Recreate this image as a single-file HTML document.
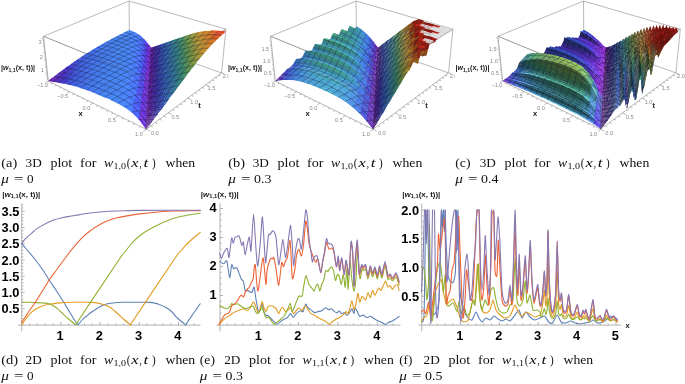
<!DOCTYPE html><html><head><meta charset="utf-8"><style>
html,body{margin:0;padding:0;background:#fff;}
body{width:685px;height:384px;overflow:hidden;position:relative;}
svg{position:absolute;left:0;top:0;will-change:transform}
.m{stroke:#141430;stroke-opacity:.62;stroke-width:.55;fill:none}
.bx{stroke:#9a9a9a;stroke-width:.7;fill:none}
.bf{stroke:#555;stroke-width:.6;fill:none;stroke-opacity:.45}
.tk{font:5.6px "Liberation Sans",sans-serif;fill:#888}
.al{font:bold 7.5px "Liberation Sans",sans-serif;fill:#222}
.zl{font:bold 7.2px "Liberation Sans",sans-serif;fill:#1a1a1a}
.cap{font-family:"Liberation Serif",serif;fill:#111}
.ax{stroke:#a0a0a0;stroke-width:.8;fill:none}
.tl{font:bold 12.8px "Liberation Sans",sans-serif;fill:#000}
.cv{fill:none;stroke-width:1.1;stroke-linejoin:round;stroke-linecap:round}
</style></head><body>
<svg width="685" height="384" viewBox="0 0 685 384">
<defs><clipPath id="ca"><rect x="0" y="0" width="228.5" height="145"/></clipPath>
<clipPath id="cb"><rect x="227" y="0" width="228" height="145"/></clipPath>
<clipPath id="cc"><rect x="454" y="0" width="231" height="145"/></clipPath></defs>
<g clip-path="url(#ca)"><path d="M48.3 81.1L129.4 40.0M129.4 40.0L221.5 72.9M129.4 40.0L129.1 1.0M43.6 36.3L129.1 1.0M129.1 1.0L225.9 29.2M43.6 36.3L146.8 78.6M146.8 78.6L225.9 29.2M146.2 129.3L146.8 78.6" class="bx"/>
<g transform="scale(0.333333)"><path d="M378 95l5 2 10-5-4-2z" fill="#4685f4"/>
<path d="M383 96l5 3 9-5-5-3z" fill="#4785f5"/>
<path d="M387 98l5 3 9-6-5-2z" fill="#4786f7"/>
<path d="M392 100l5 3 8-6-5-2z" fill="#4885fa"/>
<path d="M369 99l6 2 10-5-5-2z" fill="#4684f2"/>
<path d="M396 102l5 3 8-6-5-3z" fill="#4885fc"/>
<path d="M374 101l6 2 9-5-5-3z" fill="#4685f3"/>
<path d="M401 104l5 3 7-6-5-3z" fill="#4984ff"/>
<path d="M379 103l6 2 9-6-5-2z" fill="#4685f4"/>
<path d="M405 106l6 3 6-5-5-3z" fill="#4a82ff"/>
<path d="M361 104l5 2 10-6-5-2z" fill="#4583f0"/>
<path d="M384 104l6 3 8-6-5-2z" fill="#4786f6"/>
<path d="M410 109l5 3 6-5-5-4z" fill="#4a7fff"/>
<path d="M414 111l6 5 5-6-5-4z" fill="#4b7aff"/>
<path d="M366 105l6 3 9-6-5-2z" fill="#4584f1"/>
<path d="M389 106l6 3 8-6-6-2z" fill="#4786f9"/>
<path d="M419 115l5 4 5-5-5-5z" fill="#4b73ff"/>
<path d="M394 108l6 4 7-6-5-3z" fill="#4885fc"/>
<path d="M371 107l6 3 9-6-5-3z" fill="#4685f2"/>
<path d="M423 118l6 5 4-5-5-5z" fill="#4b69ff"/>
<path d="M352 108l6 3 10-6-6-3z" fill="#4582ef"/>
<path d="M428 122l6 6 3-6-5-5z" fill="#4f5af9"/>
<path d="M399 111l6 3 7-6-6-3z" fill="#4984ff"/>
<path d="M433 127l6 6 2-6-5-6z" fill="#5446ef"/>
<path d="M377 109l6 3 8-6-5-3z" fill="#4685f4"/>
<path d="M437 132l6 7 2-7-5-6z" fill="#603ce6"/>
<path d="M442 138l6 7 2-8-6-6z" fill="#6e32de"/>
<path d="M357 110l7 3 9-6-6-3z" fill="#4583f0"/>
<path d="M404 113l6 4 6-6-5-4z" fill="#4a82ff"/>
<path d="M447 144l5 8 2-9-6-7z" fill="#882dd8"/>
<path d="M382 111l7 3 7-6-6-3z" fill="#4785f6"/>
<path d="M409 116l7 4 5-6-6-4z" fill="#4a7eff"/>
<path d="M363 112l7 3 9-6-6-3z" fill="#4584f1"/>
<path d="M342 113l7 3 10-6-6-3z" fill="#4481ee"/>
<path d="M388 113l6 4 7-7-6-3z" fill="#4786f9"/>
<path d="M415 119l6 5 4-6-5-5z" fill="#4b78ff"/>
<path d="M420 123l6 5 4-6-6-5z" fill="#4b6fff"/>
<path d="M369 114l7 3 8-6-6-3z" fill="#4685f2"/>
<path d="M393 116l7 3 6-6-6-4z" fill="#4885fc"/>
<path d="M451 151l18-5 1-9-18 6z" fill="#4c2091"/>
<path d="M349 115l7 3 9-6-6-3z" fill="#4582ef"/>
<path d="M425 127l6 6 4-6-6-6z" fill="#4c62fd"/>
<path d="M430 132l6 7 3-7-6-6z" fill="#524ef3"/>
<path d="M399 118l7 4 5-6-6-4z" fill="#4984ff"/>
<path d="M375 116l7 3 8-6-7-3z" fill="#4685f4"/>
<path d="M435 138l7 7 2-7-6-7z" fill="#5d3fe9"/>
<path d="M333 118l8 3 10-6-7-3z" fill="#447fee"/>
<path d="M355 117l7 3 9-6-6-3z" fill="#4583f0"/>
<path d="M440 144l7 8 2-8-6-7z" fill="#6c34df"/>
<path d="M405 121l6 4 6-6-7-4z" fill="#4a81ff"/>
<path d="M446 151l6 8 1-9-6-7z" fill="#862dd9"/>
<path d="M381 118l7 4 7-7-6-3z" fill="#4785f6"/>
<path d="M410 124l7 5 5-6-7-5z" fill="#4b7cff"/>
<path d="M362 119l7 3 8-6-7-3z" fill="#4584f1"/>
<path d="M340 120l8 3 9-6-7-3z" fill="#4481ee"/>
<path d="M387 121l7 3 7-6-7-4z" fill="#4885f9"/>
<path d="M416 128l7 6 4-7-6-5z" fill="#4b74ff"/>
<path d="M324 123l8 3 10-6-8-3z" fill="#447ded"/>
<path d="M368 121l8 4 7-7-7-3z" fill="#4685f2"/>
<path d="M422 133l7 6 3-7-6-6z" fill="#4b69ff"/>
<path d="M451 159l17-5 1-9-18 5z" fill="#4d2091"/>
<path d="M347 122l8 3 9-6-8-3z" fill="#4582ef"/>
<path d="M393 124l8 3 6-6-7-4z" fill="#4885fd"/>
<path d="M467 146l18-5 1-9-18 6z" fill="#34349d"/>
<path d="M427 138l7 7 3-7-6-7z" fill="#5055f6"/>
<path d="M433 144l7 8 2-8-6-7z" fill="#5941eb"/>
<path d="M375 124l7 3 7-7-7-3z" fill="#4685f4"/>
<path d="M400 126l7 5 5-7-7-4z" fill="#4983ff"/>
<path d="M331 125l8 3 10-6-8-3z" fill="#447fee"/>
<path d="M439 151l7 8 2-8-7-8z" fill="#6a35e1"/>
<path d="M354 124l8 4 8-7-7-3z" fill="#4583f0"/>
<path d="M444 158l8 9 1-9-7-8z" fill="#852dd9"/>
<path d="M406 130l7 5 5-7-7-5z" fill="#4a80ff"/>
<path d="M381 126l8 4 6-7-7-3z" fill="#4786f7"/>
<path d="M314 128l9 3 10-6-8-3z" fill="#447bec"/>
<path d="M338 128l9 3 9-7-8-3z" fill="#4481ee"/>
<path d="M361 127l8 3 8-7-8-3z" fill="#4584f1"/>
<path d="M412 134l8 5 4-6-7-6z" fill="#4b79ff"/>
<path d="M388 129l8 4 6-7-8-4z" fill="#4885fa"/>
<path d="M418 138l8 7 3-7-7-6z" fill="#4b6eff"/>
<path d="M322 131l9 3 9-7-8-3z" fill="#447ded"/>
<path d="M450 167l17-5 1-9-17 5z" fill="#4e1f91"/>
<path d="M368 129l8 4 7-7-7-3z" fill="#4685f3"/>
<path d="M346 130l8 3 9-7-8-3z" fill="#4582ef"/>
<path d="M466 154l18-5 1-9-18 5z" fill="#35329c"/>
<path d="M425 144l7 7 3-7-7-7z" fill="#4e5cfa"/>
<path d="M395 132l7 4 6-7-8-4z" fill="#4984fe"/>
<path d="M305 134l9 3 10-7-9-3z" fill="#4379ec"/>
<path d="M431 150l8 8 2-7-7-8z" fill="#5644ed"/>
<path d="M483 141l19-6 1-9-18 6z" fill="#2f53a6"/>
<path d="M437 157l8 10 2-9-8-8z" fill="#6737e2"/>
<path d="M375 132l8 4 7-7-8-4z" fill="#4685f5"/>
<path d="M330 133l9 3 9-7-8-3z" fill="#447fee"/>
<path d="M401 135l8 5 5-7-7-4z" fill="#4a82ff"/>
<path d="M353 132l9 4 8-7-8-3z" fill="#4583f0"/>
<path d="M443 166l8 9 1-9-7-9z" fill="#832ed9"/>
<path d="M313 136l9 3 10-6-9-4z" fill="#447bec"/>
<path d="M408 139l8 6 4-7-7-5z" fill="#4b7cff"/>
<path d="M382 135l9 4 6-7-8-4z" fill="#4786f8"/>
<path d="M338 135l9 4 8-7-8-3z" fill="#4581ee"/>
<path d="M361 135l9 4 7-7-8-4z" fill="#4584f1"/>
<path d="M295 139l9 4 11-7-9-3z" fill="#4376eb"/>
<path d="M415 144l8 7 4-7-8-7z" fill="#4b72ff"/>
<path d="M450 175l16-5 1-9-17 5z" fill="#4f1f91"/>
<path d="M389 138l9 4 5-7-8-4z" fill="#4885fc"/>
<path d="M465 162l17-5 1-9-17 5z" fill="#362f9b"/>
<path d="M321 139l10 3 9-7-9-3z" fill="#447eed"/>
<path d="M422 150l8 7 3-7-8-7z" fill="#4c63fd"/>
<path d="M369 138l9 4 6-8-8-3z" fill="#4685f3"/>
<path d="M482 149l18-5 1-10-18 6z" fill="#2f50a6"/>
<path d="M346 138l9 4 8-7-9-4z" fill="#4582ef"/>
<path d="M429 156l8 9 2-7-7-9z" fill="#5448f0"/>
<path d="M304 142l9 3 10-7-9-3z" fill="#4379ec"/>
<path d="M397 141l8 5 5-7-8-5z" fill="#4983ff"/>
<path d="M435 164l9 10 2-8-8-10z" fill="#6539e3"/>
<path d="M500 135l19-6 2-9-19 6z" fill="#30699a"/>
<path d="M285 145l10 4 11-8-10-3z" fill="#4372ea"/>
<path d="M442 173l9 11 1-10-8-9z" fill="#822eda"/>
<path d="M330 141l9 4 9-7-9-4z" fill="#4480ee"/>
<path d="M376 141l9 4 6-8-8-3z" fill="#4785f6"/>
<path d="M354 141l9 4 8-8-9-3z" fill="#4583f0"/>
<path d="M404 145l9 6 4-7-8-6z" fill="#4a7fff"/>
<path d="M312 144l10 4 10-7-10-4z" fill="#447ced"/>
<path d="M411 150l9 7 4-7-8-7z" fill="#4b76ff"/>
<path d="M384 144l9 4 6-7-9-4z" fill="#4885fa"/>
<path d="M338 144l10 4 8-8-9-3z" fill="#4581ef"/>
<path d="M294 148l11 3 9-7-9-3z" fill="#4376eb"/>
<path d="M362 144l10 4 6-8-9-3z" fill="#4684f2"/>
<path d="M464 171l16-5 2-10-17 5z" fill="#372d9a"/>
<path d="M450 183l15-4 1-10-16 5z" fill="#501f91"/>
<path d="M275 151l11 4 10-8-10-3z" fill="#426ee7"/>
<path d="M419 156l9 8 3-8-9-7z" fill="#4b68ff"/>
<path d="M480 158l17-6 2-9-17 5z" fill="#2f4da5"/>
<path d="M392 148l9 4 5-7-9-5z" fill="#4984fe"/>
<path d="M321 147l11 4 8-7-9-4z" fill="#447eed"/>
<path d="M426 163l9 9 3-8-9-9z" fill="#524ef3"/>
<path d="M498 144l18-6 2-10-18 7z" fill="#30669c"/>
<path d="M347 147l10 4 7-8-9-3z" fill="#4583f0"/>
<path d="M370 147l10 4 6-7-9-4z" fill="#4685f4"/>
<path d="M434 171l9 11 1-9-8-10z" fill="#633ae5"/>
<path d="M303 150l11 4 9-7-10-4z" fill="#437aec"/>
<path d="M441 180l9 12 1-9-8-11z" fill="#802eda"/>
<path d="M400 152l9 5 4-7-8-6z" fill="#4a81ff"/>
<path d="M517 130l19-7 3-10-20 7z" fill="#337c84"/>
<path d="M285 154l10 3 11-7-11-4z" fill="#4374ea"/>
<path d="M330 150l11 4 8-8-10-3z" fill="#4480ee"/>
<path d="M265 158l11 3 11-8-11-3z" fill="#426ae4"/>
<path d="M379 150l10 5 5-8-9-4z" fill="#4786f8"/>
<path d="M356 150l10 4 6-8-9-3z" fill="#4584f1"/>
<path d="M408 156l9 7 4-7-9-7z" fill="#4b7aff"/>
<path d="M313 153l11 4 8-7-10-4z" fill="#447ced"/>
<path d="M463 179l16-4 1-10-16 5z" fill="#382b99"/>
<path d="M479 166l16-5 2-10-17 6z" fill="#2f4ba5"/>
<path d="M449 192l15-4 1-10-16 4z" fill="#511f90"/>
<path d="M416 162l9 9 3-8-8-8z" fill="#4b6cff"/>
<path d="M387 154l10 5 5-8-9-5z" fill="#4885fc"/>
<path d="M294 156l12 4 9-7-11-4z" fill="#4377ec"/>
<path d="M340 153l10 4 8-7-10-4z" fill="#4582ef"/>
<path d="M496 153l17-6 3-10-19 6z" fill="#2f639f"/>
<path d="M364 153l11 4 6-7-10-4z" fill="#4685f3"/>
<path d="M275 160l11 4 10-8-10-4z" fill="#4270e8"/>
<path d="M424 169l9 10 3-8-9-9z" fill="#5153f5"/>
<path d="M254 164l12 3 11-7-11-4z" fill="#4165e1"/>
<path d="M514 139l19-7 3-10-19 7z" fill="#327989"/>
<path d="M322 156l11 4 9-7-11-4z" fill="#447fee"/>
<path d="M432 178l10 12 1-9-9-11z" fill="#613ce6"/>
<path d="M396 158l10 6 4-8-9-6z" fill="#4a83ff"/>
<path d="M440 188l10 13 1-10-9-11z" fill="#7f2eda"/>
<path d="M349 156l11 4 6-7-10-4z" fill="#4583f0"/>
<path d="M373 157l11 4 5-8-10-4z" fill="#4785f6"/>
<path d="M304 159l12 4 9-7-11-4z" fill="#447bec"/>
<path d="M534 124l20-7 4-10-21 7z" fill="#438a65"/>
<path d="M404 163l10 7 4-8-10-7z" fill="#4b7dff"/>
<path d="M285 163l12 4 9-8-11-4z" fill="#4375eb"/>
<path d="M265 167l12 3 10-8-11-3z" fill="#426ce6"/>
<path d="M332 159l11 5 8-8-11-4z" fill="#4581ee"/>
<path d="M477 175l16-4 2-11-17 5z" fill="#2f48a4"/>
<path d="M244 171l12 3 11-8-12-3z" fill="#4160de"/>
<path d="M462 188l15-4 2-10-16 4z" fill="#3a2a99"/>
<path d="M382 160l11 6 5-8-10-5z" fill="#4885fa"/>
<path d="M493 162l17-5 3-11-18 6z" fill="#2f5fa1"/>
<path d="M358 160l11 4 6-8-10-4z" fill="#4684f2"/>
<path d="M449 200l14-3 1-10-15 4z" fill="#521f90"/>
<path d="M413 169l10 8 3-7-9-9z" fill="#4b70ff"/>
<path d="M314 163l12 4 8-8-11-4z" fill="#447ded"/>
<path d="M511 148l18-6 4-11-19 7z" fill="#31768f"/>
<path d="M422 176l10 11 2-8-9-10z" fill="#4f58f8"/>
<path d="M296 166l12 4 9-8-12-4z" fill="#4379ec"/>
<path d="M391 165l11 6 4-8-10-6z" fill="#4984ff"/>
<path d="M342 163l11 4 7-8-10-4z" fill="#4583ef"/>
<path d="M430 185l10 13 2-9-9-12z" fill="#5e3de8"/>
<path d="M368 163l11 5 5-8-10-5z" fill="#4685f4"/>
<path d="M276 169l12 4 10-8-12-3z" fill="#4272e9"/>
<path d="M531 133l19-6 4-11-20 7z" fill="#39886d"/>
<path d="M233 178l13 3 11-8-12-3z" fill="#405ada"/>
<path d="M255 173l13 4 10-8-12-4z" fill="#4168e3"/>
<path d="M439 196l10 14 1-10-9-12z" fill="#7d2fda"/>
<path d="M325 166l11 4 8-8-11-4z" fill="#4480ee"/>
<path d="M400 170l11 7 4-8-10-7z" fill="#4a7fff"/>
<path d="M475 184l16-4 2-11-16 5z" fill="#3045a3"/>
<path d="M352 166l11 5 7-8-11-5z" fill="#4584f1"/>
<path d="M491 171l16-5 3-10-17 5z" fill="#2f5ca3"/>
<path d="M377 167l11 5 5-8-10-5z" fill="#4785f8"/>
<path d="M552 117l20-6 5-10-21 6z" fill="#6d9344"/>
<path d="M461 197l14-4 2-10-15 4z" fill="#3c2998"/>
<path d="M306 169l12 4 9-7-12-5z" fill="#447ced"/>
<path d="M410 176l11 9 3-8-11-9z" fill="#4b73ff"/>
<path d="M509 157l17-6 3-10-18 6z" fill="#307292"/>
<path d="M448 209l14-3 1-11-15 4z" fill="#531f90"/>
<path d="M287 172l12 5 9-8-12-4z" fill="#4376eb"/>
<path d="M223 185l13 3 11-8-13-3z" fill="#4152d6"/>
<path d="M266 176l13 4 10-8-12-4z" fill="#426ee7"/>
<path d="M335 169l12 5 7-8-11-4z" fill="#4582ef"/>
<path d="M245 180l13 4 10-8-12-4z" fill="#4163e0"/>
<path d="M527 142l19-6 4-10-19 6z" fill="#388474"/>
<path d="M419 183l11 11 2-8-10-10z" fill="#4e5dfa"/>
<path d="M387 172l11 6 5-8-11-6z" fill="#4984fe"/>
<path d="M362 170l12 5 5-8-11-5z" fill="#4685f3"/>
<path d="M317 173l12 4 8-8-12-4z" fill="#447fed"/>
<path d="M429 193l10 13 2-9-10-12z" fill="#5c3fe9"/>
<path d="M548 127l20-6 4-11-20 7z" fill="#61904c"/>
<path d="M438 204l11 15 1-10-10-13z" fill="#7c2fdb"/>
<path d="M298 176l13 4 8-8-12-4z" fill="#447aec"/>
<path d="M397 177l11 7 4-8-11-7z" fill="#4a81ff"/>
<path d="M346 173l12 5 6-8-11-5z" fill="#4583f0"/>
<path d="M212 193l14 3 11-9-13-3z" fill="#4349d0"/>
<path d="M489 180l16-4 2-11-16 5z" fill="#2f59a4"/>
<path d="M474 193l14-4 3-10-16 4z" fill="#3042a2"/>
<path d="M372 174l12 6 5-9-11-5z" fill="#4785f7"/>
<path d="M278 179l13 4 9-8-12-4z" fill="#4374eb"/>
<path d="M235 187l13 4 11-8-13-4z" fill="#405ddd"/>
<path d="M506 166l16-5 4-11-18 6z" fill="#306e95"/>
<path d="M257 183l13 4 10-8-13-4z" fill="#426ae5"/>
<path d="M460 206l14-3 1-11-14 4z" fill="#3d2897"/>
<path d="M328 176l12 5 8-8-12-5z" fill="#4581ee"/>
<path d="M407 183l11 9 3-8-11-9z" fill="#4b76ff"/>
<path d="M570 112l21-6 5-10-21 5z" fill="#9c9339"/>
<path d="M524 152l18-6 4-11-19 6z" fill="#36807b"/>
<path d="M448 218l12-3 1-10-13 3z" fill="#541f90"/>
<path d="M356 177l12 5 6-8-11-5z" fill="#4685f2"/>
<path d="M382 179l12 6 5-8-11-6z" fill="#4885fc"/>
<path d="M309 179l13 5 8-8-12-5z" fill="#447ded"/>
<path d="M417 191l11 11 3-9-11-10z" fill="#4c62fd"/>
<path d="M201 201l14 3 11-10-13-2z" fill="#453fca"/>
<path d="M544 137l19-6 4-11-19 6z" fill="#558e55"/>
<path d="M289 183l14 4 8-8-12-4z" fill="#4378ec"/>
<path d="M224 195l14 3 11-8-13-4z" fill="#4058d9"/>
<path d="M269 186l13 4 10-8-13-4z" fill="#4271e9"/>
<path d="M427 201l11 13 2-9-11-13z" fill="#5a40ea"/>
<path d="M339 180l13 5 6-8-12-5z" fill="#4583f0"/>
<path d="M247 190l14 4 10-8-13-4z" fill="#4166e2"/>
<path d="M487 190l14-5 3-10-15 4z" fill="#2f55a6"/>
<path d="M393 184l12 7 4-8-12-7z" fill="#4a82ff"/>
<path d="M437 213l11 15 1-10-10-14z" fill="#7a2fdb"/>
<path d="M503 176l16-5 3-11-16 5z" fill="#306a99"/>
<path d="M367 181l12 6 6-9-12-5z" fill="#4785f5"/>
<path d="M472 203l14-4 2-11-14 4z" fill="#313ea1"/>
<path d="M566 121l20-5 5-10-21 5z" fill="#8d923c"/>
<path d="M321 183l13 5 7-8-12-5z" fill="#4480ee"/>
<path d="M520 161l17-5 5-11-18 6z" fill="#347d82"/>
<path d="M459 215l13-3 1-11-13 4z" fill="#3f2796"/>
<path d="M190 209l14 3 12-10-14-3z" fill="#4937c5"/>
<path d="M403 190l12 9 4-8-12-9z" fill="#4b79ff"/>
<path d="M301 186l14 5 8-8-13-5z" fill="#447ced"/>
<path d="M350 184l13 6 6-9-12-5z" fill="#4584f1"/>
<path d="M540 146l18-5 5-11-19 6z" fill="#4a8b5f"/>
<path d="M447 228l12-3 1-11-13 3z" fill="#551e90"/>
<path d="M214 203l14 3 11-9-14-3z" fill="#4150d4"/>
<path d="M589 107l21-4 6-10-22 3z" fill="#c49031"/>
<path d="M378 186l12 6 5-8-12-6z" fill="#4885fa"/>
<path d="M281 190l14 4 8-8-13-5z" fill="#4376eb"/>
<path d="M237 198l14 3 10-8-13-4z" fill="#4162df"/>
<path d="M259 193l15 5 9-9-14-4z" fill="#426ee7"/>
<path d="M414 198l12 12 3-9-12-11z" fill="#4b66ff"/>
<path d="M332 187l14 6 6-9-12-5z" fill="#4582ef"/>
<path d="M561 131l19-5 6-11-20 5z" fill="#7e9240"/>
<path d="M500 186l15-5 4-11-16 5z" fill="#30669c"/>
<path d="M484 199l14-3 3-12-15 4z" fill="#2f52a6"/>
<path d="M179 217l15 3 11-10-14-2z" fill="#4f33c0"/>
<path d="M425 209l12 14 2-9-12-14z" fill="#5842ec"/>
<path d="M362 189l13 5 5-8-12-6z" fill="#4685f4"/>
<path d="M389 191l13 8 3-9-12-7z" fill="#4983ff"/>
<path d="M517 171l16-4 4-12-17 5z" fill="#327989"/>
<path d="M313 190l14 5 7-8-13-5z" fill="#447fee"/>
<path d="M470 212l13-3 3-11-14 3z" fill="#323a9f"/>
<path d="M436 221l12 17 1-11-12-15z" fill="#792fdb"/>
<path d="M203 211l15 3 11-9-14-4z" fill="#4347cf"/>
<path d="M584 116l20-4 6-10-21 4z" fill="#bb9433"/>
<path d="M293 193l14 5 8-8-13-5z" fill="#447aec"/>
<path d="M536 157l17-6 5-11-18 5z" fill="#3e8968"/>
<path d="M458 225l12-3 2-11-13 3z" fill="#412696"/>
<path d="M227 205l15 4 10-9-14-4z" fill="#405ddc"/>
<path d="M272 197l15 5 8-9-13-5z" fill="#4374eb"/>
<path d="M344 192l14 5 6-9-13-5z" fill="#4584f1"/>
<path d="M250 201l15 4 9-9-14-4z" fill="#426ae4"/>
<path d="M400 198l13 9 3-8-12-10z" fill="#4b7bff"/>
<path d="M373 194l13 6 5-9-13-6z" fill="#4785f9"/>
<path d="M167 226l16 2 11-9-15-3z" fill="#552ebc"/>
<path d="M556 141l19-5 5-11-19 5z" fill="#6f9243"/>
<path d="M447 237l11-2 1-12-12 3z" fill="#561e90"/>
<path d="M608 103l22-2 7-9-23 1z" fill="#d07f2a"/>
<path d="M326 195l14 5 6-9-13-5z" fill="#4581ef"/>
<path d="M411 206l13 12 3-9-12-11z" fill="#4b69ff"/>
<path d="M497 196l14-4 4-12-15 4z" fill="#2f62a0"/>
<path d="M192 219l16 3 11-9-15-3z" fill="#463eca"/>
<path d="M513 182l16-5 4-12-16 5z" fill="#31758f"/>
<path d="M482 209l13-3 3-12-14 4z" fill="#2f4ea5"/>
<path d="M306 198l14 5 8-9-14-5z" fill="#447eed"/>
<path d="M578 126l20-4 6-11-20 4z" fill="#a99337"/>
<path d="M356 196l14 6 5-9-13-5z" fill="#4685f3"/>
<path d="M531 167l17-5 5-12-17 5z" fill="#388571"/>
<path d="M468 222l13-3 2-11-13 3z" fill="#34369e"/>
<path d="M385 199l13 8 4-9-13-8z" fill="#4984ff"/>
<path d="M217 213l15 4 10-9-14-4z" fill="#4057d9"/>
<path d="M285 201l15 5 8-9-14-5z" fill="#4379ec"/>
<path d="M423 217l13 15 1-10-12-14z" fill="#5643ed"/>
<path d="M240 208l16 5 9-9-14-5z" fill="#4166e2"/>
<path d="M263 204l15 5 9-9-14-4z" fill="#4271e9"/>
<path d="M156 235l15 2 12-10-15-2z" fill="#5c29b7"/>
<path d="M434 230l13 17 1-10-12-16z" fill="#782fdb"/>
<path d="M551 152l18-5 5-12-18 5z" fill="#61904c"/>
<path d="M338 199l14 6 6-9-13-5z" fill="#4583f0"/>
<path d="M456 235l12-3 2-11-12 3z" fill="#422595"/>
<path d="M602 112l21-2 7-10-22 2z" fill="#cb852d"/>
<path d="M397 206l13 9 3-9-12-9z" fill="#4b7dff"/>
<path d="M181 228l16 3 11-10-15-3z" fill="#4937c5"/>
<path d="M368 201l14 7 5-9-13-6z" fill="#4785f7"/>
<path d="M319 202l14 6 7-9-14-5z" fill="#4480ee"/>
<path d="M573 136l18-4 7-11-20 4z" fill="#98933a"/>
<path d="M509 192l15-4 5-12-16 4z" fill="#307093"/>
<path d="M494 206l13-4 4-12-14 4z" fill="#2f5ea3"/>
<path d="M446 247l11-2 1-12-12 3z" fill="#571e90"/>
<path d="M628 101l22-1 7-8-22-1z" fill="#dd6126"/>
<path d="M206 221l16 4 11-9-16-4z" fill="#4150d4"/>
<path d="M298 205l15 6 8-9-14-5z" fill="#447ced"/>
<path d="M144 243l16 3 12-10-16-3z" fill="#6826b4"/>
<path d="M527 177l16-4 5-12-17 5z" fill="#368179"/>
<path d="M479 219l13-3 3-12-13 4z" fill="#2f4aa4"/>
<path d="M277 208l15 6 8-9-14-5z" fill="#4377eb"/>
<path d="M409 214l13 13 3-10-13-12z" fill="#4b6cff"/>
<path d="M231 216l15 5 10-9-15-5z" fill="#4162df"/>
<path d="M351 204l14 6 5-9-13-6z" fill="#4685f2"/>
<path d="M254 212l16 5 9-9-15-5z" fill="#426ee7"/>
<path d="M596 122l20-3 7-10-21 2z" fill="#c68d2f"/>
<path d="M546 162l17-4 6-12-18 4z" fill="#548d57"/>
<path d="M467 232l11-2 3-12-13 3z" fill="#35329c"/>
<path d="M381 207l14 8 4-9-14-8z" fill="#4984fe"/>
<path d="M170 236l17 3 11-10-16-3z" fill="#4f33c0"/>
<path d="M421 225l13 16 2-10-13-15z" fill="#5545ee"/>
<path d="M332 207l15 6 6-9-14-6z" fill="#4583ef"/>
<path d="M567 147l18-5 6-11-18 4z" fill="#87923e"/>
<path d="M621 109l21 0 8-9-22 0z" fill="#d77128"/>
<path d="M455 245l11-2 2-12-12 2z" fill="#442494"/>
<path d="M433 239l14 18 1-10-13-17z" fill="#7630dc"/>
<path d="M312 210l15 6 7-9-15-6z" fill="#447fee"/>
<path d="M196 230l16 4 11-10-16-4z" fill="#4348cf"/>
<path d="M363 209l15 7 5-9-14-7z" fill="#4785f6"/>
<path d="M506 202l14-3 4-12-15 4z" fill="#306b97"/>
<path d="M393 214l14 10 4-10-14-9z" fill="#4a7fff"/>
<path d="M490 216l13-3 4-12-13 3z" fill="#2f59a4"/>
<path d="M523 188l14-4 6-12-16 4z" fill="#347d82"/>
<path d="M290 213l16 6 8-9-15-6z" fill="#447bec"/>
<path d="M221 224l16 5 10-10-16-4z" fill="#405ddd"/>
<path d="M590 132l19-3 7-11-20 3z" fill="#c19432"/>
<path d="M648 100l22 2 8-8-23-2z" fill="#e74a23"/>
<path d="M268 216l16 6 9-9-16-6z" fill="#4375eb"/>
<path d="M245 220l16 5 9-9-15-5z" fill="#426be5"/>
<path d="M541 173l16-4 6-13-17 5z" fill="#468b62"/>
<path d="M477 230l12-3 3-12-13 3z" fill="#3046a3"/>
<path d="M445 257l10-2 2-12-11 3z" fill="#581e90"/>
<path d="M159 245l17 3 11-10-16-3z" fill="#552ebc"/>
<path d="M345 212l15 6 6-9-15-6z" fill="#4684f1"/>
<path d="M406 223l14 12 3-9-14-12z" fill="#4b6eff"/>
<path d="M561 158l17-5 7-12-18 5z" fill="#769241"/>
<path d="M614 119l20-2 8-9-21 0z" fill="#d27d2a"/>
<path d="M465 243l11-3 2-12-11 3z" fill="#362d9a"/>
<path d="M376 215l15 8 4-9-14-8z" fill="#4885fc"/>
<path d="M325 215l16 6 6-9-15-6z" fill="#4582ef"/>
<path d="M185 239l17 3 11-10-17-3z" fill="#453fca"/>
<path d="M419 234l14 16 2-10-14-15z" fill="#5448f0"/>
<path d="M583 142l18-3 8-11-19 3z" fill="#ae9436"/>
<path d="M304 218l16 6 7-9-15-6z" fill="#447eed"/>
<path d="M640 108l21 1 9-8-22-2z" fill="#e35124"/>
<path d="M502 213l13-3 5-13-14 4z" fill="#30669b"/>
<path d="M518 199l14-4 5-12-14 4z" fill="#32788a"/>
<path d="M211 233l16 4 11-9-17-5z" fill="#4059da"/>
<path d="M454 255l10-2 2-12-11 2z" fill="#462394"/>
<path d="M487 227l12-3 4-12-12 3z" fill="#2f55a6"/>
<path d="M536 184l15-4 6-13-16 5z" fill="#39886d"/>
<path d="M283 221l16 6 8-9-16-6z" fill="#437aec"/>
<path d="M358 218l16 7 5-10-15-7z" fill="#4685f5"/>
<path d="M236 228l16 5 10-9-16-5z" fill="#4167e3"/>
<path d="M432 249l14 19 1-11-13-18z" fill="#7530dc"/>
<path d="M260 224l16 6 9-10-16-5z" fill="#4372ea"/>
<path d="M390 222l15 10 3-9-14-10z" fill="#4a80ff"/>
<path d="M607 129l19-3 8-10-20 2z" fill="#cc842c"/>
<path d="M555 169l17-5 6-12-17 4z" fill="#669148"/>
<path d="M474 240l11-2 4-13-12 3z" fill="#3042a2"/>
<path d="M339 220l16 7 6-10-15-6z" fill="#4584f1"/>
<path d="M174 248l18 3 11-10-17-4z" fill="#4838c5"/>
<path d="M445 268l9-2 1-12-10 2z" fill="#591e8f"/>
<path d="M577 153l17-3 7-12-18 3z" fill="#9b9339"/>
<path d="M632 117l21 0 9-9-22-1z" fill="#dd6026"/>
<path d="M463 253l10-2 3-12-11 2z" fill="#392b99"/>
<path d="M403 231l15 13 3-9-15-13z" fill="#4b71ff"/>
<path d="M319 223l16 7 6-10-15-6z" fill="#4581ef"/>
<path d="M372 224l16 8 4-10-15-8z" fill="#4885fb"/>
<path d="M201 241l17 5 10-10-17-4z" fill="#4152d6"/>
<path d="M513 210l14-3 5-13-14 3z" fill="#307391"/>
<path d="M498 224l12-3 5-13-13 4z" fill="#2f62a0"/>
<path d="M530 195l15-4 6-12-15 4z" fill="#378376"/>
<path d="M297 226l17 6 7-9-16-6z" fill="#447ded"/>
<path d="M600 139l18-3 8-11-19 2z" fill="#c68c2f"/>
<path d="M226 236l17 5 10-9-17-5z" fill="#4164e0"/>
<path d="M274 229l17 6 8-9-16-6z" fill="#4378ec"/>
<path d="M549 180l16-4 7-13-17 4z" fill="#568e55"/>
<path d="M484 238l11-3 4-12-12 2z" fill="#2f50a6"/>
<path d="M251 232l17 6 9-9-17-6z" fill="#4270e8"/>
<path d="M417 243l15 17 2-10-15-17z" fill="#534cf2"/>
<path d="M453 266l9-2 2-12-10 2z" fill="#472293"/>
<path d="M353 226l16 7 5-9-15-7z" fill="#4685f4"/>
<path d="M570 164l16-3 8-13-17 4z" fill="#88923d"/>
<path d="M624 126l20 0 9-10-20 0z" fill="#d77228"/>
<path d="M472 251l10-2 3-13-11 3z" fill="#313ca0"/>
<path d="M430 258l15 20 1-11-14-19z" fill="#7330dc"/>
<path d="M386 231l16 10 3-10-15-9z" fill="#4a81ff"/>
<path d="M333 229l17 7 5-10-15-7z" fill="#4583f0"/>
<path d="M190 250l18 5 10-10-17-5z" fill="#434bd1"/>
<path d="M592 149l18-2 8-12-18 3z" fill="#c19532"/>
<path d="M509 221l12-3 6-13-14 3z" fill="#306e95"/>
<path d="M525 206l13-3 7-13-14 4z" fill="#347e80"/>
<path d="M312 231l17 7 6-10-16-6z" fill="#4480ee"/>
<path d="M444 278l9-1 1-13-9 2z" fill="#5a1e8f"/>
<path d="M461 264l9-2 3-13-10 3z" fill="#3c2998"/>
<path d="M494 235l11-2 5-13-12 2z" fill="#2f5da3"/>
<path d="M543 191l15-3 7-13-16 3z" fill="#478b61"/>
<path d="M216 245l18 5 10-10-17-5z" fill="#4160de"/>
<path d="M368 233l16 8 4-10-15-8z" fill="#4885fa"/>
<path d="M290 234l17 7 7-10-16-6z" fill="#447ced"/>
<path d="M400 240l16 13 3-10-15-13z" fill="#4b73ff"/>
<path d="M242 241l17 6 9-10-17-6z" fill="#426de6"/>
<path d="M266 237l18 7 8-10-17-6z" fill="#4376eb"/>
<path d="M616 136l19-1 9-10-19 0z" fill="#d17e2a"/>
<path d="M563 176l16-4 8-13-17 4z" fill="#759242"/>
<path d="M481 249l10-2 4-13-11 2z" fill="#2f4ba5"/>
<path d="M348 235l17 7 5-10-16-7z" fill="#4685f3"/>
<path d="M585 161l17-3 8-13-18 3z" fill="#ab9336"/>
<path d="M452 277l8-2 2-13-9 2z" fill="#492192"/>
<path d="M414 252l16 18 2-11-15-17z" fill="#524ff3"/>
<path d="M469 262l9-2 4-13-10 2z" fill="#33379e"/>
<path d="M520 218l12-3 7-13-14 3z" fill="#327989"/>
<path d="M504 233l11-3 6-13-12 3z" fill="#30689a"/>
<path d="M537 203l14-3 7-14-15 4z" fill="#39886d"/>
<path d="M382 240l17 10 3-10-15-10z" fill="#4a82ff"/>
<path d="M327 237l17 7 6-9-16-7z" fill="#4583f0"/>
<path d="M429 268l16 21 1-11-15-20z" fill="#7230dd"/>
<path d="M608 146l18-1 9-11-18 1z" fill="#ca862d"/>
<path d="M556 188l15-4 8-13-16 3z" fill="#63914a"/>
<path d="M206 254l19 5 10-10-18-5z" fill="#405bdb"/>
<path d="M490 247l10-3 5-13-11 3z" fill="#2f57a5"/>
<path d="M305 240l18 7 6-10-16-7z" fill="#4480ee"/>
<path d="M233 249l18 6 9-10-18-5z" fill="#426ae4"/>
<path d="M459 275l8-1 3-13-9 1z" fill="#3e2897"/>
<path d="M282 243l18 7 7-10-17-7z" fill="#447bec"/>
<path d="M258 246l18 6 8-10-17-6z" fill="#4374eb"/>
<path d="M577 172l16-3 9-13-17 3z" fill="#96933a"/>
<path d="M444 289l7-1 2-13-9 2z" fill="#5b1e8f"/>
<path d="M363 241l17 9 4-10-16-8z" fill="#4785f8"/>
<path d="M477 260l10-2 4-13-10 2z" fill="#3046a3"/>
<path d="M397 249l17 14 2-10-15-14z" fill="#4b75ff"/>
<path d="M600 157l17-2 9-12-17 2z" fill="#c58f30"/>
<path d="M514 230l12-3 6-14-12 3z" fill="#307391"/>
<path d="M531 215l12-3 8-14-14 3z" fill="#368278"/>
<path d="M343 244l17 7 5-10-16-7z" fill="#4685f2"/>
<path d="M549 199l14-3 8-13-15 3z" fill="#528d58"/>
<path d="M499 244l10-2 7-14-12 3z" fill="#2f629f"/>
<path d="M466 273l9-1 4-13-10 1z" fill="#35319c"/>
<path d="M450 288l8-1 2-14-8 2z" fill="#4a2091"/>
<path d="M412 262l17 18 2-11-16-17z" fill="#5152f5"/>
<path d="M569 184l15-3 9-13-16 3z" fill="#81923f"/>
<path d="M321 246l18 8 6-11-17-7z" fill="#4582ef"/>
<path d="M485 258l10-2 5-13-10 2z" fill="#2f52a6"/>
<path d="M378 249l18 11 3-11-16-10z" fill="#4983ff"/>
<path d="M223 258l19 6 9-10-18-6z" fill="#4167e2"/>
<path d="M298 249l18 7 7-10-17-7z" fill="#447fee"/>
<path d="M427 278l17 23 1-12-16-21z" fill="#7131dd"/>
<path d="M274 251l19 8 7-11-17-6z" fill="#437aec"/>
<path d="M249 255l19 6 8-10-18-6z" fill="#4372ea"/>
<path d="M592 169l16-3 9-12-17 2z" fill="#b89434"/>
<path d="M457 286l7-1 3-13-8 1z" fill="#412695"/>
<path d="M474 272l8-2 5-13-10 1z" fill="#3041a2"/>
<path d="M524 227l12-3 8-14-13 3z" fill="#347c83"/>
<path d="M508 242l11-2 7-14-12 2z" fill="#306c97"/>
<path d="M542 212l13-3 8-14-13 3z" fill="#418a66"/>
<path d="M358 251l18 8 5-10-17-8z" fill="#4785f7"/>
<path d="M443 300l7-1 1-13-7 1z" fill="#5c1d8f"/>
<path d="M562 196l14-3 9-14-15 3z" fill="#6c9244"/>
<path d="M494 256l10-2 6-14-11 3z" fill="#2f5ca3"/>
<path d="M394 259l17 14 3-11-16-14z" fill="#4b77ff"/>
<path d="M337 253l18 8 6-11-18-7z" fill="#4684f2"/>
<path d="M463 285l8-1 4-14-9 2z" fill="#382c99"/>
<path d="M583 180l15-2 10-13-16 2z" fill="#a09338"/>
<path d="M481 270l9-2 5-13-9 1z" fill="#2f4ca5"/>
<path d="M449 299l7-1 2-13-8 1z" fill="#4d2091"/>
<path d="M315 255l18 8 6-10-17-8z" fill="#4582ef"/>
<path d="M518 239l11-2 7-14-11 2z" fill="#31768e"/>
<path d="M535 224l12-3 8-14-13 3z" fill="#388473"/>
<path d="M410 271l17 19 2-11-16-18z" fill="#5054f6"/>
<path d="M291 258l19 7 7-10-18-7z" fill="#447eed"/>
<path d="M240 264l20 6 8-10-18-7z" fill="#4270e8"/>
<path d="M266 260l19 8 8-11-18-7z" fill="#4378ec"/>
<path d="M375 259l18 10 3-10-17-11z" fill="#4984ff"/>
<path d="M554 208l13-2 9-14-14 2z" fill="#598e52"/>
<path d="M502 254l10-2 7-14-10 2z" fill="#30669c"/>
<path d="M470 284l8-2 5-14-9 2z" fill="#32399f"/>
<path d="M574 193l14-3 10-14-15 3z" fill="#89923d"/>
<path d="M455 298l6-1 4-14-8 2z" fill="#442494"/>
<path d="M426 289l17 23 2-12-17-22z" fill="#7031dd"/>
<path d="M489 268l9-1 6-15-10 2z" fill="#2f56a5"/>
<path d="M354 260l18 9 5-10-18-9z" fill="#4785f6"/>
<path d="M443 312l5-1 2-14-7 2z" fill="#5d1d8f"/>
<path d="M527 237l11-3 9-14-12 2z" fill="#357e7f"/>
<path d="M477 282l8-1 5-14-8 1z" fill="#3045a3"/>
<path d="M391 268l18 15 3-11-17-14z" fill="#4b79ff"/>
<path d="M511 252l10-2 8-15-11 3z" fill="#306f94"/>
<path d="M545 221l12-2 10-15-13 3z" fill="#468b62"/>
<path d="M460 297l7-1 4-14-7 1z" fill="#3c2998"/>
<path d="M332 262l18 9 6-11-18-8z" fill="#4584f1"/>
<path d="M565 205l13-2 11-14-14 2z" fill="#729242"/>
<path d="M497 266l8-1 8-15-10 2z" fill="#2f5fa2"/>
<path d="M308 265l19 8 7-11-19-8z" fill="#4581ef"/>
<path d="M447 311l6-1 3-14-7 1z" fill="#501f91"/>
<path d="M284 267l19 8 7-11-18-7z" fill="#447ded"/>
<path d="M258 270l20 7 8-10-19-8z" fill="#4377eb"/>
<path d="M466 296l7-1 5-15-8 2z" fill="#35329c"/>
<path d="M484 281l7-2 7-14-9 1z" fill="#2f4fa6"/>
<path d="M408 281l18 20 2-11-18-19z" fill="#4f57f8"/>
<path d="M370 268l19 11 4-11-18-10z" fill="#4984fe"/>
<path d="M520 250l10-2 9-15-11 2z" fill="#31788b"/>
<path d="M537 234l11-2 10-15-12 2z" fill="#388670"/>
<path d="M452 310l6-1 4-14-7 1z" fill="#472293"/>
<path d="M556 218l12-2 11-15-13 3z" fill="#5d8f4f"/>
<path d="M504 264l9-1 9-15-10 2z" fill="#30679b"/>
<path d="M424 300l19 24 1-12-18-24z" fill="#6f32de"/>
<path d="M349 270l19 9 5-11-19-9z" fill="#4785f5"/>
<path d="M472 294l7-1 6-14-8 1z" fill="#313ea1"/>
<path d="M491 279l7-1 8-15-9 2z" fill="#2f58a5"/>
<path d="M458 309l5-1 5-14-7 1z" fill="#3f2796"/>
<path d="M326 272l19 9 6-11-19-9z" fill="#4584f1"/>
<path d="M442 324l5-1 1-14-5 1z" fill="#5e1d8f"/>
<path d="M388 278l19 15 3-11-19-14z" fill="#4b7aff"/>
<path d="M529 247l10-2 10-15-11 2z" fill="#357f7e"/>
<path d="M302 274l20 8 6-10-19-8z" fill="#4481ee"/>
<path d="M512 263l9-2 9-15-9 2z" fill="#307094"/>
<path d="M547 231l11-2 11-15-12 3z" fill="#488b60"/>
<path d="M276 276l20 9 8-11-20-8z" fill="#447ced"/>
<path d="M478 293l7-1 7-15-8 2z" fill="#2f48a4"/>
<path d="M463 308l5-1 6-14-7 1z" fill="#382b99"/>
<path d="M446 323l5-1 3-14-6 1z" fill="#531f90"/>
<path d="M498 277l7-1 9-15-9 2z" fill="#2f60a1"/>
<path d="M366 278l20 12 4-11-19-12z" fill="#4884fd"/>
<path d="M405 292l19 20 2-11-18-20z" fill="#4f5af9"/>
<path d="M450 322l5 0 4-15-6 1z" fill="#492192"/>
<path d="M484 292l7-1 8-15-8 1z" fill="#2f50a6"/>
<path d="M468 307l6-1 6-14-7 1z" fill="#34359d"/>
<path d="M520 261l9-2 11-16-10 2z" fill="#31788b"/>
<path d="M538 245l10-2 11-15-11 2z" fill="#388670"/>
<path d="M344 280l20 10 4-12-19-9z" fill="#4685f5"/>
<path d="M505 276l7-2 10-15-9 2z" fill="#30679b"/>
<path d="M423 311l19 25 1-12-18-25z" fill="#6f32de"/>
<path d="M455 322l4-1 5-15-6 1z" fill="#432495"/>
<path d="M320 282l20 9 6-11-20-9z" fill="#4583f0"/>
<path d="M473 306l6-1 7-15-7 1z" fill="#3040a2"/>
<path d="M491 291l6-2 9-15-8 2z" fill="#2f58a5"/>
<path d="M295 284l20 9 7-11-20-9z" fill="#4480ee"/>
<path d="M441 336l4 0 2-15-5 1z" fill="#5f1d8f"/>
<path d="M384 289l20 15 3-12-19-14z" fill="#4b7cff"/>
<path d="M459 321l5-1 5-15-6 1z" fill="#3d2897"/>
<path d="M529 258l8-1 12-16-10 2z" fill="#357e7f"/>
<path d="M512 274l8-1 10-16-9 2z" fill="#306f94"/>
<path d="M478 305l6-1 8-15-7 1z" fill="#2f48a4"/>
<path d="M445 336l4-1 2-15-5 1z" fill="#561e90"/>
<path d="M497 289l7-1 9-15-8 1z" fill="#2f5fa2"/>
<path d="M463 320l5-1 6-15-6 1z" fill="#372c9a"/>
<path d="M362 289l21 11 3-11-19-12z" fill="#4885fc"/>
<path d="M448 335l4-1 4-14-5 0z" fill="#4d2091"/>
<path d="M403 302l20 22 2-12-19-21z" fill="#4e5dfa"/>
<path d="M483 304l6-1 9-15-7 1z" fill="#2f4fa6"/>
<path d="M519 272l8-1 11-16-9 2z" fill="#31768e"/>
<path d="M467 319l5-1 8-15-6 1z" fill="#34359d"/>
<path d="M339 290l20 10 5-11-20-10z" fill="#4685f4"/>
<path d="M503 288l7-1 11-16-8 1z" fill="#30669c"/>
<path d="M451 334l4 0 5-15-5 1z" fill="#472293"/>
<path d="M314 292l21 9 6-11-21-9z" fill="#4583f0"/>
<path d="M421 322l20 27 1-13-19-26z" fill="#6e33df"/>
<path d="M489 303l6-1 10-16-7 1z" fill="#2f56a5"/>
<path d="M472 318l5 0 8-16-6 1z" fill="#313ea1"/>
<path d="M455 334l4-1 5-15-5 1z" fill="#422595"/>
<path d="M509 286l7-1 12-16-8 2z" fill="#306c97"/>
<path d="M441 349l3-1 1-14-4 0z" fill="#601d8e"/>
<path d="M381 299l21 16 3-12-20-15z" fill="#4a7dff"/>
<path d="M458 333l4 0 7-16-5 1z" fill="#3d2897"/>
<path d="M476 317l5 0 9-16-6 1z" fill="#3045a3"/>
<path d="M494 302l6-1 11-16-7 1z" fill="#2f5ca3"/>
<path d="M443 348l3 0 3-15-4 1z" fill="#591e8f"/>
<path d="M462 332l4 0 7-15-5 0z" fill="#382b99"/>
<path d="M358 299l21 12 4-12-20-11z" fill="#4885fb"/>
<path d="M446 348l3 0 3-16-4 1z" fill="#521f90"/>
<path d="M481 316l5 0 10-16-6 1z" fill="#2f4ca5"/>
<path d="M500 300l5-1 12-16-7 2z" fill="#2f629f"/>
<path d="M400 314l21 21 2-12-20-21z" fill="#4d5ffc"/>
<path d="M448 347l3 0 5-15-4 0z" fill="#4b2091"/>
<path d="M465 332l4-1 9-15-5 0z" fill="#35329c"/>
<path d="M333 301l22 10 5-12-21-10z" fill="#4685f3"/>
<path d="M485 316l5-1 11-16-6 1z" fill="#2f52a6"/>
<path d="M451 347l3 0 5-16-4 1z" fill="#472293"/>
<path d="M469 331l4 0 9-16-5 1z" fill="#32399f"/>
<path d="M420 334l21 28 1-14-20-26z" fill="#6d33df"/>
<path d="M453 347l3-1 7-15-4 0z" fill="#432495"/>
<path d="M490 315l5-1 12-16-6 1z" fill="#2f57a5"/>
<path d="M472 330l4 0 11-16-5 1z" fill="#3041a2"/>
<path d="M377 310l22 16 3-12-21-15z" fill="#4a7eff"/>
<path d="M440 362l2-1 2-15-3 1z" fill="#611d8e"/>
<path d="M456 346l3 0 8-16-4 1z" fill="#3f2796"/>
<path d="M442 361l2 0 2-15-3 0z" fill="#5c1d8f"/>
<path d="M476 330l4-1 11-16-5 1z" fill="#3046a3"/>
<path d="M459 346l3-1 8-16-4 1z" fill="#3c2998"/>
<path d="M443 361l2 0 4-15-3 0z" fill="#571e90"/>
<path d="M353 310l22 13 4-13-21-12z" fill="#4885fa"/>
<path d="M461 345l3 0 10-16-4 0z" fill="#382c99"/>
<path d="M445 361l2 0 5-16-3 0z" fill="#521f90"/>
<path d="M480 329l4 0 12-17-5 1z" fill="#2f4ba5"/>
<path d="M447 361l2-1 5-15-3 0z" fill="#4d2091"/>
<path d="M397 325l22 22 2-12-20-22z" fill="#4c62fd"/>
<path d="M464 345l3-1 10-16-4 1z" fill="#35319c"/>
<path d="M448 360l2 0 7-16-3 1z" fill="#492192"/>
<path d="M467 344l3 0 11-16-4 0z" fill="#33379e"/>
<path d="M450 360l2 0 8-16-3 0z" fill="#472293"/>
<path d="M418 346l22 29 1-14-21-28z" fill="#6d34df"/>
<path d="M452 360l2 0 9-17-3 1z" fill="#442494"/>
<path d="M469 344l3-1 13-16-4 0z" fill="#313ca0"/>
<path d="M374 322l22 16 3-13-21-15z" fill="#4a7fff"/>
<path d="M454 359l2 0 9-16-3 0z" fill="#412695"/>
<path d="M439 375l1 0 2-16-2 1z" fill="#621d8e"/>
<path d="M440 375l1 0 3-16-2 0z" fill="#5f1d8f"/>
<path d="M456 359l1 0 11-16-3 0z" fill="#3e2897"/>
<path d="M441 375l1 0 4-16-2 0z" fill="#5c1d8f"/>
<path d="M457 359l2 0 12-17-3 0z" fill="#3c2998"/>
<path d="M442 375l1 0 5-16-2 0z" fill="#591e8f"/>
<path d="M443 375l1-1 5-16-2 1z" fill="#561e90"/>
<path d="M459 359l2-1 13-16-3 0z" fill="#392b99"/>
<path d="M443 374l1 0 7-16-2 0z" fill="#531f90"/>
<path d="M444 374l1 0 8-16-2 0z" fill="#501f91"/>
<path d="M395 337l23 23 2-13-22-23z" fill="#4c64fe"/>
<path d="M445 374l1 0 9-16-2 0z" fill="#4d2091"/>
<path d="M446 374l1 0 10-17-2 1z" fill="#4a2091"/>
<path d="M447 374l1 0 11-17-2 0z" fill="#492192"/>
<path d="M448 374l1 0 11-17-2 0z" fill="#472293"/>
<path d="M449 373l1 0 12-16-2 0z" fill="#462394"/>
<path d="M416 358l23 31 1-14-22-29z" fill="#6c34e0"/>
<path d="M438 389l0 0 2-16-1 0z" fill="#631c8e"/>
<path d="M438 389l0 0 3-16-1 0z" fill="#621d8e"/>
<path d="M438 389l0 0 4-16-1 0z" fill="#611d8e"/>
<path d="M438 389l0 0 5-16-1 0z" fill="#601d8e"/>
<path d="M438 389l0 0 6-17-1 1z" fill="#5f1d8f"/>
<path d="M438 389l0 0 7-17-1 0z" fill="#5e1d8f"/>
<path d="M438 389l0 0 8-17-1 0z" fill="#5d1d8f"/>
<path d="M438 389l0 0 9-17-1 0z" fill="#5c1d8f"/>
<path d="M438 389l0 0 10-17-1 0z" fill="#5b1e8f"/>
<path d="M438 389l0 0 11-17-1 0z" fill="#5a1e8f"/>
<path d="M438 389l0 0 12-17-1 0z" fill="#591e8f"/>
<path d="M438 389l0 0 13-17-1 0z" fill="#581e90"/></g>
<path class="m" d="M53.3 81.7l1.6-1.2 1.6-1.2 1.5-1.2 1.6-1.2 1.5-1.1 1.6-1.2 1.5-1.1 1.6-1.1 1.5-1.1 1.5-1.1 1.5-1.1 1.5-1 1.5-1.1 1.5-1 1.4-1 1.5-1 1.5-1 1.4-1 1.5-.9 1.4-1 1.4-.9 1.5-.9 1.4-.9 1.4-.9 1.4-.8 1.4-.9 1.4-.8 1.3-.9 1.4-.8 1.4-.8 1.3-.8 1.4-.8 1.3-.8 1.3-.7 1.3-.8 1.4-.7 1.3-.7 1.3-.8 1.3-.7 1.3-.7 1.2-.7 1.3-.7 1.3-.7 1.2-.6 1.3-.7 1.2-.7 1.3-.6 1.2-.6 1.2-.7 1.2-.6 1.3-.6 1.2-.6 1.2-.6 1.2-.5 1.1-.6 1.2-.5 1.2-.5 1.1-.5 1.2-.4 .6-.3M58.4 82.4l1.6-1.2 1.6-1.1 1.6-1.2 1.6-1.2 1.5-1.1 1.6-1.1 1.5-1.1 1.6-1.1 1.5-1.1 1.5-1 1.5-1.1 1.5-1 1.5-1 1.5-1 1.5-1 1.5-.9 1.4-1 1.5-.9 1.4-1 1.5-.9 1.4-.9 1.4-.8 1.4-.9 1.4-.9 1.4-.8 1.4-.8 1.4-.9 1.4-.8 1.4-.8 1.3-.8 1.4-.7 1.3-.8 1.4-.8 1.3-.7 1.3-.7 1.3-.8 1.3-.7 1.3-.7 1.3-.7 1.3-.7 1.3-.7 1.3-.7 1.2-.6 1.3-.7 1.2-.6 1.3-.7 1.2-.6 1.2-.6 1.3-.6 1.2-.6 1.2-.5 1.2-.5 1.2-.6 1.2-.4 1.1-.5 1.2-.4 1.2-.4 1.1-.3 1.2-.2 .6-.2M63.7 83.4l1.6-1.2 1.6-1.2 1.6-1.1 1.6-1.1 1.5-1.1 1.6-1.1 1.6-1.1 1.5-1 1.5-1.1 1.6-1 1.5-1 1.5-1 1.5-1 1.5-.9 1.5-1 1.4-.9 1.5-.9 1.5-.9 1.4-.9 1.4-.9 1.5-.9 1.4-.9 1.4-.8 1.4-.8 1.4-.9 1.4-.8 1.4-.8 1.4-.8 1.3-.8 1.4-.7 1.3-.8 1.4-.8 1.3-.7 1.4-.7 1.3-.8 1.3-.7 1.3-.7 1.3-.7 1.3-.7 1.3-.6 1.2-.7 1.3-.7 1.3-.6 1.2-.6 1.3-.6 1.2-.6 1.2-.6 1.3-.5 1.2-.5 1.2-.5 1.2-.4 1.2-.4 1.2-.3 1.1-.3 1.2-.2 1.2-.2 1.1-.1 1.2 0 1.1 .1 .6 .1M69.2 84.6l1.6-1.2 1.6-1.1 1.6-1.1 1.5-1.1 1.6-1.1 1.6-1 1.5-1.1 1.6-1 1.5-1 1.5-1 1.6-1 1.5-.9 1.5-1 1.5-.9 1.5-.9 1.4-1 1.5-.9 1.5-.8 1.4-.9 1.4-.9 1.5-.8 1.4-.9 1.4-.8 1.4-.8 1.4-.8 1.4-.8 1.4-.8 1.4-.8 1.3-.8 1.4-.7 1.3-.8 1.4-.7 1.3-.8 1.3-.7 1.3-.7 1.4-.7 1.3-.7 1.3-.6 1.2-.7 1.3-.6 1.3-.6 1.2-.6 1.3-.6 1.3-.5 1.2-.5 1.2-.5 1.2-.4 1.3-.4 1.2-.3 1.2-.2 1.2-.2 1.2-.1 1.1 0 1.2 .1 1.2 .1 1.1 .3 1.1 .3 1.2 .3 1.1 .4 .5 .2M74.7 86l1.7-1.1 1.6-1.1 1.6-1 1.5-1.1 1.6-1 1.6-1.1 1.6-1 1.5-1 1.5-1 1.6-.9 1.5-1 1.5-.9 1.5-1 1.5-.9 1.5-.9 1.5-.9 1.4-.9 1.5-.8 1.4-.9 1.5-.8 1.4-.9 1.4-.8 1.4-.8 1.4-.8 1.4-.8 1.4-.8 1.4-.8 1.4-.8 1.3-.7 1.4-.8 1.3-.7 1.4-.7 1.3-.7 1.3-.7 1.3-.7 1.3-.6 1.3-.6 1.3-.6 1.3-.6 1.3-.5 1.2-.5 1.3-.5 1.2-.4 1.3-.3 1.2-.2 1.2-.2 1.3-.2 1.2 0 1.2 .1 1.1 .1 1.2 .2 1.2 .3 1.1 .4 1.2 .4 1.1 .4 1.2-.9 1.1-1.4 1.2-1.3 1.1-1.4 .6-.7M80.5 87.8l1.6-1.1 1.6-1 1.6-1.1 1.6-1 1.6-1 1.6-1 1.5-1 1.6-1 1.5-1 1.5-.9 1.6-1 1.5-.9 1.5-.9 1.5-.9 1.4-.9 1.5-.9 1.5-.9 1.4-.8 1.5-.9 1.4-.8 1.4-.9 1.5-.8 1.4-.8 1.4-.8 1.4-.8 1.3-.7 1.4-.8 1.4-.7 1.3-.8 1.4-.7 1.3-.6 1.4-.7 1.3-.6 1.3-.6 1.3-.6 1.3-.5 1.3-.5 1.3-.4 1.3-.3 1.2-.3 1.3-.2 1.2-.2 1.3 0 1.2 0 1.2 .1 1.2 .2 1.2 .3 1.2 .4 1.2 .3 1.1 .5 1.2-1 1.2-1.4 1.2-1.4 1.1-1.4 1.2-1.5 1.2-1.4 1.1-1.4 1.2-1.3 1.1-1.4 .6-.7M86.4 89.8l1.6-1 1.6-1.1 1.6-1 1.6-1 1.6-1 1.5-1 1.6-1 1.6-1 1.5-.9 1.5-1 1.5-.9 1.6-.9 1.5-.9 1.4-.9 1.5-.9 1.5-.9 1.5-.8 1.4-.9 1.5-.8 1.4-.8 1.4-.8 1.4-.8 1.4-.8 1.4-.8 1.4-.7 1.4-.7 1.4-.7 1.3-.7 1.4-.6 1.3-.6 1.4-.6 1.3-.5 1.3-.4 1.3-.4 1.3-.3 1.3-.3 1.3-.1 1.2-.1 1.3 0 1.3 .1 1.2 .2 1.2 .3 1.2 .3 1.2 .4 1.2 .4 1.2-1.1 1.2-1.4 1.3-1.5 1.2-1.4 1.1-1.5 1.2-1.4 1.2-1.5 1.2-1.4 1.2-1.5 1.1-1.4 1.2-1.4 1.2-1.4 1.1-1.5 1.2-1.4 .6-.7M92.4 92.1l1.6-1.1 1.7-1 1.6-1 1.5-1 1.6-1 1.6-1 1.5-.9 1.6-1 1.5-1 1.6-.9 1.5-.9 1.5-.9 1.5-.9 1.5-.9 1.4-.9 1.5-.8 1.5-.8 1.4-.9 1.5-.8 1.4-.8 1.4-.7 1.4-.7 1.4-.7 1.4-.7 1.4-.6 1.4-.6 1.3-.6 1.4-.4 1.3-.5 1.4-.3 1.3-.3 1.3-.2 1.3 0 1.3-.1 1.3 .1 1.2 .2 1.3 .3 1.3 .3 1.2 .3 1.2 .4 1.3-1.1 1.2-1.6 1.2-1.5 1.3-1.5 1.2-1.5 1.2-1.5 1.2-1.5 1.2-1.4 1.2-1.5 1.2-1.5 1.2-1.5 1.2-1.4 1.2-1.5 1.2-1.5 1.1-1.4 1.2-1.5 1.2-1.5 1.1-1.4 1.2-1.5 .6-.7M98.6 94.6l1.6-1.1 1.6-1 1.6-1 1.6-1 1.6-1 1.6-.9 1.5-1 1.6-1 1.5-.9 1.5-.9 1.5-.9 1.5-.9 1.5-.9 1.5-.8 1.5-.8 1.5-.8 1.4-.8 1.4-.8 1.5-.7 1.4-.6 1.4-.7 1.4-.5 1.4-.5 1.4-.5 1.4-.4 1.3-.3 1.4-.2 1.3-.1 1.4 0 1.3 0 1.3 .2 1.3 .2 1.3 .3 1.2 .3 1.3 .4 1.3-1.2 1.2-1.6 1.3-1.6 1.3-1.5 1.2-1.6 1.3-1.5 1.2-1.5 1.2-1.6 1.3-1.5 1.2-1.5 1.2-1.6 1.2-1.5 1.3-1.5 1.2-1.5 1.2-1.5 1.2-1.5 1.2-1.5 1.2-1.5 1.1-1.5 1.2-1.5 1.2-1.5 1.2-1.5 1.1-1.4 1.2-1.5 .6-.7M105 97.3l1.6-1.1 1.6-1 1.6-1 1.6-1 1.5-.9 1.6-1 1.5-.9 1.6-.9 1.5-.9 1.5-.9 1.5-.9 1.5-.8 1.5-.8 1.5-.7 1.5-.8 1.4-.6 1.5-.6 1.4-.6 1.4-.5 1.4-.4 1.5-.3 1.3-.3 1.4-.1 1.4-.1 1.3 .1 1.4 .1 1.3 .2 1.3 .3 1.3 .3 1.3 .3 1.3-1.3 1.3-1.6 1.3-1.6 1.3-1.6 1.3-1.6 1.3-1.6 1.3-1.6 1.3-1.6 1.2-1.6 1.3-1.6 1.2-1.6 1.3-1.5 1.2-1.6 1.3-1.6 1.2-1.5 1.2-1.6 1.3-1.5 1.2-1.6 1.2-1.5 1.2-1.6 1.2-1.5 1.2-1.5 1.2-1.5 1.2-1.6 1.2-1.5 1.1-1.4 1.2-1.5 1.2-1.5 1.1-1.5 .6-.7M111.5 100.2l1.6-1 1.6-1 1.6-1 1.5-1 1.6-.9 1.6-.9 1.5-.9 1.6-.8 1.5-.8 1.5-.8 1.5-.7 1.5-.6 1.5-.6 1.4-.6 1.5-.4 1.4-.4 1.5-.3 1.4-.1 1.4-.1 1.4 0 1.4 .1 1.3 .2 1.4 .2 1.3 .3 1.4 .3 1.3-1.4 1.4-1.7 1.3-1.7 1.3-1.6 1.3-1.7 1.4-1.7 1.3-1.6 1.3-1.7 1.3-1.6 1.3-1.6 1.3-1.7 1.2-1.6 1.3-1.6 1.3-1.6 1.3-1.6 1.2-1.7 1.3-1.6 1.2-1.6 1.3-1.6 1.2-1.5 1.2-1.6 1.3-1.6 1.2-1.6 1.2-1.5 1.2-1.6 1.2-1.5 1.2-1.6 1.2-1.5 1.2-1.5 1.2-1.5 1.2-1.5 1.1-1.4 1.2-1.5 1.2-1.4 .5-.7M118.1 103.4l1.6-1 1.6-.9 1.6-.9 1.6-.8 1.5-.9 1.6-.7 1.5-.7 1.6-.7 1.5-.5 1.5-.5 1.5-.4 1.4-.4 1.5-.2 1.5-.1 1.4 0 1.4 .1 1.4 .1 1.4 .2 1.4 .3 1.4 .3 1.4-1.6 1.3-1.7 1.4-1.7 1.4-1.8 1.3-1.7 1.4-1.7 1.3-1.7 1.4-1.7 1.3-1.7 1.3-1.7 1.4-1.7 1.3-1.7 1.3-1.7 1.3-1.7 1.3-1.6 1.3-1.7 1.3-1.7 1.3-1.6 1.2-1.7 1.3-1.6 1.3-1.7 1.2-1.6 1.3-1.6 1.2-1.6 1.3-1.6 1.2-1.6 1.2-1.6 1.3-1.6 1.2-1.5 1.2-1.6 1.2-1.5 1.2-1.5 1.2-1.5 1.2-1.5 1.2-1.4 1.1-1.4 1.2-1.4 1.2-1.4 1.1-1.4 .6-.6M124.9 107.2l1.6-.8 1.6-.7 1.6-.7 1.6-.7 1.5-.5 1.6-.4 1.5-.4 1.5-.3 1.5-.1 1.5-.1 1.4 .1 1.5 .1 1.4 .2 1.5 .2 1.4 .3 1.4-1.7 1.4-1.8 1.4-1.8 1.4-1.8 1.4-1.8 1.4-1.8 1.4-1.8 1.4-1.7 1.4-1.8 1.3-1.8 1.4-1.7 1.3-1.8 1.4-1.7 1.3-1.8 1.4-1.7 1.3-1.7 1.3-1.7 1.3-1.8 1.3-1.7 1.3-1.7 1.3-1.7 1.3-1.7 1.3-1.6 1.3-1.7 1.3-1.7 1.2-1.6 1.3-1.7 1.3-1.6 1.2-1.6 1.2-1.6 1.3-1.6 1.2-1.5 1.2-1.6 1.3-1.5 1.2-1.5 1.2-1.5 1.2-1.4 1.2-1.4 1.1-1.4 1.2-1.4 1.2-1.4 1.2-1.3 1.1-1.2 1.2-1.3 .5-.6M131.9 112.3l1.6-.5 1.6-.4 1.5-.3 1.6-.2 1.5-.1 1.5 0 1.5 .1 1.5 .2 1.5 .2 1.4 .2 1.5-1.8 1.5-1.9 1.4-1.9 1.5-1.8 1.4-1.9 1.4-1.8 1.5-1.9 1.4-1.8 1.4-1.9 1.4-1.8 1.4-1.8 1.4-1.8 1.4-1.9 1.4-1.8 1.3-1.8 1.4-1.8 1.3-1.7 1.4-1.8 1.3-1.8 1.4-1.8 1.3-1.7 1.3-1.8 1.4-1.7 1.3-1.8 1.3-1.7 1.3-1.7 1.3-1.7 1.3-1.7 1.3-1.6 1.2-1.7 1.3-1.6 1.3-1.7 1.2-1.5 1.3-1.6 1.2-1.6 1.2-1.5 1.3-1.5 1.2-1.5 1.2-1.4 1.2-1.4 1.2-1.4 1.2-1.4 1.2-1.3 1.2-1.3 1.1-1.3 1.2-1.2 1.1-1.2 1.2-1.2 1.1-1.1 .6-.5M139 119.6l1.6 0 1.5 0 1.6 .2 1.5 .1 1.5 .2 1.5-1.9 1.5-2 1.5-1.9 1.5-2 1.5-1.9 1.4-2 1.5-1.9 1.5-1.9 1.4-1.9 1.5-1.9 1.4-1.9 1.4-1.9 1.5-1.9 1.4-1.8 1.4-1.9 1.4-1.9 1.4-1.8 1.4-1.9 1.4-1.8 1.4-1.9 1.3-1.8 1.4-1.8 1.3-1.8 1.4-1.8 1.3-1.8 1.4-1.8 1.3-1.8 1.3-1.7 1.3-1.7 1.4-1.8 1.3-1.7 1.3-1.6 1.2-1.7 1.3-1.6 1.3-1.6 1.3-1.6 1.2-1.6 1.3-1.5 1.2-1.5 1.3-1.5 1.2-1.4 1.2-1.4 1.2-1.4 1.2-1.3 1.2-1.4 1.2-1.2 1.2-1.3 1.1-1.2 1.2-1.2 1.1-1.1 1.2-1.1 1.1-1.1 1.1-1 1.2-1 .5-.5M54.1 76.6l1.4 .2 1.3 .2 1.4 .1 1.3 .2 1.4 .2 1.4 .2 1.4 .3 1.4 .2 1.4 .3 1.5 .2 1.4 .4 1.5 .3 1.4 .3 1.5 .4 1.5 .4 1.5 .4 1.5 .4 1.5 .4 1.5 .5 1.6 .5 1.5 .5 1.6 .5 1.5 .5 1.6 .6 1.6 .6 1.6 .5 1.6 .6 1.6 .7 1.7 .6 1.6 .6 1.7 .7 1.6 .7 1.7 .7 1.7 .7 1.7 .7 1.7 .7 1.7 .8 1.7 .7 1.8 .8 1.7 .8 1.8 .9 1.7 .9 1.8 .9 1.8 1 1.8 1 1.8 1.1 1.9 1.2 1.8 1.3 1.8 1.5 1.9 1.6 1.9 1.8 1.8 1.9 1.9 2.2 1.9 2.3 1.9 2.5 1.9 2.6 1.9 2 1.9-.3 2-.3 1-.2M59.8 72.3l1.4 .2 1.3 .2 1.4 .2 1.4 .2 1.4 .2 1.4 .2 1.4 .3 1.4 .3 1.4 .3 1.5 .3 1.4 .3 1.5 .4 1.4 .3 1.5 .4 1.5 .4 1.5 .5 1.5 .4 1.5 .5 1.6 .5 1.5 .5 1.5 .5 1.6 .6 1.6 .5 1.5 .6 1.6 .6 1.6 .6 1.6 .6 1.7 .6 1.6 .6 1.6 .7 1.7 .7 1.6 .6 1.7 .7 1.7 .8 1.7 .7 1.7 .7 1.7 .8 1.7 .8 1.8 .9 1.7 .8 1.8 1 1.7 .9 1.8 1.1 1.8 1.1 1.8 1.3 1.8 1.3 1.8 1.6 1.8 1.6 1.8 1.9 1.9 2.1 1.8 2.2 1.9 2.4 1.8 2.5 1.9 2.6 1.9-.3 1.9-.3 1.9-.3 2-.3 1.9-.4 1-.1M65.5 68.2l1.3 .2 1.4 .2 1.3 .2 1.4 .2 1.4 .3 1.4 .2 1.4 .3 1.5 .3 1.4 .4 1.4 .3 1.5 .4 1.4 .4 1.5 .4 1.5 .4 1.5 .4 1.5 .5 1.5 .5 1.5 .5 1.6 .5 1.5 .5 1.5 .5 1.6 .6 1.6 .6 1.5 .5 1.6 .6 1.6 .7 1.6 .6 1.7 .6 1.6 .7 1.6 .6 1.7 .7 1.6 .7 1.7 .7 1.7 .8 1.7 .7 1.7 .8 1.7 .8 1.7 .9 1.7 .9 1.7 1 1.8 1.1 1.7 1.2 1.8 1.3 1.8 1.4 1.8 1.6 1.8 1.8 1.8 2 1.8 2.1 1.8 2.3 1.8 2.4 1.8 2.6 1.8 .3 1.9-.3 1.9-.3 1.9-.4 1.9-.3 1.9-.4 2-.4 2-.3 1-.2M71 64.2l1.3 .2 1.4 .3 1.4 .2 1.4 .3 1.4 .3 1.4 .3 1.4 .3 1.4 .3 1.4 .4 1.5 .4 1.4 .4 1.5 .4 1.5 .4 1.5 .5 1.5 .4 1.5 .5 1.5 .5 1.5 .5 1.5 .5 1.6 .6 1.5 .5 1.6 .6 1.5 .6 1.6 .6 1.6 .6 1.6 .6 1.6 .6 1.6 .7 1.6 .6 1.7 .7 1.6 .7 1.7 .8 1.6 .7 1.7 .8 1.7 .8 1.7 .9 1.7 1 1.7 1 1.7 1.1 1.7 1.2 1.8 1.4 1.7 1.5 1.8 1.7 1.7 1.8 1.8 2.1 1.7 2.2 1.8 2.3 1.8 2.5 1.8 1 1.8-.3 1.9-.4 1.8-.3 1.9-.4 1.9-.4 1.9-.4 1.9-.4 2-.4 1.9-.4 2-.4 1-.2M76.4 60.5l1.3 .2 1.4 .3 1.4 .2 1.4 .3 1.4 .4 1.4 .3 1.4 .4 1.4 .3 1.5 .4 1.4 .4 1.5 .5 1.5 .4 1.4 .4 1.5 .5 1.5 .5 1.5 .5 1.5 .5 1.5 .5 1.6 .6 1.5 .5 1.5 .6 1.6 .6 1.6 .6 1.5 .6 1.6 .6 1.6 .6 1.6 .7 1.6 .6 1.6 .7 1.7 .7 1.6 .8 1.7 .8 1.6 .8 1.7 .9 1.7 1 1.6 1 1.7 1.2 1.7 1.3 1.7 1.4 1.8 1.6 1.7 1.8 1.7 1.9 1.7 2.1 1.8 2.3 1.7 2.4 1.7 1.7 1.8-.4 1.8-.4 1.9-.3 1.8-.4 1.8-.4 1.9-.4 1.9-.4 1.9-.4 1.9-.4 1.9-.5 2-.4 2-.5 1.9-.4 1-.3M81.7 56.9l1.3 .3 1.4 .3 1.4 .3 1.4 .3 1.4 .4 1.4 .3 1.4 .4 1.5 .4 1.4 .4 1.5 .5 1.4 .4 1.5 .5 1.5 .4 1.4 .5 1.5 .5 1.5 .5 1.5 .6 1.6 .5 1.5 .5 1.5 .6 1.6 .6 1.5 .6 1.6 .6 1.5 .6 1.6 .6 1.6 .7 1.6 .7 1.6 .7 1.6 .7 1.7 .8 1.6 .9 1.6 .9 1.7 1 1.6 1.1 1.7 1.2 1.7 1.4 1.7 1.5 1.6 1.7 1.7 1.8 1.7 2.1 1.7 2.1 1.7 2.3 1.7 2.4 1.8-.4 1.7-.4 1.8-.4 1.8-.4 1.8-.4 1.8-.4 1.9-.4 1.8-.4 1.9-.5 1.9-.4 1.9-.5 1.9-.5 2-.4 1.9-.5 2-.5 2-.5 1-.3M86.9 53.5l1.3 .3 1.4 .4 1.4 .3 1.4 .4 1.4 .4 1.4 .3 1.5 .5 1.4 .4 1.4 .4 1.5 .5 1.4 .4 1.5 .5 1.5 .5 1.4 .5 1.5 .5 1.5 .5 1.5 .6 1.6 .5 1.5 .6 1.5 .5 1.6 .6 1.5 .6 1.6 .7 1.5 .6 1.6 .7 1.6 .7 1.6 .8 1.6 .8 1.6 .9 1.6 .9 1.6 1 1.7 1.2 1.6 1.3 1.7 1.4 1.6 1.6 1.7 1.8 1.6 1.9 1.7 2.1 1.6 2.3 1.7 2.3 1.7 .2 1.7-.4 1.8-.4 1.7-.4 1.8-.4 1.8-.4 1.8-.5 1.8-.4 1.8-.5 1.9-.4 1.8-.5 1.9-.5 1.9-.5 1.9-.5 1.9-.5 2-.5 2-.5 1.9-.5 2-.5 1-.3M92 50.4l1.3 .3 1.4 .4 1.4 .3 1.4 .4 1.4 .4 1.4 .4 1.5 .5 1.4 .4 1.4 .4 1.5 .5 1.4 .5 1.5 .5 1.5 .5 1.4 .5 1.5 .5 1.5 .5 1.5 .6 1.5 .6 1.6 .5 1.5 .6 1.5 .7 1.6 .6 1.5 .7 1.6 .7 1.6 .8 1.5 .8 1.6 .9 1.6 1 1.6 1.1 1.6 1.2 1.6 1.4 1.7 1.5 1.6 1.7 1.6 1.8 1.6 2 1.7 2.2 1.6 2.2 1.7 .9 1.7-.4 1.7-.4 1.7-.4 1.7-.5 1.7-.4 1.8-.4 1.8-.5 1.8-.4 1.8-.5 1.8-.5 1.8-.5 1.9-.5 1.8-.5 1.9-.5 1.9-.5 1.9-.5 2-.6 1.9-.5 2-.5 2-.5 2-.6 1-.2M97 47.4l1.3 .3 1.4 .4 1.4 .4 1.4 .4 1.4 .4 1.4 .5 1.5 .4 1.4 .4 1.4 .5 1.5 .5 1.4 .5 1.5 .5 1.5 .5 1.4 .5 1.5 .6 1.5 .5 1.5 .6 1.5 .6 1.5 .6 1.6 .6 1.5 .7 1.5 .8 1.6 .7 1.5 .9 1.6 .9 1.6 1.1 1.5 1.1 1.6 1.3 1.6 1.4 1.6 1.7 1.6 1.7 1.6 2 1.6 2 1.6 2.2 1.6 1.5 1.7-.4 1.6-.4 1.7-.4 1.7-.5 1.7-.4 1.7-.5 1.8-.4 1.7-.5 1.8-.5 1.8-.5 1.8-.5 1.8-.5 1.8-.5 1.8-.5 1.9-.5 1.9-.6 1.9-.5 1.9-.5 1.9-.6 1.9-.5 2-.5 1.9-.6 2-.5 2-.4 1-.3M101.9 44.5l1.3 .4 1.4 .4 1.4 .4 1.4 .4 1.4 .5 1.4 .4 1.5 .5 1.4 .4 1.4 .5 1.5 .5 1.4 .5 1.5 .5 1.4 .6 1.5 .5 1.5 .6 1.5 .6 1.5 .6 1.5 .6 1.5 .7 1.5 .8 1.5 .8 1.6 .9 1.5 .9 1.6 1.1 1.5 1.3 1.6 1.3 1.5 1.6 1.6 1.7 1.6 1.8 1.5 2 1.6 2.1 1.6 2.1 1.6-.4 1.6-.4 1.7-.5 1.6-.4 1.7-.5 1.7-.4 1.7-.5 1.7-.5 1.7-.4 1.8-.5 1.7-.5 1.8-.6 1.8-.5 1.8-.5 1.8-.5 1.8-.6 1.9-.5 1.8-.6 1.9-.5 1.9-.6 1.9-.5 1.9-.5 2-.6 1.9-.5 2-.4 2-.5 2-.4 1-.2M106.7 41.8l1.3 .4 1.4 .4 1.4 .5 1.4 .4 1.4 .4 1.4 .5 1.4 .5 1.5 .4 1.4 .5 1.4 .6 1.5 .5 1.4 .5 1.5 .6 1.5 .6 1.5 .6 1.4 .7 1.5 .7 1.5 .7 1.5 .9 1.5 .9 1.6 1 1.5 1.2 1.5 1.3 1.5 1.4 1.6 1.7 1.5 1.8 1.6 1.9 1.5 2 1.6 2.1 1.5 .2 1.6-.4 1.7-.5 1.6-.4 1.6-.5 1.7-.5 1.6-.4 1.7-.5 1.7-.5 1.7-.5 1.7-.5 1.8-.6 1.7-.5 1.8-.5 1.7-.6 1.8-.5 1.8-.6 1.8-.5 1.9-.6 1.8-.5 1.9-.6 1.9-.5 1.9-.6 1.9-.5 1.9-.5 1.9-.4 2-.5 1.9-.4 2-.3 2-.4 1-.1M111.4 39.2l1.4 .5 1.3 .4 1.4 .4 1.4 .5 1.4 .4 1.4 .5 1.4 .5 1.5 .5 1.4 .5 1.4 .6 1.5 .5 1.4 .6 1.5 .6 1.4 .7 1.5 .7 1.5 .8 1.5 .9 1.5 1 1.5 1.1 1.5 1.2 1.5 1.4 1.5 1.6 1.5 1.7 1.5 1.8 1.5 2 1.5 2.1 1.6 .7 1.5-.4 1.6-.5 1.6-.4 1.6-.5 1.6-.5 1.7-.4 1.6-.5 1.7-.5 1.6-.5 1.7-.6 1.7-.5 1.7-.5 1.8-.6 1.7-.5 1.7-.6 1.8-.5 1.8-.6 1.8-.5 1.8-.6 1.8-.6 1.8-.5 1.9-.6 1.9-.5 1.8-.5 1.9-.5 1.9-.4 1.9-.5 2-.3 1.9-.4 2-.3 1.9-.3 2-.2 1-.1M116 36.8l1.4 .4 1.3 .5 1.4 .4 1.4 .5 1.4 .5 1.4 .5 1.4 .5 1.4 .5 1.5 .6 1.4 .6 1.4 .6 1.5 .7 1.4 .8 1.5 .8 1.5 .9 1.4 1.1 1.5 1.2 1.5 1.3 1.5 1.4 1.5 1.7 1.4 1.8 1.5 1.9 1.5 2 1.5 1.3 1.6-.4 1.5-.5 1.6-.4 1.6-.5 1.5-.5 1.6-.5 1.6-.5 1.7-.5 1.6-.5 1.7-.5 1.6-.5 1.7-.6 1.7-.5 1.7-.6 1.7-.5 1.7-.6 1.8-.6 1.7-.5 1.8-.6 1.8-.6 1.8-.5 1.8-.6 1.8-.5 1.8-.5 1.9-.5 1.8-.5 1.9-.4 1.9-.5 1.9-.3 1.9-.4 1.9-.3 1.9-.2 2-.2 1.9-.2 2-.1 1 0M120.5 34.5l1.4 .4 1.4 .5 1.3 .4 1.4 .5 1.4 .5 1.4 .6 1.4 .6 1.4 .6 1.5 .6 1.4 .8 1.4 .7 1.5 .9 1.4 1 1.5 1.1 1.4 1.3 1.5 1.4 1.4 1.5 1.5 1.8 1.4 1.8 1.5 2 1.5 1.9 1.5-.5 1.5-.4 1.5-.5 1.6-.5 1.5-.5 1.6-.4 1.6-.5 1.6-.6 1.6-.5 1.6-.5 1.6-.5 1.7-.6 1.6-.5 1.7-.6 1.7-.5 1.7-.6 1.7-.6 1.7-.6 1.7-.5 1.7-.6 1.8-.6 1.8-.5 1.8-.6 1.8-.5 1.8-.5 1.8-.5 1.8-.5 1.9-.4 1.8-.4 1.9-.3 1.9-.4 1.8-.2 1.9-.3 1.9-.1 2-.2 1.9-.1 1.9 0 2 0 .9 0M125 32.2l1.3 .5 1.4 .5 1.4 .5 1.3 .6 1.4 .6 1.4 .6 1.4 .7 1.4 .7 1.5 .9 1.4 .9 1.4 1.1 1.4 1.1 1.5 1.4 1.4 1.5 1.4 1.6 1.5 1.8 1.4 1.9 1.4 1.9 1.5 .1 1.5-.4 1.5-.5 1.5-.5 1.6-.5 1.5-.5 1.5-.5 1.6-.5 1.6-.5 1.6-.5 1.6-.6 1.6-.5 1.6-.6 1.6-.5 1.7-.6 1.6-.6 1.7-.6 1.7-.5 1.7-.6 1.7-.6 1.7-.6 1.7-.5 1.8-.6 1.7-.5 1.8-.5 1.8-.5 1.8-.5 1.8-.5 1.8-.4 1.8-.3 1.8-.4 1.9-.3 1.8-.2 1.9-.2 1.9-.2 1.9-.1 1.9-.1 1.9 0 1.9 .1 1.9 .1 1.9 .1 1 .1"/>
<path d="M48.3 81.1L146.2 129.3M146.2 129.3L221.5 72.9M48.3 81.1L43.6 36.3M221.5 72.9L225.9 29.2" class="bx"/><path d="M48.3 81.1L45.4 82.5M52.4 83.1L50.7 84.0M56.7 85.2L55.0 86.1M60.9 87.3L59.2 88.2M65.3 89.4L63.6 90.4M69.7 91.6L66.8 93.2M74.2 93.8L72.5 94.8M78.8 96.1L77.1 97.1M83.5 98.4L81.8 99.4M88.2 100.7L86.5 101.7M93.0 103.1L90.1 104.8M97.9 105.5L96.2 106.5M102.9 107.9L101.2 109.0M108.0 110.4L106.3 111.5M113.1 113.0L111.5 114.1M118.4 115.6L115.5 117.5M123.7 118.2L122.1 119.3M129.2 120.9L127.6 122.1M134.8 123.6L133.1 124.8M140.4 126.4L138.8 127.6M146.2 129.3L143.4 131.4M146.2 129.3L149.7 131.0M150.8 125.8L152.8 126.8M155.2 122.5L157.3 123.5M159.6 119.2L161.6 120.2M163.9 116.0L165.9 116.9M168.1 112.9L171.5 114.4M172.2 109.8L174.2 110.7M176.2 106.8L178.2 107.7M180.1 103.9L182.1 104.7M184.0 101.0L185.9 101.8M187.7 98.2L191.1 99.6M191.4 95.4L193.4 96.2M195.0 92.7L197.0 93.5M198.6 90.1L200.5 90.8M202.0 87.5L204.0 88.2M205.5 84.9L208.7 86.2M208.8 82.4L210.7 83.2M212.1 80.0L214.0 80.7M215.3 77.6L217.2 78.3M218.4 75.2L220.3 75.9M221.5 72.9L224.7 74.1M48.2 79.7L46.9 79.1M48.0 78.4L46.8 77.8M47.9 77.1L46.6 76.5M47.7 75.7L46.5 75.1M47.6 74.4L45.5 73.4M47.5 73.0L46.2 72.4M47.3 71.7L46.1 71.1M47.2 70.3L45.9 69.7M47.0 68.9L45.8 68.4M46.9 67.6L44.8 66.6M46.7 66.2L45.5 65.6M46.6 64.8L45.3 64.2M46.5 63.4L45.2 62.9M46.3 62.1L45.1 61.5M46.2 60.7L44.1 59.7M46.0 59.3L44.8 58.7M45.9 57.9L44.6 57.3M45.7 56.5L44.5 55.9M45.6 55.1L44.3 54.5M45.4 53.6L43.3 52.7M45.3 52.2L44.0 51.7M45.1 50.8L43.9 50.2M45.0 49.4L43.7 48.8M44.8 47.9L43.6 47.4M44.7 46.5L42.6 45.6M44.5 45.1L43.3 44.5M44.4 43.6L43.1 43.1M44.2 42.2L42.9 41.6M44.1 40.7L42.8 40.2M43.9 39.2L41.8 38.4M43.8 37.8L42.5 37.3" class="bx" stroke-width=".5"/><path d="M43.6 36.3L146.8 78.6M146.8 78.6L225.9 29.2M146.2 129.3L146.8 78.6" class="bf"/>
<text x="1.0" y="70.3" class="zl" textLength="34" lengthAdjust="spacingAndGlyphs">|<tspan font-style="italic">w</tspan><tspan font-size="5.2" dy="1.6">1,1</tspan><tspan dy="-1.6">(x, t))|</tspan></text>
<text x="37.0" y="87.3" class="tk">−1.0</text>
<text x="57.2" y="98.2" class="tk">−0.5</text>
<text x="82.6" y="109.9" class="tk">0.0</text>
<text x="108.0" y="121.8" class="tk">0.5</text>
<text x="135.0" y="135.8" class="tk">1.0</text>
<text x="150.9" y="134.8" class="tk">0.0</text>
<text x="171.4" y="118.6" class="tk">0.5</text>
<text x="190.3" y="103.9" class="tk">1.0</text>
<text x="207.5" y="90.2" class="tk">1.5</text>
<text x="222.7" y="78.1" class="tk">2.0</text>
<text x="44.0" y="71.8" class="tk" text-anchor="end">1</text>
<text x="42.8" y="59.2" class="tk" text-anchor="end">2</text>
<text x="41.6" y="44.0" class="tk" text-anchor="end">3</text>
<text x="78.5" y="115.5" class="al">x</text>
<text x="198.2" y="107.8" class="al">t</text></g>
<g clip-path="url(#cb)"><path d="M275.3 81.1L356.4 40.0M356.4 40.0L448.5 72.9M356.4 40.0L356.1 1.0M270.6 36.3L356.1 1.0M356.1 1.0L452.9 29.2M270.6 36.3L373.8 78.6M373.8 78.6L452.9 29.2M373.2 129.3L373.8 78.6" class="bx"/>
<g transform="scale(0.333333)"><path d="M1065 86l4 3 4-8-4-2z" fill="#3b8db2"/>
<path d="M1068 88l5 3 4-8-5-2z" fill="#3c8cb6"/>
<path d="M1061 88l5 3 4-3-5-3z" fill="#47a2dc"/>
<path d="M1072 90l5 3 3-7-4-3z" fill="#3d8cbb"/>
<path d="M1065 90l5 3 4-3-5-3z" fill="#47a0de"/>
<path d="M1058 88l5 4 4-2-5-3z" fill="#46a0d9"/>
<path d="M1076 92l5 3 3-7-5-3z" fill="#3e8cc1"/>
<path d="M1069 92l5 3 4-3-5-3z" fill="#479de0"/>
<path d="M1062 90l5 4 4-2-5-3z" fill="#469eda"/>
<path d="M1079 95l5 3 3-7-4-3z" fill="#3f8bc7"/>
<path d="M1073 94l5 3 3-3-5-3z" fill="#469ae3"/>
<path d="M1083 97l5 3 3-6-5-4z" fill="#3f89ce"/>
<path d="M1066 92l5 4 4-2-5-3z" fill="#469bdc"/>
<path d="M1077 96l5 4 3-3-5-4z" fill="#4696e5"/>
<path d="M1087 100l5 3 3-6-5-4z" fill="#4087d6"/>
<path d="M1070 95l6 3 3-2-5-3z" fill="#4598dd"/>
<path d="M1081 98l5 4 3-2-5-4z" fill="#4592e7"/>
<path d="M1091 103l5 3 2-6-4-4z" fill="#4184de"/>
<path d="M1074 97l6 4 3-2-6-4z" fill="#4594df"/>
<path d="M1085 101l5 4 3-3-5-4z" fill="#458cea"/>
<path d="M1094 106l5 4 3-6-5-5z" fill="#4280e4"/>
<path d="M1098 109l5 4 3-6-5-4z" fill="#427ae8"/>
<path d="M1088 104l6 4 2-2-5-5z" fill="#4486eb"/>
<path d="M1078 99l6 4 3-1-6-4z" fill="#4490e1"/>
<path d="M1067 92l7 3 2 3-6-3z" fill="#3b88b8"/>
<path d="M1102 112l5 5 2-6-5-4z" fill="#4372ea"/>
<path d="M1092 107l6 4 2-2-5-5z" fill="#437feb"/>
<path d="M1082 102l6 4 3-2-6-4z" fill="#438be3"/>
<path d="M1106 116l5 5 2-6-5-5z" fill="#4367e7"/>
<path d="M1072 95l6 3 2 2-6-3z" fill="#3b85ba"/>
<path d="M1096 110l6 5 2-3-5-4z" fill="#4376ea"/>
<path d="M1109 120l6 5 1-5-5-6z" fill="#425ce2"/>
<path d="M1086 105l6 4 2-1-5-5z" fill="#4385e5"/>
<path d="M1048 78l6 3 4 1-7-3z" fill="#48ac91"/>
<path d="M1113 123l6 6 1-5-5-5z" fill="#474ad9"/>
<path d="M1100 114l6 5 2-3-5-5z" fill="#426de6"/>
<path d="M1076 97l6 4 2 2-6-4z" fill="#3b82bd"/>
<path d="M1117 128l5 5 2-4-5-6z" fill="#4d3ace"/>
<path d="M1091 108l5 5 2-2-5-5z" fill="#427ee5"/>
<path d="M1104 117l6 6 2-3-6-5z" fill="#4162e0"/>
<path d="M1121 132l5 6 1-4-5-6z" fill="#5732c5"/>
<path d="M1080 100l6 4 2 2-6-4z" fill="#3b7ec0"/>
<path d="M1045 87l5 2 4-9-5-3z" fill="#3d9182"/>
<path d="M1052 80l7 4 3 1-6-4z" fill="#48aa93"/>
<path d="M1042 95l5 2 4-9-6-3z" fill="#378594"/>
<path d="M1125 136l5 6 1-3-5-7z" fill="#6129bc"/>
<path d="M1108 121l6 6 1-3-5-5z" fill="#4155da"/>
<path d="M1095 111l5 5 2-2-5-4z" fill="#4176e5"/>
<path d="M1129 141l5 6 1-3-5-7z" fill="#7325b5"/>
<path d="M1112 125l6 6 1-3-5-5z" fill="#4545d0"/>
<path d="M1084 103l6 5 2 1-5-4z" fill="#3a79c3"/>
<path d="M1038 97l6 3 4-4-6-3z" fill="#46a6d1"/>
<path d="M1099 115l5 5 2-2-5-5z" fill="#416ce2"/>
<path d="M1057 82l6 4 3 1-6-3z" fill="#47a896"/>
<path d="M1049 89l6 2 4-9-6-2z" fill="#3d9286"/>
<path d="M1116 130l6 6 1-3-5-6z" fill="#4c37c8"/>
<path d="M1046 97l6 2 4-9-6-3z" fill="#378698"/>
<path d="M1103 119l6 5 1-2-5-5z" fill="#4062dd"/>
<path d="M1089 106l6 5 1 1-5-4z" fill="#3a74c6"/>
<path d="M1120 134l6 6 1-3-5-6z" fill="#5630c1"/>
<path d="M1035 98l6 3 4-2-6-3z" fill="#46a6d4"/>
<path d="M1043 99l6 3 4-4-6-3z" fill="#46a5d2"/>
<path d="M1107 123l6 5 1-2-5-5z" fill="#3f57d7"/>
<path d="M1062 85l6 4 3 1-6-4z" fill="#45a59a"/>
<path d="M1124 139l6 6 1-3-6-6z" fill="#6129ba"/>
<path d="M1054 91l6 3 3-9-5-3z" fill="#3d938a"/>
<path d="M1093 110l6 5 2 1-6-5z" fill="#3a6ec8"/>
<path d="M1051 99l6 2 4-9-6-3z" fill="#38869c"/>
<path d="M1128 144l6 6 0-4-5-6z" fill="#7426b6"/>
<path d="M1111 127l6 6 1-2-5-6z" fill="#4446ce"/>
<path d="M1097 114l6 5 2 1-6-5z" fill="#3966c9"/>
<path d="M1066 88l6 4 3 1-6-4z" fill="#44a29e"/>
<path d="M1115 132l6 6 1-3-5-6z" fill="#4a38c6"/>
<path d="M1048 101l6 3 4-4-6-3zM1040 100l6 3 4-2-6-3z" fill="#46a5d5"/>
<path d="M1059 93l6 3 3-8-6-4z" fill="#3e9490"/>
<path d="M1031 97l7 3 4 1-7-3z" fill="#3f98b9"/>
<path d="M1102 118l5 6 2 0-6-6z" fill="#395ec7"/>
<path d="M1120 136l5 7 1-3-5-6z" fill="#5430c0"/>
<path d="M1056 101l6 3 3-9-6-3z" fill="#3887a1"/>
<path d="M1133 147l15-12 0-3-15 12z" fill="#381c77"/>
<path d="M1071 90l6 5 3 1-7-5z" fill="#429fa3"/>
<path d="M1124 141l5 7 1-4-5-6z" fill="#5f29ba"/>
<path d="M1106 122l6 7 1-1-6-6z" fill="#3954c5"/>
<path d="M1064 96l5 3 4-9-6-3z" fill="#3e9497"/>
<path d="M1053 103l6 4 4-4-6-4z" fill="#46a3d7"/>
<path d="M1128 146l6 7 0-4-5-6z" fill="#7426b6"/>
<path d="M1045 102l7 4 3-3-7-3z" fill="#46a4d7"/>
<path d="M1110 127l6 7 1-1-5-6z" fill="#3c47c1"/>
<path d="M1061 103l6 4 3-9-6-4z" fill="#3888a6"/>
<path d="M1036 99l8 3 3 1-7-3z" fill="#3f97ba"/>
<path d="M1075 94l7 4 2 1-6-4z" fill="#409ba9"/>
<path d="M1115 132l5 7 1-2-5-6z" fill="#4237bb"/>
<path d="M1068 99l6 3 3-8-6-4z" fill="#3e959f"/>
<path d="M1058 106l7 3 3-3-7-4z" fill="#47a2da"/>
<path d="M1119 137l6 7 1-2-6-6z" fill="#4e2fb8"/>
<path d="M1080 97l6 5 2 1-6-5z" fill="#3e96b0"/>
<path d="M1050 105l7 3 3-2-7-4z" fill="#46a2d8"/>
<path d="M1133 149l15-11 0-3-15 11z" fill="#381c77"/>
<path d="M1066 106l6 3 3-8-6-4z" fill="#3988ac"/>
<path d="M1123 143l6 7 1-3-6-6z" fill="#5b28b4"/>
<path d="M1042 101l7 3 3 1-7-3z" fill="#3f96bb"/>
<path d="M1073 102l6 3 3-8-6-4z" fill="#3e96a9"/>
<path d="M1085 101l6 6 2 0-6-5z" fill="#3c8fb5"/>
<path d="M1128 148l5 7 1-3-6-6z" fill="#7125b3"/>
<path d="M1063 108l7 4 3-4-7-3z" fill="#479fdd"/>
<path d="M1071 109l6 4 3-9-6-4z" fill="#3a87b3"/>
<path d="M1109 125l6 8 1 1-6-7z" fill="#3750be"/>
<path d="M1055 107l7 4 3-2-6-4z" fill="#46a0da"/>
<path d="M1078 105l6 4 3-8-6-4z" fill="#3e96b5"/>
<path d="M1089 105l7 6 1 0-6-5z" fill="#3b87b9"/>
<path d="M1114 131l6 8 1 0-6-7z" fill="#3b40b8"/>
<path d="M1047 103l7 4 3 1-7-4z" fill="#3f94bc"/>
<path d="M1132 152l16-11 0-3-16 11z" fill="#381c77"/>
<path d="M1094 110l6 6 2 0-6-6z" fill="#3a7ebe"/>
<path d="M1076 112l6 4 3-8-7-5z" fill="#3c87bb"/>
<path d="M1118 137l6 8 1-1-6-7z" fill="#4430b0"/>
<path d="M1068 111l7 4 3-3-7-5z" fill="#469ce1"/>
<path d="M1083 108l6 5 2-8-6-4z" fill="#3f94bf"/>
<path d="M1061 110l6 4 3-3-6-4z" fill="#469ddc"/>
<path d="M1123 144l6 8 0-2-5-8z" fill="#5228ab"/>
<path d="M1099 115l6 7 1-1-5-6z" fill="#3974c3"/>
<path d="M1127 150l6 8 1-3-6-7z" fill="#6a24ac"/>
<path d="M1087 112l7 5 2-7-6-5z" fill="#4091ca"/>
<path d="M1053 106l7 4 3 0-8-3z" fill="#3e92bd"/>
<path d="M1081 115l6 5 2-8-6-5z" fill="#3d85c4"/>
<path d="M1104 120l6 8 1-1-6-7z" fill="#3968c5"/>
<path d="M1073 114l7 5 3-4-7-4z" fill="#4698e5"/>
<path d="M1021 95l7 3 4-8-7-3z" fill="#429c80"/>
<path d="M1108 126l6 8 1-1-5-8z" fill="#385bc4"/>
<path d="M1066 113l7 4 2-2-6-5z" fill="#4699de"/>
<path d="M1092 116l6 6 3-7-6-6z" fill="#418bd5"/>
<path d="M1017 105l7 2 4-11-7-2z" fill="#358084"/>
<path d="M1086 119l6 5 2-8-6-5z" fill="#3e83cf"/>
<path d="M1132 155l15-11 0-3-15 11z" fill="#381c77"/>
<path d="M1113 132l6 8 1-1-6-8z" fill="#394bbe"/>
<path d="M1014 108l7 3 4-5-7-3z" fill="#43a1c4"/>
<path d="M1078 118l7 4 3-3-7-5z" fill="#4692e8"/>
<path d="M1058 109l7 4 3 0-7-4z" fill="#3e90bf"/>
<path d="M1147 136l15-12 1-3-16 12z" fill="#273d86"/>
<path d="M1097 121l6 6 2-6-6-7z" fill="#4184e0"/>
<path d="M1118 139l6 8 0-2-5-8z" fill="#4035b5"/>
<path d="M1122 145l6 9 1-3-6-8z" fill="#502aae"/>
<path d="M1091 123l6 5 2-7-6-6z" fill="#4080db"/>
<path d="M1071 116l7 4 3-2-7-5z" fill="#4595e1"/>
<path d="M1102 126l6 6 2-5-6-7z" fill="#4178e5"/>
<path d="M1127 152l6 9 1-3-6-8z" fill="#6724aa"/>
<path d="M1026 97l8 3 3-8-7-3z" fill="#429d82"/>
<path d="M1084 121l6 5 3-3-7-5z" fill="#458bec"/>
<path d="M1010 110l8 3 4-3-8-3z" fill="#46a7d2"/>
<path d="M1023 107l7 2 4-10-7-3z" fill="#358085"/>
<path d="M1107 131l6 7 2-5-6-7z" fill="#4168e2"/>
<path d="M1063 111l8 5 2 0-7-4z" fill="#3e8cc1"/>
<path d="M1096 127l6 6 2-7-6-6z" fill="#4179e3"/>
<path d="M1020 110l8 3 3-5-7-3z" fill="#43a1c5"/>
<path d="M1076 119l7 5 3-2-7-5z" fill="#448fe3"/>
<path d="M1112 137l6 7 1-4-6-8z" fill="#4155d8"/>
<path d="M1132 158l15-11 0-3-15 11z" fill="#391c76"/>
<path d="M1089 125l7 6 2-4-7-5z" fill="#4482ed"/>
<path d="M1146 139l16-11 0-4-16 12z" fill="#273d86"/>
<path d="M1101 132l6 6 2-6-6-7z" fill="#4270e7"/>
<path d="M1117 143l6 8 1-4-6-9z" fill="#473ac8"/>
<path d="M1032 100l7 3 4-9-7-3z" fill="#439e84"/>
<path d="M1122 149l6 8 1-3-6-9z" fill="#562dbb"/>
<path d="M1007 109l8 4 4-1-8-3z" fill="#43a0c5"/>
<path d="M1069 115l7 4 2 1-7-5z" fill="#3e88c4"/>
<path d="M1029 109l8 3 3-11-7-3z" fill="#368187"/>
<path d="M1106 137l6 6 2-6-6-6z" fill="#4262e4"/>
<path d="M1082 123l7 5 2-2-7-6z" fill="#4388e6"/>
<path d="M1017 112l8 3 3-3-8-3z" fill="#46a7d3"/>
<path d="M1127 156l6 8 0-3-6-9z" fill="#6a25af"/>
<path d="M1094 129l7 6 2-3-7-6z" fill="#4377ec"/>
<path d="M1026 113l8 3 3-5-7-4z" fill="#43a2c6"/>
<path d="M1111 142l6 7 2-5-7-8z" fill="#464eda"/>
<path d="M1099 134l7 6 2-3-7-6z" fill="#426ae6"/>
<path d="M1075 118l7 5 2 0-7-4z" fill="#3d84c7"/>
<path d="M1087 127l7 5 2-2-7-6z" fill="#427fe6"/>
<path d="M1116 147l6 8 2-5-7-7z" fill="#4e39cd"/>
<path d="M1132 161l15-11 0-3-15 11z" fill="#391c76"/>
<path d="M1038 102l7 3 4-8-7-3z" fill="#439f87"/>
<path d="M1146 142l15-11 1-4-16 12z" fill="#273c85"/>
<path d="M1035 111l8 3 3-10-7-3z" fill="#368289"/>
<path d="M1013 112l8 3 4-1-8-3z" fill="#43a0c5"/>
<path d="M1121 153l7 8 0-4-6-8z" fill="#5b2dc0"/>
<path d="M1105 139l6 7 2-4-7-6z" fill="#415bde"/>
<path d="M1023 114l8 4 3-3-8-3z" fill="#46a7d3"/>
<path d="M1093 131l7 6 1-2-6-6z" fill="#4175e6"/>
<path d="M1080 122l7 5 2 1-7-6z" fill="#3c7eca"/>
<path d="M1126 159l7 8 0-3-6-8z" fill="#7026b5"/>
<path d="M1032 115l8 3 3-5-7-3z" fill="#44a2c8"/>
<path d="M1110 144l7 8 1-4-7-7z" fill="#4646d2"/>
<path d="M1044 105l7 3 4-8-8-3z" fill="#43a08c"/>
<path d="M1098 136l7 6 2-2-7-7z" fill="#4168e0"/>
<path d="M1115 150l7 8 1-4-7-7z" fill="#4f36c7"/>
<path d="M1041 114l8 3 3-10-7-4z" fill="#36828d"/>
<path d="M1086 126l7 6 2 0-7-6z" fill="#3c77ce"/>
<path d="M1132 164l14-11 0-3-14 11z" fill="#391b76"/>
<path d="M1146 145l15-11 0-3-15 11z" fill="#273b85"/>
<path d="M1020 114l8 3 3 0-8-3z" fill="#43a0c5"/>
<path d="M1029 117l8 3 4-2-8-4z" fill="#47a6d4"/>
<path d="M1121 156l6 8 1-4-6-7z" fill="#5c2cbe"/>
<path d="M1104 141l6 7 2-3-7-7z" fill="#405ad9"/>
<path d="M1038 118l8 3 3-5-7-4z" fill="#44a2cb"/>
<path d="M1161 126l16-12 1-4-17 12z" fill="#27597c"/>
<path d="M1091 131l7 6 2 0-7-6z" fill="#3c6ed0"/>
<path d="M1050 108l7 3 3-8-7-3z" fill="#43a192"/>
<path d="M1126 162l7 8 0-3-6-8z" fill="#7126b7"/>
<path d="M1109 146l7 8 1-3-7-7z" fill="#4446cf"/>
<path d="M1048 117l7 3 3-10-7-4z" fill="#368392"/>
<path d="M1097 136l7 7 1-1-7-7z" fill="#3b64d0"/>
<path d="M1115 152l6 8 1-3-6-7z" fill="#4d35c5"/>
<path d="M1026 116l9 4 3 0-9-4z" fill="#429fc5"/>
<path d="M1036 119l8 4 3-3-8-3z" fill="#47a6d6"/>
<path d="M1145 148l15-11 1-3-16 11z" fill="#273a85"/>
<path d="M1132 167l14-10 0-4-14 11z" fill="#391b76"/>
<path d="M1045 120l8 4 3-5-8-4z" fill="#44a1ce"/>
<path d="M1056 111l7 4 3-8-7-4z" fill="#44a19a"/>
<path d="M1120 159l7 8 1-4-7-7z" fill="#5b2cbc"/>
<path d="M1103 141l7 8 1-1-7-7z" fill="#3b58cc"/>
<path d="M1160 129l16-12 1-4-16 12z" fill="#27587c"/>
<path d="M996 106l8 3 4-7-8-3z" fill="#48ab8a"/>
<path d="M1054 120l7 3 3-10-7-4z" fill="#378498"/>
<path d="M992 116l9 3 3-12-8-3z" fill="#347d7d"/>
<path d="M1126 165l6 8 1-3-7-8z" fill="#7126b7"/>
<path d="M1108 147l7 8 1-1-7-8z" fill="#3f47c5"/>
<path d="M989 121l9 3 3-7-8-3z" fill="#3e96b6"/>
<path d="M1042 122l8 4 3-3-8-4z" fill="#47a4d7"/>
<path d="M1062 114l7 5 3-8-7-5z" fill="#44a2a3"/>
<path d="M1033 119l8 4 3-1-8-3z" fill="#429ec6"/>
<path d="M1051 123l8 4 3-5-8-4z" fill="#45a0d2"/>
<path d="M1145 151l15-11 0-3-15 11z" fill="#273a85"/>
<path d="M1114 154l7 8 1-2-7-8z" fill="#4735bd"/>
<path d="M1131 170l15-10 0-4-15 11z" fill="#3a1b76"/>
<path d="M1060 123l7 4 3-10-7-4z" fill="#3785a0"/>
<path d="M985 123l9 3 4-3-9-3z" fill="#46a4d2"/>
<path d="M1160 132l16-12 0-3-16 12z" fill="#27577d"/>
<path d="M1120 161l7 8 0-3-7-8z" fill="#572bb8"/>
<path d="M1003 108l8 3 4-7-8-3z" fill="#49ad8a"/>
<path d="M1068 118l8 5 2-8-7-5z" fill="#43a2af"/>
<path d="M1000 118l8 3 3-12-8-2z" fill="#357e7c"/>
<path d="M1049 125l8 4 3-2-9-5z" fill="#46a2da"/>
<path d="M1057 127l8 4 3-5-8-4z" fill="#459ed7"/>
<path d="M1082 120l8 7 1 1-7-6z" fill="#3a89b1"/>
<path d="M1125 168l7 8 1-3-7-8z" fill="#6f26b4"/>
<path d="M1039 122l9 4 3-1-9-4z" fill="#429cc7"/>
<path d="M996 123l9 3 4-6-9-3z" fill="#3e98b6"/>
<path d="M1066 127l8 4 2-10-7-4z" fill="#3885a8"/>
<path d="M981 123l10 3 4-1-10-3z" fill="#44a2ce"/>
<path d="M1107 146l8 9 0 0-7-8z" fill="#384ebe"/>
<path d="M1145 155l14-11 1-4-15 11z" fill="#273984"/>
<path d="M1074 122l8 5 2-6-7-6z" fill="#43a2bd"/>
<path d="M1088 125l8 8 1 1-7-7z" fill="#3a80b7"/>
<path d="M1131 173l14-10 0-4-14 11z" fill="#3a1b76"/>
<path d="M1159 135l16-11 1-4-16 12z" fill="#27567e"/>
<path d="M1113 153l7 10 1-1-7-8z" fill="#3f37b5"/>
<path d="M993 125l9 3 3-3-9-3z" fill="#46a5d2"/>
<path d="M1064 130l8 5 2-5-7-5z" fill="#469bdc"/>
<path d="M1055 128l8 5 3-3-8-4z" fill="#469fdc"/>
<path d="M1010 110l8 3 4-6-9-3z" fill="#4aae8a"/>
<path d="M1072 130l8 5 2-9-7-5z" fill="#3a84b2"/>
<path d="M1119 161l7 10 1-2-7-9z" fill="#4d2bad"/>
<path d="M1046 125l9 4 2 0-8-5z" fill="#429ac9"/>
<path d="M1094 132l8 8 1 1-7-8z" fill="#3975be"/>
<path d="M1007 121l8 3 3-12-8-3z" fill="#357e7c"/>
<path d="M1080 127l8 6 2-7-7-6z" fill="#439eca"/>
<path d="M1175 115l17-13 1-3-17 12z" fill="#2e6d5d"/>
<path d="M1125 169l7 10 1-3-7-9z" fill="#6824ad"/>
<path d="M1003 126l9 3 4-7-9-3z" fill="#3f99b6"/>
<path d="M1100 138l8 10 1-1-7-8z" fill="#3868c3"/>
<path d="M989 126l9 3 4-1-9-4z" fill="#45a3cd"/>
<path d="M1144 158l15-11 0-3-15 10z" fill="#273884"/>
<path d="M1070 134l8 5 3-5-8-5z" fill="#4697e2"/>
<path d="M1086 132l8 7 2-7-7-7z" fill="#4396d5"/>
<path d="M1079 135l7 5 3-9-8-5z" fill="#3c83be"/>
<path d="M1159 138l15-11 1-4-16 12z" fill="#27557f"/>
<path d="M1062 132l8 5 2-3-8-5z" fill="#469adf"/>
<path d="M1106 146l8 10 1-1-7-9z" fill="#3757c0"/>
<path d="M1131 176l14-10 0-3-14 10z" fill="#3a1b76"/>
<path d="M1053 128l8 5 3-1-9-4z" fill="#4297cb"/>
<path d="M1000 127l9 4 4-3-9-4z" fill="#46a7d2"/>
<path d="M1017 113l8 3 4-6-9-4z" fill="#4aaf8c"/>
<path d="M1113 154l7 10 1-1-8-10z" fill="#3b41b7"/>
<path d="M1093 137l7 8 2-6-7-8z" fill="#438be0"/>
<path d="M1175 118l16-12 1-4-17 13z" fill="#2d6c5f"/>
<path d="M1014 123l8 3 4-11-9-3z" fill="#357f7d"/>
<path d="M1085 140l8 6 2-9-8-6z" fill="#3d81cd"/>
<path d="M1119 163l7 10 0-2-7-10z" fill="#492dae"/>
<path d="M1077 138l8 6 2-5-8-6z" fill="#4591e8"/>
<path d="M1011 128l9 4 3-7-9-3z" fill="#3f9ab7"/>
<path d="M1125 172l7 10 0-3-7-10z" fill="#6324aa"/>
<path d="M1068 136l9 5 2-2-8-6z" fill="#4594e2"/>
<path d="M1099 144l8 8 1-5-7-9z" fill="#427be5"/>
<path d="M1144 161l14-11 1-3-15 10z" fill="#273784"/>
<path d="M1158 142l16-12 0-3-15 11z" fill="#27547f"/>
<path d="M997 128l9 4 4-2-10-3z" fill="#45a4cc"/>
<path d="M1060 132l8 5 2-1-8-5z" fill="#4193cd"/>
<path d="M1091 145l8 7 2-8-8-7z" fill="#3f7bdb"/>
<path d="M1105 151l8 9 1-5-7-9z" fill="#4066df"/>
<path d="M1131 179l14-10 0-3-14 10z" fill="#3a1b76"/>
<path d="M1024 116l8 3 4-6-9-4z" fill="#4ab08e"/>
<path d="M1083 143l8 6 2-4-8-7z" fill="#4588ed"/>
<path d="M1007 130l10 4 3-3-9-4z" fill="#46a7d2"/>
<path d="M1174 121l16-12 1-3-16 12z" fill="#2d6b61"/>
<path d="M1112 158l7 10 1-4-7-10z" fill="#424bd0"/>
<path d="M1021 126l9 3 3-11-9-4z" fill="#35807f"/>
<path d="M1075 140l8 6 2-3-8-6z" fill="#448de5"/>
<path d="M1098 151l8 7 1-7-7-8z" fill="#4171e5"/>
<path d="M1118 167l7 10 1-4-7-11z" fill="#4f31bd"/>
<path d="M1018 131l9 4 3-7-8-4z" fill="#409ab9"/>
<path d="M1066 136l9 6 2-1-8-6z" fill="#418dd0"/>
<path d="M1090 148l8 7 2-4-8-7z" fill="#447cee"/>
<path d="M1124 175l8 11 0-4-7-11z" fill="#6625af"/>
<path d="M1104 157l8 8 1-6-7-9z" fill="#4260e2"/>
<path d="M1144 164l14-10 0-4-14 11z" fill="#273784"/>
<path d="M1158 145l15-11 0-4-15 11z" fill="#275380"/>
<path d="M970 118l10 3 3-5-9-2z" fill="#4eb89b"/>
<path d="M1004 131l10 4 3-2-9-4z" fill="#45a4cc"/>
<path d="M1082 145l8 6 2-2-8-7z" fill="#4383e7"/>
<path d="M1031 118l9 4 3-6-9-4z" fill="#4bb192"/>
<path d="M967 129l9 2 4-11-10-3z" fill="#347c7d"/>
<path d="M1131 182l13-9 0-4-13 10z" fill="#3b1b76"/>
<path d="M1173 125l16-12 1-4-16 12z" fill="#2c6a63"/>
<path d="M1111 164l8 9 1-5-8-10z" fill="#4746d5"/>
<path d="M963 135l10 3 4-8-10-3z" fill="#3989aa"/>
<path d="M1097 154l8 8 1-4-8-8z" fill="#436ce9"/>
<path d="M1015 133l10 4 3-3-10-4z" fill="#46a7d3"/>
<path d="M1028 129l9 3 3-11-8-4z" fill="#368081"/>
<path d="M1073 140l9 7 2-1-9-7z" fill="#4086d3"/>
<path d="M1117 171l8 10 1-5-8-10z" fill="#5632c5"/>
<path d="M1089 150l8 7 1-2-8-8z" fill="#4277e7"/>
<path d="M1026 134l9 4 3-7-9-4z" fill="#409bbc"/>
<path d="M959 137l10 3 4-3-10-3z" fill="#449dd3"/>
<path d="M1103 160l8 9 2-4-8-9z" fill="#425adf"/>
<path d="M1124 179l8 10 0-4-7-10z" fill="#6c26b6"/>
<path d="M1157 148l15-11 1-3-15 11z" fill="#275281"/>
<path d="M1190 104l18-13 0-4-17 13z" fill="#597535"/>
<path d="M1143 167l14-10 1-3-15 10z" fill="#273684"/>
<path d="M1038 122l9 4 3-7-9-4z" fill="#4bb297"/>
<path d="M1012 134l10 4 3-2-10-4z" fill="#45a4cc"/>
<path d="M1080 145l9 7 1-1-8-7z" fill="#3f7ed7"/>
<path d="M1173 128l16-11 0-4-16 12z" fill="#2c6965"/>
<path d="M978 120l10 3 3-4-9-3z" fill="#4fbb98"/>
<path d="M1110 167l8 9 1-4-8-9z" fill="#483ecf"/>
<path d="M1095 156l9 8 1-3-8-8z" fill="#4168e1"/>
<path d="M1130 185l14-9 0-4-14 10z" fill="#3b1a75"/>
<path d="M1023 136l9 4 3-3-9-4z" fill="#47a7d4"/>
<path d="M1036 132l9 4 2-12-8-4z" fill="#368185"/>
<path d="M955 139l11 3 4-3-11-3z" fill="#449cd3"/>
<path d="M975 131l9 3 4-12-10-3z" fill="#357e7a"/>
<path d="M971 137l10 3 4-8-10-3z" fill="#3a8ca9"/>
<path d="M1117 175l8 9 0-4-7-9z" fill="#5730c2"/>
<path d="M1033 137l9 4 3-6-9-4z" fill="#419bbf"/>
<path d="M1102 162l9 9 1-3-8-8z" fill="#4056d8"/>
<path d="M1190 107l16-12 1-4-17 12z" fill="#567537"/>
<path d="M1087 151l9 7 1-1-8-7z" fill="#3e73d8"/>
<path d="M1157 152l14-11 1-4-15 11z" fill="#275182"/>
<path d="M1143 171l14-10 0-4-14 10z" fill="#273583"/>
<path d="M1045 125l9 5 3-6-9-5z" fill="#4bb39e"/>
<path d="M1123 182l8 10 1-4-8-9z" fill="#6e27b8"/>
<path d="M968 139l10 4 4-4-11-3z" fill="#45a1d2"/>
<path d="M1172 132l16-12 0-4-16 12z" fill="#2b6867"/>
<path d="M1109 170l8 9 1-3-8-9z" fill="#473cca"/>
<path d="M1020 137l10 4 3-2-10-4z" fill="#45a4cd"/>
<path d="M1043 135l9 5 3-12-9-4z" fill="#36828b"/>
<path d="M1094 157l9 8 1-1-8-8z" fill="#3d66d6"/>
<path d="M1130 189l13-10 1-3-14 9z" fill="#3b1a75"/>
<path d="M1031 139l9 4 3-3-10-4z" fill="#47a6d6"/>
<path d="M986 123l10 3 3-5-9-3z" fill="#50bd97"/>
<path d="M1189 111l16-13 1-4-17 13z" fill="#527539"/>
<path d="M1116 177l8 10 1-3-8-10z" fill="#562fbf"/>
<path d="M1041 141l9 4 3-6-9-5z" fill="#419bc3"/>
<path d="M983 133l10 3 3-12-9-2z" fill="#357f79"/>
<path d="M964 141l11 3 3-2-10-3z" fill="#45a0d2"/>
<path d="M1053 129l9 5 2-6-8-5z" fill="#4bb3a7"/>
<path d="M1156 155l15-11 0-3-15 10z" fill="#275083"/>
<path d="M980 140l10 3 3-8-10-3z" fill="#3a8da8"/>
<path d="M1101 164l9 9 1-2-8-9z" fill="#3d56d0"/>
<path d="M1142 174l14-10 1-4-14 10z" fill="#273483"/>
<path d="M1171 135l16-11 0-4-15 11z" fill="#2b6769"/>
<path d="M1123 185l8 10 1-3-8-10z" fill="#6e27b7"/>
<path d="M1051 139l9 5 2-11-9-5z" fill="#368392"/>
<path d="M1028 140l10 4 2-1-9-5z" fill="#45a3ce"/>
<path d="M976 142l11 4 3-4-10-3z" fill="#45a3d2"/>
<path d="M1108 171l9 10 1-2-9-10z" fill="#433dc5"/>
<path d="M1038 142l10 5 3-3-10-4z" fill="#47a4d8"/>
<path d="M1130 192l13-9 0-4-13 9z" fill="#3b1a75"/>
<path d="M1188 114l16-12 1-4-17 12z" fill="#4f743c"/>
<path d="M994 125l10 4 4-5-10-3z" fill="#52bf96"/>
<path d="M1060 133l9 6 3-6-9-6z" fill="#4ab2b3"/>
<path d="M1048 144l10 5 2-6-9-5z" fill="#429ac9"/>
<path d="M1115 179l9 11 1-3-9-10z" fill="#532fbc"/>
<path d="M1156 158l14-10 1-4-15 11z" fill="#274f83"/>
<path d="M991 136l10 3 3-12-9-3z" fill="#357f78"/>
<path d="M1170 139l16-12 1-3-16 11z" fill="#2a666b"/>
<path d="M1142 177l14-9 0-4-14 10z" fill="#273382"/>
<path d="M973 144l10 3 4-2-11-4z" fill="#45a2d1"/>
<path d="M1058 143l9 6 3-11-9-6z" fill="#37859d"/>
<path d="M988 143l10 3 4-8-10-3z" fill="#3b8fa7"/>
<path d="M1100 162l9 10 1 1-9-9z" fill="#3857c1"/>
<path d="M1123 188l8 10 1-3-9-10z" fill="#6d26b6"/>
<path d="M1206 92l17-9 2-8-18 13z" fill="#8b6e26"/>
<path d="M1036 143l10 5 2-1-9-5z" fill="#44a1cf"/>
<path d="M1068 138l9 7 2-6-9-7z" fill="#49afc1"/>
<path d="M1187 118l16-12 1-4-16 12z" fill="#4b733f"/>
<path d="M1046 146l10 5 2-3-9-5z" fill="#47a1db"/>
<path d="M1130 195l13-9 0-4-13 9z" fill="#3c1a75"/>
<path d="M943 134l11 2 4-3-11-2z" fill="#4bb4a9"/>
<path d="M1056 148l10 6 2-6-9-6z" fill="#4399d0"/>
<path d="M1108 171l8 11 1-1-8-10z" fill="#3c41ba"/>
<path d="M985 145l10 4 4-4-11-4z" fill="#46a5d1"/>
<path d="M1155 162l14-10 1-4-15 10z" fill="#274e84"/>
<path d="M1003 128l10 4 3-5-10-4z" fill="#54c097"/>
<path d="M1170 142l15-11 1-4-16 11z" fill="#2a656d"/>
<path d="M940 143l10 3 4-12-10-1z" fill="#337c84"/>
<path d="M1066 148l9 6 2-10-9-7z" fill="#3885a8"/>
<path d="M1205 96l17-6 1-8-17 10z" fill="#8b782c"/>
<path d="M1115 180l9 12 0-3-8-10z" fill="#4a2eaf"/>
<path d="M936 151l11 2 4-9-11-2z" fill="#357ca3"/>
<path d="M1142 180l13-9 0-4-13 10z" fill="#283282"/>
<path d="M1075 144l9 7 2-5-9-8z" fill="#46a9cf"/>
<path d="M1092 153l9 10 1 1-9-9z" fill="#3871be"/>
<path d="M1000 139l10 3 3-12-10-3z" fill="#368078"/>
<path d="M1186 121l16-11 1-4-16 12z" fill="#487342"/>
<path d="M1122 190l9 12 0-4-8-10z" fill="#6625ae"/>
<path d="M997 146l10 3 3-8-10-4z" fill="#3b90a7"/>
<path d="M1054 150l10 6 2-3-9-6z" fill="#469dde"/>
<path d="M932 154l11 2 4-4-11-2z" fill="#4291d3"/>
<path d="M1044 147l10 6 2-2-10-5z" fill="#449ed1"/>
<path d="M982 146l10 4 4-2-11-4z" fill="#45a4d0"/>
<path d="M1064 153l10 6 2-6-10-6z" fill="#4496d8"/>
<path d="M1099 161l9 11 1 0-8-10z" fill="#3761c3"/>
<path d="M1130 198l12-8 0-4-12 9z" fill="#3c1a75"/>
<path d="M1074 153l9 7 2-10-9-7z" fill="#3a84b6"/>
<path d="M1083 150l9 9 2-5-9-9z" fill="#459cd8"/>
<path d="M1204 99l17-9 1-1-17 6z" fill="#938432"/>
<path d="M1154 165l15-10 0-4-14 10z" fill="#274d85"/>
<path d="M1169 146l15-11 1-4-15 11z" fill="#29646f"/>
<path d="M994 148l10 4 4-4-11-4z" fill="#46a7d1"/>
<path d="M1107 171l9 12 0-1-8-11z" fill="#374dbc"/>
<path d="M928 156l12 3 4-3-12-3z" fill="#4390d8"/>
<path d="M1011 131l10 4 3-4-10-4z" fill="#54c298"/>
<path d="M952 135l11 3 4-3-11-2z" fill="#4eb9a4"/>
<path d="M1141 184l14-9 0-4-13 9z" fill="#283182"/>
<path d="M1185 125l16-12 1-4-16 12z" fill="#447245"/>
<path d="M1114 181l9 13 1-3-9-11z" fill="#4330af"/>
<path d="M1090 157l10 10 1-5-9-10z" fill="#438be0"/>
<path d="M1072 158l9 7 2-6-9-7z" fill="#4491e2"/>
<path d="M1062 155l10 6 2-3-10-6z" fill="#4697e1"/>
<path d="M1052 151l10 6 2-1-10-6z" fill="#4499d4"/>
<path d="M1008 142l10 4 3-12-9-4z" fill="#368179"/>
<path d="M1081 159l10 8 2-9-10-8z" fill="#3d81c7"/>
<path d="M949 145l11 3 3-11-10-3z" fill="#357e7f"/>
<path d="M1122 192l9 13 0-3-8-12z" fill="#6024aa"/>
<path d="M945 153l12 3 3-9-11-3z" fill="#3680a0"/>
<path d="M1006 149l10 4 3-8-10-4z" fill="#3c91a8"/>
<path d="M1098 166l9 10 2-4-9-11z" fill="#4075e1"/>
<path d="M991 149l10 4 4-2-11-4z" fill="#46a6d0"/>
<path d="M1203 103l16-12 2-1-18 9z" fill="#887a2e"/>
<path d="M1130 202l12-9 0-4-12 9z" fill="#3c1a75"/>
<path d="M1168 149l15-10 1-4-15 10z" fill="#296371"/>
<path d="M1154 169l14-10 0-4-14 10z" fill="#274c85"/>
<path d="M924 155l12 2 4 1-12-2z" fill="#3c85c0"/>
<path d="M942 156l11 3 4-4-11-3z" fill="#4397d2"/>
<path d="M1089 166l9 8 2-8-9-9z" fill="#3f7bda"/>
<path d="M1080 164l9 7 2-5-9-8z" fill="#4488eb"/>
<path d="M1184 129l16-12 1-4-16 12z" fill="#417249"/>
<path d="M1106 175l9 12 1-5-9-12z" fill="#3e59d4"/>
<path d="M1070 160l10 7 2-3-10-7z" fill="#458fe5"/>
<path d="M1141 187l13-9 0-4-13 10z" fill="#282f81"/>
<path d="M1019 134l11 5 3-5-10-4z" fill="#52c39b"/>
<path d="M1003 151l10 4 3-3-10-4z" fill="#46a7d2"/>
<path d="M1060 156l10 7 2-2-10-7z" fill="#4393d7"/>
<path d="M1114 185l9 12 0-4-8-12z" fill="#4735bf"/>
<path d="M1222 83l17-5 2-15-18 13z" fill="#8a4c1a"/>
<path d="M1097 173l9 10 2-7-9-11z" fill="#416ee4"/>
<path d="M1017 145l10 5 3-12-10-5z" fill="#36827b"/>
<path d="M961 137l12 3 3-2-11-3z" fill="#50bd9f"/>
<path d="M938 158l12 3 3-3-11-3z" fill="#4497d6"/>
<path d="M1121 196l9 12 1-3-9-13z" fill="#6125ae"/>
<path d="M1201 107l17-12 1-4-17 12z" fill="#7d722c"/>
<path d="M1168 153l14-11 1-4-15 11z" fill="#286273"/>
<path d="M1220 90l17 3 2-16-18 5z" fill="#906422"/>
<path d="M1088 170l10 9 1-5-9-9z" fill="#447bee"/>
<path d="M1153 172l14-9 1-4-14 9z" fill="#274b85"/>
<path d="M1014 152l11 5 3-9-11-4z" fill="#3c92ab"/>
<path d="M1129 205l13-9 0-3-13 8z" fill="#3d1a75"/>
<path d="M1183 132l16-11 1-4-16 11z" fill="#3e714c"/>
<path d="M1079 166l9 8 2-3-10-8z" fill="#4383e8"/>
<path d="M958 147l11 4 4-12-11-3z" fill="#36807b"/>
<path d="M1105 181l9 11 1-6-9-11z" fill="#4256dd"/>
<path d="M1000 153l11 4 3-2-11-5z" fill="#46a6d0"/>
<path d="M955 155l11 4 4-10-11-3z" fill="#36839e"/>
<path d="M1069 161l10 8 1-2-9-7z" fill="#428bdb"/>
<path d="M1141 191l12-9 1-4-13 9z" fill="#292e81"/>
<path d="M1028 138l10 5 3-4-10-5z" fill="#52c39f"/>
<path d="M1096 177l10 10 1-5-9-10z" fill="#4368e8"/>
<path d="M1113 190l9 12 1-5-9-12z" fill="#5036c9"/>
<path d="M1012 155l10 4 3-3-10-5z" fill="#47a8d3"/>
<path d="M1200 111l17-12 1-4-17 12z" fill="#77712c"/>
<path d="M951 158l12 4 4-4-12-4z" fill="#449cd1"/>
<path d="M1167 156l14-10 1-4-15 11z" fill="#286175"/>
<path d="M1087 172l10 9 1-3-10-9z" fill="#4275e7"/>
<path d="M1121 200l9 12 1-4-9-13z" fill="#6827b6"/>
<path d="M1026 149l10 5 3-12-10-5z" fill="#37837e"/>
<path d="M1153 176l13-10 1-4-14 10z" fill="#274a86"/>
<path d="M1182 136l16-11 0-4-15 11z" fill="#3a714f"/>
<path d="M1104 185l10 11 1-5-10-10z" fill="#454dd9"/>
<path d="M1129 208l12-8 0-4-12 8z" fill="#3d1a75"/>
<path d="M915 153l13 0 4 0-12-1z" fill="#429fb5"/>
<path d="M1077 167l10 8 2-2-10-8z" fill="#4181de"/>
<path d="M1023 156l11 5 3-9-11-4z" fill="#3d93ae"/>
<path d="M971 139l11 4 4-2-12-4z" fill="#51c09c"/>
<path d="M948 160l12 4 3-3-11-4z" fill="#449cd4"/>
<path d="M1140 194l13-9 0-4-13 9z" fill="#292d80"/>
<path d="M1009 156l11 5 3-2-11-5z" fill="#46a6d1"/>
<path d="M1199 115l16-12 2-4-17 12z" fill="#72712e"/>
<path d="M1095 180l10 10 1-4-10-9z" fill="#4062de"/>
<path d="M1112 194l10 11 1-4-10-11z" fill="#5334c7"/>
<path d="M1037 142l10 6 3-5-11-5z" fill="#52c2a5"/>
<path d="M968 150l11 4 3-12-11-3z" fill="#368279"/>
<path d="M912 162l12 1 4-10-12-1z" fill="#337996"/>
<path d="M1166 160l14-10 1-4-14 10z" fill="#286076"/>
<path d="M908 170l12 1 4-10-12-1z" fill="#326da2"/>
<path d="M965 158l11 4 4-10-12-3z" fill="#37859b"/>
<path d="M1021 158l11 5 2-3-10-5z" fill="#47a7d5"/>
<path d="M1181 140l15-11 1-4-15 11z" fill="#377052"/>
<path d="M1152 179l13-9 1-4-13 9z" fill="#274986"/>
<path d="M1085 174l11 9 1-2-10-9z" fill="#4073de"/>
<path d="M1121 204l9 11 1-4-10-11z" fill="#6b27b8"/>
<path d="M1035 153l10 5 2-12-10-5z" fill="#378483"/>
<path d="M904 173l13 2 4-5-13-1z" fill="#3e7dd3"/>
<path d="M1103 188l10 11 1-4-9-10z" fill="#4448d1"/>
<path d="M961 161l12 4 4-4-12-4z" fill="#45a0d0"/>
<path d="M1129 212l12-8 0-4-12 8z" fill="#3e1975"/>
<path d="M1235 93l17 5 3-26-17 5z" fill="#8e561d"/>
<path d="M1198 118l16-11 1-4-16 11z" fill="#6e722f"/>
<path d="M1032 160l11 5 3-8-11-5z" fill="#3d93b3"/>
<path d="M1140 198l12-9 1-4-13 9z" fill="#292c80"/>
<path d="M1046 147l10 6 2-4-10-7z" fill="#51c0ad"/>
<path d="M1112 197l9 11 1-3-9-11z" fill="#5232c2"/>
<path d="M1094 182l10 10 1-3-10-9z" fill="#3e61d8"/>
<path d="M980 142l12 4 3-2-11-4z" fill="#52c29a"/>
<path d="M900 176l13 2 4-4-13-1z" fill="#3f7ddb"/>
<path d="M1165 164l14-10 1-4-14 10z" fill="#285e77"/>
<path d="M1238 78l17-4 3-17-19 7z" fill="#892013"/>
<path d="M1018 160l11 5 3-2-11-5z" fill="#46a5d2"/>
<path d="M1180 144l15-11 1-4-15 11z" fill="#337055"/>
<path d="M1152 183l13-9 0-4-13 9z" fill="#274786"/>
<path d="M958 163l12 4 3-3-12-4z" fill="#45a0d3"/>
<path d="M926 153l12 2 4-1-12-2z" fill="#45a5aa"/>
<path d="M1030 162l11 6 2-4-10-5z" fill="#47a6d7"/>
<path d="M1216 96l18-13 1-2-17 11z" fill="#955d1f"/>
<path d="M978 153l11 4 3-12-11-4z" fill="#378377"/>
<path d="M1120 207l10 12 0-4-9-12z" fill="#6c27b8"/>
<path d="M1044 158l10 5 2-11-10-6z" fill="#37858b"/>
<path d="M1197 122l16-10 1-5-16 11z" fill="#6a7431"/>
<path d="M1103 190l10 11 0-3-9-10z" fill="#4149cd"/>
<path d="M975 161l11 4 3-9-11-4z" fill="#37869a"/>
<path d="M1129 215l11-8 1-4-12 8z" fill="#3e1975"/>
<path d="M896 178l13 0 4-1-13-1z" fill="#3e7bd7"/>
<path d="M1041 164l11 6 3-8-11-6z" fill="#3e94ba"/>
<path d="M922 162l12 2 4-10-12-2z" fill="#347f8d"/>
<path d="M1139 201l13-8 0-4-12 8z" fill="#2a2b7f"/>
<path d="M1054 152l11 7 2-4-10-8z" fill="#4fbcb8"/>
<path d="M1165 167l13-9 1-4-14 9z" fill="#285d78"/>
<path d="M919 171l12 2 4-10-12-2z" fill="#32739d"/>
<path d="M1179 147l15-10 1-4-15 10z" fill="#306f58"/>
<path d="M971 164l12 4 4-4-12-4z" fill="#45a3d0"/>
<path d="M1111 200l10 11 1-3-10-11z" fill="#5032c0"/>
<path d="M1093 180l10 11 1 1-10-10z" fill="#385fc5"/>
<path d="M1215 100l17-12 1-5-17 13z" fill="#8f5c1f"/>
<path d="M1151 187l13-9 0-4-13 9z" fill="#274687"/>
<path d="M1196 126l15-10 2-4-16 10z" fill="#667633"/>
<path d="M915 175l13 2 3-5-12-2z" fill="#3f88d0"/>
<path d="M1028 164l11 5 2-2-11-5z" fill="#46a4d3"/>
<path d="M990 145l12 5 3-2-12-5z" fill="#54c399"/>
<path d="M1053 163l10 6 2-11-10-7z" fill="#388696"/>
<path d="M1039 167l11 6 3-4-11-6z" fill="#47a3da"/>
<path d="M1120 210l10 12 0-4-10-11z" fill="#6a27b7"/>
<path d="M1129 218l11-7 0-4-11 8z" fill="#3e1975"/>
<path d="M1102 190l10 12 1-1-10-11z" fill="#394bbf"/>
<path d="M1063 158l11 8 2-4-11-8z" fill="#4bb5c4"/>
<path d="M968 166l12 4 4-2-12-5z" fill="#45a3d2"/>
<path d="M987 156l12 4 3-11-11-4z" fill="#388476"/>
<path d="M1178 151l15-10 1-4-15 10z" fill="#2f6e5a"/>
<path d="M1164 171l13-9 1-4-14 9z" fill="#285c79"/>
<path d="M1139 205l12-9 0-4-12 9z" fill="#2a2a7f"/>
<path d="M1051 169l11 6 2-7-11-7z" fill="#3f93c2"/>
<path d="M911 177l13 3 4-4-13-2z" fill="#4188da"/>
<path d="M1214 104l16-12 2-5-17 13z" fill="#8f6020"/>
<path d="M985 165l11 4 3-10-11-4z" fill="#388799"/>
<path d="M936 154l13 3 3 0-12-3z" fill="#47aaa0"/>
<path d="M1195 130l15-11 1-4-15 11z" fill="#617534"/>
<path d="M1251 98l17-2 4-32-18 8z" fill="#8b3817"/>
<path d="M1151 190l12-8 1-5-13 9z" fill="#274587"/>
<path d="M1111 201l10 13 0-3-10-11z" fill="#4630b2"/>
<path d="M1062 168l10 7 2-10-10-8z" fill="#3888a6"/>
<path d="M1037 168l11 6 3-2-12-6z" fill="#46a1d5"/>
<path d="M981 168l13 4 3-4-12-4z" fill="#45a5d0"/>
<path d="M887 178l14-1 4-1-13 0z" fill="#3d82c7"/>
<path d="M1072 165l11 9 2-4-11-10z" fill="#46a9d0"/>
<path d="M933 164l12 2 4-10-13-3z" fill="#368386"/>
<path d="M1049 172l11 6 2-3-11-7z" fill="#479fde"/>
<path d="M1212 109l17-9 1-8-16 12z" fill="#8d6522"/>
<path d="M907 178l13 2 4-1-13-2z" fill="#3f85d2"/>
<path d="M1254 74l18-9 2-2-18-6z" fill="#911812"/>
<path d="M1119 212l10 14 1-4-10-12z" fill="#6426b0"/>
<path d="M1000 149l12 5 3-3-12-4z" fill="#55c398"/>
<path d="M1177 155l15-10 1-4-15 10z" fill="#2e6d5d"/>
<path d="M929 173l13 3 3-11-12-3z" fill="#337898"/>
<path d="M1163 175l13-9 1-4-13 9z" fill="#275a7a"/>
<path d="M1128 222l12-8 0-4-12 8z" fill="#3f1975"/>
<path d="M1060 174l11 8 2-8-11-7z" fill="#4191cd"/>
<path d="M1139 208l11-8 1-4-12 8z" fill="#2b297e"/>
<path d="M1193 134l16-11 1-4-16 11z" fill="#5c7434"/>
<path d="M884 185l13 0 3-9-12 1z" fill="#346bae"/>
<path d="M926 176l13 3 3-4-12-4z" fill="#4190ce"/>
<path d="M1101 189l10 14 1-1-10-12z" fill="#3754bf"/>
<path d="M997 160l12 4 3-12-12-4z" fill="#388577"/>
<path d="M1211 113l16-3 1-11-16 9z" fill="#947327"/>
<path d="M1150 194l12-9 1-4-13 9z" fill="#274487"/>
<path d="M1071 174l11 9 2-10-11-9z" fill="#3b86b6"/>
<path d="M1082 173l10 10 2-4-11-10z" fill="#4396d6"/>
<path d="M978 170l13 4 3-2-12-5z" fill="#46a5d1"/>
<path d="M880 192l13 0 4-9-13 1z" fill="#335fb2"/>
<path d="M995 168l11 5 3-10-11-4z" fill="#388899"/>
<path d="M1110 201l10 15 1-2-10-14z" fill="#3f33b2"/>
<path d="M1232 85l17-13 2-1-18 11z" fill="#952815"/>
<path d="M1176 159l14-10 1-4-14 10z" fill="#2d6c5f"/>
<path d="M1047 173l11 7 2-2-11-7z" fill="#459cd8"/>
<path d="M876 197l13 0 4-6-13 0z" fill="#3b62ce"/>
<path d="M1058 177l11 7 2-3-11-7z" fill="#4698e2"/>
<path d="M1162 179l13-9 1-5-13 10z" fill="#27597b"/>
<path d="M922 179l13 3 4-3-13-3z" fill="#4392d7"/>
<path d="M1192 138l15-10 1-5-15 11z" fill="#577536"/>
<path d="M947 156l12 3 4 0-13-3z" fill="#49ad99"/>
<path d="M1069 181l11 8 2-7-11-9z" fill="#428dda"/>
<path d="M1119 214l10 15 1-4-10-13z" fill="#5d25aa"/>
<path d="M1091 182l10 12 2-4-11-12z" fill="#407fdb"/>
<path d="M1209 116l16-5 2-2-16 3z" fill="#a88b32"/>
<path d="M992 171l12 5 3-4-12-5z" fill="#46a7d0"/>
<path d="M1128 225l11-7 0-4-11 7z" fill="#3f1975"/>
<path d="M1138 212l12-8 0-4-12 8z" fill="#2b287e"/>
<path d="M1010 153l12 5 2-2-11-5z" fill="#54c39a"/>
<path d="M1080 182l11 9 2-8-11-11z" fill="#3e83cb"/>
<path d="M1149 198l13-9 0-4-12 8z" fill="#274388"/>
<path d="M872 200l13 0 4-4-13 0z" fill="#3d5fd2"/>
<path d="M1100 192l11 14 0-4-10-13z" fill="#3d62d4"/>
<path d="M943 166l13 3 3-11-12-3z" fill="#388680"/>
<path d="M1230 89l18-13 1-4-17 12z" fill="#8c2614"/>
<path d="M1176 163l13-10 1-4-14 10z" fill="#2d6b62"/>
<path d="M940 175l13 4 3-11-12-3z" fill="#337c95"/>
<path d="M1007 164l12 5 3-12-12-5z" fill="#388678"/>
<path d="M918 179l13 3 4 0-13-3z" fill="#408ccc"/>
<path d="M1191 142l15-10 1-5-15 11z" fill="#537539"/>
<path d="M1161 183l13-9 1-5-13 9z" fill="#27587c"/>
<path d="M1068 183l11 9 2-4-11-8z" fill="#458ee7"/>
<path d="M1079 188l11 9 2-6-11-10z" fill="#4384e8"/>
<path d="M1089 190l11 11 2-8-11-12z" fill="#4078df"/>
<path d="M1056 179l12 7 2-2-12-7z" fill="#4495dc"/>
<path d="M898 177l14 0 4 0-13-1z" fill="#3e90be"/>
<path d="M1109 204l11 15 0-4-10-14z" fill="#423bc0"/>
<path d="M1267 96l18-7 3-20-17-5z" fill="#861911"/>
<path d="M989 173l12 5 3-2-12-5z" fill="#46a6d1"/>
<path d="M1005 172l12 5 3-9-12-5z" fill="#39899b"/>
<path d="M867 203l14 0 4-4-13 1z" fill="#3d5bd1"/>
<path d="M937 179l13 4 3-5-13-4z" fill="#4297cd"/>
<path d="M1208 120l16-10 1 1-16 5z" fill="#9c802e"/>
<path d="M1270 65l19 5 2-2-19-6z" fill="#d9d9d9"/>
<path d="M1119 217l10 16 0-4-10-15z" fill="#5d26ad"/>
<path d="M1138 215l11-7 1-4-12 7z" fill="#2b277d"/>
<path d="M1128 229l11-7 0-4-11 7z" fill="#401974"/>
<path d="M1229 93l17-12 1-5-17 13z" fill="#8c2c15"/>
<path d="M1149 201l12-8 0-4-12 8z" fill="#274287"/>
<path d="M1099 200l11 12 1-6-11-14z" fill="#4163e1"/>
<path d="M895 184l13 1 4-9-13 0z" fill="#3578a6"/>
<path d="M1020 157l12 6 2-2-11-6z" fill="#52c29d"/>
<path d="M1175 167l13-9 1-5-14 10z" fill="#2c6965"/>
<path d="M1002 175l13 6 2-5-12-5z" fill="#46a7d1"/>
<path d="M1190 146l14-10 2-4-15 10z" fill="#4f743c"/>
<path d="M957 159l13 3 4 1-13-4z" fill="#4aaf93"/>
<path d="M1088 196l12 10 1-5-11-12z" fill="#4375ed"/>
<path d="M863 206l14-1 4-3-14 1z" fill="#3c59cf"/>
<path d="M891 192l14 1 3-9-13-1z" fill="#336aac"/>
<path d="M933 181l13 4 4-3-13-4z" fill="#4499d5"/>
<path d="M1227 101l16-7 2-13-17 12z" fill="#893a17"/>
<path d="M1078 190l11 10 1-3-11-10z" fill="#4380e9"/>
<path d="M1161 186l12-8 1-5-13 9z" fill="#27567e"/>
<path d="M1225 110l16 3 2-20-16 7z" fill="#8f5d1f"/>
<path d="M1108 211l11 13 1-5-10-15z" fill="#493bcd"/>
<path d="M1066 185l12 9 1-3-11-8z" fill="#438be0"/>
<path d="M1207 125l15-11 2-4-16 10z" fill="#8a7229"/>
<path d="M887 196l14 1 4-5-14-1z" fill="#3c73d1"/>
<path d="M1018 168l11 6 3-12-12-6z" fill="#39877c"/>
<path d="M954 169l13 4 3-11-12-4z" fill="#39887c"/>
<path d="M1137 219l12-7 0-5-11 8z" fill="#2c257d"/>
<path d="M1098 205l11 12 1-5-11-13z" fill="#425ce2"/>
<path d="M1118 222l11 14 0-4-10-15z" fill="#6327b6"/>
<path d="M1223 111l16 0 2 1-16-3z" fill="#c99231"/>
<path d="M859 210l14-2 4-4-14 2z" fill="#3b55ca"/>
<path d="M1128 233l10-7 1-5-11 7z" fill="#401974"/>
<path d="M1015 177l12 5 3-10-12-5z" fill="#398b9e"/>
<path d="M951 178l13 4 3-11-12-4z" fill="#347e91"/>
<path d="M1148 205l12-8 0-4-12 8z" fill="#274187"/>
<path d="M999 178l13 5 3-3-13-5z" fill="#46a7d2"/>
<path d="M1174 171l13-9 1-5-14 10z" fill="#2b6867"/>
<path d="M1247 72l18 2 2-3-18 1z" fill="#c02018"/>
<path d="M1189 150l14-10 1-4-14 10z" fill="#4b7340"/>
<path d="M1087 199l12 10 1-3-11-11z" fill="#426de5"/>
<path d="M929 182l14 3 4 0-14-4z" fill="#4092c6"/>
<path d="M883 200l14 1 4-4-14-1z" fill="#3e73da"/>
<path d="M1160 190l12-8 1-5-13 9z" fill="#27557f"/>
<path d="M1030 162l12 6 2-2-11-6z" fill="#51c0a1"/>
<path d="M948 182l13 4 4-5-13-4z" fill="#439ccc"/>
<path d="M1205 129l16-11 1-5-15 11z" fill="#827029"/>
<path d="M1076 193l12 9 1-2-11-10z" fill="#417ee3"/>
<path d="M1108 215l11 13 1-4-11-14z" fill="#4e38cc"/>
<path d="M855 214l14-1 4-6-14 2z" fill="#394bbf"/>
<path d="M1013 180l12 5 3-4-12-5z" fill="#46a7d3"/>
<path d="M910 177l13 1 4 0-13-2z" fill="#409ab5"/>
<path d="M1287 69l18 6 3-2-19-6z" fill="#d9d9d9"/>
<path d="M968 162l13 4 3 0-12-4z" fill="#4ab08f"/>
<path d="M1188 155l14-10 1-5-14 10z" fill="#467344"/>
<path d="M1097 208l12 12 1-4-12-11z" fill="#4154d8"/>
<path d="M1246 77l17-1 2-3-18-1z" fill="#bd2018"/>
<path d="M1137 223l11-7 0-5-11 8z" fill="#2c247c"/>
<path d="M1172 175l14-9 1-5-14 10z" fill="#2b676a"/>
<path d="M879 203l14 0 4-3-14-1z" fill="#3e70db"/>
<path d="M851 219l14-1 4-6-14 2z" fill="#3d40bc"/>
<path d="M1118 227l11 13 0-4-11-14z" fill="#6828b9"/>
<path d="M1028 173l12 6 2-12-11-6z" fill="#398981"/>
<path d="M1148 209l11-8 1-4-12 8z" fill="#273f86"/>
<path d="M1284 89l19-7 2-8-18-5z" fill="#891711"/>
<path d="M1128 236l10-7 0-4-10 7z" fill="#411974"/>
<path d="M944 184l14 5 3-3-13-5z" fill="#459ed4"/>
<path d="M1204 133l15-11 2-4-16 10z" fill="#7c702b"/>
<path d="M906 185l14 1 3-8-13-2z" fill="#3682a0"/>
<path d="M1086 201l12 11 1-3-11-11z" fill="#406ce0"/>
<path d="M1159 194l12-8 1-4-12 8z" fill="#275380"/>
<path d="M1026 181l12 6 2-9-12-6z" fill="#3a8ca4"/>
<path d="M903 193l13 2 4-10-13-1z" fill="#3472a4"/>
<path d="M1010 182l13 6 3-3-13-6z" fill="#46a6d3"/>
<path d="M846 223l15-1 4-5-14 1z" fill="#4238bc"/>
<path d="M965 172l13 4 3-11-12-4z" fill="#3a8a7a"/>
<path d="M1107 218l11 14 1-4-11-13z" fill="#4e36c6"/>
<path d="M1040 167l12 8 3-3-12-7z" fill="#4fbba8"/>
<path d="M963 182l12 4 4-11-13-4z" fill="#35808e"/>
<path d="M1239 113l15 4 4-30-16 6z" fill="#8d4c1a"/>
<path d="M1244 82l17-4 2-3-17 2z" fill="#b01e16"/>
<path d="M875 205l14-1 4-1-14-1z" fill="#3e6fd8"/>
<path d="M1075 191l12 10 1 1-12-10z" fill="#3974c3"/>
<path d="M1186 159l14-10 1-5-14 10z" fill="#427248"/>
<path d="M1171 179l13-9 1-4-13 9z" fill="#2a656c"/>
<path d="M899 197l14 2 4-5-14-2z" fill="#3e81d0"/>
<path d="M1203 137l14-10 2-5-15 11z" fill="#77712c"/>
<path d="M1023 185l13 6 2-4-12-7z" fill="#47a6d6"/>
<path d="M1137 227l10-7 1-5-11 7z" fill="#2d237c"/>
<path d="M1147 213l11-8 1-4-12 7z" fill="#273e86"/>
<path d="M1096 211l12 12 1-3-12-12z" fill="#3f54d5"/>
<path d="M941 184l14 4 3 0-13-4z" fill="#4095c2"/>
<path d="M842 227l15-2 4-4-15 1z" fill="#4733b9"/>
<path d="M1263 73l17 5 2-2-17-5z" fill="#d9d9d9"/>
<path d="M1117 230l11 14 1-4-11-14z" fill="#6927b9"/>
<path d="M959 185l14 5 3-5-13-4z" fill="#44a0cb"/>
<path d="M1242 95l17-7 2-11-17 4z" fill="#861811"/>
<path d="M1127 240l11-7 0-4-11 7z" fill="#411974"/>
<path d="M1038 178l12 7 3-12-12-6z" fill="#3a8a8a"/>
<path d="M1158 198l12-8 1-4-12 8z" fill="#275281"/>
<path d="M871 208l14-1 4-3-14 0z" fill="#3d6dd6"/>
<path d="M1221 115l15-12 2-1-16 9z" fill="#9a5d1f"/>
<path d="M979 165l14 5 3 0-13-4z" fill="#4bb08c"/>
<path d="M895 200l14 2 4-3-14-3z" fill="#4082db"/>
<path d="M1085 200l12 12 1 0-12-11z" fill="#3966c7"/>
<path d="M1185 163l14-9 1-5-14 9z" fill="#3e724b"/>
<path d="M921 178l14 2 4 1-14-3z" fill="#429fa8"/>
<path d="M838 231l14-2 5-4-15 2z" fill="#4b30b6"/>
<path d="M1036 187l13 6 2-9-12-7z" fill="#3a8dac"/>
<path d="M1303 74l19 6 3-2-19-6z" fill="#d9d9d9"/>
<path d="M1106 221l12 14 1-4-12-13z" fill="#4c35c4"/>
<path d="M1051 173l12 9 2-2-12-9z" fill="#4bb4b1"/>
<path d="M1201 142l15-9 1-6-15 10z" fill="#72742f"/>
<path d="M1170 183l13-9 1-4-13 9z" fill="#2a646f"/>
<path d="M956 188l14 5 3-3-13-5z" fill="#45a2d3"/>
<path d="M1021 187l13 6 2-3-12-6z" fill="#46a5d5"/>
<path d="M1261 75l17 6 2-3-17-5z" fill="#d9d9d9"/>
<path d="M1146 217l11-8 1-4-11 7z" fill="#273d86"/>
<path d="M867 213l14-1 4-5-14 0z" fill="#3a63cb"/>
<path d="M1136 230l11-6 0-5-11 7z" fill="#2d237c"/>
<path d="M1280 76l18 5 3-2-19-5z" fill="#cc221a"/>
<path d="M977 176l13 5 3-12-13-4z" fill="#3b8c78"/>
<path d="M834 235l14-2 4-4-14 2z" fill="#502cb3"/>
<path d="M1157 202l12-8 1-4-12 8z" fill="#275182"/>
<path d="M891 203l15 2 3-3-14-2z" fill="#4080dc"/>
<path d="M1117 233l11 14 1-4-12-13z" fill="#6827b8"/>
<path d="M1096 211l11 13 1-1-11-13z" fill="#3952c2"/>
<path d="M918 186l14 3 3-9-13-3z" fill="#398997"/>
<path d="M1219 119l16-11 1-5-16 11z" fill="#8f581d"/>
<path d="M1034 190l13 7 2-5-12-6z" fill="#47a4da"/>
<path d="M1127 243l10-6 0-4-10 6z" fill="#411974"/>
<path d="M1301 82l19 0 2-3-19-5z" fill="#be2018"/>
<path d="M974 186l13 4 3-11-13-4z" fill="#36818d"/>
<path d="M1184 167l13-9 1-5-13 9z" fill="#3a714f"/>
<path d="M1049 184l12 8 2-11-12-8z" fill="#3a8c97"/>
<path d="M1200 146l14-9 2-5-15 9z" fill="#6f7732"/>
<path d="M915 195l14 3 3-10-14-3z" fill="#34799f"/>
<path d="M863 217l14 0 4-6-14 1z" fill="#3a5cc9"/>
<path d="M1169 187l13-8 1-5-13 9z" fill="#296371"/>
<path d="M1061 181l13 10 1-3-12-10z" fill="#46aabd"/>
<path d="M829 239l15-2 4-4-14 2z" fill="#5529b0"/>
<path d="M971 189l13 6 4-5-14-5z" fill="#44a3cb"/>
<path d="M1259 78l17 5 2-3-17-5z" fill="#d9d9d9"/>
<path d="M953 188l14 5 3-1-14-4z" fill="#4098bf"/>
<path d="M1047 192l13 8 2-9-13-8z" fill="#3c8cb6"/>
<path d="M1106 223l12 14 0-2-11-14z" fill="#4333b6"/>
<path d="M911 199l14 3 4-5-14-3z" fill="#408bcd"/>
<path d="M1278 78l18 5 2-2-18-6z" fill="#d9d9d9"/>
<path d="M1254 117l15-2 4-31-16 3z" fill="#8a2d15"/>
<path d="M1217 124l16-11 1-5-15 11z" fill="#8f5c1f"/>
<path d="M1146 221l11-8 0-4-11 7z" fill="#273b85"/>
<path d="M991 169l13 6 3 0-13-5z" fill="#4bb08b"/>
<path d="M887 204l15 2 4-2-15-2z" fill="#3f7ed6"/>
<path d="M1299 78l18 6 3-3-19 0z" fill="#ba1f18"/>
<path d="M1136 234l10-6 1-5-11 7z" fill="#2e237b"/>
<path d="M859 221l14 0 4-5-14 1z" fill="#3c58cd"/>
<path d="M1157 206l11-7 1-5-12 8z" fill="#274f83"/>
<path d="M1183 171l13-9 1-4-13 9z" fill="#367053"/>
<path d="M1032 192l13 7 2-3-12-7z" fill="#46a2d8"/>
<path d="M825 244l15-3 4-4-15 2z" fill="#5b26ae"/>
<path d="M1198 150l14-9 2-4-14 9z" fill="#697633"/>
<path d="M1116 236l12 15 0-4-11-14z" fill="#6226b2"/>
<path d="M1127 247l10-6 0-5-10 7z" fill="#421974"/>
<path d="M1257 89l17-4 2-3-17-5z" fill="#aa1d15"/>
<path d="M1060 191l12 9 2-10-12-10z" fill="#3a8dab"/>
<path d="M1168 191l13-8 1-5-13 9z" fill="#286274"/>
<path d="M933 180l15 3 3 1-14-4z" fill="#44a29e"/>
<path d="M1045 196l13 7 2-4-13-8z" fill="#479fdf"/>
<path d="M968 192l14 5 3-3-14-5z" fill="#46a5d2"/>
<path d="M907 202l15 3 4-4-15-3z" fill="#428dd8"/>
<path d="M1320 79l19 6 3-2-19-6z" fill="#d9d9d9"/>
<path d="M1072 189l12 12 2-3-12-11z" fill="#4199c7"/>
<path d="M1216 129l15-9 1-7-15 10z" fill="#8d6221"/>
<path d="M1095 209l12 15 0 0-11-13z" fill="#375ac0"/>
<path d="M855 225l14 0 4-5-14 1z" fill="#3c53cc"/>
<path d="M988 180l13 5 3-11-13-5z" fill="#3c8d78"/>
<path d="M1276 80l18 5 2-2-18-5z" fill="#d9d9d9"/>
<path d="M883 207l15 1 4-3-15-1z" fill="#3f81d6"/>
<path d="M986 190l13 5 3-11-13-5z" fill="#36828d"/>
<path d="M1296 80l18 6 3-2-18-6z" fill="#d9d9d9"/>
<path d="M1058 199l13 9 2-9-13-9z" fill="#3e8bc4"/>
<path d="M1145 225l11-7 0-5-11 7z" fill="#273a85"/>
<path d="M1181 176l13-9 1-5-13 9z" fill="#317056"/>
<path d="M1197 155l14-10 1-5-14 10z" fill="#627433"/>
<path d="M1156 210l11-7 1-5-12 8z" fill="#274e84"/>
<path d="M1135 238l11-6 0-5-10 7z" fill="#2f227b"/>
<path d="M1105 222l12 17 1-2-12-15z" fill="#3d3ab5"/>
<path d="M1214 134l14-3 2-11-15 8z" fill="#916e25"/>
<path d="M930 188l14 4 4-9-14-4z" fill="#3b8d90"/>
<path d="M850 229l15-1 4-4-14 1z" fill="#3d4dc8"/>
<path d="M1318 81l18 6 3-2-19-6z" fill="#d9d9d9"/>
<path d="M1083 199l12 14 1-3-12-13z" fill="#3e83cd"/>
<path d="M904 204l14 3 4-3-15-3z" fill="#428cd8"/>
<path d="M1167 195l12-7 1-5-12 8z" fill="#286076"/>
<path d="M983 194l13 5 3-5-13-5z" fill="#45a5cc"/>
<path d="M1070 199l13 10 2-9-13-11z" fill="#3d8bbf"/>
<path d="M879 212l15 1 4-6-15-1z" fill="#3b76cc"/>
<path d="M927 197l14 4 3-10-13-4z" fill="#347e9b"/>
<path d="M1127 251l9-6 0-5-9 7z" fill="#421974"/>
<path d="M1002 174l14 6 2 0-13-6z" fill="#4aaf8c"/>
<path d="M1043 198l14 8 1-3-12-8z" fill="#469cdb"/>
<path d="M965 192l14 5 3 0-14-5z" fill="#4099bd"/>
<path d="M1274 82l17 5 3-2-18-5z" fill="#d9d9d9"/>
<path d="M1116 237l12 18 0-4-12-16z" fill="#5a25aa"/>
<path d="M1056 202l13 9 2-4-13-9z" fill="#4697e5"/>
<path d="M1294 83l18 5 3-2-19-6z" fill="#d9d9d9"/>
<path d="M1212 138l15-4 1-4-14 3z" fill="#a78931"/>
<path d="M1195 159l14-9 1-5-13 9z" fill="#5c7434"/>
<path d="M1180 180l13-9 1-5-13 9z" fill="#2f6f5a"/>
<path d="M846 233l15-1 4-4-15 1z" fill="#3f45c4"/>
<path d="M923 201l15 5 4-6-15-4z" fill="#4193cb"/>
<path d="M1094 211l12 16 1-3-12-15z" fill="#3b68d0"/>
<path d="M1144 228l11-6 0-5-10 7z" fill="#273984"/>
<path d="M875 217l15 1 4-6-15-1z" fill="#3b6fce"/>
<path d="M1069 207l13 10 1-8-12-11z" fill="#4087d6"/>
<path d="M1155 214l11-7 1-5-12 8z" fill="#274c85"/>
<path d="M1315 83l19 6 3-2-19-6z" fill="#d9d9d9"/>
<path d="M1233 109l16-11 2-5-16 11z" fill="#8c2714"/>
<path d="M1135 242l10-6 0-5-10 6z" fill="#2f227b"/>
<path d="M1268 115l17-6 4-21-16-5z" fill="#861711"/>
<path d="M980 196l14 6 3-3-14-6z" fill="#46a6d2"/>
<path d="M900 205l15 3 3-1-14-3z" fill="#4089cf"/>
<path d="M1081 208l13 13 1-8-12-14z" fill="#4082d8"/>
<path d="M1000 185l13 5 3-11-14-6z" fill="#3c8f7a"/>
<path d="M1166 200l12-8 1-5-12 8z" fill="#285e77"/>
<path d="M1272 84l17 5 2-2-17-5z" fill="#d9d9d9"/>
<path d="M945 183l15 4 3 1-14-5z" fill="#45a497"/>
<path d="M1105 225l12 17 0-3-12-17z" fill="#3e43bf"/>
<path d="M997 195l14 5 2-11-13-6z" fill="#37838e"/>
<path d="M842 237l15-1 4-4-15 1z" fill="#413ec0"/>
<path d="M1292 85l17 5 3-2-18-6zM1337 84l20 6 3-2-20-6z" fill="#d9d9d9"/>
<path d="M871 221l15 1 4-5-15-1z" fill="#3d6ed7"/>
<path d="M920 204l15 4 3-3-14-4z" fill="#4396d6"/>
<path d="M1127 255l9-6 0-5-10 6z" fill="#431974"/>
<path d="M1194 163l13-9 2-5-14 10z" fill="#577536"/>
<path d="M1211 142l14-9 2 1-15 3z" fill="#9f832f"/>
<path d="M1179 184l12-8 1-5-12 8z" fill="#2e6d5d"/>
<path d="M1055 205l13 9 2-3-13-9z" fill="#4594e0"/>
<path d="M1115 241l13 18 0-4-12-18z" fill="#5826ad"/>
<path d="M1231 114l16-11 2-5-16 11z" fill="#8d2d16"/>
<path d="M1068 210l13 10 1-4-13-10z" fill="#458aeb"/>
<path d="M1312 85l19 6 3-2-19-6z" fill="#d9d9d9"/>
<path d="M1092 219l13 14 1-6-12-16z" fill="#416ee5"/>
<path d="M1080 215l13 12 1-7-12-12z" fill="#427ce6"/>
<path d="M1154 219l11-7 1-5-11 7z" fill="#274b85"/>
<path d="M1014 179l13 7 3 0-14-7z" fill="#49ae8e"/>
<path d="M1144 233l10-7 1-5-11 7z" fill="#273884"/>
<path d="M995 199l14 6 2-5-13-6z" fill="#45a6cd"/>
<path d="M896 208l15 2 4-3-15-2z" fill="#418fd2"/>
<path d="M942 191l15 5 3-10-14-4z" fill="#3d918b"/>
<path d="M838 241l15-1 4-5-15 2z" fill="#4337bc"/>
<path d="M1165 204l12-8 1-5-12 8z" fill="#285d78"/>
<path d="M977 196l14 6 3 0-14-6z" fill="#409abb"/>
<path d="M867 224l16 1 4-4-16-1z" fill="#3e6bd9"/>
<path d="M1135 246l9-6 1-5-10 6z" fill="#30217a"/>
<path d="M1334 86l20 6 3-2-20-6z" fill="#d9d9d9"/>
<path d="M1229 121l15-7 2-11-15 10z" fill="#863816"/>
<path d="M1289 87l18 5 2-2-17-6z" fill="#d9d9d9"/>
<path d="M1227 131l14 1 3-19-15 7z" fill="#8e5a1e"/>
<path d="M939 201l15 4 3-10-14-5z" fill="#358197"/>
<path d="M1192 168l14-9 1-5-13 9z" fill="#52743a"/>
<path d="M1104 232l12 16 1-6-12-17z" fill="#4546d2"/>
<path d="M916 207l15 4 4-3-15-4z" fill="#4395d5"/>
<path d="M1209 146l14-9 2-4-15 8z" fill="#8c742a"/>
<path d="M1178 189l12-9 1-5-12 9z" fill="#2d6c60"/>
<path d="M1310 87l18 6 3-3-18-5z" fill="#d9d9d9"/>
<path d="M1092 226l12 13 1-6-12-14z" fill="#4366e7"/>
<path d="M1249 94l16-1 2-2-16 4z" fill="#b01e16"/>
<path d="M1225 134l14 2 2-5-14-1z" fill="#c99231"/>
<path d="M1126 259l9-6 1-5-10 6z" fill="#431974"/>
<path d="M1011 190l14 6 2-11-13-7z" fill="#3d907e"/>
<path d="M892 213l15 2 4-6-15-2z" fill="#3e85c8"/>
<path d="M1079 219l13 12 1-4-12-12z" fill="#4378ea"/>
<path d="M936 205l15 5 3-6-14-4z" fill="#429aca"/>
<path d="M1115 246l12 17 1-5-12-17z" fill="#5f28b6"/>
<path d="M992 201l14 6 3-3-14-6z" fill="#46a7d3"/>
<path d="M1066 213l14 10 1-3-13-10z" fill="#4387e5"/>
<path d="M863 228l16 1 4-4-16-1z" fill="#3d66d6"/>
<path d="M1153 223l11-7 1-5-11 7z" fill="#274986"/>
<path d="M1053 204l14 9 1 1-13-9z" fill="#3b83bb"/>
<path d="M1332 88l19 6 3-2-19-6z" fill="#d9d9d9"/>
<path d="M1143 237l10-7 1-5-11 7z" fill="#273684"/>
<path d="M1164 208l11-7 1-5-11 7z" fill="#285b7a"/>
<path d="M1009 200l14 6 2-11-13-7z" fill="#378592"/>
<path d="M1287 89l17 5 3-2-18-6z" fill="#d9d9d9"/>
<path d="M1191 172l13-8 1-5-13 9z" fill="#4d743e"/>
<path d="M958 186l14 5 4 1-15-5z" fill="#45a592"/>
<path d="M1134 250l10-6 0-5-10 6z" fill="#31217a"/>
<path d="M1207 151l14-10 2-5-14 10z" fill="#817029"/>
<path d="M1307 89l18 6 3-3-18-5z" fill="#d9d9d9"/>
<path d="M912 207l16 4 3-1-15-4z" fill="#4091c8"/>
<path d="M1103 238l13 14 0-5-12-15z" fill="#4a3ed2"/>
<path d="M888 218l16 2 3-6-15-2z" fill="#3d7ecd"/>
<path d="M1176 193l12-8 1-5-12 8z" fill="#2c6a63"/>
<path d="M1284 109l17-7 3-9-17-5z" fill="#891711"/>
<path d="M1025 185l14 7 2 0-13-7z" fill="#48ab92"/>
<path d="M859 232l16 0 4-4-16 0z" fill="#3d62d4"/>
<path d="M1247 99l16-4 2-2-16 0z" fill="#b41e17"/>
<path d="M933 208l15 5 3-4-15-5z" fill="#449dd4"/>
<path d="M1007 204l14 6 2-5-13-6z" fill="#46a6cf"/>
<path d="M1091 229l13 14 1-4-13-14z" fill="#415edf"/>
<path d="M1329 90l19 6 3-2-19-6z" fill="#d9d9d9"/>
<path d="M1126 262l9-5 0-5-9 6z" fill="#441974"/>
<path d="M1152 227l11-7 0-5-10 7z" fill="#274886"/>
<path d="M1078 222l13 12 1-4-13-11z" fill="#4176e5"/>
<path d="M989 201l15 6 2 0-14-6z" fill="#409abb"/>
<path d="M1114 251l13 15 1-4-13-16z" fill="#6528ba"/>
<path d="M1163 213l11-8 1-5-11 8z" fill="#27597b"/>
<path d="M955 195l14 5 4-9-15-5z" fill="#3e9488"/>
<path d="M1189 177l13-8 2-6-13 9z" fill="#487342"/>
<path d="M885 221l15 3 4-5-16-2z" fill="#3f7fd9"/>
<path d="M1142 241l10-6 1-5-10 6z" fill="#273583"/>
<path d="M1206 155l13-9 2-5-14 9z" fill="#7b702b"/>
<path d="M1065 212l13 11 2 0-14-11z" fill="#3a7ac2"/>
<path d="M1305 91l17 6 3-3-18-5z" fill="#d9d9d9"/>
<path d="M1023 195l14 7 2-11-13-7z" fill="#3d9285"/>
<path d="M855 236l16 0 4-4-16-1z" fill="#3d5ed1"/>
<path d="M1175 197l12-7 1-5-12 7z" fill="#2c6866"/>
<path d="M952 205l15 5 3-11-15-5z" fill="#368394"/>
<path d="M909 209l15 4 4-2-15-4z" fill="#439ace"/>
<path d="M1245 104l16-7 2-2-16 3z" fill="#a61c15"/>
<path d="M1134 254l9-6 0-5-9 6z" fill="#32207a"/>
<path d="M1237 135l15 4 2-5-15-3z" fill="#ce8f30"/>
<path d="M1102 241l13 15 1-4-13-15z" fill="#4a39ca"/>
<path d="M1326 92l19 6 3-3-19-5z" fill="#d9d9d9"/>
<path d="M929 210l15 5 4-3-15-5z" fill="#449cd2"/>
<path d="M1004 207l15 6 2-3-14-7z" fill="#46a6d4"/>
<path d="M1240 132l14 3 3-29-14 7z" fill="#8d4419"/>
<path d="M1021 205l14 7 3-11-14-7z" fill="#378698"/>
<path d="M1263 93l16 5 3-3-17-5z" fill="#d9d9d9"/>
<path d="M881 225l15 2 4-4-15-2z" fill="#3f7ddb"/>
<path d="M949 209l15 5 3-5-15-5z" fill="#439ec9"/>
<path d="M1090 232l13 14 1-3-13-14z" fill="#405dda"/>
<path d="M1188 182l12-9 2-5-13 9z" fill="#437247"/>
<path d="M1037 191l14 9 2 0-13-9z" fill="#46a699"/>
<path d="M1204 160l13-9 2-5-14 9z" fill="#74712d"/>
<path d="M1242 114l16-7 2-10-15 6z" fill="#841811"/>
<path d="M1151 231l11-6 0-5-10 6z" fill="#274687"/>
<path d="M1162 217l11-7 1-5-11 7z" fill="#27577d"/>
<path d="M1302 93l18 6 2-3-17-5z" fill="#d9d9d9"/>
<path d="M851 240l16 0 4-5-16 0z" fill="#3c59cf"/>
<path d="M1126 266l9-5 0-5-9 6z" fill="#441974"/>
<path d="M971 191l14 5 3 1-14-6z" fill="#46a58f"/>
<path d="M1221 138l15-10 2-1-15 7z" fill="#9d6422"/>
<path d="M1142 245l9-6 1-5-10 6z" fill="#273383"/>
<path d="M905 215l16 3 3-6-15-3z" fill="#3f90c5"/>
<path d="M1114 255l13 15 0-4-12-15z" fill="#6628b9"/>
<path d="M1174 202l11-8 1-5-11 8z" fill="#2b6769"/>
<path d="M1077 222l13 12 1 0-13-13z" fill="#3a6cc8"/>
<path d="M1019 210l14 7 3-5-14-8z" fill="#46a5d3"/>
<path d="M1323 94l18 6 4-3-19-5z" fill="#d9d9d9"/>
<path d="M877 228l16 2 3-4-15-2z" fill="#3f7adb"/>
<path d="M926 210l15 5 4-1-16-4z" fill="#4096c3"/>
<path d="M1133 258l9-6 1-5-10 6z" fill="#322079"/>
<path d="M1261 95l16 5 2-2-16-5z" fill="#d9d9d9"/>
<path d="M1202 165l13-8 2-6-13 9z" fill="#6f732f"/>
<path d="M1299 102l18-1 3-3-18-5z" fill="#b91f17"/>
<path d="M1102 245l13 15 1-4-14-15z" fill="#4839c7"/>
<path d="M946 212l15 5 3-3-15-6z" fill="#45a1d3"/>
<path d="M1186 186l12-8 2-5-12 8z" fill="#3e724b"/>
<path d="M1002 206l15 7 2 0-15-7z" fill="#3f99bb"/>
<path d="M1035 202l14 8 2-11-13-8z" fill="#3e9390"/>
<path d="M902 220l15 3 4-6-16-3z" fill="#3f8ac9"/>
<path d="M1161 221l10-6 1-6-10 7z" fill="#27567e"/>
<path d="M1151 235l9-6 1-5-10 7z" fill="#274587"/>
<path d="M968 200l14 5 3-10-14-5z" fill="#3f9686"/>
<path d="M1219 142l14-9 2-5-14 9z" fill="#8f5d1f"/>
<path d="M1320 96l18 6 4-3-19-5z" fill="#d9d9d9"/>
<path d="M1172 206l11-7 2-5-12 7z" fill="#2a656c"/>
<path d="M1089 233l13 15 1-2-13-14z" fill="#3958c6"/>
<path d="M1034 212l14 8 2-11-14-8z" fill="#3887a2"/>
<path d="M1050 199l13 10 2 0-14-10z" fill="#429fa4"/>
<path d="M1141 249l9-6 1-5-10 6z" fill="#283182"/>
<path d="M1017 212l14 8 3-4-15-7z" fill="#46a5d6"/>
<path d="M1250 139l14 2 3-8-15 0z" fill="#bb7b29"/>
<path d="M1126 270l8-5 0-5-8 6z" fill="#441874"/>
<path d="M965 209l15 6 3-11-15-5z" fill="#378592"/>
<path d="M873 232l16 2 4-4-16-2z" fill="#3f77da"/>
<path d="M1113 258l14 16 0-4-13-16z" fill="#6528b9"/>
<path d="M1200 170l13-9 2-5-13 8z" fill="#6a7532"/>
<path d="M1297 97l17 6 3-3-18 2z" fill="#b41e17"/>
<path d="M1277 97l16 5 3-2-16-5zM1259 98l15 4 3-2-16-5z" fill="#d9d9d9"/>
<path d="M898 223l16 4 3-4-15-4z" fill="#418cd6"/>
<path d="M1185 191l12-8 1-5-12 8z" fill="#397150"/>
<path d="M922 212l16 5 3-2-15-5z" fill="#44a2ca"/>
<path d="M943 214l15 5 3-2-15-6z" fill="#45a0d0"/>
<path d="M1217 147l14-9 2-6-14 10z" fill="#8f6221"/>
<path d="M1253 135l14 0 4-32-14 3z" fill="#8a2b15"/>
<path d="M1133 262l9-5 0-5-9 5z" fill="#331f79"/>
<path d="M962 214l15 6 3-6-15-6z" fill="#44a2c9"/>
<path d="M1032 216l14 8 2-5-14-8z" fill="#46a2d9"/>
<path d="M1318 98l17 5 3-2-17-5z" fill="#d9d9d9"/>
<path d="M1160 226l10-7 1-5-10 7z" fill="#27547f"/>
<path d="M1101 246l13 17 1-3-13-16z" fill="#4238bc"/>
<path d="M1150 240l9-6 1-5-10 6z" fill="#274387"/>
<path d="M983 195l15 7 3 0-15-6z" fill="#46a58d"/>
<path d="M1171 211l11-7 1-5-11 7z" fill="#29646f"/>
<path d="M869 236l16 1 4-4-16-2z" fill="#3f74da"/>
<path d="M1048 209l14 10 2-10-14-11z" fill="#3e95a1"/>
<path d="M1256 107l16-3 2-2-15-5z" fill="#b01e16"/>
<path d="M1198 174l13-8 2-5-13 8z" fill="#637533"/>
<path d="M1140 253l10-5 0-5-9 5z" fill="#282f81"/>
<path d="M894 227l16 3 4-4-16-3z" fill="#428ad9"/>
<path d="M1275 100l16 5 2-3-16-5z" fill="#d9d9d9"/>
<path d="M1062 208l14 12 1-1-14-12z" fill="#3d94b2"/>
<path d="M1183 195l12-7 1-5-11 7z" fill="#347054"/>
<path d="M1215 152l14-8 2-6-14 9z" fill="#8e6823"/>
<path d="M1294 100l17 5 3-3-17-5z" fill="#d9d9d9"/>
<path d="M1015 212l14 8 3-1-15-7z" fill="#3f97bc"/>
<path d="M919 217l15 5 4-6-16-4z" fill="#4199c3"/>
<path d="M1125 274l9-5 0-5-9 5z" fill="#451874"/>
<path d="M1046 219l14 9 2-10-14-10z" fill="#3a87af"/>
<path d="M1113 261l13 17 1-4-13-16z" fill="#6127b4"/>
<path d="M1315 100l17 5 3-2-17-5z" fill="#d9d9d9"/>
<path d="M959 217l16 6 3-4-16-6z" fill="#46a4d2"/>
<path d="M939 214l16 6 3-1-15-5z" fill="#4099bf"/>
<path d="M1159 230l10-6 1-5-11 6z" fill="#275281"/>
<path d="M865 239l16 2 4-4-16-2z" fill="#3e70da"/>
<path d="M981 205l15 6 2-10-14-6z" fill="#409887"/>
<path d="M1030 219l14 8 2-4-14-8z" fill="#46a1da"/>
<path d="M1132 266l9-5 0-5-9 5z" fill="#341f79"/>
<path d="M1170 215l10-6 2-6-11 7z" fill="#296273"/>
<path d="M1149 244l9-6 1-5-10 6z" fill="#274287"/>
<path d="M1213 158l13-5 3-9-14 8z" fill="#8f7127"/>
<path d="M1197 179l12-8 2-5-13 8z" fill="#5c7434"/>
<path d="M891 230l16 3 3-4-16-3z" fill="#4188da"/>
<path d="M915 223l16 4 4-6-16-4z" fill="#4093c7"/>
<path d="M1272 102l16 5 3-3-16-5zM1291 102l17 5 3-3-17-5z" fill="#d9d9d9"/>
<path d="M1182 200l11-7 2-6-12 8z" fill="#2f6f58"/>
<path d="M978 214l15 7 3-11-15-6z" fill="#388692"/>
<path d="M1044 223l15 9 2-5-15-9z" fill="#479de0"/>
<path d="M1060 218l14 11 2-9-14-12z" fill="#3e95ba"/>
<path d="M1100 246l14 18 0-2-13-16z" fill="#3c3fb7"/>
<path d="M1074 219l14 15 1-2-13-14z" fill="#3b82bc"/>
<path d="M1140 257l9-5 0-5-9 5z" fill="#292e80"/>
<path d="M1263 141l15-4 3-9-16 6z" fill="#9a571d"/>
<path d="M1312 102l17 5 3-2-17-5z" fill="#d9d9d9"/>
<path d="M1232 134l14-10 2-5-14 10z" fill="#903217"/>
<path d="M1211 162l13-4 2-6-13 5z" fill="#96802f"/>
<path d="M1125 278l8-4 0-5-8 4z" fill="#451874"/>
<path d="M956 219l16 6 3-3-16-6z" fill="#45a3cf"/>
<path d="M1158 235l9-6 1-6-10 6z" fill="#275082"/>
<path d="M1195 184l12-8 2-5-13 8z" fill="#567536"/>
<path d="M996 201l16 7 2 0-15-7z" fill="#45a48e"/>
<path d="M1168 220l11-6 1-6-11 7z" fill="#286175"/>
<path d="M976 219l15 6 3-5-15-7z" fill="#44a4ca"/>
<path d="M1266 135l15-6 4-21-15-5z" fill="#861711"/>
<path d="M936 216l16 5 3-2-16-5z" fill="#45a7c7"/>
<path d="M912 226l16 5 3-4-15-5z" fill="#4396d4"/>
<path d="M1113 263l13 19 1-4-14-17z" fill="#5825ab"/>
<path d="M1059 227l14 11 2-10-14-11z" fill="#3d86c1"/>
<path d="M887 233l16 4 4-4-16-4z" fill="#4186da"/>
<path d="M1148 248l9-5 1-5-10 5z" fill="#274087"/>
<path d="M1132 270l8-5 1-5-9 5z" fill="#351e78"/>
<path d="M1270 104l15 5 3-3-16-5zM1289 104l16 5 3-2-16-6z" fill="#d9d9d9"/>
<path d="M1180 205l11-7 2-6-12 8z" fill="#2e6e5c"/>
<path d="M1028 219l15 8 2 0-15-9z" fill="#3f93bf"/>
<path d="M1087 232l14 18 1-3-14-16z" fill="#396bc5"/>
<path d="M1309 104l17 5 3-2-17-5z" fill="#d9d9d9"/>
<path d="M1229 139l14-10 3-5-15 10z" fill="#8f3c18"/>
<path d="M1043 226l14 9 2-3-14-10z" fill="#469ade"/>
<path d="M1073 228l14 14 2-9-14-14z" fill="#418dd2"/>
<path d="M1209 167l13-7 2-2-13 4z" fill="#918130"/>
<path d="M1139 262l9-5 0-6-9 6z" fill="#2a2c80"/>
<path d="M1193 189l12-8 2-5-12 7z" fill="#50743b"/>
<path d="M933 221l16 6 3-6-16-5z" fill="#42a0c2"/>
<path d="M973 222l15 6 3-3-15-7z" fill="#46a6d2"/>
<path d="M1167 225l10-7 1-5-10 6z" fill="#285e77"/>
<path d="M994 210l15 7 3-10-15-7z" fill="#419989"/>
<path d="M908 229l17 5 3-4-16-4z" fill="#4395d6"/>
<path d="M1057 231l15 11 2-5-15-11z" fill="#4693e8"/>
<path d="M1156 239l10-6 1-5-10 6z" fill="#274e84"/>
<path d="M1099 248l14 19 1-3-14-18z" fill="#3949be"/>
<path d="M883 237l16 3 4-4-16-3z" fill="#4084db"/>
<path d="M953 219l16 6 3-1-16-6z" fill="#409bbc"/>
<path d="M1286 106l16 5 3-2-16-5z" fill="#d9d9d9"/>
<path d="M1227 145l14-7 2-9-14 9z" fill="#8b4a1a"/>
<path d="M1125 282l8-4 0-5-8 4z" fill="#461874"/>
<path d="M1179 210l10-7 2-6-11 7z" fill="#2d6c60"/>
<path d="M1306 106l17 5 3-2-17-5z" fill="#d9d9d9"/>
<path d="M1147 253l9-6 1-5-10 6z" fill="#273e86"/>
<path d="M1072 237l14 12 2-8-15-14z" fill="#3f80d9"/>
<path d="M992 220l15 7 3-11-16-7z" fill="#388894"/>
<path d="M1131 274l8-4 1-6-8 5z" fill="#351e78"/>
<path d="M1225 154l12-2 3-15-13 7z" fill="#8c5c1f"/>
<path d="M1112 266l14 21 0-5-13-19z" fill="#5627ac"/>
<path d="M1086 240l14 16 1-7-14-17z" fill="#4279e5"/>
<path d="M1207 172l13-8 2-4-13 7z" fill="#7f752d"/>
<path d="M1191 194l12-8 2-5-12 7z" fill="#4a7340"/>
<path d="M929 227l17 5 3-6-16-5z" fill="#4199c5"/>
<path d="M1138 266l9-5 0-5-8 5z" fill="#2a2a7f"/>
<path d="M1222 159l13 0 3-8-14 1z" fill="#b2842d"/>
<path d="M1010 207l15 8 2 0-15-8z" fill="#44a290"/>
<path d="M879 240l17 3 4-4-17-3z" fill="#4082db"/>
<path d="M905 233l16 4 4-3-17-5z" fill="#4393d7"/>
<path d="M1166 229l10-6 1-5-10 6z" fill="#285c79"/>
<path d="M1041 226l15 10 2-1-15-9z" fill="#3e8dc3"/>
<path d="M1283 108l16 5 3-2-16-5z" fill="#d9d9d9"/>
<path d="M1155 244l10-6 1-5-10 5z" fill="#274d85"/>
<path d="M970 224l16 7 3-3-16-7z" fill="#45a5ce"/>
<path d="M989 225l16 7 2-6-15-7z" fill="#45a5cb"/>
<path d="M1177 214l11-6 1-6-11 7z" fill="#2c6a63"/>
<path d="M1303 108l16 5 4-2-17-5z" fill="#d9d9d9"/>
<path d="M1056 234l15 11 1-3-14-11z" fill="#448fe3"/>
<path d="M1276 137l16-6 3-9-16 6z" fill="#902e16"/>
<path d="M1279 129l16-6 4-11-15-5z" fill="#881711"/>
<path d="M1099 255l14 18 1-6-14-19z" fill="#4251d6"/>
<path d="M950 221l16 6 3-2-16-6z" fill="#46aac3"/>
<path d="M1070 241l15 13 1-5-14-13z" fill="#4482ed"/>
<path d="M1205 177l12-8 2-6-12 9z" fill="#75712d"/>
<path d="M1146 257l9-5 1-5-9 5z" fill="#273c86"/>
<path d="M1125 286l7-4 0-5-7 4z" fill="#461874"/>
<path d="M1085 248l14 15 1-7-14-16z" fill="#426fe7"/>
<path d="M1189 199l12-8 2-5-12 7z" fill="#447245"/>
<path d="M926 230l16 6 4-4-16-6z" fill="#449dd2"/>
<path d="M1244 125l15-10 2-2-15 7z" fill="#931913"/>
<path d="M1131 279l8-5 0-5-8 4z" fill="#361d78"/>
<path d="M1112 271l14 20 0-5-14-20z" fill="#5b29b6"/>
<path d="M901 236l17 5 3-4-16-5z" fill="#4392d7"/>
<path d="M1007 216l16 8 2-10-15-8z" fill="#419b8e"/>
<path d="M1164 234l10-6 1-5-10 6z" fill="#275a7a"/>
<path d="M1300 110l16 5 3-2-16-5z" fill="#d9d9d9"/>
<path d="M1175 219l11-6 1-6-10 7z" fill="#2b6867"/>
<path d="M1138 270l8-4 0-6-8 5z" fill="#2b287e"/>
<path d="M987 228l16 7 2-4-16-7z" fill="#46a7d3"/>
<path d="M1154 248l9-5 1-6-9 6z" fill="#274b85"/>
<path d="M1203 182l12-8 2-5-12 8z" fill="#6d722f"/>
<path d="M947 226l16 6 3-6-16-6z" fill="#44a4bf"/>
<path d="M967 224l16 7 3-1-16-6z" fill="#409cba"/>
<path d="M1098 262l14 16 1-5-14-19z" fill="#4748d7"/>
<path d="M1242 130l14-9 3-6-15 10z" fill="#881a12"/>
<path d="M1188 204l11-7 1-6-11 7z" fill="#3f724b"/>
<path d="M1005 226l16 8 2-11-15-8z" fill="#398998"/>
<path d="M1084 252l14 15 1-4-14-15z" fill="#4268e5"/>
<path d="M923 233l16 6 4-4-17-5z" fill="#449cd4"/>
<path d="M1145 262l9-5 0-6-8 6z" fill="#273a85"/>
<path d="M1054 235l15 11 2-1-15-11z" fill="#3d83c9"/>
<path d="M1069 244l15 13 1-4-14-13z" fill="#427ee6"/>
<path d="M1233 159l13 4 3-11-13-1z" fill="#aa7728"/>
<path d="M1023 214l16 9 2 0-16-9z" fill="#43a096"/>
<path d="M1236 152l13 1 4-23-14 7z" fill="#8d481a"/>
<path d="M1260 113l14 4 3-2-15 2z" fill="#b31e17"/>
<path d="M1125 291l7-4 0-6-8 4z" fill="#471873"/>
<path d="M1297 112l16 6 3-3-16-5z" fill="#d9d9d9"/>
<path d="M897 239l17 5 4-4-17-5z" fill="#4390d8"/>
<path d="M1239 138l14-7 3-11-15 10z" fill="#822313"/>
<path d="M1163 239l9-6 2-6-10 6z" fill="#27587c"/>
<path d="M1131 283l7-4 0-6-7 5z" fill="#371d77"/>
<path d="M1174 224l10-6 1-6-10 7z" fill="#2b666b"/>
<path d="M1201 187l12-7 2-6-12 8z" fill="#667331"/>
<path d="M1218 165l13-9 2-1-13 5z" fill="#9e7327"/>
<path d="M1111 277l15 18 0-5-14-19z" fill="#6129bb"/>
<path d="M1003 231l16 8 2-6-15-8z" fill="#45a5cf"/>
<path d="M944 231l16 7 3-6-16-7z" fill="#429ec4"/>
<path d="M1153 253l9-5 1-6-9 5z" fill="#274986"/>
<path d="M1186 209l10-7 2-6-11 7z" fill="#397150"/>
<path d="M1137 275l8-5 1-5-9 4z" fill="#2b267d"/>
<path d="M984 230l16 7 3-3-16-7z" fill="#45a5ce"/>
<path d="M1293 123l17-4 3-2-16-5z" fill="#ad1d16"/>
<path d="M1097 266l15 17 1-5-15-17z" fill="#4740cf"/>
<path d="M919 237l17 5 4-3-17-6z" fill="#449bd5"/>
<path d="M964 226l16 7 3-2-16-7z" fill="#47abc0"/>
<path d="M1144 266l8-4 1-6-8 5z" fill="#273984"/>
<path d="M894 243l17 4 4-4-17-4z" fill="#428fd8"/>
<path d="M1199 192l11-7 2-6-11 8z" fill="#5f7433"/>
<path d="M1083 256l15 15 1-4-15-15z" fill="#4065df"/>
<path d="M1021 223l16 9 2-10-15-9z" fill="#429d97"/>
<path d="M1257 115l14 5 3-3-14-4z" fill="#ce231a"/>
<path d="M1216 170l12-8 2-6-12 8z" fill="#906b24"/>
<path d="M1172 229l10-6 1-6-10 6z" fill="#2a646e"/>
<path d="M1290 132l16-6 3-8-16 4z" fill="#931913"/>
<path d="M1161 244l10-6 1-6-10 6z" fill="#27567e"/>
<path d="M1068 245l15 14 1-2-15-13z" fill="#3c76d0"/>
<path d="M941 235l16 6 3-4-16-6z" fill="#45a2d1"/>
<path d="M1184 214l10-7 2-6-11 7z" fill="#337055"/>
<path d="M1124 295l7-4 0-5-7 4z" fill="#471873"/>
<path d="M1001 234l16 8 2-4-16-8z" fill="#47a6d5"/>
<path d="M1130 287l7-4 1-5-8 4z" fill="#371d77"/>
<path d="M1152 258l8-5 1-6-8 5z" fill="#274786"/>
<path d="M1244 162l13 5 4-15-13-1z" fill="#966522"/>
<path d="M1019 233l16 8 2-10-15-9z" fill="#398ba0"/>
<path d="M1110 281l15 18 1-4-15-18z" fill="#6328ba"/>
<path d="M1136 279l8-4 1-6-8 5z" fill="#2c247c"/>
<path d="M1037 221l16 11 1 0-15-10z" fill="#419b9f"/>
<path d="M916 240l17 6 3-4-17-6z" fill="#449ad5"/>
<path d="M981 230l17 7 2 0-16-8z" fill="#409cb9"/>
<path d="M1272 117l15 5 3-3-15-5z" fill="#d9d9d9"/>
<path d="M1197 198l11-7 2-6-11 7z" fill="#587535"/>
<path d="M1213 175l12-8 3-6-13 9z" fill="#8c6e26"/>
<path d="M961 232l17 6 3-6-17-6z" fill="#45a7be"/>
<path d="M1254 121l14 1 3-3-14-4z" fill="#c42119"/>
<path d="M1143 271l8-5 1-5-8 4z" fill="#273784"/>
<path d="M1170 234l10-6 2-6-10 6z" fill="#296372"/>
<path d="M1096 269l15 18 1-5-15-16z" fill="#463fcb"/>
<path d="M1160 248l9-5 1-6-9 6z" fill="#275480"/>
<path d="M1248 153l12 1 5-31-13 7z" fill="#8b2e15"/>
<path d="M1182 219l10-7 2-5-10 6z" fill="#2f6f5a"/>
<path d="M937 238l17 7 4-4-17-6z" fill="#45a1d3"/>
<path d="M1017 238l16 8 2-5-15-9z" fill="#46a4d3"/>
<path d="M1082 257l15 16 1-2-15-16z" fill="#3c61d0"/>
<path d="M1151 262l8-4 1-6-9 5z" fill="#274587"/>
<path d="M1211 181l12-8 2-6-12 8z" fill="#846f29"/>
<path d="M1251 132l14-8 3-3-14-1z" fill="#9d1a14"/>
<path d="M998 236l17 8 2-3-16-8z" fill="#45a4cf"/>
<path d="M1195 203l11-7 2-6-11 7z" fill="#52743a"/>
<path d="M1124 299l7-4 0-5-7 4z" fill="#471873"/>
<path d="M1130 292l7-4 0-6-7 4z" fill="#381c77"/>
<path d="M1269 119l15 5 3-3-15-4z" fill="#d9d9d9"/>
<path d="M958 237l17 7 3-6-17-7z" fill="#43a2c4"/>
<path d="M912 243l18 6 3-4-17-6z" fill="#4499d5"/>
<path d="M1035 231l16 10 2-9-16-11z" fill="#429fa6"/>
<path d="M1136 284l7-4 1-6-8 4z" fill="#2d237c"/>
<path d="M1110 285l15 18 1-4-15-18z" fill="#6328b9"/>
<path d="M1169 239l9-6 2-6-10 6z" fill="#286175"/>
<path d="M1180 224l10-6 2-6-10 6z" fill="#2e6d5e"/>
<path d="M979 232l16 7 3-2-17-7z" fill="#47acc0"/>
<path d="M1159 253l8-5 2-6-9 6z" fill="#275181"/>
<path d="M1142 276l8-5 1-6-8 5z" fill="#273583"/>
<path d="M1209 186l11-6 2-7-11 7z" fill="#7d722c"/>
<path d="M1051 231l16 13 1-1-15-12z" fill="#3d93ad"/>
<path d="M1255 166l13 3 4-18-13 1z" fill="#905c1f"/>
<path d="M934 241l17 7 4-4-17-6z" fill="#45a1d3"/>
<path d="M1193 208l10-7 2-6-11 7z" fill="#4b733f"/>
<path d="M1015 241l16 9 3-4-17-9z" fill="#47a4d8"/>
<path d="M1033 241l16 9 2-10-15-10z" fill="#3a8cad"/>
<path d="M1095 272l16 18 0-4-15-17z" fill="#423fc3"/>
<path d="M1285 121l14 5 4-3-15-5z" fill="#d9d9d9"/>
<path d="M1226 163l13-8 3-6-13 8z" fill="#91551c"/>
<path d="M1149 267l8-4 2-6-9 4z" fill="#274388"/>
<path d="M1266 121l14 5 4-3-15-4z" fill="#d9d9d9"/>
<path d="M955 241l17 7 3-5-16-7z" fill="#46a5d1"/>
<path d="M909 247l17 5 4-4-17-5z" fill="#4498d6"/>
<path d="M1167 244l9-5 2-6-10 5z" fill="#285e77"/>
<path d="M1178 229l10-6 2-6-10 6z" fill="#2d6b62"/>
<path d="M1129 296l7-4 0-5-7 3z" fill="#391c76"/>
<path d="M996 236l17 8 2 0-17-8z" fill="#409bba"/>
<path d="M1206 191l11-5 3-7-12 6z" fill="#787730"/>
<path d="M1124 303l6-3 0-6-6 4z" fill="#481873"/>
<path d="M1135 288l7-4 1-5-8 4z" fill="#2e227b"/>
<path d="M1157 258l8-5 2-6-9 5z" fill="#274f83"/>
<path d="M976 238l17 7 2-6-16-8z" fill="#46a9bf"/>
<path d="M1259 154l13-2 5-25-13-4z" fill="#871c12"/>
<path d="M1190 213l11-6 2-6-11 6z" fill="#457345"/>
<path d="M1224 168l12-8 3-6-13 8z" fill="#8f5a1e"/>
<path d="M1032 245l16 10 2-5-16-10z" fill="#46a0db"/>
<path d="M1141 280l8-4 1-6-8 5z" fill="#273282"/>
<path d="M1109 288l16 20 0-5-15-18z" fill="#5f28b6"/>
<path d="M1282 123l14 5 4-3-15-4z" fill="#d9d9d9"/>
<path d="M931 245l17 6 4-4-18-6z" fill="#45a0d3"/>
<path d="M1049 240l16 12 2-9-16-12z" fill="#419fbe"/>
<path d="M1263 124l14 4 4-2-15-5z" fill="#ce231a"/>
<path d="M1065 242l16 16 1-1-15-15z" fill="#3b84b9"/>
<path d="M1148 272l8-4 1-6-8 4z" fill="#274187"/>
<path d="M1013 243l17 9 2-3-17-9z" fill="#45a2d2"/>
<path d="M952 244l18 7 3-4-17-7z" fill="#46a5d2"/>
<path d="M1204 197l11-7 2-5-11 6z" fill="#6f7732"/>
<path d="M1176 234l10-5 2-7-10 6z" fill="#2c6866"/>
<path d="M1165 249l9-5 2-6-9 5z" fill="#285b79"/>
<path d="M1221 174l12-7 3-7-13 8z" fill="#8e6020"/>
<path d="M1095 272l15 20 1-2-15-18z" fill="#3b44ba"/>
<path d="M1188 219l10-6 2-7-10 7z" fill="#3e724b"/>
<path d="M973 243l17 8 3-7-17-7z" fill="#43a4c6"/>
<path d="M1156 263l8-4 1-6-8 4z" fill="#274d85"/>
<path d="M1048 249l16 12 2-10-16-12z" fill="#3d8bbd"/>
<path d="M1129 300l6-3 0-6-6 4z" fill="#3a1b76"/>
<path d="M1278 125l15 5 3-3-14-4z" fill="#d9d9d9"/>
<path d="M1134 293l7-4 1-6-7 4z" fill="#2f227b"/>
<path d="M1124 308l6-4 0-5-7 3z" fill="#481873"/>
<path d="M993 238l17 9 3-3-17-8z" fill="#47abc1"/>
<path d="M1267 169l13-3 5-21-14 5z" fill="#8c4a1a"/>
<path d="M1030 249l16 10 2-4-16-10z" fill="#469edc"/>
<path d="M928 248l17 7 4-4-18-7z" fill="#459fd3"/>
<path d="M1140 285l7-4 1-6-7 4z" fill="#283081"/>
<path d="M1218 181l12-4 3-11-12 7z" fill="#8f6a24"/>
<path d="M1201 202l11-6 3-6-12 6z" fill="#657432"/>
<path d="M1174 239l9-5 2-6-9 5z" fill="#2b666a"/>
<path d="M1147 277l7-4 2-6-8 4z" fill="#273e86"/>
<path d="M1079 257l16 18 1-2-15-18z" fill="#396dc4"/>
<path d="M1109 290l16 22 0-5-15-19z" fill="#5827ad"/>
<path d="M1164 254l8-5 2-6-9 5z" fill="#27597b"/>
<path d="M949 247l18 7 3-3-17-8z" fill="#46a4d2"/>
<path d="M1186 224l10-6 2-6-10 6z" fill="#387151"/>
<path d="M1064 251l16 15 1-8-16-16z" fill="#4396d4"/>
<path d="M1216 186l11-2 3-8-12 4z" fill="#9a7e2d"/>
<path d="M1046 254l17 12 1-6-16-11z" fill="#4698e4"/>
<path d="M1237 156l13-9 3-5-13 8z" fill="#902d16"/>
<path d="M971 247l17 8 3-5-17-8z" fill="#46a7d1"/>
<path d="M1011 244l17 9 2-1-17-9z" fill="#3f98bc"/>
<path d="M1275 128l14 4 4-2-14-5z" fill="#d9d9d9"/>
<path d="M1271 152l14-5 4-16-13-4z" fill="#871711"/>
<path d="M1154 268l8-4 1-6-8 4z" fill="#274b85"/>
<path d="M1199 208l10-7 3-6-11 7z" fill="#5d7434"/>
<path d="M991 244l17 8 2-6-16-8z" fill="#46aac2"/>
<path d="M924 251l18 7 3-4-17-6z" fill="#459fd4"/>
<path d="M1134 297l6-3 1-6-7 4z" fill="#31217a"/>
<path d="M1128 305l6-3 1-6-7 3z" fill="#3a1b76"/>
<path d="M1172 245l9-5 2-7-9 5z" fill="#2a646f"/>
<path d="M1139 290l7-4 1-6-7 4z" fill="#292d80"/>
<path d="M1094 274l16 21 0-3-15-20z" fill="#384dbf"/>
<path d="M1184 229l9-5 3-7-10 6z" fill="#317056"/>
<path d="M1123 312l6-3 0-6-6 3z" fill="#491873"/>
<path d="M1028 251l17 10 1-3-16-10z" fill="#459cd5"/>
<path d="M1062 260l17 14 1-9-16-15z" fill="#4086d4"/>
<path d="M1234 161l13-8 3-6-13 8z" fill="#8f3317"/>
<path d="M1162 259l8-4 2-7-9 5z" fill="#27567d"/>
<path d="M1213 191l11-5 3-3-12 2z" fill="#998531"/>
<path d="M1146 282l7-4 1-6-7 4z" fill="#273c85"/>
<path d="M946 250l18 8 3-4-17-7z" fill="#46a4d2"/>
<path d="M1197 213l10-6 2-6-10 6z" fill="#557537"/>
<path d="M1078 264l16 18 2-7-16-19z" fill="#4280e6"/>
<path d="M968 250l17 8 3-4-17-8z" fill="#46a6d2"/>
<path d="M1153 273l7-4 2-6-8 4z" fill="#274886"/>
<path d="M1108 293l16 23 1-4-16-22z" fill="#5528ae"/>
<path d="M1045 258l16 11 2-4-17-11z" fill="#4595e2"/>
<path d="M1231 168l12-7 3-8-12 8z" fill="#8d4419"/>
<path d="M988 250l18 8 2-6-17-9z" fill="#44a5c8"/>
<path d="M1170 250l9-5 2-6-9 5z" fill="#286273"/>
<path d="M1182 235l9-6 2-6-9 5z" fill="#2e6e5c"/>
<path d="M1008 246l18 9 2-3-17-9z" fill="#46a9c5"/>
<path d="M1228 177l11-2 4-15-12 7z" fill="#8b571d"/>
<path d="M1210 196l11-6 3-5-11 5z" fill="#84772d"/>
<path d="M1160 264l8-4 2-6-8 4z" fill="#27547f"/>
<path d="M1061 265l17 14 1-6-16-14z" fill="#458aed"/>
<path d="M1133 302l6-3 1-6-7 3z" fill="#32207a"/>
<path d="M1138 294l7-3 1-6-7 3z" fill="#2a2b7f"/>
<path d="M1194 219l10-6 2-7-10 6z" fill="#4e743d"/>
<path d="M1225 184l11 1 4-11-12 2z" fill="#a27728"/>
<path d="M1128 309l6-3 0-6-6 4z" fill="#3b1a75"/>
<path d="M1145 287l6-4 2-6-8 3z" fill="#273a85"/>
<path d="M1093 280l16 21 1-6-16-22z" fill="#4058d9"/>
<path d="M1077 272l17 17 1-8-16-17z" fill="#4276e8"/>
<path d="M943 254l18 7 3-4-17-7z" fill="#46a4d2"/>
<path d="M1123 316l6-2 0-6-6 3z" fill="#491873"/>
<path d="M1026 252l17 10 2-1-17-10z" fill="#3f93bf"/>
<path d="M1151 278l8-4 1-6-8 4z" fill="#274687"/>
<path d="M1179 240l9-5 3-7-10 6z" fill="#2d6b60"/>
<path d="M965 254l18 7 3-3-18-8z" fill="#46a6d2"/>
<path d="M1168 255l9-4 2-7-9 5z" fill="#286076"/>
<path d="M1208 202l10-6 3-7-11 7z" fill="#76722d"/>
<path d="M986 254l18 8 2-4-17-9z" fill="#47a8d3"/>
<path d="M1192 224l9-5 3-7-10 6z" fill="#467344"/>
<path d="M1248 148l13-9 3-3-13 7z" fill="#921912"/>
<path d="M1222 186l11-4 3 2-11-1z" fill="#b78b2f"/>
<path d="M1043 260l17 12 2-3-17-12z" fill="#4392da"/>
<path d="M1108 299l16 22 0-5-15-23z" fill="#5a2ab7"/>
<path d="M1159 270l7-4 2-7-8 4z" fill="#275181"/>
<path d="M1006 251l18 10 2-7-17-9z" fill="#46aac8"/>
<path d="M1137 299l7-3 1-6-7 3z" fill="#2b287e"/>
<path d="M1132 307l6-3 1-6-7 3z" fill="#331f79"/>
<path d="M1060 268l17 14 1-4-17-14z" fill="#4385e7"/>
<path d="M1143 291l7-3 1-6-7 3z" fill="#273784"/>
<path d="M1205 208l10-6 3-7-11 6z" fill="#6d722f"/>
<path d="M1092 287l17 19 0-6-16-20z" fill="#4550db"/>
<path d="M1076 277l17 17 1-5-17-17z" fill="#4370ea"/>
<path d="M1177 246l9-5 2-7-9 5z" fill="#2c6965"/>
<path d="M1127 314l6-3 0-6-6 3z" fill="#3c1a75"/>
<path d="M940 257l18 8 4-4-18-8z" fill="#46a3d2"/>
<path d="M1245 154l13-8 3-7-13 9z" fill="#881a12"/>
<path d="M1166 261l8-5 2-6-8 4z" fill="#285d78"/>
<path d="M1150 283l7-3 1-7-7 4z" fill="#274487"/>
<path d="M1189 230l9-5 3-7-10 5z" fill="#3f724a"/>
<path d="M1234 185l11 3 4-15-11 1z" fill="#946622"/>
<path d="M1123 321l5-3 0-6-5 3z" fill="#4a1873"/>
<path d="M962 257l18 8 3-4-18-8z" fill="#46a6d2"/>
<path d="M984 257l17 9 3-4-18-9z" fill="#46a7d3"/>
<path d="M1238 175l11 0 5-21-12 6z" fill="#8c4219"/>
<path d="M1157 275l7-4 2-7-8 4z" fill="#274f83"/>
<path d="M1219 190l11-6 3-2-11 4z" fill="#a27929"/>
<path d="M1024 254l17 10 2-2-17-11z" fill="#44a5ca"/>
<path d="M1242 162l12-7 3-10-12 8z" fill="#862413"/>
<path d="M1004 257l18 9 2-6-18-9z" fill="#45a5cc"/>
<path d="M1202 214l10-6 3-7-10 6z" fill="#647332"/>
<path d="M1175 251l8-4 3-7-9 5z" fill="#2b676a"/>
<path d="M1107 305l17 20 0-4-16-22z" fill="#5f2abc"/>
<path d="M1187 236l9-5 2-7-9 5z" fill="#387151"/>
<path d="M1136 304l6-3 1-6-6 3z" fill="#2c257d"/>
<path d="M1041 261l17 12 2-1-17-12z" fill="#3e8bc5"/>
<path d="M1142 296l6-3 2-6-7 3z" fill="#273583"/>
<path d="M1164 266l8-4 2-7-8 4z" fill="#275a7b"/>
<path d="M1131 312l6-3 1-7-6 3z" fill="#341f78"/>
<path d="M1148 288l7-3 1-7-6 4z" fill="#274187"/>
<path d="M1091 292l17 19 1-5-17-19z" fill="#4648d4"/>
<path d="M1058 271l17 14 2-3-17-14z" fill="#4183e1"/>
<path d="M1199 219l10-5 3-7-10 6z" fill="#5c7434"/>
<path d="M1075 281l17 17 1-5-17-16z" fill="#416ce3"/>
<path d="M1216 196l11-6 3-7-11 7z" fill="#906f26"/>
<path d="M1127 319l5-3 0-6-5 3z" fill="#3d1a75"/>
<path d="M1259 140l13 3 4-3-13-4z" fill="#cc221a"/>
<path d="M1155 280l7-3 2-7-7 4z" fill="#274c85"/>
<path d="M959 260l19 8 2-4-18-8z" fill="#46a6d2"/>
<path d="M1002 261l18 10 2-5-18-9z" fill="#47a6d6"/>
<path d="M1173 257l8-5 2-7-8 5z" fill="#2a646f"/>
<path d="M981 261l18 8 3-4-18-8z" fill="#46a7d3"/>
<path d="M1184 241l9-4 2-7-9 5z" fill="#317057"/>
<path d="M1123 325l5-2 0-6-5 2z" fill="#4a1873"/>
<path d="M1022 260l17 10 2-6-17-11z" fill="#46a9d1"/>
<path d="M1244 187l10 5 5-20-11 1z" fill="#915f20"/>
<path d="M1162 271l8-3 2-7-8 4z" fill="#27577d"/>
<path d="M1213 202l11-6 3-7-11 7z" fill="#856f28"/>
<path d="M1197 225l9-5 3-7-10 5z" fill="#537538"/>
<path d="M1141 302l6-3 1-7-6 3z" fill="#283282"/>
<path d="M1135 309l6-3 1-6-6 3z" fill="#2d237c"/>
<path d="M1107 309l17 21 0-5-17-20z" fill="#6029bb"/>
<path d="M1256 147l12-2 4-3-13-3z" fill="#bc2018"/>
<path d="M1147 294l6-3 2-7-7 3z" fill="#273e86"/>
<path d="M1131 316l5-2 1-7-6 3z" fill="#361e78"/>
<path d="M1153 285l7-3 2-7-7 4z" fill="#274986"/>
<path d="M1182 247l8-4 2-8-8 5z" fill="#2e6d5d"/>
<path d="M1039 263l18 13 2-3-18-12z" fill="#439acf"/>
<path d="M1170 262l8-4 2-7-8 4z" fill="#286273"/>
<path d="M1248 175l11-1 5-26-11 6z" fill="#8a2b15"/>
<path d="M1091 296l17 19 0-4-16-19z" fill="#4446cf"/>
<path d="M1210 208l10-6 4-7-11 7z" fill="#7c702b"/>
<path d="M1126 323l5-2 1-6-6 2z" fill="#3e1975"/>
<path d="M957 264l18 8 3-4-18-8z" fill="#46a6d2"/>
<path d="M1194 231l9-5 3-7-10 5z" fill="#4b733f"/>
<path d="M1074 284l17 17 1-4-17-16z" fill="#406bdf"/>
<path d="M1057 272l17 15 2-2-18-14z" fill="#3d7dcd"/>
<path d="M1020 265l18 11 2-6-18-11z" fill="#46a3d4"/>
<path d="M1252 155l13-7 3-4-12 2z" fill="#991a13"/>
<path d="M1160 277l7-4 3-7-8 4z" fill="#27547f"/>
<path d="M1000 265l18 9 2-4-18-9z" fill="#47a5d6"/>
<path d="M978 264l19 9 2-4-18-9z" fill="#46a7d3"/>
<path d="M1122 330l5-2 0-6-5 2z" fill="#4a1873"/>
<path d="M1207 214l10-5 3-7-10 5z" fill="#73722e"/>
<path d="M1140 307l5-3 2-7-6 3z" fill="#292e81"/>
<path d="M1179 253l8-4 3-8-9 5z" fill="#2d6b62"/>
<path d="M1145 299l6-3 2-7-6 3z" fill="#273b85"/>
<path d="M1134 314l6-2 1-7-6 3z" fill="#2e227b"/>
<path d="M1168 268l7-4 3-7-8 4z" fill="#285f77"/>
<path d="M1191 237l9-5 3-7-9 5z" fill="#437247"/>
<path d="M1225 191l11-7 4-6-12 6z" fill="#925e1f"/>
<path d="M1152 291l6-3 2-7-7 3z" fill="#274687"/>
<path d="M1130 321l5-2 1-7-6 3z" fill="#371d77"/>
<path d="M1106 314l17 21 1-5-17-21z" fill="#6029ba"/>
<path d="M1158 282l7-3 2-7-7 3z" fill="#275182"/>
<path d="M1038 269l18 13 1-6-17-13z" fill="#47a2db"/>
<path d="M1204 220l10-5 3-7-10 5z" fill="#6a7431"/>
<path d="M1018 270l18 10 2-4-18-11z" fill="#47a3db"/>
<path d="M1126 328l4-2 1-7-5 3z" fill="#401974"/>
<path d="M1090 300l17 19 1-4-17-19z" fill="#4346cc"/>
<path d="M1176 259l8-4 3-8-8 5z" fill="#2b6867"/>
<path d="M1222 197l11-6 3-8-11 7z" fill="#8f6321"/>
<path d="M976 268l18 8 3-4-18-8z" fill="#46a7d3"/>
<path d="M1188 243l9-5 3-7-9 5z" fill="#3b714e"/>
<path d="M997 268l19 10 2-4-18-10z" fill="#47a6d5"/>
<path d="M1166 274l7-4 2-7-7 4z" fill="#285b79"/>
<path d="M1073 286l17 18 1-3-17-17z" fill="#3c69d2"/>
<path d="M1055 275l18 15 1-3-17-15z" fill="#418ad6"/>
<path d="M1144 304l5-2 2-7-6 2z" fill="#273884"/>
<path d="M1138 312l5-3 2-7-6 3z" fill="#2a2b7f"/>
<path d="M1150 296l6-3 2-7-7 3z" fill="#274487"/>
<path d="M1201 226l9-5 3-7-9 5z" fill="#607434"/>
<path d="M1122 335l4-2 1-7-5 2z" fill="#4b1873"/>
<path d="M1133 319l5-2 1-7-5 2z" fill="#30217a"/>
<path d="M1219 203l10-6 3-7-10 6z" fill="#8f6b24"/>
<path d="M1156 288l7-3 2-7-7 3z" fill="#274e84"/>
<path d="M1174 264l7-3 3-8-8 4z" fill="#2a656d"/>
<path d="M1185 249l8-4 3-8-8 5z" fill="#337055"/>
<path d="M1129 326l5-2 1-7-5 3z" fill="#381c77"/>
<path d="M1036 275l18 12 2-6-18-12z" fill="#469dde"/>
<path d="M1164 279l6-3 3-7-7 3z" fill="#27587c"/>
<path d="M1106 318l17 21 0-5-17-20z" fill="#5f29b9"/>
<path d="M1215 209l10-4 4-9-11 6z" fill="#897028"/>
<path d="M1198 233l9-5 3-8-9 5z" fill="#567536"/>
<path d="M1016 273l18 11 2-4-18-11z" fill="#46a1da"/>
<path d="M1125 333l4-2 1-7-4 2z" fill="#411974"/>
<path d="M973 271l19 9 3-4-19-9z" fill="#46a7d3"/>
<path d="M1142 309l5-2 2-7-5 3z" fill="#273583"/>
<path d="M995 272l19 10 2-5-19-9z" fill="#47a6d5"/>
<path d="M1148 302l5-3 3-7-6 3z" fill="#274087"/>
<path d="M1137 317l5-2 1-7-5 2z" fill="#2b287e"/>
<path d="M1089 302l17 21 1-4-17-20z" fill="#3f47c6"/>
<path d="M1183 255l7-4 3-8-8 5z" fill="#2e6e5b"/>
<path d="M1234 185l11-7 4-6-11 7z" fill="#94431a"/>
<path d="M1171 270l7-3 3-8-7 4z" fill="#296372"/>
<path d="M1154 293l6-2 3-8-7 3z" fill="#274b85"/>
<path d="M1054 280l18 15 1-5-17-16z" fill="#4694e6"/>
<path d="M1212 216l9-4 4-8-10 4z" fill="#85782e"/>
<path d="M1132 324l5-2 1-7-5 2z" fill="#32207a"/>
<path d="M1195 239l8-5 4-7-9 4z" fill="#4d743e"/>
<path d="M1072 289l17 18 1-4-17-18z" fill="#3e72da"/>
<path d="M1161 285l6-3 3-7-7 3z" fill="#27557f"/>
<path d="M1122 339l4-1 0-7-4 2z" fill="#4b1773"/>
<path d="M1034 279l19 13 1-5-18-13z" fill="#469be1"/>
<path d="M1231 191l10-6 4-8-11 7z" fill="#8f4f1b"/>
<path d="M1128 331l4-2 1-7-4 2z" fill="#391b76"/>
<path d="M1209 222l9-5 3-6-9 3z" fill="#7b7a31"/>
<path d="M1180 261l7-4 3-8-8 4z" fill="#2d6b61"/>
<path d="M1169 276l6-3 3-8-7 4z" fill="#285f76"/>
<path d="M1146 307l5-2 2-8-5 3z" fill="#273d86"/>
<path d="M1192 245l8-4 3-8-8 4z" fill="#447245"/>
<path d="M1141 315l4-2 2-8-5 3z" fill="#283282"/>
<path d="M1014 277l18 11 2-4-18-11z" fill="#46a2d9"/>
<path d="M1152 299l6-2 2-8-6 3z" fill="#274786"/>
<path d="M1105 321l18 23 0-5-17-21z" fill="#5c28b6"/>
<path d="M1227 198l10-6 4-8-10 6z" fill="#8e591e"/>
<path d="M1136 322l4-2 2-7-5 2z" fill="#2c247c"/>
<path d="M993 275l18 10 3-4-19-10z" fill="#47a6d5"/>
<path d="M1125 338l4-2 0-7-4 2z" fill="#421974"/>
<path d="M1159 291l6-3 2-8-6 3z" fill="#275181"/>
<path d="M1052 286l19 15 1-6-18-15z" fill="#4690e9"/>
<path d="M1205 228l9-5 4-7-10 5z" fill="#6c7531"/>
<path d="M1223 206l10-3 4-12-10 5z" fill="#8d6321"/>
<path d="M1131 329l4-1 2-8-5 2z" fill="#341f79"/>
<path d="M1177 267l7-4 3-7-7 3z" fill="#2b6867"/>
<path d="M1088 305l18 22 1-4-18-21z" fill="#3e4dcc"/>
<path d="M1189 251l7-4 4-8-8 4z" fill="#3c714d"/>
<path d="M1166 282l6-3 3-8-6 4z" fill="#285c79"/>
<path d="M1070 294l18 18 2-5-18-19z" fill="#437beb"/>
<path d="M1220 212l9-1 4-10-10 3z" fill="#9a792a"/>
<path d="M1122 344l3-2 1-6-4 1z" fill="#4c1773"/>
<path d="M1033 283l18 12 2-4-18-12z" fill="#4699df"/>
<path d="M1144 313l5-2 2-8-5 2z" fill="#273a85"/>
<path d="M1127 336l4-2 1-7-4 2z" fill="#3a1b76"/>
<path d="M1202 234l8-4 4-8-9 5z" fill="#607433"/>
<path d="M1150 305l5-2 3-8-6 2z" fill="#274487"/>
<path d="M1139 320l5-2 2-7-5 2z" fill="#292e80"/>
<path d="M1156 297l6-3 3-8-6 3z" fill="#274e84"/>
<path d="M1174 273l7-3 3-8-7 3z" fill="#2a656d"/>
<path d="M1186 257l7-3 3-8-7 4z" fill="#337055"/>
<path d="M1134 327l4-1 2-8-4 2z" fill="#2e237b"/>
<path d="M1012 280l19 12 2-5-19-11z" fill="#46a2d9"/>
<path d="M1216 217l9-3 4-4-9 1z" fill="#9e8731"/>
<path d="M990 279l19 10 3-4-19-10z" fill="#47a6d5"/>
<path d="M1163 288l6-3 3-8-6 3z" fill="#27587c"/>
<path d="M1198 241l9-4 3-8-8 4z" fill="#567536"/>
<path d="M1105 325l17 24 1-5-18-23z" fill="#5b29b6"/>
<path d="M1124 343l4-2 0-7-3 2z" fill="#441974"/>
<path d="M1051 290l19 15 1-4-18-15z" fill="#458ce8"/>
<path d="M1130 334l4-1 1-7-4 1z" fill="#351e78"/>
<path d="M1182 263l7-3 4-8-7 4z" fill="#2e6e5c"/>
<path d="M1148 311l5-3 2-7-5 2z" fill="#274187"/>
<path d="M1171 279l6-3 4-8-7 3z" fill="#286273"/>
<path d="M1142 318l5-2 2-7-5 2z" fill="#273684"/>
<path d="M1069 300l19 18 1-6-18-18z" fill="#4478ed"/>
<path d="M1087 311l18 21 1-5-18-22z" fill="#4252d7"/>
<path d="M1154 302l5-2 3-8-5 3z" fill="#274b85"/>
<path d="M1212 223l10-4 3-6-9 3z" fill="#86792e"/>
<path d="M1195 247l8-4 3-8-8 4z" fill="#4c743f"/>
<path d="M1137 326l5-2 2-7-5 1z" fill="#2a2a7f"/>
<path d="M1127 341l3-1 1-7-4 1z" fill="#3c1a75"/>
<path d="M1161 294l5-2 3-8-5 2z" fill="#27547f"/>
<path d="M1031 287l19 12 1-4-18-13z" fill="#469adf"/>
<path d="M1121 349l4-2 0-6-3 1z" fill="#4c1773"/>
<path d="M1133 333l4-2 2-7-4 2z" fill="#30217a"/>
<path d="M1179 270l7-3 3-8-7 3z" fill="#2d6a63"/>
<path d="M1168 285l6-2 3-8-6 2z" fill="#285e77"/>
<path d="M1209 230l8-4 4-8-9 4z" fill="#74722e"/>
<path d="M1010 284l19 11 2-4-19-11z" fill="#46a2d9"/>
<path d="M1191 254l8-4 4-8-8 4z" fill="#437247"/>
<path d="M1146 316l4-2 3-7-5 2z" fill="#273d86"/>
<path d="M1152 308l4-2 3-8-5 3z" fill="#274786"/>
<path d="M1129 340l4-2 1-7-4 2z" fill="#371d77"/>
<path d="M1124 347l3-1 1-7-4 2z" fill="#451874"/>
<path d="M1050 294l18 15 2-4-19-15z" fill="#448be6"/>
<path d="M1141 324l4-2 2-7-4 1z" fill="#273282"/>
<path d="M1104 330l18 23 1-5-18-23z" fill="#5d2aba"/>
<path d="M1158 300l5-2 4-8-6 2z" fill="#275082"/>
<path d="M1205 237l8-5 4-8-8 5z" fill="#687331"/>
<path d="M1176 276l6-3 4-8-7 3z" fill="#2b6769"/>
<path d="M1136 331l4-1 2-8-4 2z" fill="#2c257d"/>
<path d="M1188 260l7-3 4-9-7 4z" fill="#397150"/>
<path d="M1068 304l19 18 1-5-19-18z" fill="#4274e9"/>
<path d="M1086 316l19 21 0-5-18-21z" fill="#4450d8"/>
<path d="M1165 291l6-2 3-8-6 2z" fill="#275a7a"/>
<path d="M1126 346l3-1 1-7-3 1z" fill="#3e1975"/>
<path d="M1132 338l3-1 2-8-4 2z" fill="#322079"/>
<path d="M1029 290l19 13 2-4-19-13z" fill="#469adf"/>
<path d="M1201 243l8-4 4-8-8 4z" fill="#5d7434"/>
<path d="M1149 314l5-2 3-8-5 2z" fill="#274388"/>
<path d="M1121 354l3-2 1-6-4 1z" fill="#4d1773"/>
<path d="M1144 322l4-2 3-7-5 1z" fill="#273984"/>
<path d="M1173 282l6-2 3-9-6 3z" fill="#29646f"/>
<path d="M1155 306l5-2 4-8-6 2z" fill="#274d85"/>
<path d="M1185 267l6-4 4-8-7 3z" fill="#306f58"/>
<path d="M1139 330l3-2 3-8-4 2z" fill="#292d80"/>
<path d="M1008 288l19 11 2-4-19-11z" fill="#46a3d8"/>
<path d="M1162 298l5-3 4-8-5 3z" fill="#27567e"/>
<path d="M1128 345l3-1 2-8-4 2z" fill="#391c76"/>
<path d="M1197 250l8-4 4-8-8 4z" fill="#527439"/>
<path d="M1134 337l4-2 2-7-4 1z" fill="#2e237b"/>
<path d="M1123 352l3-1 1-7-3 2z" fill="#461874"/>
<path d="M1048 298l19 15 2-4-19-15z" fill="#448be5"/>
<path d="M1181 273l6-3 4-8-6 3z" fill="#2d6c5f"/>
<path d="M1103 335l19 23 0-5-18-23z" fill="#5f2abc"/>
<path d="M1170 289l5-3 4-8-6 3z" fill="#286076"/>
<path d="M1147 320l4-1 3-8-4 1z" fill="#273f86"/>
<path d="M1153 312l4-2 4-8-5 2z" fill="#274986"/>
<path d="M1194 257l7-4 4-8-7 3z" fill="#487342"/>
<path d="M1067 308l19 18 1-4-19-18z" fill="#4273e7"/>
<path d="M1085 321l19 21 1-5-19-21z" fill="#434cd4"/>
<path d="M1142 328l3-2 3-7-4 1z" fill="#273583"/>
<path d="M1130 344l3-2 2-7-3 1z" fill="#351e78"/>
<path d="M1159 304l5-2 4-8-5 2z" fill="#275281"/>
<path d="M1125 351l3-1 1-7-3 1z" fill="#401974"/>
<path d="M1137 335l3-1 3-8-4 2z" fill="#2b287e"/>
<path d="M1027 294l20 13 1-4-19-13z" fill="#469bde"/>
<path d="M1178 280l5-3 5-9-7 3z" fill="#2c6866"/>
<path d="M1166 295l5-2 4-8-5 2z" fill="#285c79"/>
<path d="M1190 263l6-3 5-8-7 3z" fill="#3e714c"/>
<path d="M1121 358l2-1 1-7-3 2z" fill="#4d1773"/>
<path d="M1133 342l3-1 2-8-3 2z" fill="#30217a"/>
<path d="M1127 350l3-1 1-7-3 1z" fill="#3a1b76"/>
<path d="M1150 318l4-1 4-8-5 1z" fill="#274487"/>
<path d="M1144 326l4-1 3-8-4 1z" fill="#273a85"/>
<path d="M1156 310l5-2 3-8-4 2z" fill="#274e84"/>
<path d="M1174 286l5-2 5-9-6 3z" fill="#2a656d"/>
<path d="M1139 334l4-2 3-7-4 1z" fill="#282f81"/>
<path d="M1123 357l2 0 1-8-3 1z" fill="#471873"/>
<path d="M1186 270l6-3 5-9-7 4z" fill="#337055"/>
<path d="M1046 302l20 16 1-5-19-15z" fill="#448ce5"/>
<path d="M1163 302l5-2 4-9-5 2z" fill="#27577d"/>
<path d="M1103 340l19 23 0-5-18-23z" fill="#5f2abb"/>
<path d="M1129 349l3-1 2-8-3 2z" fill="#371d77"/>
<path d="M1135 341l3-1 3-8-4 1z" fill="#2c247c"/>
<path d="M1066 312l19 19 1-5-19-18z" fill="#4274e6"/>
<path d="M1124 357l3-1 1-8-3 1z" fill="#421974"/>
<path d="M1084 325l19 21 1-4-19-22z" fill="#434cd3"/>
<path d="M1170 293l5-2 5-9-6 2z" fill="#286174"/>
<path d="M1182 277l6-3 5-9-6 3z" fill="#2e6d5d"/>
<path d="M1147 325l4-2 4-8-4 2z" fill="#274087"/>
<path d="M1153 317l4-2 4-8-4 1z" fill="#274986"/>
<path d="M1142 332l3-1 4-8-4 1z" fill="#273684"/>
<path d="M1025 298l20 13 2-4-20-13z" fill="#469bde"/>
<path d="M1160 308l4-2 4-8-4 2z" fill="#275380"/>
<path d="M1131 348l3-1 2-8-3 1z" fill="#331f79"/>
<path d="M1137 340l3-1 3-8-3 1z" fill="#2a2a7f"/>
<path d="M1126 356l2-1 2-8-3 1z" fill="#3c1a75"/>
<path d="M1121 363l2 0 0-7-2 0z" fill="#4e1773"/>
<path d="M1178 284l6-3 5-9-6 3z" fill="#2c6965"/>
<path d="M1167 299l4-2 5-8-5 2z" fill="#285d78"/>
<path d="M1150 323l4-2 4-8-4 2z" fill="#274587"/>
<path d="M1133 347l3-1 2-8-3 1z" fill="#2f227b"/>
<path d="M1145 331l3-1 3-9-3 2z" fill="#273b85"/>
<path d="M1122 363l2-1 1-7-2 0z" fill="#491873"/>
<path d="M1128 355l2-1 2-8-3 1z" fill="#391c76"/>
<path d="M1156 315l4-2 5-9-5 2z" fill="#274e84"/>
<path d="M1045 306l20 16 1-5-19-15z" fill="#448de5"/>
<path d="M1140 338l2-1 4-8-3 1z" fill="#283081"/>
<path d="M1175 290l5-2 4-9-5 3z" fill="#2a656c"/>
<path d="M1163 306l4-2 5-8-4 2z" fill="#27587c"/>
<path d="M1102 345l19 23 1-5-19-23z" fill="#5e2abb"/>
<path d="M1123 362l2-1 2-7-2 1z" fill="#441974"/>
<path d="M1135 346l3-1 3-8-3 1z" fill="#2c247c"/>
<path d="M1129 354l3-1 2-8-3 1z" fill="#361e78"/>
<path d="M1064 316l20 19 1-5-19-18z" fill="#4275e7"/>
<path d="M1083 329l20 22 1-5-19-21z" fill="#424dd3"/>
<path d="M1147 329l3-1 4-8-3 1z" fill="#274087"/>
<path d="M1171 297l4-2 5-9-5 2z" fill="#286274"/>
<path d="M1153 321l4-1 4-9-4 2z" fill="#274986"/>
<path d="M1142 337l3-1 3-8-3 1z" fill="#273684"/>
<path d="M1125 361l2-1 2-7-3 1z" fill="#3f1975"/>
<path d="M1160 313l4-2 4-9-4 2z" fill="#275380"/>
<path d="M1131 353l2-1 3-8-2 1z" fill="#332079"/>
<path d="M1137 345l2-1 4-9-3 1z" fill="#2a2a7f"/>
<path d="M1120 368l2 0 1-7-2 0z" fill="#4e1772"/>
<path d="M1126 360l2-1 2-7-2 1z" fill="#3b1a75"/>
<path d="M1167 304l4-2 5-9-5 2z" fill="#285d78"/>
<path d="M1150 328l3-1 4-9-3 1z" fill="#274487"/>
<path d="M1122 368l1-1 1-7-2 1z" fill="#4a1873"/>
<path d="M1144 336l3-1 4-9-3 1z" fill="#273a85"/>
<path d="M1133 352l2-1 3-8-2 1z" fill="#2f227b"/>
<path d="M1156 320l4-2 4-9-4 2z" fill="#274e84"/>
<path d="M1043 310l20 16 2-5-20-15z" fill="#448ee5"/>
<path d="M1139 343l2-1 4-8-2 1z" fill="#282f81"/>
<path d="M1128 359l2 0 2-8-2 1z" fill="#381c77"/>
<path d="M1123 367l1-1 2-7-2 1z" fill="#461874"/>
<path d="M1163 311l4-2 5-9-4 2z" fill="#27577d"/>
<path d="M1102 349l19 24 1-5-20-23z" fill="#5e2abb"/>
<path d="M1135 351l2-1 3-8-2 1z" fill="#2c247c"/>
<path d="M1063 320l20 19 1-4-19-19z" fill="#4275e7"/>
<path d="M1129 359l2-1 3-8-2 1z" fill="#361e78"/>
<path d="M1146 334l3-1 5-8-3 1z" fill="#273f86"/>
<path d="M1124 366l1 0 2-8-2 1z" fill="#421974"/>
<path d="M1083 334l19 22 1-5-19-22z" fill="#424ed4"/>
<path d="M1152 326l4-1 4-9-3 2z" fill="#274986"/>
<path d="M1141 342l2-1 5-8-3 1z" fill="#273583"/>
<path d="M1159 318l3-2 6-9-4 2z" fill="#275281"/>
<path d="M1125 366l1-1 3-8-2 1z" fill="#3e1975"/>
<path d="M1136 350l2-1 4-8-2 0z" fill="#2b287e"/>
<path d="M1131 358l1-1 4-8-3 1z" fill="#331f79"/>
<path d="M1120 373l1 0 1-7-1 0z" fill="#4e1772"/>
<path d="M1149 333l3-1 4-9-3 1z" fill="#274388"/>
<path d="M1143 341l3-1 4-9-3 2z" fill="#273984"/>
<path d="M1126 365l2 0 2-8-2 0z" fill="#3b1a75"/>
<path d="M1155 325l3-2 5-8-3 1z" fill="#274d85"/>
<path d="M1121 373l1-1 1-7-1 1z" fill="#4b1773"/>
<path d="M1132 357l2-1 3-8-2 1z" fill="#30217a"/>
<path d="M1138 349l2-1 4-9-2 1z" fill="#292d80"/>
<path d="M1127 365l2-1 3-8-2 1z" fill="#391c76"/>
<path d="M1122 372l1 0 2-8-2 1z" fill="#481873"/>
<path d="M1133 356l2-1 4-8-2 1z" fill="#2e237b"/>
<path d="M1145 340l3-1 4-9-2 1z" fill="#273d86"/>
<path d="M1151 332l3-1 5-9-3 1z" fill="#274786"/>
<path d="M1123 372l1 0 2-8-2 0z" fill="#451874"/>
<path d="M1101 354l20 24 0-5-19-24z" fill="#5e2abb"/>
<path d="M1140 348l2-1 4-9-2 1z" fill="#273282"/>
<path d="M1128 364l2-1 3-8-2 1z" fill="#371d77"/>
<path d="M1062 325l20 19 1-5-20-19z" fill="#4276e7"/>
<path d="M1082 338l20 22 0-5-19-22z" fill="#424fd4"/>
<path d="M1124 371l1 0 2-8-2 1z" fill="#421974"/>
<path d="M1135 355l2 0 4-9-2 1z" fill="#2c257d"/>
<path d="M1129 363l2 0 4-9-2 1z" fill="#351e78"/>
<path d="M1147 339l3-1 5-9-3 1z" fill="#274187"/>
<path d="M1124 371l1 0 3-8-1 0z" fill="#3f1975"/>
<path d="M1141 347l3-1 4-9-2 1z" fill="#273684"/>
<path d="M1120 378l1 0 1-7-2 0z" fill="#4f1772"/>
<path d="M1136 355l2-1 5-9-2 1z" fill="#2a2a7f"/>
<path d="M1131 363l1-1 4-8-2 0z" fill="#322079"/>
<path d="M1125 371l1-1 3-8-1 1z" fill="#3c1a75"/>
<path d="M1120 378l1 0 1-8-1 1z" fill="#4d1773"/>
<path d="M1143 346l2-1 6-9-3 1z" fill="#273a85"/>
<path d="M1126 370l1 0 3-9-1 1z" fill="#3a1b76"/>
<path d="M1132 362l1-1 4-8-1 0z" fill="#30217a"/>
<path d="M1121 378l1 0 1-8-1 0z" fill="#4a1873"/>
<path d="M1138 354l1-1 5-9-2 1z" fill="#292e80"/>
<path d="M1122 378l0-1 2-8-1 1z" fill="#481873"/>
<path d="M1127 370l1-1 4-8-2 0z" fill="#391c76"/>
<path d="M1133 361l1 0 5-9-2 1z" fill="#2e237b"/>
<path d="M1122 377l1 0 2-8-1 0z" fill="#461874"/>
<path d="M1100 359l20 24 1-5-20-24z" fill="#5e2abb"/>
<path d="M1139 353l2-1 5-9-2 1z" fill="#283282"/>
<path d="M1128 369l1 0 4-9-2 1z" fill="#371d77"/>
<path d="M1123 377l0 0 3-8-1 0z" fill="#441974"/>
<path d="M1081 342l20 23 1-5-20-22z" fill="#4150d5"/>
<path d="M1134 361l1-1 5-9-1 1z" fill="#2c247c"/>
<path d="M1129 369l1-1 4-8-1 0z" fill="#351e78"/>
<path d="M1123 377l1-1 3-8-1 1z" fill="#421974"/>
<path d="M1124 376l0 0 4-8-1 0z" fill="#401974"/>
<path d="M1135 360l2-1 5-9-2 1z" fill="#2b287e"/>
<path d="M1129 368l1 0 5-9-1 0z" fill="#341f79"/>
<path d="M1124 376l1 0 4-9-1 1z" fill="#3e1975"/>
<path d="M1120 384l0-1 1-7-1 0z" fill="#4f1772"/>
<path d="M1120 383l0 0 2-7-1 0z" fill="#4e1772"/>
<path d="M1130 368l1-1 5-9-1 1z" fill="#32207a"/>
<path d="M1125 376l1-1 4-8-1 0z" fill="#3c1a75"/>
<path d="M1120 383l1 0 1-8-1 1z" fill="#4d1773"/>
<path d="M1120 383l1 0 2-8-1 0z" fill="#4b1773"/>
<path d="M1125 375l1 0 5-9-1 1z" fill="#3a1b76"/>
<path d="M1131 367l1 0 6-9-2 0z" fill="#30217a"/>
<path d="M1121 383l0 0 2-8 0 0z" fill="#4a1873"/>
<path d="M1126 375l1 0 4-9-1 0z" fill="#391b76"/>
<path d="M1121 383l0 0 3-8-1 0z" fill="#491873"/>
<path d="M1121 383l1 0 3-9-1 1z" fill="#471873"/>
<path d="M1127 375l0-1 5-9-1 1z" fill="#381c77"/>
<path d="M1121 382l1 0 3-8 0 0z" fill="#461874"/>
<path d="M1100 364l20 25 1-6-21-24z" fill="#5e2abb"/>
<path d="M1122 382l0 0 4-8-1 0z" fill="#451874"/>
<path d="M1127 374l1 0 5-9-1 0z" fill="#371d77"/>
<path d="M1122 382l0 0 4-9 0 1z" fill="#441974"/>
<path d="M1122 382l1 0 4-9-1 0z" fill="#421974"/>
<path d="M1123 382l0 0 5-9-1 0z" fill="#411974"/>
<path d="M1123 382l0 0 5-10 0 1z" fill="#401974"/>
<path d="M1123 381l0 0 6-9-1 0z" fill="#3e1975"/>
<path d="M1119 389l0 0 1-8 0 1z" fill="#501772"/>
<path d="M1119 389l0 0 2-8-1 0zM1119 389l0 0 2-8 0 0z" fill="#4f1772"/>
<path d="M1119 389l0 0 2-8 0 0zM1119 389l0 0 3-8-1 0z" fill="#4e1772"/>
<path d="M1119 389l0 0 3-8 0 0z" fill="#4e1773"/>
<path d="M1119 389l0 0 3-8 0 0zM1119 389l0 0 4-9-1 1z" fill="#4d1773"/>
<path d="M1119 389l0 0 4-9 0 0zM1119 389l0 0 4-9 0 0z" fill="#4c1773"/>
<path d="M1119 389l0 0 5-9-1 0z" fill="#4b1773"/>
<path d="M1119 389l0 0 5-9 0 0z" fill="#4b1873"/>
<path d="M1119 389l0 0 5-9 0 0zM1119 389l0 0 5-9 0 0z" fill="#4a1873"/></g>
<path class="m" d="M280.2 80.3l1.5-1.5 1.6-1.4 1.5-1.4 1.6-1.4 1.5-1.4 1.5-1.6 1.5-1.8 1.5-1.4 1.6-.7 1.5-.9 1.5-1.2 1.5-1.5 1.4-2.7 1.4-2.6 .7-.3M306.6 58.5l1.5-1.3 1.3-3 1.3-3.1 .7-.3M317.4 51.5l1.3-2.7 1.2-3.4 1.4-.3M327 45.7l1.2-3.3 1.3-2.8 .7 .1M336.2 40.3l1.2-3.5 1.3-1.7M344.5 36.7l1.2-3.1 1.3-2.2M352.5 33.7l1.2-2.5 1.2-2.4 .6 0M360.2 31.6l1.2-1.7M285.2 79.8l1.6-1.4 1.6-1.4 1.5-1.3 1.6-1.3 1.5-1.3 1.6-1.5 1.5-1.9 1.5-1.3 1.6-.5 1.5-.7 1.5-1.1 1.5-1.4 1.4-2.9 1.4-2.7 .7-.2M311.9 59.6l1.4-1.2 1.4-3.2 1.3-3.2 .7-.3M322.6 53l1.4-2.7 1.2-3.5 1.5-.3M332.3 47.4l1.2-3.2 1.3-2.8 .7 .1M341.5 42.3l1.2-3.5 1.3-1.6M349.8 39l1.2-3 1.2-2M357.8 36.6l1.1-2.3 1.2-2 .6 .1M364.8 35.6l1.2-.6 .6-.8M290.4 79.8l1.6-1.3 1.6-1.2 1.6-1.3 1.6-1.2 1.5-1.1 1.6-1.5 1.5-1.9 1.5-1.2 .8-.2M305.3 68.6l1.5-.9 1.6-1.1 1.4-2.1 1.4-3.4 1.4-1.2M318 60.7l1.4-2.1 1.3-3.9 1.5-1.5M328.1 54.8l1.3-2.7 1.3-3.6 1.4-.2M337.7 49.5l1.3-3.3 1.2-2.8 .7 .2M346.9 44.6l1.3-3.4 1.2-1.4M355.2 41.9l1.2-2.8 1.2-1.7 .6 .4M362.5 40.7l1.2-1.1 1.2-2 1.1-.2M369.5 40.4l1.1 0 1.2-.5M295.8 80.5l1.6-1.2 1.6-1.2 1.6-1.1 1.6-1.1 1.6-1.1 1.6-1.5 1.5-1.9 1.5-1.1 1.6-.1 1.6-.5 1.5-1 1.5-1.4 1.4-3.1 1.4-2.8 .8 0M323.6 62.5l1.4-2.1 1.3-3.9 1.4-1.5M333.6 56.9l1.3-2.7 1.3-3.6 1.4-.1M343.2 51.8l1.3-3.2 1.3-2.7 .6 .2M351.8 48.4l1.2-2.5 1.3-2.7 .6-.2M360 46l1.2-1.5 1.2-2.2 1.3 .2M367.3 45.4l1.2-.2 1.1-1 1.2-.6 .6 .3M374.8 46.2l1.1 .2 1.1 .2M301.4 81.7l1.6-1.1 1.7-1.1 1.6-1.1 1.6-1 1.6-1.1 1.5-1.4 1.5-1.9 1.6-1.1 1.6 0 1.5-.4 1.6-.9 1.5-1.3 1.4-3.2 1.4-2.8 .8-.1M329.2 64.6l1.4-2.1 1.4-3.9 1.4-1.5M339.2 59.2l1.4-2.6 1.3-3.5 1.4-.1M348.8 54.5l1.3-3 1.3-2.4 .7 .2M357.4 51.8l1.2-2.1 1.3-2.2 .6-.1M364.3 50.7l1.2-.1 1.2-1 1.3-1.4 1.2 .4M371.5 50.9l1.2 .2 1.2 .1 1.1-.1 1.2 .2 1.1 .6 1.2-1.2 1.1-1.9 1.2-1.8 1.1-1.9 .6-.9M307.2 83.4l1.6-1 1.6-1.1 1.7-1 1.6-1 1.5-1 1.6-1.4 1.5-1.9 1.6-1 .8 0M322.3 74l1.5-.7 1.5-1 1.5-2.2 1.4-3.6 1.5-1.1M334.3 67.5l1.4-1.2 1.4-3.2 1.4-3.3 .7-.2M345 61.9l1.4-2.5 1.3-3.3 1.4 0M353.9 58.5l1.3-1.8 1.3-2.8 1.3-.5M362.4 56.4l1.3-.8 1.2-1.9 1.3-.4M369.3 56.2l1.2 .1 1.2-.1 1.2-.5 1.2 .1 1.2 .8 1.1 .6 1.2-.3 1.2-1.9 1.2-1.9 1.2-1.9M382.4 49.3l1.1-1.9 1.2-1.8 1.2-1.9 1.1-1.9 1.2-1.8M313.1 85.5l1.7-1 1.6-1 1.6-.9 1.6-1 1.6-1 1.5-1.3 1.6-1.9 1.5-1.1 1.6 .2 1.6-.3 1.5-.9 1.5-1.3 1.4-3.2 1.5-2.8 .7 0M340.2 70.2l1.4-1.1 1.4-3.2 1.4-3.1 .7-.1M350.9 65.2l1.3-2.3 1.4-3 1.4 .2M359.1 62.8l1.3-.6 1.3-2.1 1.3-1.4 .7 .3M366.9 61.9l1.2 0 1.3-.4 1.3-.8 1.2 .1 .6 .5M374.3 62.5l1.2 .2 1.2 .2 1.2-1.4 1.3-2 1.2-1.9 1.2-2 1.2-1.9 1.2-2 1.2-1.9 1.2-1.9 1.2-1.9 1.2-1.9 1.2-1.9 1.1-1.9 1.2-1.9 .6-1M319.2 88l1.6-1 1.7-.9 1.6-1 1.6-.9 1.6-1 1.5-1.3 1.6-1.9 1.5-1 1.6 .2 1.5-.3 1.6-.8 1.5-1.3 1.4-3.1 1.5-2.7 .7 .1M346.2 73.4l1.5-1.1 1.4-2.9 1.4-2.8 .7-.1M356.2 69.6l1.4-1.1 1.3-2.5 1.4-1.2 .7 .5M364.3 68.1l1.3-.2 1.4-.7 1.3-1.2 1.2 .2M372.1 68.2l1.2 .2 1.3 .1 1.2 .1 1.2-.3 1.3-2 1.2-2.1 1.3-2 1.2-2 1.3-1.9 1.2-2 1.2-2 1.2-2 1.3-2 1.2-1.9 1.2-2 1.2-1.9 1.2-2 1.2-1.9 1.2-1.9 1.2-1.9 1.2-2 1.2-1.9 1.2-1.9M325.4 90.8l1.7-1 1.6-.9 1.6-.9 1.6-.9 1.6-1 1.5-1.3 1.6-1.8 1.5-.9 .8 0M340.5 82.3l1.5-.6 1.5-.8 1.5-2.1 1.5-3.2 1.4-.8M352.4 77.2l1.4-.9 1.5-2.5 1.4-2.3 .7 .1M361.6 74.8l1.4-.3 1.3-1.3 1.4-1.5 1.3 .5M369 74.2l1.3 .2 1.3 .1 1.3-.1 1.3-.1 1.3 .4 1.2-.3 1.3-2.1 1.3-2.1 1.3-2 1.2-2.1 1.3-2 1.3-2.1 1.2-2 1.3-2 1.2-2.1 1.3-2 1.2-2 1.3-2 1.2-2 1.2-2 1.3-2 1.2-2 1.2-1.9 1.2-2 1.2-2 1.2-1.9 1.2-1.9 1.2-1.5 1.2-1.9 1.2-2.4M331.8 93.8l1.7-.9 1.6-.9 1.6-.8 1.6-.9 1.6-.8 1.5-1.3 1.6-1.7 1.5-.8 1.6 .2 1.5-.1 1.5-.7 1.5-1 1.5-2.6 1.4-2.1 .8 .2M358 82.2l1.4-.4 1.4-1.1 1.4-2.1 1.5-.4 .7 .8M367.1 81l1.4 0 1.3-.2 1.4-.6 1.3 .1 1.3 .7 1.3 .5 1.3-.7 1.3-2.1 1.3-2.1 1.3-2.2 1.3-2.1 1.3-2.1 1.3-2.1 1.3-2.1 1.3-2.1 1.3-2.1 1.3-2.1 1.3-2 1.2-2.1 1.3-2.1 1.3-2 1.2-2.1 1.3-2 1.2-2 1.3-2.1 1.2-2 1.2-2 1.3-1.9 1.2-2.1 1.2-2 1.3-2 1.2-1.9 .6-.4M412.2 23.8l.7-2M338.4 97.3l1.6-.8 1.6-.8 1.6-.8 1.6-.8 1.6-.7 1.5-1.1 1.6-1.5 1.5-.7 1.6 .3 1.5-.1 1.5-.4 1.5-.8 1.4-2 1.5-1.5 .8 .2M363.6 88.2l1.5 0 1.4-.3 1.4-.9 1.4-.6 1.4 .7 1.3 .9 1.4 .3 1.3 .1 1.3-.8 1.4-2.2 1.3-2.2 1.4-2.2 1.3-2.2 1.4-2.1 1.3-2.2 1.3-2.2 1.3-2.2 1.4-2.1 1.3-2.1 1.3-2.2 1.3-2.1 1.3-2.1 1.3-2.2 1.3-2.1 1.3-2.1 1.2-2.1 1.3-2.1 1.3-2 1.3-2.1 1.2-2.1 1.3-2 1.3-2.1 .6-.9M409.7 35.3l1.3-4.3 1.3-2.6 1.2-2 .6-1M345.1 101.4l1.6-.7 1.6-.7 1.6-.7 1.6-.6 1.5-.6 1.6-.8 1.5-1.2 1.6-.4 1.5 .4 1.5 0 1.5-.2 1.4-.4 1.5-1.2 1.5-.7 1.4 .8 .7 .5M370.1 95.5l1.4 0 1.4 0 1.4 .1 1.4-.8 1.4-2.3 1.4-2.3 1.3-2.2 1.4-2.3 1.4-2.2 1.4-2.3 1.3-2.2 1.4-2.3 1.3-2.2 1.4-2.2 1.3-2.2 1.4-2.2 1.3-2.2 1.3-2.2 1.4-2.2 1.3-2.1 1.3-2.2 1.3-2.1 1.3-2.2 1.3-2.1 1.3-2.2 1.3-2 .6-.8M407.1 44.6l1.3-2.2 1.3-3.3 1.3-2.3 1.3-2.1 .6-.9M351.9 106.5l1.6-.6 1.6-.5 1.6-.5 1.6-.4 1.5-.3 1.6-.6 1.5-.7 1.5-.1 1.5 .4 1.5 .1 1.4 0 1.5-.1 1.4-.3 1.5 .1 1.4 .4 1.4-2.2 1.4-2.4 1.5-2.3 1.4-2.4 1.4-2.3 1.4-2.3 1.4-2.3 1.4-2.3 1.4-2.3 1.4-2.3 1.4-2.3 1.4-2.3 1.3-2.3 1.4-2.2 1.4-2.3 1.3-2.2 1.4-2.3 1.3-2.2 1.4-2.2 1.3-2.2 1.3-2.2 1.4-1.9 1.3-1.9 1.3-2.6 1.3-2.4 1.4-2.2 1.3-2M416 37.4l1.4-4.5 .7-1.1M358.9 112.7l1.6-.3 1.6-.3 1.5-.2 1.6-.1 1.5-.2 1.5-.2 1.5-.2 1.5 .1 1.5 .2 1.4 0 1.5-2.3 1.5-2.5 1.4-2.4 1.5-2.4 1.5-2.4 1.4-2.5 1.5-2.4 1.4-2.3 1.4-2.4 1.5-2.4 1.4-2.4 1.4-2.3 1.4-2.4 1.4-2.3 1.4-2.3 1.4-2.4 1.4-2.3 1.4-2.3 1.4-2.3 1.4-2.3 1.3-2.2 1.4-2.2 1.4-2.4 1.3-2.2 1.4-2.3 .7-.9M414 48.2l1.5-5 1.4-2.5 1.3-2.2 .6-.7M366 120.5l1.6-.1 1.5-.1 1.6-.1 1.5 0 1.5-.1 1.5-2.5 1.5-2.5 1.5-2.5 1.5-2.5 1.5-2.5 1.5-2.5 1.5-2.5 1.5-2.5 1.5-2.5 1.4-2.4 1.5-2.5 1.5-2.4 1.4-2.4 1.5-2.5 1.4-2.4 1.5-2.4 1.4-2.4 1.4-2.4 1.4-2.3 1.5-2.4 1.4-2.4 1.4-2.3 1.4-2.3 1.4-2.2M412 58.8l1.5-4.7 1.4-2.8 1.4-2.3 1.3-1.6M281 75.6l1.3-.2 1.4-.2 1.3-.2 1.3-.1 1.4-.1 1.4 0 1.3 0 1.4 0 1.4 .1 1.5 .1 1.4 .2 1.5 .2 1.4 .2 1.5 .3 1.5 .3 1.5 .4 1.5 .4 1.5 .4 1.5 .5 1.6 .5 1.5 .5 1.6 .5 1.6 .6 1.6 .6 1.6 .6 1.6 .7 1.6 .6 1.6 .7 1.7 .7 1.6 .7 1.7 .8 1.7 .7 1.7 .8 1.7 .8 1.7 .9 1.7 .9 1.7 .9 1.7 .9 1.8 1 1.8 1 1.7 1.1 1.8 1.2 1.8 1.2 1.8 1.3 1.8 1.3 1.8 1.5 1.9 1.5 1.8 1.7 1.8 1.7 1.9 1.9 1.9 1.9 1.8 2.1 1.9 2.1 1.9 2.3 1.9 2.2 1.9 2.4 1.9 1.5 1.9-1.1 2-1.1 1-.5M286.6 69.8l1.3-.2 1.4-.2 1.3-.2 1.4-.1 1.3-.1 1.4 0 1.4 0 1.4 .1 1.4 .1 1.5 .2 1.4 .2 1.5 .2 1.4 .3 1.5 .3 1.5 .4 1.5 .4 1.5 .4 1.6 .5 1.5 .5 1.6 .5 1.5 .5 1.6 .6 1.6 .6 1.6 .6 1.6 .7 1.6 .6 1.6 .7 1.6 .7 1.7 .7 1.6 .8 1.7 .8 1.7 .8 1.7 .8 1.7 .9 1.7 .9 1.7 .9 1.7 1.1 1.7 1 1.8 1.1 1.7 1.2 1.8 1.3 1.8 1.4 1.8 1.4 1.8 1.6 1.8 1.6 1.8 1.8 1.8 1.9 1.8 2 1.8 2.1 1.9 2.2 1.8 2.3 1.9 2.3 1.8 2.5 1.9 2.4 1.9-1.1 1.9-1 2-1.1 1.9-1.1 2-1.2 1-.5M292.2 65.4l1.4 0 1.3-.1 1.4 .1 1.4 0 1.3 .1 1.4 .2 1.4 .2 1.5 .2 1.4 .3 1.5 .3 1.4 .3 1.5 .4 1.5 .4 1.4 .4 1.5 .4 1.6 .5 1.5 .5 1.5 .6 1.5 .5 1.6 .6 1.6 .6 1.5 .6 1.6 .6 1.6 .7 1.6 .7 1.6 .7 1.6 .7 1.6 .7 1.7 .8 1.6 .8 1.7 .8 1.6 .9 1.7 .9 1.7 .9 1.7 1 1.7 1 1.7 1.1 1.8 1.2 1.7 1.2 1.7 1.4 1.8 1.4 1.7 1.5 1.8 1.6 1.8 1.7 1.8 1.8 1.8 1.9 1.8 2 1.7 2 1.9 2.2 1.8 2.2 1.8 2.2 1.8-.2 1.9-1.1 1.9-1.1 1.9-1.1 2-1.2 2-1.1 1.9-1.2 2.1-1.1 1-.6M301.6 58.7l1.4 0 .7 0M356.3 81.4l1.7 1.6 1.7 1.7 .9 .9M362.3 87.5l1.8 2 1.7 2.2 1.8 2.2 1.8 2.4 1.7 2.4 1.8 2.5 1.8 2.5 1.8-1.1 1.9-1.1 1.8-1.1 1.9-1.1 1.9-1.2 2-1.1 1.9-1.2 2-1.2 2-1.1 2-1.2 2-1.3M303.1 56.4l1.3 .1 1.4 .2 1.4 .2 1.4 .2 1.4 .3 1.4 .3 1.4 .3 1.5 .4 1.4 .4 1.5 .4 1.5 .4 1.4 .5 1.5 .5 1.5 .5 1.5 .5 1.5 .6 1.5 .5 1.6 .6 1.5 .6 1.6 .7 1.5 .6 1.6 .7 1.6 .7 1.5 .7 1.6 .8 1.6 .8 1.6 .8 1.7 .8 1.6 .9 1.6 1 1.7 1 1.6 1.1 1.7 1.1 1.7 1.2 1.7 1.4 1.6 1.4 1.7 1.4 1.7 1.6 1.7 1.7 1.8 1.8 1.7 1.9 1.7 2 1.7 2.1 1.8 2.1 1.7 2.2 1.8 1.3 1.8-1.1 1.8-1.1 1.8-1.1 1.9-1.2 1.8-1.1 1.9-1.2 2-1.2 1.9-1.1 1.9-1.2 2-1.2 2-1.3 2-1.2 2.1-1.3 1-.6M372.8 89.2l1.7 2.2 1.7 .5 1.8-1.1 1.8-1.1 1.8-1.1 1.8-1.2 1.8-1.1 1.9-1.2 1.9-1.2 1.9-1.2 1.9-1.2 1.9-1.2 2-1.2 2-1.3 2-1.2 2-1.3 2.1-1.3 2-1.2M313.5 47.6l1.4 .3 1.4 .3 1.4 .3 1.4 .3 1.4 .4 1.4 .4 1.5 .4 1.4 .4 1.5 .5 1.4 .5 1.5 .5 1.5 .5 1.5 .6 1.5 .5 1.5 .6 1.5 .6 1.5 .7 1.5 .6 1.5 .7 1.6 .7 1.5 .8 1.6 .8 1.6 .9 1.6 .9 1.5 .9 1.6 1 1.6 1.1 1.7 1.2 1.6 1.3 1.6 1.3 1.6 1.5 1.7 1.5 1.6 1.7 1.7 1.8 1.6 1.9 1.7 2 1.6 2.1 1.7 2.1 1.6 2.2 1.7 2.3 1.7-.3 1.8-1.2 1.7-1.1 1.8-1.1 1.8-1.2 1.8-1.1 1.8-1.2 1.9-1.2 1.8-1.2 1.9-1.2 1.9-1.2 2-1.2 1.9-1.3 2-1.3 2-1.2 2-1.3 2-1.3 2-1.3 2.1-1.2 1.1-.7M371 76.2l1.7 2 1.6 2 1.6 1.9 1.7-1.1 1.7-1.1 1.8-1.1 1.7-1.2 1.8-1.1 1.7-1.2 1.8-1.2 1.9-1.2 1.8-1.2 1.8-1.2 1.9-1.2 1.9-1.3 1.9-1.2 1.9-1.3 2-1.2 2-1.2 1.9-.9 2-.8M415.1 60.1l2-.2M323.6 39.4l1.4 .3 1.4 .4 1.4 .4 1.4 .4 1.4 .4 1.5 .5 1.4 .5 1.4 .5 1.5 .5 1.4 .6 1.5 .5 1.5 .7 1.5 .6 1.5 .7 1.5 .7 1.5 .7 1.5 .8 1.5 .9 1.5 .9 1.6 1 1.5 1 1.6 1.2 1.5 1.2 1.6 1.3 1.6 1.5 1.6 1.5 1.5 1.7 1.6 1.8 1.6 1.9 1.6 2 1.6 2.2 1.6 2.2 1.6 2.3 1.6 2.3 1.6 1.5 1.7-1.2 1.7-1.1 1.7-1.1 1.7-1.2 1.7-1.1 1.8-1.2 1.7-1.2 1.8-1.2 1.8-1.2 1.8-1.2 1.9-1.2 1.8-1.3 1.9-1.2 1.9-1.3 1.9-1.3 1.9-1.2 2-1.3 2-1.4 2-1.3 2-1.3 2-1.4 2.1-1.4 2.1-1.4 1-.7M365.5 60.3l1.6 1.6 1.5 1.6 1.6 1.7 1.6 1.8 1.5 1.8 1.6 1.9 1.6 1.8 1.6-1.1 1.7-1.1 1.6-1.1 1.7-1.2 1.7-1.1 1.7-1.2 1.7-1.2 1.8-1.2 1.7-1.2 1.8-1.2 1.8-1.2 1.8-1.2 1.9-1.3 1.8-1.2 1.9-1.3 1.9-1.1 1.8-.6M420.5 55.7l1.9 .2 2-.2 2.1-.7M333.4 33.4l1.4 .4 1.4 .5 1.4 .4 1.4 .5 1.4 .6 1.4 .5 1.5 .6 1.4 .6 1.5 .7 1.4 .7 1.5 .7 1.4 .8 1.5 .8 1.5 .9 1.5 1 1.5 1.1 1.5 1.1 1.5 1.3 1.5 1.3 1.5 1.5 1.6 1.5 1.5 1.8 1.5 1.8 1.6 1.9 1.5 2.1 1.5 2.1 1.6 2.3 1.5 2.3 1.6 2.3 1.5-.3 1.7-1.1 1.6-1.2 1.6-1.1 1.7-1.2 1.7-1.1 1.7-1.2 1.7-1.2 1.7-1.2 1.7-1.2 1.8-1.2 1.8-1.2 1.8-1.3 1.8-1.2 1.8-1.3 1.8-1.3 1.9-1.3 1.9-1.3 1.9-1.3 1.9-1.3 1.9-1.4 2-1.3 2-1.4 2-1.4M361.2 47.5l1.5 1.1 1.5 1.3 1.5 1.3 1.5 1.5 1.5 1.5 1.5 1.6 1.5 1.7 1.5 1.7 1.5 1.8 1.5 1.8 1.6 .3 1.6-1.1 1.6-1.2 1.6-1.1 1.6-1.1 1.6-1.2 1.7-1.2 1.7-1.1 1.7-1.2 1.7-1.2 1.7-1.3 1.7-1.2 1.8-1.2 1.7-1.3 1.8-1.2 1.8-1.2 1.8-.9 1.8-.7 1.8-.3 .9 0M433.2 40.1l1-.4M374.6 55.8l1.5 2.1 1.5 1.3 1.6-1.2 1.5-1.1 1.6-1.1 1.6-1.2 1.6-1.1 1.7-1.2 1.6-1.1 1.6-1.2 1.7-1.2 1.7-1.2 1.7-1.2 1.7-1.3 1.7-1.2 1.8-1.3 1.8-1.2 1.7-1.3 1.8-1.3 1.8-1.3 1.9-1.3 1.8-1.3 1.9-1.3 1.9-1.4 1.9-1.3 .9-.7M348.8 31.9l.7 .3M350.9 32.8l1.4 .7 1.4 .7 1.4 .7 1.4 .8 1.4 .9 1.4 .9 1.5 1 1.4 1 1.4 1.2 1.5 1.2 1.4 1.3 1.5 1.4 1.4 1.5 1.5 1.6 1.4 1.6 1.5 1.7 1.5 1.8 1.4 1.8 1.5 .2 1.6-1.1 1.5-1.1 1.6-1.1 1.5-1.2 1.6-1.1 1.6-1.2 1.6-1.2 1.7-1.2 1.6-1.2 1.7-1.2 1.6-1.2 1.7-1.2 1.7-1.2 1.7-1.3 1.8-1.2 1.7-1.2 1.8-1 1.7-.9 1.8-.9 1.8-.7 1.8-.7 1.8-.7 1.8-.7 1.9-.8 1.8-.8 1.9-1.1M375.9 49.2l1.4 1.9 1.5-.5 1.5-1.1 1.6-1.1 1.5-1.1 1.5-1.2 1.6-1.1 1.6-1.2 1.6-1.2 1.6-1.2 1.6-1.1 1.6-1.3 1.7-1.2 1.6-1.2 1.7-1.2 1.7-1.3 1.7-1.2 1.7-1.2 1.7-1.2 1.8-1.2 1.7-1.1M417 23.7l.9-.6"/>
<path d="M275.3 81.1L373.2 129.3M373.2 129.3L448.5 72.9M275.3 81.1L270.6 36.3M448.5 72.9L452.9 29.2" class="bx"/><path d="M275.3 81.1L272.4 82.5M279.4 83.1L277.7 84.0M283.7 85.2L282.0 86.1M287.9 87.3L286.2 88.2M292.3 89.4L290.6 90.4M296.7 91.6L293.8 93.2M301.2 93.8L299.5 94.8M305.8 96.1L304.1 97.1M310.5 98.4L308.8 99.4M315.2 100.7L313.5 101.7M320.0 103.1L317.1 104.8M324.9 105.5L323.2 106.5M329.9 107.9L328.2 109.0M335.0 110.4L333.3 111.5M340.1 113.0L338.5 114.1M345.4 115.6L342.5 117.5M350.7 118.2L349.1 119.3M356.2 120.9L354.6 122.1M361.8 123.6L360.1 124.8M367.4 126.4L365.8 127.6M373.2 129.3L370.4 131.4M373.2 129.3L376.7 131.0M377.8 125.8L379.8 126.8M382.2 122.5L384.3 123.5M386.6 119.2L388.6 120.2M390.9 116.0L392.9 116.9M395.1 112.9L398.5 114.4M399.2 109.8L401.2 110.7M403.2 106.8L405.2 107.7M407.1 103.9L409.1 104.7M411.0 101.0L412.9 101.8M414.7 98.2L418.1 99.6M418.4 95.4L420.4 96.2M422.0 92.7L424.0 93.5M425.6 90.1L427.5 90.8M429.0 87.5L431.0 88.2M432.5 84.9L435.7 86.2M435.8 82.4L437.7 83.2M439.1 80.0L441.0 80.7M442.3 77.6L444.2 78.3M445.4 75.2L447.3 75.9M448.5 72.9L451.7 74.1M275.1 78.8L273.8 78.2M274.8 76.6L273.6 76.0M274.6 74.3L273.3 73.7M274.3 72.0L273.1 71.4M274.1 69.7L272.0 68.8M273.9 67.4L272.6 66.8M273.6 65.1L272.4 64.5M273.4 62.8L272.1 62.2M273.1 60.4L271.9 59.9M272.9 58.1L270.8 57.1M272.6 55.7L271.4 55.2M272.4 53.3L271.1 52.8M272.1 51.0L270.9 50.4M271.9 48.5L270.6 48.0M271.6 46.1L269.5 45.2M271.4 43.7L270.1 43.2M271.1 41.2L269.8 40.7M270.9 38.8L269.6 38.3" class="bx" stroke-width=".5"/><path d="M270.6 36.3L373.8 78.6M373.8 78.6L452.9 29.2M373.2 129.3L373.8 78.6" class="bf"/>
<text x="228.0" y="70.3" class="zl" textLength="34" lengthAdjust="spacingAndGlyphs">|<tspan font-style="italic">w</tspan><tspan font-size="5.2" dy="1.6">1,1</tspan><tspan dy="-1.6">(x, t))|</tspan></text>
<text x="264.0" y="87.3" class="tk">−1.0</text>
<text x="284.2" y="98.2" class="tk">−0.5</text>
<text x="309.6" y="109.9" class="tk">0.0</text>
<text x="335.0" y="121.8" class="tk">0.5</text>
<text x="362.0" y="135.8" class="tk">1.0</text>
<text x="377.9" y="134.8" class="tk">0.0</text>
<text x="398.4" y="118.6" class="tk">0.5</text>
<text x="417.3" y="103.9" class="tk">1.0</text>
<text x="434.5" y="90.2" class="tk">1.5</text>
<text x="449.7" y="78.1" class="tk">2.0</text>
<text x="271.5" y="74.5" class="tk" text-anchor="end">0.5</text>
<text x="270.5" y="62.9" class="tk" text-anchor="end">1.0</text>
<text x="269.2" y="51.1" class="tk" text-anchor="end">1.5</text>
<text x="305.5" y="115.5" class="al">x</text>
<text x="425.2" y="107.8" class="al">t</text></g>
<g clip-path="url(#cc)"><path d="M502.7 81.1L583.8 40.0M583.8 40.0L675.9 72.9M583.8 40.0L583.5 1.0M498.0 36.3L583.5 1.0M583.5 1.0L680.3 29.2M498.0 36.3L601.2 78.6M601.2 78.6L680.3 29.2M600.6 129.3L601.2 78.6" class="bx"/>
<g transform="scale(0.333333)"><path d="M1747 94l5 3 4-5-5-3z" fill="#3346ae"/>
<path d="M1751 96l5 3 3-5-5-3z" fill="#3546b2"/>
<path d="M1744 95l5 3 4-2-5-3z" fill="#4c63fc"/>
<path d="M1754 98l5 3 4-5-5-3z" fill="#3745b5"/>
<path d="M1748 96l5 4 4-2-6-3z" fill="#4d60fc"/>
<path d="M1741 94l6 4 3-1-5-3z" fill="#4c69ff"/>
<path d="M1758 100l5 3 3-5-5-3z" fill="#3a44b9"/>
<path d="M1736 112l5 3 4-7-6-2z" fill="#38278f"/>
<path d="M1739 108l5 2 3-14-5-2z" fill="#1e1f5b"/>
<path d="M1752 98l5 4 3-2-5-3z" fill="#4e5dfb"/>
<path d="M1762 103l5 3 3-5-5-4z" fill="#3c43bd"/>
<path d="M1745 96l6 4 3-1-5-3z" fill="#4d67ff"/>
<path d="M1733 114l5 3 4-3-6-3z" fill="#5736ce"/>
<path d="M1740 114l5 2 4-6-6-2z" fill="#3a2791"/>
<path d="M1756 101l5 3 3-1-5-4z" fill="#4f5afb"/>
<path d="M1743 110l5 2 3-14-5-2z" fill="#1e1f5b"/>
<path d="M1766 105l5 3 2-5-4-3z" fill="#3f41c1"/>
<path d="M1749 98l6 4 3-1-6-3z" fill="#4e64ff"/>
<path d="M1730 117l5 3 4-4-6-3z" fill="#4f2eb5"/>
<path d="M1737 116l6 3 3-4-6-2z" fill="#5836cf"/>
<path d="M1760 103l5 3 3-1-6-4z" fill="#5156fa"/>
<path d="M1747 112l5 2 3-14-5-2z" fill="#1e1e5b"/>
<path d="M1744 116l5 2 4-6-6-2z" fill="#3c2794"/>
<path d="M1769 107l5 4 3-5-5-4z" fill="#433fc5"/>
<path d="M1753 101l6 3 3-1-6-3z" fill="#4f61ff"/>
<path d="M1763 105l6 4 2-2-5-3z" fill="#5252f8"/>
<path d="M1734 119l6 3 3-5-5-2z" fill="#502eb6"/>
<path d="M1773 110l5 3 3-4-5-4z" fill="#463dc9"/>
<path d="M1741 118l6 2 3-3-5-3z" fill="#5935d1"/>
<path d="M1751 113l5 3 3-14-5-2z" fill="#1f1d5a"/>
<path d="M1748 118l6 2 3-6-6-2z" fill="#3e2897"/>
<path d="M1757 103l6 4 2-1-5-4z" fill="#515dff"/>
<path d="M1767 108l6 4 2-2-5-4z" fill="#544df6"/>
<path d="M1777 113l5 3 2-4-5-4z" fill="#4b3acd"/>
<path d="M1755 115l5 3 3-13-5-3z" fill="#1f1c5a"/>
<path d="M1739 121l6 3 3-5-6-2z" fill="#512eb8"/>
<path d="M1746 120l6 2 3-3-6-3z" fill="#5b35d2"/>
<path d="M1753 120l5 2 3-6-5-2z" fill="#40289a"/>
<path d="M1761 105l6 4 2-1-5-3z" fill="#5258fe"/>
<path d="M1771 110l6 4 2-1-5-4z" fill="#5648f4"/>
<path d="M1780 115l6 4 2-4-5-4z" fill="#5039d1"/>
<path d="M1724 117l6 3 3-5-6-3z" fill="#3f2ca2"/>
<path d="M1759 118l5 2 3-13-5-2z" fill="#1f1a59"/>
<path d="M1784 118l5 4 2-4-5-4z" fill="#5738d5"/>
<path d="M1775 113l5 4 3-1-6-5z" fill="#5944f3"/>
<path d="M1765 108l6 4 2-1-5-4z" fill="#5453fc"/>
<path d="M1743 123l6 3 3-5-6-2z" fill="#532eba"/>
<path d="M1750 122l6 3 3-4-6-3z" fill="#5d35d3"/>
<path d="M1757 122l5 2 3-5-5-3z" fill="#43299e"/>
<path d="M1788 121l5 4 2-4-5-4z" fill="#5d37d7"/>
<path d="M1721 117l6 3 3-1-6-3z" fill="#5f41f1"/>
<path d="M1779 116l5 4 2-1-5-5z" fill="#5d42f1"/>
<path d="M1764 120l5 2 2-12-5-3z" fill="#201959"/>
<path d="M1728 119l7 3 3-5-6-3z" fill="#402ca3"/>
<path d="M1769 111l6 4 2-1-5-4z" fill="#564ef9"/>
<path d="M1761 124l6 3 2-6-5-3z" fill="#4729a3"/>
<path d="M1792 124l5 5 2-4-5-5z" fill="#6435d9"/>
<path d="M1755 124l5 3 3-4-6-3z" fill="#5f35d4"/>
<path d="M1748 125l6 3 3-5-6-2z" fill="#552ebc"/>
<path d="M1783 119l5 5 2-2-5-5z" fill="#623fee"/>
<path d="M1773 114l6 4 2-1-6-4z" fill="#5847f7"/>
<path d="M1768 122l5 3 2-12-5-3z" fill="#211858"/>
<path d="M1796 128l5 4 1-4-5-4z" fill="#6b32db"/>
<path d="M1725 119l7 3 3-1-6-3z" fill="#6041f1"/>
<path d="M1733 121l6 3 4-5-6-3z" fill="#422da6"/>
<path d="M1787 122l5 5 2-2-5-5z" fill="#673cec"/>
<path d="M1765 126l6 3 3-6-6-3z" fill="#4b2aa8"/>
<path d="M1759 126l6 3 2-3-5-3z" fill="#6134d5"/>
<path d="M1799 131l6 5 1-4-5-5z" fill="#7230dc"/>
<path d="M1752 127l6 3 3-4-6-3z" fill="#572ebe"/>
<path d="M1777 117l6 4 2-1-6-5z" fill="#5c44f4"/>
<path d="M1772 124l5 3 2-11-5-3z" fill="#24195b"/>
<path d="M1791 126l5 4 2-2-6-4z" fill="#6c38e9"/>
<path d="M1803 135l6 4 1-3-6-5z" fill="#7e2fdd"/>
<path d="M1770 128l5 3 3-5-6-3z" fill="#4f2aad"/>
<path d="M1781 120l6 5 2-2-6-4z" fill="#6041f2"/>
<path d="M1730 121l7 3 3-1-7-3z" fill="#6140f1"/>
<path d="M1738 123l6 3 3-5-6-3z" fill="#442da8"/>
<path d="M1763 128l6 3 3-3-6-3z" fill="#6334d6"/>
<path d="M1776 127l5 3 2-10-5-4z" fill="#291a63"/>
<path d="M1795 129l5 5 1-2-5-5z" fill="#7135e7"/>
<path d="M1807 138l5 5 1-3-5-5z" fill="#892edd"/>
<path d="M1757 129l6 3 3-4-6-3z" fill="#5a2ec1"/>
<path d="M1786 123l5 5 2-2-6-4z" fill="#653eef"/>
<path d="M1714 117l7 3 3-6-6-3z" fill="#3734a2"/>
<path d="M1799 133l5 5 1-3-5-5z" fill="#7732e4"/>
<path d="M1811 142l5 5 1-4-5-5z" fill="#952dde"/>
<path d="M1774 131l6 3 2-5-6-4z" fill="#542ab3"/>
<path d="M1780 130l5 3 2-10-5-4z" fill="#2e1b6c"/>
<path d="M1768 130l6 4 2-4-6-3z" fill="#6633d7"/>
<path d="M1735 123l7 3 3-1-7-3z" fill="#6240f1"/>
<path d="M1743 125l6 3 3-5-6-3z" fill="#462dab"/>
<path d="M1790 127l5 5 2-2-6-5z" fill="#6a3aec"/>
<path d="M1762 131l6 3 2-4-6-3z" fill="#5d2ec3"/>
<path d="M1803 136l5 5 1-2-5-5z" fill="#8130e2"/>
<path d="M1784 132l6 3 1-8-5-4z" fill="#361d77"/>
<path d="M1778 133l6 3 2-5-5-3z" fill="#5a2bb9"/>
<path d="M1794 130l5 6 2-3-6-4z" fill="#7036e8"/>
<path d="M1807 140l5 5 1-3-5-5z" fill="#8b2fe0"/>
<path d="M1720 119l6 3 4-6-7-3z" fill="#3834a4"/>
<path d="M1772 133l7 3 2-3-6-4z" fill="#6932d8"/>
<path d="M1766 133l6 4 3-4-7-4z" fill="#602ec6"/>
<path d="M1748 128l6 3 3-5-6-4z" fill="#482dae"/>
<path d="M1740 125l7 3 3 0-7-4z" fill="#633ff0"/>
<path d="M1789 135l5 3 2-8-6-4z" fill="#3f1f85"/>
<path d="M1798 134l5 5 2-2-6-5z" fill="#7532e5"/>
<path d="M1811 144l5 5 1-3-6-5z" fill="#962ddf"/>
<path d="M1783 136l6 3 1-5-5-3z" fill="#5f2bbf"/>
<path d="M1815 151l3 0 1-9-3 0z" fill="#4e1773"/>
<path d="M1777 135l6 4 2-3-6-4z" fill="#6c31d9"/>
<path d="M1802 138l6 5 1-2-6-5z" fill="#8031e3"/>
<path d="M1793 138l5 3 2-7-6-4z" fill="#4b2195"/>
<path d="M1725 121l7 3 3-6-7-3z" fill="#3934a6"/>
<path d="M1771 136l6 3 2-4-6-3z" fill="#632ec9"/>
<path d="M1787 138l6 4 2-5-6-3z" fill="#672bc5"/>
<path d="M1753 130l6 3 3-5-7-3z" fill="#4b2eb1"/>
<path d="M1745 127l7 4 3-1-7-3z" fill="#653ef0"/>
<path d="M1708 113l8 3 3 0-8-3z" fill="#4f60ff"/>
<path d="M1806 142l6 6 1-3-6-5z" fill="#8b2fe1"/>
<path d="M1818 151l3 0 1-9-4 0z" fill="#431669"/>
<path d="M1797 141l6 4 1-7-6-4z" fill="#5b25a9"/>
<path d="M1782 138l6 3 1-3-6-3z" fill="#7030da"/>
<path d="M1810 146l6 6 1-3-6-6z" fill="#962ddf"/>
<path d="M1792 141l6 4 1-5-6-3z" fill="#702ccb"/>
<path d="M1776 138l6 4 2-4-6-4z" fill="#672dcb"/>
<path d="M1758 132l6 4 2-5-6-4z" fill="#4f2eb5"/>
<path d="M1801 144l6 4 1-6-5-4z" fill="#6e28bd"/>
<path d="M1730 123l7 3 3-5-7-3z" fill="#3a34a8"/>
<path d="M1820 151l4-1 0-9-3 1z" fill="#40176c"/>
<path d="M1751 130l6 3 3-1-7-3z" fill="#663df0"/>
<path d="M1705 115l7 3 4-3-7-3z" fill="#4153d8"/>
<path d="M1786 141l6 3 2-3-6-4z" fill="#762fdb"/>
<path d="M1714 115l7 3 3 0-7-3z" fill="#5060ff"/>
<path d="M1796 144l6 4 1-4-6-4z" fill="#792cd0"/>
<path d="M1806 147l5 4 1-4-5-5z" fill="#822bcf"/>
<path d="M1780 141l7 3 1-3-6-4z" fill="#6c2dce"/>
<path d="M1823 150l3-1 1-9-3 1z" fill="#2f1358"/>
<path d="M1763 135l6 3 2-5-6-3z" fill="#522eb9"/>
<path d="M1791 143l6 4 1-3-6-4z" fill="#7c2fdb"/>
<path d="M1735 125l7 4 3-6-6-3z" fill="#3c34ab"/>
<path d="M1756 132l7 4 2-1-7-4z" fill="#683cef"/>
<path d="M1810 150l6 4 0-3-5-5z" fill="#942cdb"/>
<path d="M1801 147l6 4 1-4-6-4z" fill="#832dd5"/>
<path d="M1711 118l7 3 3-4-7-3z" fill="#4253d9"/>
<path d="M1785 144l6 3 2-4-6-3z" fill="#732dd1"/>
<path d="M1719 117l8 3 2 1-7-3z" fill="#505fff"/>
<path d="M1825 149l4-1 1-9-4 1z" fill="#2e1760"/>
<path d="M1795 146l7 4 1-3-6-4z" fill="#822edc"/>
<path d="M1768 137l6 4 2-5-6-3z" fill="#572ebe"/>
<path d="M1805 150l6 4 1-4-6-4z" fill="#8d2dd9"/>
<path d="M1761 135l7 4 2-1-7-4z" fill="#6a3bee"/>
<path d="M1741 128l7 3 2-5-6-3z" fill="#3e33ae"/>
<path d="M1790 146l6 4 1-4-6-3z" fill="#792dd4"/>
<path d="M1828 148l3 0 1-9-3 0z" fill="#321c71"/>
<path d="M1800 149l6 4 1-3-6-4z" fill="#892edc"/>
<path d="M1810 153l6 4 0-4-6-4z" fill="#962cdc"/>
<path d="M1716 120l8 3 3-3-7-4z" fill="#4353db"/>
<path d="M1815 158l3 0 0-9-3 0z" fill="#4f1773"/>
<path d="M1725 119l7 4 3 0-7-3z" fill="#515dff"/>
<path d="M1773 140l6 4 2-5-6-3z" fill="#5c2ec3"/>
<path d="M1699 115l7 3 4-5-8-3z" fill="#3148a9"/>
<path d="M1784 142l7 5 1 0-7-4z" fill="#7a33e8"/>
<path d="M1766 138l7 4 2-2-7-3z" fill="#6d39ed"/>
<path d="M1794 149l7 4 1-4-6-4z" fill="#802dd6"/>
<path d="M1746 130l7 4 3-5-7-4z" fill="#4033b2"/>
<path d="M1805 152l6 4 1-3-7-4z" fill="#902ddd"/>
<path d="M1831 148l3-2 1-9-3 2z" fill="#1e154c"/>
<path d="M1817 158l3 0 1-9-3 0z" fill="#431669"/>
<path d="M1695 116l8 3 4-2-8-3z" fill="#4866f5"/>
<path d="M1778 143l6 4 2-4-7-4z" fill="#612ec7"/>
<path d="M1789 145l7 5 0 0-6-4z" fill="#8032e8"/>
<path d="M1730 122l8 3 2 1-7-4z" fill="#515bff"/>
<path d="M1722 122l7 4 3-4-7-3z" fill="#4453dc"/>
<path d="M1799 152l7 4 1-4-7-4z" fill="#882dd8"/>
<path d="M1771 141l7 4 2-2-7-4z" fill="#7038ec"/>
<path d="M1705 118l7 3 3-6-7-3z" fill="#3249ab"/>
<path d="M1809 155l7 4 0-3-6-4z" fill="#972cdd"/>
<path d="M1820 158l3 0 1-10-4 1z" fill="#41176d"/>
<path d="M1752 133l7 4 2-5-7-4z" fill="#4433b6"/>
<path d="M1833 146l4-1 1-9-3 1z" fill="#221d61"/>
<path d="M1783 146l6 4 2-4-7-4z" fill="#672dcb"/>
<path d="M1794 149l6 5 1-1-6-5z" fill="#8731e8"/>
<path d="M1804 155l7 4 0-3-6-5z" fill="#8f2dda"/>
<path d="M1822 158l3-1 1-10-3 1z" fill="#31145b"/>
<path d="M1702 118l7 4 4-2-8-3z" fill="#4867f7"/>
<path d="M1776 144l7 4 2-2-7-4z" fill="#7336ea"/>
<path d="M1736 124l8 4 2 1-7-4z" fill="#5259ff"/>
<path d="M1728 125l7 3 3-3-7-4z" fill="#4552de"/>
<path d="M1836 145l3 0 2-9-4 0z" fill="#292a7d"/>
<path d="M1686 133l8 2 4-8-8-3z" fill="#24226b"/>
<path d="M1757 136l7 4 2-5-7-4z" fill="#4833bb"/>
<path d="M1788 149l6 4 2-4-7-4z" fill="#6f2dd0"/>
<path d="M1711 120l7 3 3-6-7-3z" fill="#324aad"/>
<path d="M1690 126l7 2 3-13-7-3z" fill="#1c275e"/>
<path d="M1683 138l8 3 4-7-8-3z" fill="#332484"/>
<path d="M1799 152l6 5 1-2-6-4z" fill="#8e30e7"/>
<path d="M1809 158l6 4 1-3-6-4z" fill="#962cdb"/>
<path d="M1825 157l3-1 1-10-3 1z" fill="#2c155b"/>
<path d="M1782 147l6 4 2-1-7-5z" fill="#7633e8"/>
<path d="M1680 142l8 3 4-5-8-3z" fill="#42279a"/>
<path d="M1839 145l3-3 2-10-4 4z" fill="#151b46"/>
<path d="M1742 127l7 4 3 1-8-4z" fill="#5456fe"/>
<path d="M1793 153l7 4 1-4-7-5z" fill="#792dd4"/>
<path d="M1763 139l7 4 2-5-7-4z" fill="#4d33c0"/>
<path d="M1708 121l8 3 3-2-8-3z" fill="#4867f8"/>
<path d="M1734 127l7 4 3-3-7-4z" fill="#4750e0"/>
<path d="M1804 156l6 5 1-3-7-4z" fill="#942fe4"/>
<path d="M1827 155l4 0 1-9-4 0z" fill="#341d74"/>
<path d="M1717 122l7 4 3-6-7-3z" fill="#334ab0"/>
<path d="M1693 135l8 3 3-9-8-3z" fill="#24226b"/>
<path d="M1787 150l7 5 1-2-7-5z" fill="#7c32e6"/>
<path d="M1814 165l3 0 1-9-3 0z" fill="#4f1774"/>
<path d="M1696 128l7 2 3-13-7-3z" fill="#1c275e"/>
<path d="M1690 140l8 3 3-6-8-3z" fill="#332484"/>
<path d="M1842 142l3-1 1-9-3 0z" fill="#1e2d67"/>
<path d="M1798 156l7 4 1-3-7-5z" fill="#822dd8"/>
<path d="M1809 160l6 5 1-4-7-4z" fill="#992de0"/>
<path d="M1768 142l7 5 2-5-7-4z" fill="#5333c5"/>
<path d="M1748 130l7 5 2 0-7-5z" fill="#5552fd"/>
<path d="M1830 155l3-1 1-10-3 2z" fill="#221653"/>
<path d="M1740 130l7 4 3-3-8-4z" fill="#494fe1"/>
<path d="M1687 145l8 3 4-6-9-3z" fill="#42279a"/>
<path d="M1817 165l3 0 0-9-3 0z" fill="#431568"/>
<path d="M1714 123l8 4 3-2-8-4z" fill="#4967f9"/>
<path d="M1792 154l7 5 1-3-7-4z" fill="#8231e5"/>
<path d="M1844 140l4 1 1-10-3 1z" fill="#273f89"/>
<path d="M1803 159l7 5 1-4-7-4z" fill="#8c2dda"/>
<path d="M1723 125l7 3 3-5-7-4z" fill="#344bb3"/>
<path d="M1774 146l7 4 1-4-7-5z" fill="#5933ca"/>
<path d="M1699 137l8 3 4-9-8-2z" fill="#25226c"/>
<path d="M1673 143l9 3 4-5-9-3z" fill="#402ba1"/>
<path d="M1819 165l3 0 1-9-3 0z" fill="#42176d"/>
<path d="M1832 154l4-2 1-9-3 1z" fill="#1d1852"/>
<path d="M1753 134l8 4 2 0-8-4z" fill="#574dfb"/>
<path d="M1702 130l8 3 3-13-8-3z" fill="#1c275e"/>
<path d="M1786 149l7 6 1 0-7-5z" fill="#7534e9"/>
<path d="M1797 158l7 4 1-2-7-5z" fill="#8930e3"/>
<path d="M1697 143l8 3 3-7-8-3z" fill="#332585"/>
<path d="M1745 133l8 4 2-3-7-4z" fill="#4b4ce3"/>
<path d="M1767 141l7 4 1 1-7-4z" fill="#6340f1"/>
<path d="M1808 163l7 4 1-3-7-5z" fill="#962ddc"/>
<path d="M1847 141l3-3 2-11-4 4z" fill="#122040"/>
<path d="M1720 126l8 3 3-1-8-4z" fill="#4966fa"/>
<path d="M1822 165l3-1 1-9-4 1z" fill="#34145e"/>
<path d="M1835 152l3 0 2-9-4 0z" fill="#2c2b84"/>
<path d="M1694 147l8 4 3-6-8-3z" fill="#42289b"/>
<path d="M1779 149l7 5 2-4-7-5z" fill="#6032cf"/>
<path d="M1670 143l9 4 4-2-9-3z" fill="#5f3de8"/>
<path d="M1729 128l8 3 2-5-7-4z" fill="#354bb7"/>
<path d="M1791 153l7 6 1-1-7-4z" fill="#7d32e8"/>
<path d="M1759 137l8 5 1 0-7-5z" fill="#5947f8"/>
<path d="M1803 161l7 5 0-3-7-4z" fill="#902ee1"/>
<path d="M1772 144l8 6 1 0-7-5z" fill="#673df0"/>
<path d="M1706 140l8 3 3-9-8-3z" fill="#25236d"/>
<path d="M1751 136l8 5 2-3-7-5z" fill="#4d49e4"/>
<path d="M1709 133l7 3 3-14-7-3z" fill="#1c275e"/>
<path d="M1824 164l3-1 1-9-3 1z" fill="#2b1457"/>
<path d="M1838 152l3-1 1-11-3 3z" fill="#1a1e53"/>
<path d="M1850 138l3-2 2-8-4-1z" fill="#1f3b6b"/>
<path d="M1681 145l8 4 4-6-9-3z" fill="#402ba1"/>
<path d="M1785 153l7 5 1-4-7-5z" fill="#6730d3"/>
<path d="M1703 145l9 4 3-7-8-4z" fill="#342586"/>
<path d="M1797 158l7 6 1-2-7-5z" fill="#8631e7"/>
<path d="M1726 128l9 4 2-1-8-4z" fill="#4a65fb"/>
<path d="M1808 165l7 5 1-3-7-5z" fill="#972dde"/>
<path d="M1765 141l8 5 1-1-7-5z" fill="#5d45f6"/>
<path d="M1735 131l8 4 2-6-7-4z" fill="#374cbb"/>
<path d="M1826 163l4 0 1-10-4 0z" fill="#341c72"/>
<path d="M1778 148l7 6 2 0-8-5z" fill="#6c3aee"/>
<path d="M1701 150l8 3 3-5-8-4z" fill="#43289c"/>
<path d="M1852 135l4 2 2-10-4 1z" fill="#29518c"/>
<path d="M1757 140l8 5 2-4-7-4z" fill="#5044e5"/>
<path d="M1677 146l10 3 3-1-9-3z" fill="#5f3ee9"/>
<path d="M1790 157l8 5 1-4-7-5z" fill="#702fd6"/>
<path d="M1840 151l4-3 1-9-3 1z" fill="#16204c"/>
<path d="M1802 162l7 6 1-2-7-5z" fill="#9030e5"/>
<path d="M1814 173l3 0 0-10-3 0z" fill="#501774"/>
<path d="M1713 143l8 3 3-9-8-3z" fill="#26236f"/>
<path d="M1715 135l8 3 3-13-8-3z" fill="#1c275e"/>
<path d="M1829 163l3-1 1-10-3 1z" fill="#28185e"/>
<path d="M1771 145l7 5 2-1-8-5z" fill="#6241f4"/>
<path d="M1784 153l7 6 1-1-7-5z" fill="#7237ec"/>
<path d="M1733 131l8 5 2-2-8-4z" fill="#4b63fb"/>
<path d="M1688 148l9 3 3-5-9-3z" fill="#402ca2"/>
<path d="M1710 148l9 4 2-7-8-4z" fill="#352588"/>
<path d="M1741 134l8 4 3-5-8-5z" fill="#3a4bc0"/>
<path d="M1855 137l4-3 2-12-4 5z" fill="#12273d"/>
<path d="M1796 161l7 6 1-4-7-6z" fill="#7c2fda"/>
<path d="M1843 148l3 0 2-9-3-1z" fill="#2b4394"/>
<path d="M1816 173l3 0 1-10-3 0z" fill="#441568"/>
<path d="M1763 144l8 5 2-4-8-5z" fill="#5441e6"/>
<path d="M1808 167l7 6 0-3-7-5z" fill="#982ee1"/>
<path d="M1664 144l9 3 3-6-9-3z" fill="#352c96"/>
<path d="M1708 153l8 3 3-6-8-3z" fill="#43289d"/>
<path d="M1832 162l3-2 1-10-3 2z" fill="#1c154b"/>
<path d="M1777 149l7 6 2-1-8-6z" fill="#673ef1"/>
<path d="M1790 157l7 6 1-1-7-5z" fill="#7733e9"/>
<path d="M1819 173l3-1 0-9-3 0z" fill="#42176d"/>
<path d="M1685 148l9 4 3-1-9-4z" fill="#5f3eea"/>
<path d="M1846 148l3 0 2-12-4 3z" fill="#192957"/>
<path d="M1722 138l8 3 2-13-7-3z" fill="#1c265e"/>
<path d="M1802 166l7 5 1-3-7-6z" fill="#882edc"/>
<path d="M1719 145l9 4 2-9-8-4z" fill="#272371"/>
<path d="M1739 135l8 4 3-2-8-4z" fill="#4d60fb"/>
<path d="M1858 133l4-3 2-7-4-1z" fill="#214968"/>
<path d="M1769 148l8 5 2-3-8-6z" fill="#5a3fe6"/>
<path d="M1748 137l7 5 3-5-8-5z" fill="#3d4ac5"/>
<path d="M1717 151l8 3 3-7-8-3z" fill="#36258a"/>
<path d="M1834 160l3-1 2-9-4 0z" fill="#292678"/>
<path d="M1821 172l3 0 1-10-3 1z" fill="#371562"/>
<path d="M1695 151l9 3 3-5-9-4z" fill="#412ca3"/>
<path d="M1783 154l7 6 1-2-7-6z" fill="#6d3aee"/>
<path d="M1795 162l8 6 1-2-8-5z" fill="#8232e7"/>
<path d="M1807 170l8 6 0-4-7-6z" fill="#952dde"/>
<path d="M1861 130l3 3 2-11-3 1z" fill="#2a6084"/>
<path d="M1848 148l4-5 1-9-3 2z" fill="#132443"/>
<path d="M1671 146l9 4 4-6-9-4z" fill="#342d96"/>
<path d="M1715 155l8 4 3-6-8-3z" fill="#45289f"/>
<path d="M1776 152l7 6 2-4-8-5z" fill="#603ce6"/>
<path d="M1836 159l4 0 1-10-3 1z" fill="#23256d"/>
<path d="M1823 172l3-1 1-10-3 1z" fill="#2b1355"/>
<path d="M1729 141l7 4 3-13-8-4z" fill="#1c255e"/>
<path d="M1754 141l8 5 2-5-8-5z" fill="#4147ca"/>
<path d="M1746 138l8 5 2-2-8-5z" fill="#4f5bfa"/>
<path d="M1726 148l8 4 3-9-8-4z" fill="#282373"/>
<path d="M1789 158l7 7 1-2-7-6z" fill="#7335ea"/>
<path d="M1801 167l8 6 0-2-7-6z" fill="#8d30e4"/>
<path d="M1692 151l9 4 3-1-9-4z" fill="#5f3eea"/>
<path d="M1851 143l3 0 2-8-3-1z" fill="#2c5699"/>
<path d="M1724 154l8 3 3-6-8-4z" fill="#38268c"/>
<path d="M1864 133l3-4 2-13-3 6z" fill="#132d38"/>
<path d="M1826 171l3-1 1-9-3 0z" fill="#321a6d"/>
<path d="M1782 156l7 6 2-3-8-6z" fill="#6738e5"/>
<path d="M1839 159l3-2 2-11-4 3z" fill="#141b44"/>
<path d="M1702 154l9 3 3-5-9-4z" fill="#412ca4"/>
<path d="M1795 164l7 6 1-2-7-6z" fill="#7c32e6"/>
<path d="M1807 172l7 6 1-3-7-6z" fill="#972ee1"/>
<path d="M1760 145l8 5 2-5-8-5z" fill="#4544cf"/>
<path d="M1752 142l8 5 2-2-8-5z" fill="#5156f9"/>
<path d="M1722 158l8 4 3-6-9-3z" fill="#4629a1"/>
<path d="M1735 144l8 4 2-13-7-4z" fill="#1c245d"/>
<path d="M1854 143l3 1 2-12-4 3z" fill="#1a355b"/>
<path d="M1813 180l3 0 1-9-3 0z" fill="#501774"/>
<path d="M1828 170l3 0 1-10-3 1z" fill="#2e1b6a"/>
<path d="M1679 149l9 4 3-7-9-3z" fill="#342e97"/>
<path d="M1733 151l8 4 3-8-8-4z" fill="#2a2377"/>
<path d="M1653 144l10 3 4-4-10-3z" fill="#3f45c5"/>
<path d="M1788 161l8 7 1-4-8-6z" fill="#6e34e3"/>
<path d="M1842 156l3-1 1-9-3 0z" fill="#213271"/>
<path d="M1867 129l3-4 3-6-4-3z" fill="#255861"/>
<path d="M1801 169l7 7 1-3-8-6z" fill="#8930e3"/>
<path d="M1700 154l9 4 3-1-10-4z" fill="#5f3eeb"/>
<path d="M1816 180l3 0 0-9-3 0z" fill="#441568"/>
<path d="M1731 157l9 4 2-7-8-4z" fill="#3a2690"/>
<path d="M1767 149l8 6 1-5-7-6z" fill="#4a3fd3"/>
<path d="M1830 170l4-2 1-10-3 2z" fill="#1d144a"/>
<path d="M1759 146l8 6 2-2-8-6z" fill="#544ff7"/>
<path d="M1781 155l8 7 1 0-8-6z" fill="#663cec"/>
<path d="M1844 155l3 1 2-10-3 0z" fill="#273f88"/>
<path d="M1856 144l4-5 2-11-4 3z" fill="#12283c"/>
<path d="M1710 156l9 4 2-5-9-4z" fill="#422da6"/>
<path d="M1869 125l4 3 2-12-3 3z" fill="#2d6d74"/>
<path d="M1794 166l8 7 1-3-8-7z" fill="#7831e1"/>
<path d="M1742 148l8 4 2-13-8-4z" fill="#1d225c"/>
<path d="M1807 174l7 7 1-3-8-6z" fill="#952ee0"/>
<path d="M1818 180l3 0 1-10-3 1z" fill="#42176d"/>
<path d="M1729 161l9 4 2-5-9-4z" fill="#4829a4"/>
<path d="M1740 155l8 4 3-9-9-4z" fill="#2d237c"/>
<path d="M1773 154l8 6 2-4-8-7z" fill="#523cd8"/>
<path d="M1833 168l3-1 1-10-3 1z" fill="#221d61"/>
<path d="M1686 152l10 3 3-6-9-3z" fill="#342f98"/>
<path d="M1787 160l8 8 1-1-8-6z" fill="#6e38ea"/>
<path d="M1847 156l3-3 2-12-4 5z" fill="#132041"/>
<path d="M1800 172l8 6 1-3-8-6z" fill="#862fe0"/>
<path d="M1820 180l3 0 1-10-3 0z" fill="#391665"/>
<path d="M1859 139l3-1 3-7-4-3z" fill="#2d668e"/>
<path d="M1765 151l8 6 2-3-8-6z" fill="#5647f4"/>
<path d="M1661 146l10 4 3-4-9-4z" fill="#3f47c7"/>
<path d="M1738 160l9 4 2-7-9-4z" fill="#3d2794"/>
<path d="M1707 157l10 4 2-1-9-4z" fill="#603eeb"/>
<path d="M1872 128l4-4 2-14-3 6z" fill="#15322f"/>
<path d="M1835 167l3 0 2-10-3 0z" fill="#2b2b82"/>
<path d="M1749 151l8 5 2-12-8-5z" fill="#1d205c"/>
<path d="M1779 159l9 6 1-4-8-6z" fill="#5b39db"/>
<path d="M1646 144l10 3 4-5-10-3z" fill="#3648b5"/>
<path d="M1717 160l9 3 3-5-9-4z" fill="#442da8"/>
<path d="M1862 138l3 2 2-13-3 4z" fill="#1e455d"/>
<path d="M1823 180l2-2 1-9-3 1z" fill="#2b1355"/>
<path d="M1793 166l8 8 1-1-8-7z" fill="#7633e7"/>
<path d="M1806 177l8 7 1-3-8-7z" fill="#942ddf"/>
<path d="M1747 158l8 4 2-8-8-4z" fill="#312482"/>
<path d="M1736 164l9 5 2-6-9-4z" fill="#4b29a7"/>
<path d="M1849 153l4-3 2-9-4 0z" fill="#1a325b"/>
<path d="M1772 155l8 7 1-2-8-7z" fill="#5d42f1"/>
<path d="M1838 167l3-1 1-11-3 2z" fill="#181c4c"/>
<path d="M1875 124l4-5 3-5-4-4z" fill="#2b6755"/>
<path d="M1643 146l10 3 4-3-10-3z" fill="#4659e7"/>
<path d="M1825 178l3 0 1-10-3 1z" fill="#301865"/>
<path d="M1745 163l9 5 2-7-9-4z" fill="#41289a"/>
<path d="M1786 164l8 7 1-4-8-7z" fill="#6536dd"/>
<path d="M1800 173l8 7 0-2-8-7z" fill="#8630e5"/>
<path d="M1694 155l10 4 2-7-9-3z" fill="#352f99"/>
<path d="M1756 155l8 5 2-11-8-5z" fill="#212063"/>
<path d="M1852 150l3 1 2-9-3-1z" fill="#2d599c"/>
<path d="M1715 160l9 4 3-1-10-4z" fill="#613eec"/>
<path d="M1865 140l3-5 2-12-3 4z" fill="#132e37"/>
<path d="M1669 149l10 3 3-4-9-3z" fill="#3f49c9"/>
<path d="M1878 119l3 4 3-12-3 3z" fill="#32755e"/>
<path d="M1778 161l9 6 1-2-8-7z" fill="#643eed"/>
<path d="M1754 162l8 4 2-7-8-5z" fill="#362589"/>
<path d="M1827 178l3 0 1-10-3 0z" fill="#331d73"/>
<path d="M1840 166l3-3 2-10-3 1z" fill="#17214e"/>
<path d="M1724 163l10 4 2-6-9-4z" fill="#462dab"/>
<path d="M1813 188l3 0 0-10-2 0z" fill="#501875"/>
<path d="M1793 170l8 7 1-3-8-8z" fill="#6f31dd"/>
<path d="M1806 179l8 8 0-3-7-7z" fill="#942ee1"/>
<path d="M1743 168l9 4 2-5-8-5z" fill="#4e2aac"/>
<path d="M1855 151l3-1 2-13-4 5z" fill="#142842"/>
<path d="M1655 146l10 4 3-5-10-3z" fill="#354ab6"/>
<path d="M1771 154l8 7 1 1-8-7z" fill="#5845f4"/>
<path d="M1762 159l9 5 2-10-9-6z" fill="#26206b"/>
<path d="M1867 134l4-2 2-6-3-3z" fill="#2e6f79"/>
<path d="M1829 178l3-1 2-11-3 2z" fill="#211550"/>
<path d="M1752 167l9 4 2-6-9-5z" fill="#4628a0"/>
<path d="M1815 188l3 0 1-10-3 0z" fill="#441569"/>
<path d="M1785 166l8 7 1-2-8-7z" fill="#6b39e9"/>
<path d="M1843 163l3 0 2-9-4-1z" fill="#2b4394"/>
<path d="M1881 123l3-4 3-14-3 6z" fill="#1b3525"/>
<path d="M1799 176l8 7 1-3-8-8z" fill="#802fde"/>
<path d="M1702 158l9 4 3-6-9-4z" fill="#352f9b"/>
<path d="M1761 166l9 5 1-8-8-5z" fill="#3c2793"/>
<path d="M1722 163l10 5 2-2-9-4z" fill="#623eec"/>
<path d="M1870 132l3 3 3-13-4 4z" fill="#25595e"/>
<path d="M1817 188l3 0 1-10-3 0z" fill="#42176c"/>
<path d="M1651 148l11 3 3-2-10-3z" fill="#465deb"/>
<path d="M1857 150l3-5 3-9-4 1z" fill="#152e44"/>
<path d="M1778 160l8 7 1 0-8-7z" fill="#6041f1"/>
<path d="M1845 163l3 0 2-12-3 3z" fill="#1b2d5f"/>
<path d="M1636 151l10 3 4-10-10-2z" fill="#1f2b6b"/>
<path d="M1832 176l3-1 1-10-3 1z" fill="#1d1750"/>
<path d="M1732 166l9 4 3-5-10-4z" fill="#482eae"/>
<path d="M1792 172l8 8 1-3-8-8z" fill="#7433e5"/>
<path d="M1751 171l9 5 2-6-9-4z" fill="#532ab0"/>
<path d="M1677 152l10 3 4-4-10-3z" fill="#3f4bcb"/>
<path d="M1633 157l10 3 4-8-10-2z" fill="#28297a"/>
<path d="M1769 164l9 5 1-9-8-6z" fill="#2d2178"/>
<path d="M1806 182l8 8 0-4-8-7z" fill="#922dde"/>
<path d="M1630 164l10 4 4-9-11-3z" fill="#291e6d"/>
<path d="M1884 119l4-5 3-4-4-5z" fill="#437044"/>
<path d="M1820 188l2 0 1-10-3 0z" fill="#3c1668"/>
<path d="M1759 171l9 4 2-6-9-5z" fill="#4c29a8"/>
<path d="M1627 171l10 4 4-9-11-3z" fill="#2f1b6a"/>
<path d="M1860 145l3 1 3-8-4-2z" fill="#306d97"/>
<path d="M1834 175l3 0 2-10-3 0z" fill="#2c2981"/>
<path d="M1768 170l9 5 1-7-8-5z" fill="#45289e"/>
<path d="M1784 166l9 8 1-1-9-7z" fill="#693bed"/>
<path d="M1873 135l3-5 3-13-4 5z" fill="#15322f"/>
<path d="M1663 149l10 3 3-5-10-3z" fill="#364cb8"/>
<path d="M1848 163l3-4 2-11-3 3z" fill="#122140"/>
<path d="M1799 178l8 8 1-3-9-8z" fill="#8230e2"/>
<path d="M1822 187l3 0 1-11-3 2z" fill="#2d1356"/>
<path d="M1886 113l4 6 3-14-4 5z" fill="#4a7644"/>
<path d="M1776 169l9 6 1-9-8-7z" fill="#382488"/>
<path d="M1730 167l10 4 2-1-10-5z" fill="#643dec"/>
<path d="M1710 161l9 4 3-6-9-4z" fill="#372f9d"/>
<path d="M1836 174l3 0 2-10-3 1z" fill="#212365"/>
<path d="M1862 146l3 1 3-14-3 5z" fill="#173648"/>
<path d="M1758 175l9 5 2-5-9-5z" fill="#582ab6"/>
<path d="M1740 170l9 4 2-5-9-5z" fill="#4c2eb2"/>
<path d="M1791 173l9 8 0-2-8-7z" fill="#7235e8"/>
<path d="M1805 185l9 8 0-4-8-7z" fill="#932edf"/>
<path d="M1767 175l9 5 1-6-9-5z" fill="#532ab1"/>
<path d="M1850 159l3-1 2-9-3-1z" fill="#254881"/>
<path d="M1824 187l3-1 1-10-3 0z" fill="#2d165e"/>
<path d="M1660 150l10 4 4-2-11-4z" fill="#4660ee"/>
<path d="M1876 130l3-3 3-5-3-5z" fill="#30715d"/>
<path d="M1686 155l10 3 3-4-10-4z" fill="#3f4ccd"/>
<path d="M1775 174l9 6 1-6-8-6z" fill="#4f29ac"/>
<path d="M1645 153l10 3 4-9-11-3z" fill="#1f2c6a"/>
<path d="M1783 174l9 6 1-7-8-7z" fill="#47269d"/>
<path d="M1890 119l3-4 3-15-3 5z" fill="#27371b"/>
<path d="M1839 174l3-2 1-11-3 2z" fill="#141b44"/>
<path d="M1642 160l10 3 4-8-11-3z" fill="#272a79"/>
<path d="M1853 157l3 2 2-11-3 1z" fill="#274d85"/>
<path d="M1620 173l11 4 3-5-11-4z" fill="#4b2aa8"/>
<path d="M1826 186l3 0 1-10-3 0z" fill="#351d75"/>
<path d="M1798 179l9 9 0-2-8-8z" fill="#8131e4"/>
<path d="M1865 147l3-6 3-11-3 2z" fill="#132e36"/>
<path d="M1639 167l10 4 4-9-11-4z" fill="#271e6b"/>
<path d="M1878 126l4 5 3-14-4 4z" fill="#2f6f58"/>
<path d="M1636 174l11 4 3-9-11-3z" fill="#2d1a68"/>
<path d="M1738 170l9 5 2-1-9-5z" fill="#663cec"/>
<path d="M1813 196l2 0 1-10-3 0z" fill="#511875"/>
<path d="M1765 179l10 5 1-5-9-5z" fill="#5e2bbc"/>
<path d="M1671 152l11 3 3-5-10-3z" fill="#364db9"/>
<path d="M1718 164l10 5 2-6-10-5z" fill="#382fa0"/>
<path d="M1774 179l9 5 1-5-8-6z" fill="#5c2aba"/>
<path d="M1747 173l10 5 2-5-10-5z" fill="#502eb7"/>
<path d="M1790 179l9 7 1-6-8-8z" fill="#5a29b5"/>
<path d="M1841 172l3-2 2-9-3 0z" fill="#1f306c"/>
<path d="M1828 186l3-1 2-11-3 2z" fill="#27185c"/>
<path d="M1782 179l9 6 1-6-8-6z" fill="#5c2aba"/>
<path d="M1893 115l4-7 3-1-4-7z" fill="#5f7634"/>
<path d="M1616 175l11 3 4-2-11-4z" fill="#6234d6"/>
<path d="M1805 187l8 9 1-4-8-8z" fill="#922ee0"/>
<path d="M1855 159l3-3 3-13-4 5z" fill="#12263d"/>
<path d="M1815 196l2 0 1-10-3 0z" fill="#451569"/>
<path d="M1868 141l3-1 3-6-4-4z" fill="#327882"/>
<path d="M1881 131l3-4 4-15-4 5z" fill="#1b3525"/>
<path d="M1844 170l2 1 3-10-4 0z" fill="#2a4392"/>
<path d="M1694 158l10 4 3-4-10-4z" fill="#404dcf"/>
<path d="M1669 153l10 4 3-2-10-4z" fill="#4662f0"/>
<path d="M1831 185l2-2 2-10-3 1z" fill="#1c144a"/>
<path d="M1895 108l4 6 4-14-5 6z" fill="#607132"/>
<path d="M1817 196l2 0 1-10-3 0z" fill="#42166b"/>
<path d="M1797 185l9 7 1-4-9-9z" fill="#752bcb"/>
<path d="M1870 140l3 3 3-15-3 5z" fill="#214f53"/>
<path d="M1773 183l9 5 1-5-9-5z" fill="#652bc3"/>
<path d="M1790 184l8 6 1-5-8-7z" fill="#6c2bc8"/>
<path d="M1654 156l10 3 3-10-10-3z" fill="#1f2d6a"/>
<path d="M1781 183l9 6 2-5-9-6z" fill="#672bc4"/>
<path d="M1746 174l9 5 2-1-9-5z" fill="#683beb"/>
<path d="M1858 156l3-4 2-8-3-1z" fill="#1a3a53"/>
<path d="M1651 162l10 4 4-8-11-4z" fill="#262c79"/>
<path d="M1755 177l10 5 1-5-9-5z" fill="#552ebd"/>
<path d="M1846 171l3-1 2-13-3 4z" fill="#152349"/>
<path d="M1726 168l10 5 2-6-10-5z" fill="#3a2fa3"/>
<path d="M1819 196l2 0 1-11-2 1z" fill="#3e176b"/>
<path d="M1884 127l4-6 3-4-4-5z" fill="#3f6940"/>
<path d="M1833 183l3-1 1-9-3 0z" fill="#25216b"/>
<path d="M1648 170l11 4 3-9-11-4z" fill="#251f6a"/>
<path d="M1629 176l11 4 4-5-11-4z" fill="#492ba8"/>
<path d="M1680 154l10 4 3-5-10-3z" fill="#374fbb"/>
<path d="M1805 191l8 7 1-3-9-9z" fill="#8f2dda"/>
<path d="M1645 178l11 4 3-10-11-3z" fill="#2b1a66"/>
<path d="M1899 114l3-3 4-16-4 4z" fill="#333616"/>
<path d="M1860 152l3 2 3-9-3-1z" fill="#306d96"/>
<path d="M1873 143l3-5 3-13-3 3z" fill="#15322e"/>
<path d="M1821 195l3 0 1-10-3 0z" fill="#301359"/>
<path d="M1797 189l9 7 1-4-9-8z" fill="#7f2cd4"/>
<path d="M1835 182l3 0 2-10-3 0z" fill="#2b2b80"/>
<path d="M1887 120l3 5 4-12-4 4z" fill="#4e7d48"/>
<path d="M1789 188l9 6 1-4-9-7z" fill="#752ccd"/>
<path d="M1848 170l3-4 3-10-3 1z" fill="#142647"/>
<path d="M1780 187l10 6 1-5-9-5z" fill="#702cca"/>
<path d="M1609 178l11 3 4-5-11-3z" fill="#482aa7"/>
<path d="M1702 161l11 4 2-4-10-4z" fill="#414dd1"/>
<path d="M1626 178l11 4 4-3-12-4z" fill="#6036d9"/>
<path d="M1772 182l9 6 1 0-9-6z" fill="#7634e9"/>
<path d="M1754 178l9 6 2-2-10-5z" fill="#6b39ea"/>
<path d="M1677 156l11 4 3-2-11-4z" fill="#4764f2"/>
<path d="M1863 154l3 0 3-15-4 6z" fill="#15303f"/>
<path d="M1823 195l3-1 1-10-3 0z" fill="#2b1458"/>
<path d="M1763 182l9 5 2-5-9-5z" fill="#5c2ec3"/>
<path d="M1902 111l4-10 3 2-4-8z" fill="#7a742e"/>
<path d="M1837 182l3-1 2-11-3 2z" fill="#181c4d"/>
<path d="M1734 172l10 5 2-6-10-5z" fill="#3e30a8"/>
<path d="M1876 138l3-4 3-5-3-5z" fill="#2f705c"/>
<path d="M1851 166l3 0 2-9-3-1z" fill="#2c5697"/>
<path d="M1890 125l3-2 4-17-4 7z" fill="#26371c"/>
<path d="M1804 195l9 6 1-3-9-7z" fill="#932ddc"/>
<path d="M1663 158l10 4 3-10-10-3z" fill="#1f2d6a"/>
<path d="M1605 179l12 4 4-2-12-4z" fill="#5f35d5"/>
<path d="M1825 194l3-1 1-9-3 0z" fill="#331b70"/>
<path d="M1660 165l11 4 3-8-11-4z" fill="#262d79"/>
<path d="M1796 193l9 6 1-4-9-6z" fill="#842cd5"/>
<path d="M1904 102l4 8 4-16-4 10z" fill="#736928"/>
<path d="M1689 158l10 4 3-5-10-4z" fill="#3750be"/>
<path d="M1878 133l4 5 3-13-4 3z" fill="#30725b"/>
<path d="M1788 192l9 5 1-4-9-6z" fill="#7b2cd1"/>
<path d="M1657 173l11 4 3-9-11-4z" fill="#251f69"/>
<path d="M1853 165l3 2 3-13-4 3z" fill="#1f3e6b"/>
<path d="M1840 181l3-2 1-11-2 2z" fill="#161f4a"/>
<path d="M1865 154l4-6 2-10-3 1z" fill="#132f37"/>
<path d="M1638 179l12 5 3-6-11-4z" fill="#472ba8"/>
<path d="M1812 204l3 0 0-10-2 0z" fill="#511875"/>
<path d="M1654 181l11 4 3-9-10-4z" fill="#2a1a65"/>
<path d="M1780 187l9 6 1-1-9-5z" fill="#7d32e9"/>
<path d="M1827 193l3 0 1-10-2 1z" fill="#2e1b6a"/>
<path d="M1762 183l9 6 2-3-10-5z" fill="#6f37e9"/>
<path d="M1771 186l9 6 2-5-10-6z" fill="#632ec9"/>
<path d="M1711 165l10 4 3-4-10-4z" fill="#434dd3"/>
<path d="M1893 123l4-7 3-3-4-7z" fill="#4c602b"/>
<path d="M1602 181l12 3 3-2-12-3z" fill="#6137db"/>
<path d="M1814 204l3 0 0-10-2 0z" fill="#451669"/>
<path d="M1722 165l10 5 2 1-10-5z" fill="#5356fc"/>
<path d="M1842 178l3 0 2-9-3-1z" fill="#283e8a"/>
<path d="M1908 110l3-3 4-15-3 2z" fill="#433814"/>
<path d="M1742 176l10 5 2-5-10-6z" fill="#4230ae"/>
<path d="M1868 148l3-1 3-6-3-3z" fill="#327983"/>
<path d="M1881 138l3-3 4-16-4 6z" fill="#1b3526"/>
<path d="M1686 159l11 4 3-2-11-4z" fill="#4765f4"/>
<path d="M1856 167l3-4 2-13-3 4z" fill="#12273d"/>
<path d="M1804 198l9 6 1-3-9-7z" fill="#942cdb"/>
<path d="M1829 193l3-1 2-11-3 2z" fill="#1e154c"/>
<path d="M1635 181l12 4 3-2-11-4z" fill="#5f37db"/>
<path d="M1619 181l11 4 4-6-12-3z" fill="#452ba6"/>
<path d="M1895 115l4 5 4-11-4 3z" fill="#6e833a"/>
<path d="M1796 196l9 6 1-3-9-7z" fill="#882cd6"/>
<path d="M1816 204l3 0 0-10-2 0z" fill="#42166a"/>
<path d="M1844 178l3 1 2-11-3 1z" fill="#23387a"/>
<path d="M1870 147l4 3 3-14-4 5z" fill="#214f52"/>
<path d="M1787 192l10 7 1-2-10-6z" fill="#8731e8"/>
<path d="M1672 161l10 4 3-10-10-3z" fill="#1f2e6a"/>
<path d="M1697 161l11 5 3-5-11-5z" fill="#3851c1"/>
<path d="M1832 192l2-2 2-10-3 1z" fill="#1e1955"/>
<path d="M1911 107l3-10 4 3-3-8z" fill="#907026"/>
<path d="M1779 191l9 6 1-4-9-7z" fill="#6c2dce"/>
<path d="M1770 188l9 6 2-3-10-6z" fill="#7334e7"/>
<path d="M1669 168l11 4 3-8-11-4z" fill="#252d79"/>
<path d="M1818 204l3 0 1-11-3 1z" fill="#3f176b"/>
<path d="M1858 163l3-3 3-8-3-2z" fill="#1e4460"/>
<path d="M1884 135l3-7 4-4-3-5z" fill="#355937"/>
<path d="M1615 182l12 4 4-2-12-4z" fill="#5d37d8"/>
<path d="M1898 120l4 0 4-19-4 8z" fill="#323717"/>
<path d="M1666 176l11 5 3-10-10-4z" fill="#242069"/>
<path d="M1720 168l10 5 2-4-10-5z" fill="#444cd6"/>
<path d="M1847 179l2-2 3-13-3 4z" fill="#132041"/>
<path d="M1750 180l10 6 2-5-10-6z" fill="#4831b5"/>
<path d="M1664 185l11 4 3-10-11-4z" fill="#2a1a64"/>
<path d="M1648 183l12 4 3-5-12-4z" fill="#462ca8"/>
<path d="M1834 190l2 0 2-10-3 0z" fill="#2b2980"/>
<path d="M1730 169l11 5 1 1-10-5z" fill="#5452fb"/>
<path d="M1820 204l3-1 1-10-3 0z" fill="#33145e"/>
<path d="M1803 201l10 6 0-3-9-6z" fill="#942cda"/>
<path d="M1873 150l3-4 3-14-3 4z" fill="#15322f"/>
<path d="M1860 160l4 2 2-10-3 0z" fill="#2f6b92"/>
<path d="M1913 98l4 8 4-17-4 12z" fill="#7f5f20"/>
<path d="M1886 128l4 4 4-10-4 1z" fill="#54884f"/>
<path d="M1795 198l10 6 0-2-9-6z" fill="#9030e6"/>
<path d="M1695 163l11 4 2-2-10-5z" fill="#4865f6"/>
<path d="M1836 190l3 0 1-11-2 1z" fill="#222469"/>
<path d="M1612 184l12 3 3-1-12-4z" fill="#5f39df"/>
<path d="M1787 196l9 6 1-4-9-6z" fill="#792dd4"/>
<path d="M1822 203l3-1 1-10-3 1z" fill="#2b1356"/>
<path d="M1901 120l3-10 5-1-4-8z" fill="#595622"/>
<path d="M1849 176l3-3 2-9-3 0z" fill="#182e54"/>
<path d="M1778 193l10 6 1-3-10-6z" fill="#7932e5"/>
<path d="M1863 162l3 0 3-16-3 6z" fill="#142f3e"/>
<path d="M1645 184l12 5 3-2-12-5z" fill="#5f38dd"/>
<path d="M1917 106l3-2 5-15-4 0z" fill="#543b14"/>
<path d="M1889 131l4 2 3-19-3 7z" fill="#26371d"/>
<path d="M1876 146l3-5 3-5-3-4z" fill="#2a6453"/>
<path d="M1629 184l12 4 3-5-12-4z" fill="#432ca6"/>
<path d="M1706 165l11 5 2-5-10-5z" fill="#3951c4"/>
<path d="M1681 165l11 4 2-10-10-4z" fill="#1f2e6b"/>
<path d="M1824 202l3 0 1-11-3 1z" fill="#301967"/>
<path d="M1749 179l10 6 2 1-10-6z" fill="#5f42f3"/>
<path d="M1851 173l3 1 3-9-3-1z" fill="#2d599d"/>
<path d="M1838 190l3-2 2-11-3 2z" fill="#151b45"/>
<path d="M1759 185l10 6 1-5-9-6z" fill="#5031bd"/>
<path d="M1728 173l11 5 2-4-11-5z" fill="#474ad9"/>
<path d="M1678 172l11 4 3-9-11-4z" fill="#252e7a"/>
<path d="M1904 111l4 3 4-9-4 3z" fill="#887d30"/>
<path d="M1739 173l10 7 2 0-10-6z" fill="#564dfa"/>
<path d="M1803 203l10 7 0-3-9-6z" fill="#972de0"/>
<path d="M1878 141l3 3 4-11-3 3z" fill="#357c64"/>
<path d="M1676 180l11 4 3-9-11-4z" fill="#242069"/>
<path d="M1866 162l3-6 3-11-3 1z" fill="#142f37"/>
<path d="M1826 202l3-1 1-10-2 0z" fill="#321c70"/>
<path d="M1920 104l4-11 4 4-4-9z" fill="#8b5d1f"/>
<path d="M1795 201l9 7 1-4-9-7z" fill="#862dd9"/>
<path d="M1854 174l2 1 3-14-3 4z" fill="#1b365c"/>
<path d="M1625 185l13 5 3-3-12-4z" fill="#5c39db"/>
<path d="M1812 212l2 1 1-11-3 0z" fill="#511876"/>
<path d="M1673 188l12 5 2-10-11-4z" fill="#291a64"/>
<path d="M1892 133l4-9 3-6-3-4z" fill="#384921"/>
<path d="M1786 198l10 7 1-3-10-7z" fill="#8230e3"/>
<path d="M1840 188l3-2 2-10-3 0z" fill="#1a275a"/>
<path d="M1658 186l12 5 3-5-12-5z" fill="#452ca8"/>
<path d="M1704 166l11 5 2-2-10-5z" fill="#4865f8"/>
<path d="M1907 114l3 4 5-21-4 8z" fill="#473d17"/>
<path d="M1828 201l3 0 1-11-2 1z" fill="#241757"/>
<path d="M1814 213l2-1 1-10-3 0z" fill="#46166a"/>
<path d="M1881 144l3 0 4-18-4 7z" fill="#1a3527"/>
<path d="M1868 156l3-1 3-6-3-4z" fill="#317680"/>
<path d="M1767 190l10 7 2-5-10-7z" fill="#5931c5"/>
<path d="M1923 94l3 9 5-18-4 13z" fill="#794c1a"/>
<path d="M1843 186l2 0 3-9-3-1z" fill="#2a4393"/>
<path d="M1758 184l10 7 1 0-10-6z" fill="#643ff1"/>
<path d="M1895 124l3 1 4-6-3-1z" fill="#738a3d"/>
<path d="M1856 175l3-4 2-13-2 3z" fill="#12273c"/>
<path d="M1715 169l11 5 2-5-10-5z" fill="#3b52c8"/>
<path d="M1815 212l3 0 1-10-3 0z" fill="#421669"/>
<path d="M1737 177l11 6 1-4-10-6z" fill="#4a47dc"/>
<path d="M1622 187l12 4 4-2-12-4z" fill="#5e3be3"/>
<path d="M1747 178l11 7 1 0-10-6z" fill="#5847f7"/>
<path d="M1690 168l11 4 3-10-11-4z" fill="#1f2f6c"/>
<path d="M1655 188l12 5 3-3-12-4z" fill="#5e39de"/>
<path d="M1803 207l10 6 0-3-10-7z" fill="#942ddc"/>
<path d="M1830 201l3-2 2-11-3 2z" fill="#1c154d"/>
<path d="M1910 118l3-10 5-3-3-8z" fill="#66511c"/>
<path d="M1870 155l3 3 4-14-3 4z" fill="#24565b"/>
<path d="M1845 186l2 0 3-11-3 2z" fill="#1d2f65"/>
<path d="M1794 204l10 7 1-4-10-6z" fill="#8c2fe1"/>
<path d="M1639 187l12 5 3-6-12-4z" fill="#422da6"/>
<path d="M1688 175l11 5 2-9-11-4z" fill="#262f7b"/>
<path d="M1884 144l3-7 4-7-4-4z" fill="#28462c"/>
<path d="M1817 212l3 0 1-10-3 0z" fill="#3f176b"/>
<path d="M1926 103l3-2 5-15-3-1z" fill="#653c14"/>
<path d="M1898 125l3 5 4-21-3 9z" fill="#3c441d"/>
<path d="M1858 171l3-3 3-8-3-2z" fill="#204764"/>
<path d="M1785 198l10 7 1-1-10-6z" fill="#7e32e8"/>
<path d="M1685 184l12 4 2-9-11-5z" fill="#25216a"/>
<path d="M1832 199l3-1 2-10-3 0z" fill="#242069"/>
<path d="M1913 107l3 2 5-7-4 2z" fill="#937026"/>
<path d="M1713 170l11 6 2-3-10-5z" fill="#4964f9"/>
<path d="M1776 196l10 7 1-5-10-7z" fill="#6330cd"/>
<path d="M1683 192l11 5 3-10-11-5z" fill="#291b65"/>
<path d="M1819 212l3 0 1-11-3 1z" fill="#361562"/>
<path d="M1873 158l3-3 3-16-3 5z" fill="#15322f"/>
<path d="M1847 186l3-2 2-13-3 3z" fill="#132141"/>
<path d="M1766 190l11 7 1 0-11-7z" fill="#6a3cef"/>
<path d="M1886 136l4 1 3-6-3-1z" fill="#568c52"/>
<path d="M1861 168l2 2 4-10-4 0z" fill="#2e678f"/>
<path d="M1668 190l12 5 2-6-11-4z" fill="#452da9"/>
<path d="M1636 189l12 4 3-2-12-4z" fill="#5b3bde"/>
<path d="M1929 101l4-12 4 5-3-8z" fill="#824918"/>
<path d="M1834 198l3 0 2-10-3 0z" fill="#2a2a7e"/>
<path d="M1901 130l3-8 4-9-3-4z" fill="#3f401a"/>
<path d="M1756 184l11 7 1 0-10-7z" fill="#5e44f5"/>
<path d="M1746 182l10 7 2-4-10-7z" fill="#4e43de"/>
<path d="M1724 173l11 6 2-5-10-6z" fill="#3d51cd"/>
<path d="M1802 209l10 8 1-4-10-7z" fill="#962dde"/>
<path d="M1821 212l3-1 1-11-3 1z" fill="#2c1357"/>
<path d="M1916 109l3 6 5-22-4 9z" fill="#5b4216"/>
<path d="M1889 137l3 4 4-19-3 9z" fill="#2d4526"/>
<path d="M1849 184l3-2 3-10-3-1z" fill="#1d3663"/>
<path d="M1863 169l3 1 3-16-3 5z" fill="#15303f"/>
<path d="M1794 204l10 8 0-2-10-7z" fill="#8b31e7"/>
<path d="M1699 172l11 5 3-10-11-5z" fill="#20306e"/>
<path d="M1837 198l2 0 2-12-3 2z" fill="#1b2057"/>
<path d="M1876 155l3-6 3-6-3-4z" fill="#225144"/>
<path d="M1932 90l3 10 6-19-5 14z" fill="#763715"/>
<path d="M1823 211l3-1 1-10-3 0z" fill="#2d165f"/>
<path d="M1665 192l12 5 3-3-12-5z" fill="#5e3ae0"/>
<path d="M1784 202l11 7 1-4-11-8z" fill="#6f2ed4"/>
<path d="M1903 122l3-4 5-1-3-5z" fill="#847c31"/>
<path d="M1697 179l11 5 3-9-11-4z" fill="#272f7d"/>
<path d="M1632 190l13 5 3-2-12-5z" fill="#5c3de5"/>
<path d="M1775 196l10 8 1-1-10-8z" fill="#7138ed"/>
<path d="M1851 181l3 1 3-9-3-1z" fill="#2e599e"/>
<path d="M1919 115l3-9 5-5-3-8z" fill="#6c4a19"/>
<path d="M1649 191l12 5 3-6-12-4z" fill="#412da6"/>
<path d="M1878 149l3 2 4-9-3 0z" fill="#38856c"/>
<path d="M1722 175l11 6 2-3-10-6z" fill="#4b61fa"/>
<path d="M1839 198l2-2 2-12-2 2z" fill="#151d48"/>
<path d="M1695 188l11 4 3-9-11-5z" fill="#25216b"/>
<path d="M1825 210l3 0 1-11-3 1z" fill="#311b6e"/>
<path d="M1892 141l3-6 4-12-3-1z" fill="#2b3a1b"/>
<path d="M1765 190l11 8 1-1-11-7z" fill="#6440f2"/>
<path d="M1866 170l2-5 3-12-2 1z" fill="#132e36"/>
<path d="M1935 100l4-1 5-14-4-4z" fill="#793415"/>
<path d="M1755 188l10 7 2-4-11-7z" fill="#533fe0"/>
<path d="M1906 118l3 7 5-19-3 12z" fill="#5c521f"/>
<path d="M1854 182l2 1 3-14-3 4z" fill="#1a3459"/>
<path d="M1693 196l11 5 3-10-12-5z" fill="#2a1b66"/>
<path d="M1811 221l2 0 1-10-2-1z" fill="#511876"/>
<path d="M1802 211l10 9 1-4-10-7z" fill="#972ee2"/>
<path d="M1733 178l11 6 2-5-10-6z" fill="#404fd2"/>
<path d="M1827 210l2-1 2-10-2 0z" fill="#2a1963"/>
<path d="M1881 151l3 2 3-18-3 7z" fill="#1c3c2e"/>
<path d="M1678 194l12 5 2-5-11-5z" fill="#452daa"/>
<path d="M1922 105l3-1 5-5-3 2z" fill="#82551c"/>
<path d="M1841 196l2-2 3-10-3 0z" fill="#1f2f6a"/>
<path d="M1793 208l10 8 1-4-10-8z" fill="#812ed9"/>
<path d="M1813 221l2 0 1-11-2 0z" fill="#47166b"/>
<path d="M1646 193l12 4 4-2-13-5z" fill="#5a3ce0"/>
<path d="M1894 135l3-5 5-2-3-5z" fill="#667e38"/>
<path d="M1868 165l3-3 3-6-3-3z" fill="#2d6d77"/>
<path d="M1938 99l4-13 5 6-4-7z" fill="#762c13"/>
<path d="M1784 203l10 8 1-2-10-8z" fill="#7933e9"/>
<path d="M1709 176l11 5 2-10-11-5z" fill="#213072"/>
<path d="M1909 125l3-4 5-14-3-1z" fill="#4d4017"/>
<path d="M1856 183l3-3 3-14-3 3z" fill="#12273d"/>
<path d="M1829 209l2-1 2-11-2 2z" fill="#1f1650"/>
<path d="M1843 194l2 0 3-10-3 0z" fill="#29418e"/>
<path d="M1815 221l2 0 1-11-2 0z" fill="#421668"/>
<path d="M1774 197l11 8 0-1-10-8z" fill="#6c3bef"/>
<path d="M1870 162l3 4 4-13-4 3z" fill="#2b676e"/>
<path d="M1925 103l3 9 5-23-3 10z" fill="#6a4116"/>
<path d="M1707 183l11 5 2-8-11-5z" fill="#282f80"/>
<path d="M1883 153l3-6 4-12-3 0z" fill="#1f3825"/>
<path d="M1897 130l3 6 5-16-3 9z" fill="#53612a"/>
<path d="M1764 193l10 8 2-4-11-7z" fill="#5b3ce2"/>
<path d="M1732 180l11 6 2-2-11-7z" fill="#4d5df9"/>
<path d="M1675 196l12 5 3-3-12-5z" fill="#5e3be1"/>
<path d="M1817 221l2-1 1-10-2 0z" fill="#3f1669"/>
<path d="M1845 194l3 0 2-12-3 2z" fill="#1a2c5c"/>
<path d="M1831 208l2-1 2-11-2 1z" fill="#1e1955"/>
<path d="M1941 87l4 10 6-19-5 15z" fill="#722411"/>
<path d="M1912 121l4-10 4 3-3-7z" fill="#876a24"/>
<path d="M1802 215l10 8 0-4-10-8z" fill="#932ddd"/>
<path d="M1858 180l3-3 3-9-3-2z" fill="#1d405d"/>
<path d="M1705 192l11 5 3-10-12-5z" fill="#26216e"/>
<path d="M1743 183l11 7 1-5-10-7z" fill="#454cd7"/>
<path d="M1643 194l13 4 3-1-13-5z" fill="#5b3fe8"/>
<path d="M1659 195l13 5 3-6-13-5z" fill="#402ea7"/>
<path d="M1928 112l3-8 5-6-3-9z" fill="#764617"/>
<path d="M1873 166l2-1 4-18-3 6z" fill="#153131"/>
<path d="M1792 210l11 8 1-2-11-8z" fill="#8731e6"/>
<path d="M1578 167l13-3 3-4-13 3z" fill="#3d9187"/>
<path d="M1818 220l3 0 1-10-3 0z" fill="#381564"/>
<path d="M1703 200l11 5 3-9-12-5z" fill="#2b1b67"/>
<path d="M1886 147l3-4 4-3-3-5z" fill="#4d7f4c"/>
<path d="M1900 136l3-1 4-18-3 3z" fill="#363a18"/>
<path d="M1833 207l2-1 2-10-2 0z" fill="#272573"/>
<path d="M1944 97l4 0 6-13-4-6z" fill="#842814"/>
<path d="M1860 177l3 1 3-10-2-1z" fill="#2a5f85"/>
<path d="M1847 194l3-2 2-12-2 2z" fill="#142447"/>
<path d="M1783 204l10 9 1-2-10-9z" fill="#7535ea"/>
<path d="M1915 112l3 8 5-16-4 11z" fill="#77581e"/>
<path d="M1688 198l12 5 2-5-11-5z" fill="#462dab"/>
<path d="M1718 181l12 5 2-10-11-5z" fill="#233176"/>
<path d="M1820 220l3 0 1-11-3 0z" fill="#2f145b"/>
<path d="M1773 200l11 8 1-3-11-9z" fill="#6438e2"/>
<path d="M1888 143l3 5 4-15-3 6z" fill="#3f6338"/>
<path d="M1835 206l2 0 2-10-2 0z" fill="#242770"/>
<path d="M1574 170l13-3 4-3-13 2z" fill="#3b8d89"/>
<path d="M1657 196l12 5 3-2-12-5z" fill="#593de1"/>
<path d="M1875 165l3-6 4-10-3-2z" fill="#1a3d36"/>
<path d="M1863 178l2 0 4-15-3 5z" fill="#153142"/>
<path d="M1741 185l11 7 2-2-11-7z" fill="#5056f8"/>
<path d="M1903 135l2-10 6-1-4-8z" fill="#615f26"/>
<path d="M1849 192l3-2 3-10-3-1z" fill="#203e71"/>
<path d="M1717 188l11 5 2-8-11-6z" fill="#2a3085"/>
<path d="M1822 220l2-1 2-11-3 1z" fill="#2c155b"/>
<path d="M1801 217l11 9 0-4-10-8z" fill="#952ee1"/>
<path d="M1752 189l11 8 2-5-11-8z" fill="#4a46db"/>
<path d="M1918 120l3 0 5-18-3 2z" fill="#5e4316"/>
<path d="M1837 206l2-1 3-11-3 2z" fill="#191f50"/>
<path d="M1571 174l13-3 3-4-13 3z" fill="#39898b"/>
<path d="M1686 200l12 5 2-2-12-5z" fill="#5e3be2"/>
<path d="M1877 159l3-1 4-7-3-2z" fill="#357e69"/>
<path d="M1851 190l3 1 3-10-3-1z" fill="#2e59a0"/>
<path d="M1891 148l3-1 4-19-3 5z" fill="#26371b"/>
<path d="M1792 211l10 10 1-3-10-9z" fill="#8331e6"/>
<path d="M1715 196l11 6 2-10-11-5z" fill="#282171"/>
<path d="M1934 99l3 10 6-23-3 12z" fill="#763414"/>
<path d="M1824 219l2-1 2-10-3 0z" fill="#2f1966"/>
<path d="M1905 125l3 4 5-10-2 6z" fill="#776d2a"/>
<path d="M1865 178l3-4 3-14-3 3z" fill="#132e37"/>
<path d="M1782 207l11 9 1-4-11-9z" fill="#6e34e1"/>
<path d="M1921 120l3-12 5 3-3-9z" fill="#7d551d"/>
<path d="M1951 85l3 10 6-19-4 15z" fill="#70180f"/>
<path d="M1713 205l11 5 3-10-12-5z" fill="#2d1c6a"/>
<path d="M1854 191l2 1 3-14-3 3z" fill="#1d3864"/>
<path d="M1839 205l2-1 3-12-3 1z" fill="#17214e"/>
<path d="M1654 198l13 5 2-2-12-5z" fill="#5b40ea"/>
<path d="M1670 199l12 5 3-6-12-5z" fill="#402ea8"/>
<path d="M1880 158l3 4 4-17-3 6z" fill="#214e3e"/>
<path d="M1567 178l13-4 3-4-12 3z" fill="#37858e"/>
<path d="M1937 109l3-5 6-8-3-10z" fill="#833816"/>
<path d="M1826 218l2 0 2-11-3 1z" fill="#2e1a69"/>
<path d="M1811 229l2 1 1-11-3 0z" fill="#521876"/>
<path d="M1772 199l11 9 1 0-11-8z" fill="#653ded"/>
<path d="M1728 185l11 7 2-10-11-6z" fill="#25337d"/>
<path d="M1894 147l3-8 4-5-3-6z" fill="#435627"/>
<path d="M1954 95l3 1 7-12-4-8z" fill="#821d12"/>
<path d="M1751 191l11 8 1-3-11-8z" fill="#544ef6"/>
<path d="M1908 128l3 5 5-22-3 8z" fill="#4e4319"/>
<path d="M1698 203l12 5 3-6-12-5z" fill="#472ead"/>
<path d="M1761 195l11 9 2-4-11-9z" fill="#513fde"/>
<path d="M1867 174l3-3 4-7-3-4z" fill="#29626d"/>
<path d="M1812 230l3 0 0-11-2 0z" fill="#48166c"/>
<path d="M1841 203l2-1 3-10-3 0z" fill="#203270"/>
<path d="M1801 220l11 9 0-3-10-9z" fill="#942ee1"/>
<path d="M1828 218l2-1 2-11-3 1z" fill="#241759"/>
<path d="M1856 192l2-1 3-16-2 3z" fill="#13263f"/>
<path d="M1565 180l13-4 2-2-13 3z" fill="#368291"/>
<path d="M1923 109l4 5 5-12-4 10z" fill="#724918"/>
<path d="M1726 193l12 6 2-8-11-7z" fill="#2d308a"/>
<path d="M1882 162l3-3 4-18-3 4z" fill="#1b3526"/>
<path d="M1869 170l3 4 4-11-3 0z" fill="#337c89"/>
<path d="M1791 215l11 9 1-3-11-10z" fill="#7e30e0"/>
<path d="M1896 139l3 1 5-7-3 1z" fill="#677c37"/>
<path d="M1814 230l2-1 1-10-2 0z" fill="#421568"/>
<path d="M1667 201l13 5 3-3-13-5z" fill="#593ee3"/>
<path d="M1843 202l2 0 3-10-3 0z" fill="#263d84"/>
<path d="M1562 183l13-4 3-3-14 4z" fill="#358093"/>
<path d="M1911 133l3-8 5-7-3-7z" fill="#604e1c"/>
<path d="M1589 164l13-1 3-4-13 1z" fill="#449f7d"/>
<path d="M1830 217l2-1 2-11-3 1z" fill="#1e1751"/>
<path d="M1725 201l11 6 2-10-11-5z" fill="#2b2276"/>
<path d="M1781 207l11 10 1-1-11-9z" fill="#6f37ea"/>
<path d="M1858 191l2-3 4-12-3-1z" fill="#193651"/>
<path d="M1926 113l3 6 6-22-3 5z" fill="#6f4316"/>
<path d="M1816 229l2 0 1-11-2 1z" fill="#3f1668"/>
<path d="M1872 174l3 3 3-20-2 6z" fill="#193d41"/>
<path d="M1696 204l12 6 3-3-13-5z" fill="#5f3be3"/>
<path d="M1560 185l13-4 2-2-13 3z" fill="#327a91"/>
<path d="M1845 202l2 0 3-12-2 2z" fill="#1b2d5d"/>
<path d="M1899 140l3 5 4-21-3 9z" fill="#3f471e"/>
<path d="M1771 203l11 9 1-4-11-10z" fill="#5c3be0"/>
<path d="M1885 159l3-7 4-6-3-5z" fill="#305334"/>
<path d="M1760 198l12 8 1-2-11-9z" fill="#5944f2"/>
<path d="M1943 95l3 11 6-22-4 13z" fill="#7a2512"/>
<path d="M1738 191l11 7 2-9-11-7z" fill="#293386"/>
<path d="M1723 209l12 6 2-10-12-5z" fill="#2f1c6e"/>
<path d="M1831 216l3-1 2-11-3 1z" fill="#211d5e"/>
<path d="M1557 190l14-3 2-6-13 4z" fill="#235267"/>
<path d="M1913 125l3-5 6-1-4-1z" fill="#806321"/>
<path d="M1818 229l2 0 1-11-2 0z" fill="#3a1665"/>
<path d="M1553 201l13-1 2-8-13 2z" fill="#1c3c5b"/>
<path d="M1555 195l14-2 2-7-14 3z" fill="#1c4058"/>
<path d="M1585 168l13-2 4-4-13 2z" fill="#429c7f"/>
<path d="M1551 206l13 0 2-7-13 1z" fill="#1f406a"/>
<path d="M1860 188l3-1 3-11-3 0z" fill="#234d6f"/>
<path d="M1929 119l3-10 6-1-3-11z" fill="#7e4b19"/>
<path d="M1961 83l3 10 6-19-4 15z" fill="#71130e"/>
<path d="M1801 223l10 9 1-3-11-10z" fill="#922edf"/>
<path d="M1548 209l14 1 2-5-13 0z" fill="#294f8e"/>
<path d="M1681 203l12 5 3-5-13-5z" fill="#402fa9"/>
<path d="M1874 177l3-3 4-18-3 1z" fill="#153130"/>
<path d="M1665 202l13 5 2-2-13-5z" fill="#5a41eb"/>
<path d="M1946 106l3-2 6-11-3-9z" fill="#852914"/>
<path d="M1847 202l3-1 2-13-2 2z" fill="#172950"/>
<path d="M1833 215l3 0 2-11-3 0z" fill="#262672"/>
<path d="M1887 152l3 1 5-8-3 1z" fill="#4c7b48"/>
<path d="M1819 229l2-1 2-11-3 1z" fill="#32145e"/>
<path d="M1709 207l12 6 2-6-12-5z" fill="#492eb0"/>
<path d="M1736 198l12 6 2-7-12-7z" fill="#312f92"/>
<path d="M1901 145l3-6 5-12-3-3z" fill="#40421b"/>
<path d="M1963 93l4 3 6-11-3-11z" fill="#7d1510"/>
<path d="M1546 212l14 1 2-4-14-1z" fill="#2f57a5"/>
<path d="M1791 215l11 11 0-2-11-10z" fill="#7e32e6"/>
<path d="M1862 187l3 0 3-15-2 4z" fill="#163143"/>
<path d="M1916 121l3 8 6-21-3 12z" fill="#6a4d1a"/>
<path d="M1582 171l13-2 3-4-13 2z" fill="#409981"/>
<path d="M1835 215l3-1 2-11-3 1z" fill="#202465"/>
<path d="M1543 215l14 1 3-4-14-1z" fill="#335ab4"/>
<path d="M1877 174l2-4 4-10-2-4z" fill="#255851"/>
<path d="M1821 228l2 0 2-11-3 0z" fill="#2d145b"/>
<path d="M1780 211l12 9 1-3-11-10z" fill="#6836e1"/>
<path d="M1849 200l3-1 2-10-2-1z" fill="#23427b"/>
<path d="M1890 153l3 4 4-20-3 8z" fill="#2e4626"/>
<path d="M1770 205l11 9 1-2-11-10z" fill="#623fee"/>
<path d="M1735 206l12 6 1-9-11-6z" fill="#2f237d"/>
<path d="M1678 205l13 5 2-2-12-6z" fill="#5a3ee4"/>
<path d="M1904 139l3-8 5 1-3-5z" fill="#6f6a2a"/>
<path d="M1748 197l11 7 2-8-11-8z" fill="#2f3391"/>
<path d="M1851 199l3 1 3-9-3-2z" fill="#2f59a3"/>
<path d="M1919 129l3-3 6-14-3-4z" fill="#694a19"/>
<path d="M1541 216l14 1 2-2-14-1z" fill="#3f6bde"/>
<path d="M1823 228l2-1 2-11-3 1z" fill="#2d1760"/>
<path d="M1837 214l2-1 3-12-3 2z" fill="#182051"/>
<path d="M1879 170l3 2 4-15-3 3z" fill="#25594f"/>
<path d="M1707 209l12 6 2-3-12-6z" fill="#603be3"/>
<path d="M1865 187l2-3 4-15-3 3z" fill="#132d38"/>
<path d="M1578 175l13-3 4-3-14 2z" fill="#3f9583"/>
<path d="M1800 225l11 11 1-4-11-10z" fill="#922ee2"/>
<path d="M1733 214l12 6 2-9-12-6z" fill="#331d75"/>
<path d="M1935 107l3 10 6-23-3 8z" fill="#7e3515"/>
<path d="M1853 200l3 2 3-13-3 1z" fill="#24447c"/>
<path d="M1892 157l3-4 5-15-3-1z" fill="#2e3f1e"/>
<path d="M1825 227l2 0 1-11-2 0z" fill="#2e1966"/>
<path d="M1906 132l4 6 5-15-3 10z" fill="#665b23"/>
<path d="M1952 92l3 10 7-19-4 13z" fill="#73180f"/>
<path d="M1790 219l11 11 1-4-11-11z" fill="#7730df"/>
<path d="M1922 126l3-11 6 3-4-6z" fill="#77511b"/>
<path d="M1538 217l14 1 3-1-14-1z" fill="#436ee9"/>
<path d="M1746 204l12 7 2-7-12-8z" fill="#372e9d"/>
<path d="M1839 213l2-1 3-12-3 1z" fill="#182353"/>
<path d="M1810 238l2 1 1-11-2-1z" fill="#521876"/>
<path d="M1938 117l3-7 6-6-3-10z" fill="#883b17"/>
<path d="M1576 177l13-3 2-2-13 2z" fill="#3e9384"/>
<path d="M1881 172l3 1 4-23-3 7z" fill="#16342a"/>
<path d="M1970 82l4 10 6-19-4 14z" fill="#75140f"/>
<path d="M1867 183l2-3 4-8-3-3z" fill="#245663"/>
<path d="M1780 213l11 10 1-3-11-10z" fill="#6c38e9"/>
<path d="M1691 208l13 5 2-5-12-6z" fill="#412fab"/>
<path d="M1600 163l13-1 3-3-13 0z" fill="#58a974"/>
<path d="M1855 202l3-1 3-15-3 3z" fill="#162b4a"/>
<path d="M1719 212l13 6 2-6-13-6z" fill="#4c2eb3"/>
<path d="M1826 227l3-1 1-11-2 1z" fill="#291961"/>
<path d="M1955 102l3 2 7-12-3-10z" fill="#7f1d11"/>
<path d="M1676 206l13 6 2-2-13-6z" fill="#5b41ed"/>
<path d="M1973 92l3 4 7-10-3-13z" fill="#79140f"/>
<path d="M1895 153l3-6 5-4-3-5z" fill="#566f32"/>
<path d="M1812 239l2 0 1-11-2 0z" fill="#49166c"/>
<path d="M1869 179l2 3 5-7-3-3z" fill="#347d90"/>
<path d="M1536 219l14 1 2-3-14 0z" fill="#3a5dca"/>
<path d="M1909 138l3 2 6-21-4 4z" fill="#524619"/>
<path d="M1841 212l2-1 3-11-3 0z" fill="#20326e"/>
<path d="M1573 179l14-2 2-3-13 3z" fill="#3d9086"/>
<path d="M1769 204l12 10 0 0-11-9z" fill="#5d41f0"/>
<path d="M1758 204l11 8 2-7-12-10z" fill="#3731a0"/>
<path d="M1745 211l12 7 2-8-12-7z" fill="#362487"/>
<path d="M1871 181l2 6 4-15-2 3z" fill="#2f7187"/>
<path d="M1925 116l3 6 6-14-4 11z" fill="#6b4316"/>
<path d="M1828 226l2 0 2-12-2 1z" fill="#221756"/>
<path d="M1813 238l2 0 1-11-2 1z" fill="#431568"/>
<path d="M1857 201l3-2 3-14-2 1z" fill="#162e4b"/>
<path d="M1533 223l15 1 2-5-14 0z" fill="#2b4194"/>
<path d="M1800 228l11 11 0-4-11-11z" fill="#8f2ede"/>
<path d="M1884 173l2-7 5-15-3-1z" fill="#1b3526"/>
<path d="M1897 146l3 5 5-14-3 6z" fill="#54652d"/>
<path d="M1596 166l13-1 4-3-13 0z" fill="#54a675"/>
<path d="M1843 211l2 0 3-11-3 0z" fill="#23397b"/>
<path d="M1571 182l13-3 3-3-14 3z" fill="#398983"/>
<path d="M1912 140l3-9 5-4-3-8z" fill="#6d581f"/>
<path d="M1689 209l13 6 2-2-12-6z" fill="#5a3ee6"/>
<path d="M1531 226l14 2 3-5-15-1z" fill="#2b3a91"/>
<path d="M1873 187l3 2 4-21-3 4z" fill="#183943"/>
<path d="M1562 206l14 0 2-7-13 0z" fill="#1c4157"/>
<path d="M1815 238l2 0 1-11-2 0z" fill="#3f1567"/>
<path d="M1565 200l13 0 2-9-13 1z" fill="#1c4454"/>
<path d="M1789 222l12 11 1-4-12-10z" fill="#7a31e3"/>
<path d="M1830 226l2-1 2-12-2 1z" fill="#1f1856"/>
<path d="M1744 219l12 7 1-9-12-7z" fill="#391f7d"/>
<path d="M1569 187l13-2 2-6-13 2z" fill="#245656"/>
<path d="M1717 214l13 6 2-3-13-6z" fill="#623ae4"/>
<path d="M1560 209l14 2 2-6-14 0z" fill="#26557c"/>
<path d="M1567 193l13-1 2-8-13 2z" fill="#1e484f"/>
<path d="M1928 122l2 5 6-21-3 1z" fill="#774718"/>
<path d="M1756 210l12 8 2-7-12-8z" fill="#412faa"/>
<path d="M1859 199l3-1 3-13-2 0z" fill="#1a3857"/>
<path d="M1845 211l2-1 3-11-2 1z" fill="#1c3063"/>
<path d="M1528 228l15 4 2-4-14-3z" fill="#363dab"/>
<path d="M1558 213l14 1 2-4-14-1z" fill="#2d6196"/>
<path d="M1817 238l2 0 1-11-2 0z" fill="#3b1565"/>
<path d="M1900 150l3 4 5-23-3 6z" fill="#383f1b"/>
<path d="M1779 213l11 11 1-1-11-10z" fill="#693aec"/>
<path d="M1944 102l3 11 7-22-4 12z" fill="#7d2412"/>
<path d="M1886 166l3-6 5-5-3-4z" fill="#335837"/>
<path d="M1875 189l3-3 4-16-2-2z" fill="#1a3e45"/>
<path d="M1832 225l2-1 2-11-2 0z" fill="#221f62"/>
<path d="M1593 169l13-1 4-3-14 0z" fill="#50a477"/>
<path d="M1930 127l3-11 6 0-3-10z" fill="#7f4c19"/>
<path d="M1768 211l11 9 2-6-12-10z" fill="#4531b2"/>
<path d="M1961 91l4 8 7-17-5 14z" fill="#65110d"/>
<path d="M1526 231l14 3 3-3-15-3z" fill="#3e3ab7"/>
<path d="M1555 216l15 1 2-3-14-2z" fill="#3268a8"/>
<path d="M1818 238l2-1 2-11-2 1z" fill="#351561"/>
<path d="M1730 217l12 6 2-5-12-6z" fill="#502fb8"/>
<path d="M1947 113l3-1 7-11-4-10z" fill="#832914"/>
<path d="M1847 210l2-1 3-12-2 1z" fill="#1a2f5c"/>
<path d="M1980 82l3 10 8-19-5 13z" fill="#7d1510"/>
<path d="M1861 197l3-1 4-14-3 3z" fill="#152e41"/>
<path d="M1702 212l13 6 2-5-12-6z" fill="#4330ae"/>
<path d="M1755 217l12 8 2-8-12-8z" fill="#3f2694"/>
<path d="M1983 91l3 5 7-8-3-15z" fill="#76140f"/>
<path d="M1964 99l4 6 7-14-4-10z" fill="#78140f"/>
<path d="M1878 186l2-1 4-14-2-1z" fill="#204d53"/>
<path d="M1833 224l3-1 2-11-2 1z" fill="#23246b"/>
<path d="M1799 231l12 11 0-3-11-11z" fill="#902ee0"/>
<path d="M1902 154l3-7 5-11-2-5z" fill="#46481e"/>
<path d="M1888 159l3 3 5-11-3 4z" fill="#3d6238"/>
<path d="M1523 233l15 4 3-3-15-4z" fill="#4335bb"/>
<path d="M1687 211l13 5 2-1-13-6z" fill="#5b42ee"/>
<path d="M1820 237l2 0 1-11-2 0z" fill="#2f145d"/>
<path d="M1553 217l14 1 3-1-15-2z" fill="#4286e0"/>
<path d="M1849 209l2 0 3-11-2-1z" fill="#254582"/>
<path d="M1917 129l3 8 6-22-3 9z" fill="#694b19"/>
<path d="M1589 173l14-1 3-4-13 1z" fill="#4ca279"/>
<path d="M1789 223l12 12 0-3-11-10z" fill="#7732e6"/>
<path d="M1835 223l2 0 3-12-2 1z" fill="#1e2360"/>
<path d="M1767 217l12 9 1-6-12-10z" fill="#4f30b9"/>
<path d="M1880 185l2 2 5-23-3 7z" fill="#143131"/>
<path d="M1864 196l2-2 4-16-3 3z" fill="#132c39"/>
<path d="M1851 208l2 1 3-9-2-2z" fill="#3058a6"/>
<path d="M1520 234l15 4 3-1-15-5z" fill="#523bd6"/>
<path d="M1822 237l2-1 1-11-2 1z" fill="#2d165d"/>
<path d="M1754 225l12 7 2-8-12-8z" fill="#412089"/>
<path d="M1905 147l2-6 6-2-3-3z" fill="#605d25"/>
<path d="M1891 161l3 4 4-20-2 6z" fill="#314927"/>
<path d="M1778 219l12 10 1-5-12-11z" fill="#5831c4"/>
<path d="M1611 162l13 1 3-3-13-1z" fill="#69b16d"/>
<path d="M1920 137l3-3 6-14-3-5z" fill="#72501b"/>
<path d="M1550 218l15 1 2-1-14-1z" fill="#468eef"/>
<path d="M1728 219l13 7 2-3-13-7z" fill="#6539e4"/>
<path d="M1700 214l13 6 3-2-13-6z" fill="#5c3ee7"/>
<path d="M1852 209l3 2 3-12-2 1z" fill="#2c519a"/>
<path d="M1837 223l2-1 3-12-3 1z" fill="#192254"/>
<path d="M1587 175l14-2 2-2-14 1z" fill="#49a17b"/>
<path d="M1823 236l2 0 2-11-2 0z" fill="#2d1861"/>
<path d="M1936 114l3 10 6-23-3 7z" fill="#823516"/>
<path d="M1518 236l15 3 2-1-15-4z" fill="#563ad7"/>
<path d="M1893 165l3-3 5-13-3-4z" fill="#3f5a2c"/>
<path d="M1866 194l2-4 4-10-2-2z" fill="#1b404d"/>
<path d="M1854 211l3 1 3-15-2 2z" fill="#1d3665"/>
<path d="M1766 224l12 8 1-7-12-9z" fill="#4c28a5"/>
<path d="M1953 100l3 8 7-18-4 14z" fill="#65150d"/>
<path d="M1907 141l3 6 6-17-3 10z" fill="#564d1d"/>
<path d="M1799 233l12 13 0-4-11-11z" fill="#8f2ee1"/>
<path d="M1923 134l3-11 6 3-4-6z" fill="#6f4c19"/>
<path d="M1882 187l3-2 4-27-2 6z" fill="#15332d"/>
<path d="M1548 220l14 1 3-3-15-1z" fill="#3b78cc"/>
<path d="M1585 177l14-1 2-3-14 1z" fill="#469f7c"/>
<path d="M1825 236l2 0 2-12-2 1z" fill="#2b1962"/>
<path d="M1939 124l3-4 6-9-3-10z" fill="#883c17"/>
<path d="M1839 222l2-1 3-12-3 1z" fill="#192557"/>
<path d="M1741 223l12 6 2-5-13-7z" fill="#552fbe"/>
<path d="M1810 247l2 1 0-12-2 0z" fill="#521876"/>
<path d="M1607 165l14 1 3-4-13 0z" fill="#65af6e"/>
<path d="M1990 82l3 9 8-16-4 10z" fill="#8e1812"/>
<path d="M1896 162l2-3 6-7-3-4z" fill="#597c3c"/>
<path d="M1868 189l2 0 5-3-3-7z" fill="#337b92"/>
<path d="M1992 91l4 6 7-7-3-15z" fill="#75140f"/>
<path d="M1515 238l15 4 3-3-15-4z" fill="#4d2fb6"/>
<path d="M1777 225l12 9 1-5-12-10z" fill="#5f2fc8"/>
<path d="M1956 107l3 6 7-16-3-7z" fill="#791b11"/>
<path d="M1869 188l3 6 5-6-3-3z" fill="#2f6f8c"/>
<path d="M1713 218l13 6 2-6-12-6z" fill="#4630b2"/>
<path d="M1788 228l12 11 1-5-12-12z" fill="#6d2ed3"/>
<path d="M1753 224l12 7 2 0-13-7z" fill="#7137eb"/>
<path d="M1546 224l14 2 2-6-14-1z" fill="#264983"/>
<path d="M1871 194l3 7 4-17-2 3z" fill="#2f6c91"/>
<path d="M1974 95l3 10 7-15-3-9z" fill="#74140f"/>
<path d="M1856 212l3-1 3-16-2 2z" fill="#172d4f"/>
<path d="M1811 248l2 0 1-12-2 0z" fill="#49166d"/>
<path d="M1827 235l2 0 2-11-3 0z" fill="#26185d"/>
<path d="M1582 179l14-1 2-3-13 2z" fill="#409778"/>
<path d="M1574 206l15 2 2-9-14-1z" fill="#1d4652"/>
<path d="M1841 221l2-1 3-11-3 0z" fill="#1e2f69"/>
<path d="M1910 147l3 1 6-21-3 2z" fill="#54471a"/>
<path d="M1543 228l15 3 2-6-14-2z" fill="#24427e"/>
<path d="M1572 210l15 2 2-5-14-2z" fill="#25586e"/>
<path d="M1698 216l13 6 3-2-14-6z" fill="#5c42ef"/>
<path d="M1577 200l13 0 2-9-13 0z" fill="#1e494c"/>
<path d="M1874 201l2 2 5-20-3 1z" fill="#1e455e"/>
<path d="M1512 240l16 5 2-4-15-4z" fill="#502aad"/>
<path d="M1898 159l3 5 5-19-3 7z" fill="#3f5527"/>
<path d="M1765 231l12 7 1-7-12-8z" fill="#4d229a"/>
<path d="M1813 248l2-1 1-11-2 0z" fill="#441569"/>
<path d="M1578 192l14 0 2-9-14 1z" fill="#204c46"/>
<path d="M1580 185l14-1 2-7-14 2z" fill="#255849"/>
<path d="M1541 231l15 4 2-5-15-3z" fill="#2e4fa2"/>
<path d="M1570 214l15 2 2-4-15-2z" fill="#2c6788"/>
<path d="M1884 185l3-9 5-16-3-2z" fill="#193527"/>
<path d="M1828 235l2-1 2-11-2 1z" fill="#221858"/>
<path d="M1604 168l14 1 3-4-13 0z" fill="#62ad6f"/>
<path d="M1858 211l3-2 3-15-2 1z" fill="#162d4b"/>
<path d="M1843 220l2-1 3-11-3 1z" fill="#213673"/>
<path d="M1876 203l2-1 5-17-3-2z" fill="#1c4056"/>
<path d="M1913 148l2-8 6-5-3-8z" fill="#6f5b20"/>
<path d="M1814 247l2 0 1-11-2 0z" fill="#3f1566"/>
<path d="M1510 241l15 6 3-2-15-6z" fill="#5f2cc1"/>
<path d="M1739 225l13 7 2-3-13-7z" fill="#6838e4"/>
<path d="M1538 234l16 4 2-4-15-3z" fill="#3453b4"/>
<path d="M1568 217l14 3 3-4-15-3z" fill="#32719b"/>
<path d="M1776 231l12 8 2-5-13-10z" fill="#5d29b9"/>
<path d="M1799 238l11 11 1-4-12-12z" fill="#8c2ddc"/>
<path d="M1900 164l3 3 6-27-3 5z" fill="#2d3819"/>
<path d="M1712 219l13 7 2-3-13-6z" fill="#5d3ee7"/>
<path d="M1928 129l3 6 6-22-3 2z" fill="#7b4a19"/>
<path d="M1830 234l2-1 2-11-2 1z" fill="#201a59"/>
<path d="M1788 233l12 10 0-4-11-11z" fill="#742ed4"/>
<path d="M1844 219l3 0 3-12-3 1z" fill="#1e3369"/>
<path d="M1816 247l2 0 1-11-2 0z" fill="#3b1564"/>
<path d="M1878 202l2 0 5-19-2 2z" fill="#163342"/>
<path d="M1860 209l3-1 3-16-2 2z" fill="#13283e"/>
<path d="M1536 236l15 5 3-4-15-4z" fill="#3652bb"/>
<path d="M1945 109l3 9 6-19-3 13z" fill="#6d2010"/>
<path d="M1507 243l16 6 2-2-15-6z" fill="#6a2ccb"/>
<path d="M1887 176l2-8 5-5-2-3z" fill="#2a4a30"/>
<path d="M1751 228l13 8 2-5-13-8z" fill="#5c2fc4"/>
<path d="M1931 135l3-8 6-4-3-10z" fill="#84501b"/>
<path d="M1565 218l15 2 3-1-15-2z" fill="#469cdb"/>
<path d="M1601 171l14 1 3-4-14 0z" fill="#5fac70"/>
<path d="M1832 233l2 0 2-12-2 1z" fill="#211f61"/>
<path d="M1817 247l2 0 2-12-2 1z" fill="#371562"/>
<path d="M2002 90l4 9 7-7-3-14z" fill="#76140f"/>
<path d="M1903 167l3-6 5-16-3-5z" fill="#353e1b"/>
<path d="M2000 82l3 9 8-13-4 6z" fill="#a21b14"/>
<path d="M1846 219l2-1 4-11-3 0z" fill="#1e3568"/>
<path d="M1622 163l14 1 3-3-14-2z" fill="#76b968"/>
<path d="M1764 230l12 8 1 0-12-8z" fill="#7734ea"/>
<path d="M1947 118l3 4 7-16-3-7z" fill="#7c2613"/>
<path d="M1725 223l13 7 2-6-13-7z" fill="#4a31b7"/>
<path d="M1533 238l16 4 2-1-15-5z" fill="#4565ee"/>
<path d="M1965 102l3 11 7-19-3-4z" fill="#77140f"/>
<path d="M1983 92l3 14 8-16-3-9z" fill="#72130e"/>
<path d="M1775 237l13 8 1-6-12-9z" fill="#5f26ae"/>
<path d="M1819 247l2-1 1-11-2 0z" fill="#32155f"/>
<path d="M1833 233l2-1 3-11-2 0z" fill="#212365"/>
<path d="M1880 202l2 0 6-28-3 9z" fill="#132e36"/>
<path d="M1889 168l3 1 5-9-3 3z" fill="#3e643a"/>
<path d="M1967 113l4-10 7 2-3-11z" fill="#8c1a12"/>
<path d="M1986 105l4-11 7 2-3-7z" fill="#74130f"/>
<path d="M1848 218l2 0 3-11-2-1z" fill="#274687"/>
<path d="M1862 207l3-2 4-17-3 4z" fill="#132a3a"/>
<path d="M1950 122l4-13 6 3-3-6z" fill="#682110"/>
<path d="M1563 218l15 2 2 0-15-2z" fill="#4aa6e8"/>
<path d="M1599 174l14-1 2-2-14 0z" fill="#5caa72"/>
<path d="M1918 137l3 8 6-22-3 9z" fill="#6c4d1a"/>
<path d="M1905 161l3-6 6-9-3-1z" fill="#3e431c"/>
<path d="M1798 242l12 10 1-3-12-12z" fill="#8f2ddc"/>
<path d="M1787 238l12 9 1-4-12-11z" fill="#752ccc"/>
<path d="M1710 221l13 6 2-1-13-7z" fill="#5e41f0"/>
<path d="M1850 218l2 0 4-9-3-2z" fill="#3057a7"/>
<path d="M1820 246l2 0 2-12-2 1z" fill="#2e155d"/>
<path d="M1835 232l2 0 3-12-2 1z" fill="#1d235f"/>
<path d="M1531 239l15 3 3 0-16-5z" fill="#4766f4"/>
<path d="M1891 169l3 5 5-17-3 3z" fill="#4b7541"/>
<path d="M1619 166l14 1 3-3-14-2z" fill="#74b768"/>
<path d="M1750 231l13 7 2-3-13-7z" fill="#6d35e4"/>
<path d="M1851 218l3 2 3-10-2-1z" fill="#3057a9"/>
<path d="M1920 145l3 0 6-18-2-4z" fill="#72521c"/>
<path d="M1596 176l15-1 2-2-14 0z" fill="#5aa972"/>
<path d="M1822 246l2-1 2-11-2 0z" fill="#2d165e"/>
<path d="M1894 174l2 0 6-12-3-5z" fill="#4d7c48"/>
<path d="M1865 205l2-4 4-14-3 1z" fill="#132d38"/>
<path d="M1560 220l15 2 3-2-15-2z" fill="#3e8cc4"/>
<path d="M1853 220l3 1 3-12-2 1z" fill="#294a91"/>
<path d="M1837 232l2-1 2-12-2 1z" fill="#1a2358"/>
<path d="M1723 225l13 7 2-3-13-7z" fill="#603de8"/>
<path d="M1896 174l2 0 6-8-3-4z" fill="#508854"/>
<path d="M1882 202l3-4 5-31-3 7z" fill="#153130"/>
<path d="M1763 235l12 8 2-5-13-8z" fill="#652ecb"/>
<path d="M1528 241l16 5 2-4-15-4z" fill="#3549b4"/>
<path d="M1936 120l3 10 7-22-3 10z" fill="#7a3114"/>
<path d="M1923 145l2-10 7-1-3-7z" fill="#6e4e1a"/>
<path d="M1908 155l3 1 5-18-2 8z" fill="#3c3916"/>
<path d="M1824 245l1 0 2-12-2 1z" fill="#2b1860"/>
<path d="M1587 207l14 3 2-9-14-2z" fill="#1f4a4b"/>
<path d="M1558 225l15 3 2-6-14-2z" fill="#224c6f"/>
<path d="M1872 205l2 10 5-15-3 1z" fill="#2d5f94"/>
<path d="M1775 237l12 9 1-2-12-7z" fill="#8132e9"/>
<path d="M2012 91l4 9 8-6-3-13z" fill="#77140f"/>
<path d="M1585 212l14 3 2-6-14-3z" fill="#255861"/>
<path d="M1594 178l14 0 3-3-15 0z" fill="#54a06e"/>
<path d="M1870 197l2 9 5-3-2-4z" fill="#2b6189"/>
<path d="M2009 86l4 6 8-11-4 2z" fill="#a21b14"/>
<path d="M1855 221l2 1 4-15-2 2z" fill="#1d3666"/>
<path d="M1874 214l2 5 5-19-3 0z" fill="#275084"/>
<path d="M1867 200l2-3 4-4-2-6z" fill="#31778f"/>
<path d="M1556 231l15 3 2-7-15-2z" fill="#20436a"/>
<path d="M1939 130l3 1 7-15-3-8z" fill="#7f3816"/>
<path d="M1589 200l14 2 2-11-14 0z" fill="#204d45"/>
<path d="M1898 174l2 5 6-20-3 6z" fill="#345836"/>
<path d="M1839 231l2-1 2-12-2 1z" fill="#1a2659"/>
<path d="M1526 244l15 6 3-5-16-4z" fill="#303899"/>
<path d="M1786 244l13 8 1-5-13-9z" fill="#7729c5"/>
<path d="M1868 196l3 3 4 2-2-9z" fill="#2d6a87"/>
<path d="M1616 168l14 2 3-4-14-1z" fill="#71b569"/>
<path d="M1809 257l2 0 1-11-2-1z" fill="#521877"/>
<path d="M1583 216l14 3 3-5-15-3z" fill="#2c6b7d"/>
<path d="M1554 234l15 4 2-5-15-3z" fill="#2a5590"/>
<path d="M1591 192l14 1 1-10-14 0z" fill="#224f40"/>
<path d="M1876 219l2 0 5-19-2-1z" fill="#1d3b62"/>
<path d="M1798 246l12 10 1-4-13-11z" fill="#8f2dda"/>
<path d="M1825 245l2-1 2-11-2 0z" fill="#28185f"/>
<path d="M1592 184l14 0 2-7-14 0z" fill="#2b583f"/>
<path d="M1736 229l13 7 2-5-13-8z" fill="#5031bd"/>
<path d="M1956 110l3 11 7-20-3-1z" fill="#7c1910"/>
<path d="M1995 105l4-7 8 0-3-9z" fill="#921912"/>
<path d="M1993 90l3 15 8-15-3-8z" fill="#72130e"/>
<path d="M1959 121l3-6 7-3-3-11z" fill="#932615"/>
<path d="M1977 111l3-3 8-3-4-14z" fill="#871711"/>
<path d="M1811 257l1 0 1-11-2 0z" fill="#4a166e"/>
<path d="M1857 222l2 0 4-16-2 1z" fill="#172c50"/>
<path d="M1523 247l16 6 3-4-16-5z" fill="#403ebe"/>
<path d="M1974 98l3 13 8-19-4 0z" fill="#7f1510"/>
<path d="M1910 156l3 1 6-22-3 3z" fill="#493f17"/>
<path d="M1580 219l15 3 3-4-15-3z" fill="#327892"/>
<path d="M1840 230l2-1 3-12-2 1z" fill="#1d2c63"/>
<path d="M1552 237l15 5 2-4-15-4z" fill="#305ea7"/>
<path d="M1900 179l3 5 6-31-3 6z" fill="#22361f"/>
<path d="M1827 244l2 0 2-12-2 1z" fill="#25195c"/>
<path d="M1749 230l13 8 1 0-13-7z" fill="#6c3aee"/>
<path d="M1885 198l2-10 5-21-2 0z" fill="#16342a"/>
<path d="M1878 219l2 0 5-23-2 4z" fill="#12263d"/>
<path d="M1812 257l2 0 1-12-2 1z" fill="#451669"/>
<path d="M1634 164l14 2 3-3-14-2z" fill="#82bf64"/>
<path d="M1721 226l14 7 2-1-14-7z" fill="#6140f0"/>
<path d="M1761 237l14 9 1-4-13-8z" fill="#7233e3"/>
<path d="M1549 240l16 5 2-4-15-4z" fill="#335fb2"/>
<path d="M1521 248l16 6 2-2-16-6z" fill="#4c41d9"/>
<path d="M1613 171l14 2 3-4-14-1z" fill="#6fb46a"/>
<path d="M1842 229l2-1 3-11-2 0z" fill="#1f326b"/>
<path d="M1913 157l3-7 6-7-3-8z" fill="#725f22"/>
<path d="M1859 222l2-2 4-17-2 2z" fill="#12243f"/>
<path d="M1578 220l15 3 2-1-15-3z" fill="#49aed7"/>
<path d="M1828 244l2-1 2-12-2 1z" fill="#22195a"/>
<path d="M1813 257l2 0 1-12-2 0z" fill="#401566"/>
<path d="M1902 184l3-4 6-26-2-1z" fill="#25371d"/>
<path d="M1774 242l13 8 1-4-13-9z" fill="#712dd1"/>
<path d="M1928 136l3 8 7-25-3 6z" fill="#724517"/>
<path d="M1786 245l13 9 0-3-13-8z" fill="#8c30e6"/>
<path d="M1735 231l13 7 2-2-14-8z" fill="#643be8"/>
<path d="M1844 228l2 0 3-12-2 1z" fill="#1f346b"/>
<path d="M1815 257l2-1 1-11-2 0z" fill="#3c1564"/>
<path d="M1547 241l15 5 3-1-16-5z" fill="#4782fa"/>
<path d="M1830 243l2 0 2-12-2 0z" fill="#201b5b"/>
<path d="M2022 91l4 11 8-6-3-12z" fill="#77140f"/>
<path d="M1797 251l13 8 0-4-12-9z" fill="#8f2cd7"/>
<path d="M1931 144l3-4 6-12-3-9z" fill="#7c4d1a"/>
<path d="M1880 219l2 0 6-33-3 10z" fill="#132a3b"/>
<path d="M1887 188l2-9 6-7-3-5z" fill="#1f3a28"/>
<path d="M2019 89l4 3 9-8-4-1z" fill="#a01b14"/>
<path d="M1611 173l14 1 2-2-14-1z" fill="#6db36b"/>
<path d="M1861 220l2-2 4-20-2 5z" fill="#12273c"/>
<path d="M1816 256l2 0 1-11-1 0z" fill="#381562"/>
<path d="M1631 167l14 2 3-3-14-3z" fill="#7fbd64"/>
<path d="M1845 227l2 0 4-11-2 0z" fill="#203871"/>
<path d="M1905 180l3-7 6-18-3-1z" fill="#293719"/>
<path d="M1831 243l2-1 3-12-2 1z" fill="#201e5f"/>
<path d="M1748 235l13 8 1-5-13-8z" fill="#5731c4"/>
<path d="M2005 104l4-2 8-3-3-9z" fill="#961913"/>
<path d="M1947 121l3 9 8-21-4 0z" fill="#7f2413"/>
<path d="M2003 90l3 14 8-14-3-5z" fill="#77140f"/>
<path d="M1950 130l3-5 7-5-3-11z" fill="#923017"/>
<path d="M1818 256l1 0 2-12-2 1z" fill="#341560"/>
<path d="M1544 242l16 4 2 0-15-5z" fill="#4a86ff"/>
<path d="M1986 107l3 5 8-8-3-14z" fill="#74130f"/>
<path d="M1847 227l2 0 4-11-3 0z" fill="#274689"/>
<path d="M1889 179l2-3 6-4-2 0z" fill="#416e44"/>
<path d="M1918 145l2 8 7-19-3 10z" fill="#7b5d1f"/>
<path d="M1967 116l4 3 7-9-3-13z" fill="#76150f"/>
<path d="M1965 105l3 11 8-19-4 6z" fill="#911812"/>
<path d="M1609 175l14 1 2-2-14-1z" fill="#6bb26b"/>
<path d="M1760 237l14 9 1-1-13-8z" fill="#7237ec"/>
<path d="M1983 96l3 11 9-17-4 4z" fill="#951913"/>
<path d="M1833 242l2-1 3-11-3 0z" fill="#1f2161"/>
<path d="M1773 244l13 9 1-3-13-9z" fill="#7b31e1"/>
<path d="M1895 185l3 4 6-7-3-5z" fill="#367d62"/>
<path d="M1819 256l2 0 2-12-2 0z" fill="#30155f"/>
<path d="M1849 227l2 0 4-9-3-2z" fill="#2f55a6"/>
<path d="M1573 222l16 2 2-2-15-2z" fill="#419dbf"/>
<path d="M1920 153l3 7 6-26-2 0z" fill="#71561d"/>
<path d="M1863 217l2-4 4-18-2 3z" fill="#132a3a"/>
<path d="M1891 176l3 5 6-8-3-1z" fill="#548f58"/>
<path d="M1893 180l3 6 6-8-3-6z" fill="#3f7953"/>
<path d="M1897 189l3 6 6-17-3 4z" fill="#327764"/>
<path d="M1882 219l2-4 6-38-2 9z" fill="#132e36"/>
<path d="M1599 209l15 3 2-9-15-3z" fill="#204c46"/>
<path d="M1597 214l15 4 2-7-14-3z" fill="#255858"/>
<path d="M1733 232l14 8 1-2-13-7z" fill="#643ff0"/>
<path d="M1785 249l13 9 1-4-13-9z" fill="#812dd7"/>
<path d="M1850 227l3 1 3-8-2-2z" fill="#3157ac"/>
<path d="M1542 245l16 5 2-4-16-5z" fill="#3056a9"/>
<path d="M1628 169l14 3 3-4-14-2z" fill="#7dbc64"/>
<path d="M1835 241l2 0 2-12-2 1z" fill="#1d235e"/>
<path d="M1922 160l3-5 7-13-3-8z" fill="#6c551e"/>
<path d="M1797 253l13 10 0-4-13-9z" fill="#962ee1"/>
<path d="M1873 226l3 7 5-16-3 0z" fill="#2a4b93"/>
<path d="M1907 173l3-4 6-21-3 7z" fill="#323617"/>
<path d="M1606 178l15 1 2-3-14-1z" fill="#64a967"/>
<path d="M1821 255l1 0 2-12-2 1z" fill="#2e165e"/>
<path d="M1571 228l16 3 2-7-15-3z" fill="#204c61"/>
<path d="M1601 201l15 3 1-11-14-2z" fill="#214f40"/>
<path d="M1852 228l2 2 4-10-2-1z" fill="#3155ab"/>
<path d="M1872 215l2 11 5-8-2-1z" fill="#295090"/>
<path d="M1875 233l2 3 6-19-3 0z" fill="#243d7e"/>
<path d="M1595 218l15 4 3-5-15-3z" fill="#2d6d72"/>
<path d="M1569 233l16 4 2-7-15-3z" fill="#1d425a"/>
<path d="M1540 249l15 6 3-6-16-5z" fill="#264085"/>
<path d="M1900 195l2 6 6-30-3 7z" fill="#17352c"/>
<path d="M2029 92l4 1 9-6-4-1z" fill="#d9d9d9"/>
<path d="M1567 238l16 4 2-5-15-4z" fill="#28577f"/>
<path d="M1603 192l14 2 2-10-14-1z" fill="#28503a"/>
<path d="M1746 237l14 9 1-3-13-8z" fill="#6939e8"/>
<path d="M1836 241l2-1 3-12-2 1z" fill="#1b245b"/>
<path d="M1605 184l14 1 2-7-14-1z" fill="#315738"/>
<path d="M1854 230l2 2 4-12-2 0z" fill="#2b4b98"/>
<path d="M1871 207l1 10 5 2-2-6z" fill="#295686"/>
<path d="M1822 255l2 0 2-12-2 0z" fill="#2c175e"/>
<path d="M1865 213l2-4 4-12-2-2z" fill="#173745"/>
<path d="M1593 222l16 4 2-4-15-4z" fill="#337b87"/>
<path d="M1646 166l14 3 3-3-14-3z" fill="#8bc460"/>
<path d="M1537 252l16 6 3-3-16-6z" fill="#3554b9"/>
<path d="M1877 236l2 0 6-23-3 4z" fill="#122040"/>
<path d="M1565 241l16 5 2-4-16-5z" fill="#2e6397"/>
<path d="M1869 204l1 4 5 6-2-10z" fill="#2a6082"/>
<path d="M1856 232l2 1 4-15-2 2z" fill="#20386f"/>
<path d="M1867 208l2-2 5 0-3-9z" fill="#327794"/>
<path d="M1824 255l1-1 2-12-2 1z" fill="#2a175e"/>
<path d="M2015 103l3 2 9-4-3-11z" fill="#841611"/>
<path d="M1939 132l2 8 8-21-3-1z" fill="#7e3315"/>
<path d="M1838 240l2-1 3-12-2 1z" fill="#1b265b"/>
<path d="M1902 201l2 0 7-34-3 4z" fill="#183528"/>
<path d="M1759 242l14 9 1-5-13-9z" fill="#6130cb"/>
<path d="M1625 172l14 2 3-3-14-2z" fill="#7cbb65"/>
<path d="M2012 93l3 10 9-12-3-4z" fill="#831611"/>
<path d="M1941 140l3-5 7-6-3-10z" fill="#90461a"/>
<path d="M1910 169l3-2 6-23-3 4z" fill="#393515"/>
<path d="M1809 266l1 0 1-11-2 0z" fill="#531877"/>
<path d="M1563 245l16 5 2-4-16-5z" fill="#3166a3"/>
<path d="M1884 215l3-10 5-30-2 2z" fill="#15322f"/>
<path d="M1535 254l16 6 2-2-16-6z" fill="#4365e8"/>
<path d="M1772 245l13 10 1-2-13-9z" fill="#7a33ea"/>
<path d="M1591 223l16 3 2-1-16-4z" fill="#4dbacf"/>
<path d="M1956 115l3 9 7-19-2 9z" fill="#7e1710"/>
<path d="M1995 102l3 12 9-10-3-15z" fill="#6d120e"/>
<path d="M1825 254l2 0 2-12-2 0z" fill="#27185d"/>
<path d="M1993 98l3 5 8-13-3 8z" fill="#78140f"/>
<path d="M1857 233l2 0 5-18-3 3z" fill="#16284c"/>
<path d="M1784 252l14 9 0-3-13-9z" fill="#872fe0"/>
<path d="M1958 123l3 6 8-14-3-11z" fill="#741b10"/>
<path d="M1839 239l2-1 3-12-2 1z" fill="#1b2a5f"/>
<path d="M1810 266l2 0 0-11-1 0z" fill="#4b166f"/>
<path d="M1976 109l3 12 9-15-3-11z" fill="#6e130e"/>
<path d="M1879 236l2 1 6-34-2 10z" fill="#12233f"/>
<path d="M1796 257l14 9 0-4-13-9z" fill="#922ddb"/>
<path d="M1979 121l3-10 8 0-3-6z" fill="#71130e"/>
<path d="M1928 149l2 6 7-27-3 10z" fill="#462f10"/>
<path d="M1643 169l14 3 3-4-14-3z" fill="#89c360"/>
<path d="M1912 167l3-6 6-10-2-7z" fill="#6a5d23"/>
<path d="M1904 201l2-5 7-31-3 2z" fill="#1d3524"/>
<path d="M1560 245l16 5 3 0-16-6z" fill="#4997f7"/>
<path d="M1826 254l2-1 3-12-2 1z" fill="#25195c"/>
<path d="M1811 266l2 0 1-11-2 0z" fill="#46166a"/>
<path d="M1623 174l15 2 2-2-15-2z" fill="#7aba66"/>
<path d="M1841 238l2 0 3-12-2 0z" fill="#1d2e63"/>
<path d="M1745 239l14 8 1-2-13-8z" fill="#693cef"/>
<path d="M1859 233l2-2 5-20-3 4z" fill="#12233f"/>
<path d="M1813 266l1 0 1-11-1 0z" fill="#411567"/>
<path d="M1915 161l3-8 6 6-3-8z" fill="#9e8a33"/>
<path d="M1930 155l3 2 7-26-3-3z" fill="#5c3d14"/>
<path d="M1828 253l2 0 2-12-2 0z" fill="#22195b"/>
<path d="M1887 205l2-13 6-13-3-4z" fill="#183528"/>
<path d="M1758 245l14 9 1-4-13-8z" fill="#6f36e7"/>
<path d="M1843 238l2-1 3-12-2 0z" fill="#1e3168"/>
<path d="M1814 266l2 0 1-12-2 1z" fill="#3d1565"/>
<path d="M1621 176l15 2 2-2-15-2z" fill="#79ba66"/>
<path d="M1558 245l16 5 2 0-16-5z" fill="#4b9cfc"/>
<path d="M1932 157l3-10 7-8-2-8z" fill="#583a14"/>
<path d="M1829 253l2-1 3-12-2 1z" fill="#211b5c"/>
<path d="M1896 200l3 9 6-9-3-1z" fill="#2f7079"/>
<path d="M1771 250l14 9 1-5-14-9z" fill="#6c2ed2"/>
<path d="M1881 237l2-3 7-44-3 13z" fill="#12293b"/>
<path d="M2022 96l3 6 9-10-3-2z" fill="#981a13"/>
<path d="M1844 237l2-1 4-11-2 0z" fill="#203770"/>
<path d="M1640 171l15 3 3-3-15-3z" fill="#87c261"/>
<path d="M1815 266l2 0 1-12-1 0z" fill="#391563"/>
<path d="M1898 209l2 7 7-22-3 5z" fill="#265c69"/>
<path d="M1861 231l2-3 5-22-3 5z" fill="#12273d"/>
<path d="M1784 254l13 10 1-3-13-9z" fill="#8831e7"/>
<path d="M1906 196l3-8 7-29-3 6z" fill="#25371c"/>
<path d="M1947 127l3 8 7-21-3 9z" fill="#6d1f10"/>
<path d="M1612 212l15 4 2-10-15-4z" fill="#214e42"/>
<path d="M1895 192l2 9 6-1-3-7z" fill="#2d6c64"/>
<path d="M1610 217l16 4 2-6-15-4z" fill="#255851"/>
<path d="M1587 224l15 3 2-2-15-3z" fill="#46a9b7"/>
<path d="M1921 171l3 5 7-23-3-5z" fill="#5d5923"/>
<path d="M1919 158l3 13 7-23-3 5z" fill="#83712a"/>
<path d="M1796 260l13 10 1-4-13-9z" fill="#942dde"/>
<path d="M1831 252l2 0 2-13-2 1z" fill="#201d5d"/>
<path d="M1889 192l2-8 6 1-3-6z" fill="#325d3e"/>
<path d="M1949 134l3 7 8-19-3-8z" fill="#722512"/>
<path d="M1817 266l1 0 2-12-2 0z" fill="#361561"/>
<path d="M1619 178l15 2 2-2-15-2z" fill="#71b062"/>
<path d="M1846 236l2 0 3-11-2 0z" fill="#264386"/>
<path d="M1924 176l2-4 7-17-2-2z" fill="#42421b"/>
<path d="M1614 204l15 3 1-12-14-2z" fill="#25503c"/>
<path d="M1609 222l15 4 2-5-15-4z" fill="#2e6e6b"/>
<path d="M1556 249l16 5 2-4-16-5z" fill="#2d5c98"/>
<path d="M2007 113l4-5 9-4-4-3z" fill="#7d1510"/>
<path d="M2005 98l3 15 9-11-4-10z" fill="#70130e"/>
<path d="M1658 168l14 4 3-3-14-4z" fill="#92c95e"/>
<path d="M1874 243l2 7 6-15-2-1z" fill="#2a398e"/>
<path d="M1900 216l2 5 7-35-2 8z" fill="#142f34"/>
<path d="M1952 141l2-10 8-3-3-7z" fill="#6a2611"/>
<path d="M1893 185l2 8 6 2-2-7z" fill="#357459"/>
<path d="M1585 230l15 4 2-7-15-4z" fill="#1f4c56"/>
<path d="M1988 117l3 1 9-5-3-12z" fill="#7f1510"/>
<path d="M1583 237l15 5 2-9-15-4z" fill="#1d4554"/>
<path d="M1873 232l2 12 5-9-2-1z" fill="#293f8d"/>
<path d="M1969 127l4-2 8-5-3-12z" fill="#841b11"/>
<path d="M1891 184l2 1 6 4-2-5z" fill="#4e8f5f"/>
<path d="M1832 251l2 0 3-12-2 0z" fill="#1f205e"/>
<path d="M1876 250l2 3 6-21-3 2z" fill="#1b2259"/>
<path d="M1616 194l14 3 2-11-15-2z" fill="#2d5135"/>
<path d="M1847 236l2 0 4-9-2-2z" fill="#2e52a2"/>
<path d="M1554 254l16 7 2-7-16-5z" fill="#214171"/>
<path d="M1818 266l2-1 1-12-2 1z" fill="#321560"/>
<path d="M1581 242l16 5 2-6-16-5z" fill="#265873"/>
<path d="M1617 185l15 2 2-7-15-2z" fill="#365733"/>
<path d="M1967 115l3 12 8-19-3-3z" fill="#77140f"/>
<path d="M1607 225l15 5 2-5-15-4z" fill="#347e7f"/>
<path d="M1986 104l2 13 9-16-3-4z" fill="#76140f"/>
<path d="M1863 228l2-5 5-19-3 2z" fill="#132a3a"/>
<path d="M1872 222l1 12 5 2-2-3z" fill="#27478a"/>
<path d="M1849 236l2 1 4-9-2-2z" fill="#3157ac"/>
<path d="M1757 246l14 9 1-2-14-9z" fill="#6f39ed"/>
<path d="M1551 258l17 6 2-4-16-6z" fill="#315dac"/>
<path d="M1579 246l16 5 2-5-16-5z" fill="#2d668b"/>
<path d="M1637 174l15 3 3-3-15-3z" fill="#86c161"/>
<path d="M1819 265l2 0 2-12-2 0z" fill="#2f155f"/>
<path d="M1834 251l2-1 3-12-2 1z" fill="#1d225e"/>
<path d="M1850 237l3 1 4-8-2-2z" fill="#3156ad"/>
<path d="M1770 252l14 10 1-3-14-10z" fill="#7632e4"/>
<path d="M1902 221l2 0 8-41-3 6z" fill="#143131"/>
<path d="M1852 238l2 2 4-9-2-1z" fill="#3153ac"/>
<path d="M1878 253l2 0 6-30-2 9z" fill="#121b3e"/>
<path d="M1883 234l2-9 7-42-2 7z" fill="#132e36"/>
<path d="M1909 188l2-6 7-29-2 6z" fill="#303617"/>
<path d="M1870 215l1 7 5 11-1-7z" fill="#275184"/>
<path d="M1821 265l1 0 2-12-2 0z" fill="#2d165e"/>
<path d="M1577 249l16 6 2-5-16-5z" fill="#2f6a96"/>
<path d="M1604 226l16 4 2-1-15-4z" fill="#51c3c7"/>
<path d="M1835 250l2 0 3-13-2 1z" fill="#1c245d"/>
<path d="M1549 259l16 7 3-2-17-7z" fill="#447bec"/>
<path d="M1783 258l14 10 0-4-13-11z" fill="#7e2ed8"/>
<path d="M1854 240l2 2 4-11-2 0z" fill="#2f4ea3"/>
<path d="M1655 171l15 4 3-3-15-4z" fill="#90c75e"/>
<path d="M1865 223l2-5 5-11-3-3z" fill="#183847"/>
<path d="M1796 263l13 10 1-4-14-9z" fill="#952ee1"/>
<path d="M1822 265l2-1 2-12-2 1z" fill="#2b175d"/>
<path d="M1868 213l2 2 4 11-1-11z" fill="#295d81"/>
<path d="M1855 241l2 2 5-14-2 2z" fill="#243c7d"/>
<path d="M1938 137l3 6 7-17-2 7z" fill="#702d13"/>
<path d="M1636 176l14 3 2-2-15-3z" fill="#85c062"/>
<path d="M1866 218l2-4 5 3-2-10z" fill="#317494"/>
<path d="M1837 250l2-1 3-13-2 1z" fill="#1b265d"/>
<path d="M1574 250l17 5 2 0-16-6z" fill="#4ba7f0"/>
<path d="M1940 142l3 7 8-16-3-7z" fill="#7b3915"/>
<path d="M1943 149l2-4 8-6-3-6z" fill="#9a581d"/>
<path d="M1823 264l2 0 2-12-2 0z" fill="#29175d"/>
<path d="M2014 101l3 10 10-10-4-6z" fill="#7e1510"/>
<path d="M1904 221l3-6 7-42-2 7z" fill="#16342b"/>
<path d="M1911 182l3-7 7-18-3-4z" fill="#383615"/>
<path d="M1929 170l2 4 8-38-3 9z" fill="#433311"/>
<path d="M1857 243l2 1 5-18-3 3z" fill="#16274e"/>
<path d="M1808 276l2 0 0-12-1 0z" fill="#531878"/>
<path d="M1838 249l2-1 3-12-1 0z" fill="#1b295e"/>
<path d="M1880 253l2 0 6-43-2 13z" fill="#122040"/>
<path d="M1997 110l3 12 9-9-3-15z" fill="#6c120e"/>
<path d="M1960 134l3 3 8-12-3-11z" fill="#761e11"/>
<path d="M1958 125l2 9 9-20-4 3z" fill="#841811"/>
<path d="M1825 264l1-1 3-12-2 1z" fill="#27185d"/>
<path d="M1809 276l2 0 1-12-2 0z" fill="#4c166f"/>
<path d="M1634 178l15 3 1-3-14-2z" fill="#84c062"/>
<path d="M1885 225l3-13 6-28-2-1z" fill="#15322e"/>
<path d="M1978 118l3 11 9-13-3-13z" fill="#6c120e"/>
<path d="M1653 174l15 3 2-3-14-3z" fill="#8fc65e"/>
<path d="M1995 105l3 6 9-13-4 3z" fill="#981a13"/>
<path d="M1976 113l3 6 8-16-3 8z" fill="#7b1510"/>
<path d="M1769 254l14 10 1-2-14-10z" fill="#7634ea"/>
<path d="M1914 175l2-10 7 5-3-13z" fill="#938c37"/>
<path d="M1898 226l2 9 7-22-2 6z" fill="#285580"/>
<path d="M1897 214l2 13 7-8-3 1z" fill="#295d82"/>
<path d="M1840 248l2 0 3-13-2 1z" fill="#1b2b5f"/>
<path d="M1931 174l2-2 8-31-2-5z" fill="#433211"/>
<path d="M1810 276l2 0 1-12-2 0z" fill="#47166b"/>
<path d="M1922 187l2 8 8-23-3-4z" fill="#455f2c"/>
<path d="M1826 263l2 0 2-12-2 0z" fill="#25195c"/>
<path d="M1782 261l14 10 1-4-14-9z" fill="#8430e2"/>
<path d="M1859 244l2-1 4-22-2 5z" fill="#12223f"/>
<path d="M1671 171l14 5 3-3-15-5z" fill="#98cc5e"/>
<path d="M1624 221l15 5 2-7-15-5z" fill="#25584c"/>
<path d="M1626 215l15 5 1-11-15-4z" fill="#22503f"/>
<path d="M1924 195l2-1 8-24-3 2z" fill="#27381c"/>
<path d="M1795 267l14 10 0-4-13-11z" fill="#912ddc"/>
<path d="M1896 203l1 13 6 5-2-5z" fill="#286173"/>
<path d="M1812 276l1 0 1-12-1 0z" fill="#431568"/>
<path d="M1920 171l2 16 8-19-3 2z" fill="#626e2f"/>
<path d="M1900 235l2 5 8-36-3 9z" fill="#12293b"/>
<path d="M1600 227l16 4 2-2-16-4z" fill="#4ab2b0"/>
<path d="M1841 248l2-1 4-13-2 1z" fill="#1c2e61"/>
<path d="M1919 162l1 11 8-2-4 5z" fill="#90903a"/>
<path d="M1632 180l15 3 2-3-15-3z" fill="#7cb65e"/>
<path d="M1622 225l16 5 1-5-15-5z" fill="#2e6e65"/>
<path d="M1827 263l2-1 3-12-2 1z" fill="#23195c"/>
<path d="M1627 206l15 4 2-12-15-3z" fill="#295139"/>
<path d="M1933 172l3-13 8-12-3-6z" fill="#433010"/>
<path d="M1813 276l1 0 2-12-2 0z" fill="#3f1565"/>
<path d="M1888 212l2-12 6-8-2-8z" fill="#183528"/>
<path d="M1570 254l16 5 2-5-16-5z" fill="#2b5f89"/>
<path d="M1598 234l16 4 2-7-16-5z" fill="#1f4b4d"/>
<path d="M1629 196l15 4 1-11-15-3z" fill="#305232"/>
<path d="M1907 215l2-9 8-41-3 8z" fill="#203621"/>
<path d="M1597 241l15 5 2-9-15-4z" fill="#1e4750"/>
<path d="M1843 247l2-1 3-12-2 0z" fill="#1e3268"/>
<path d="M1948 142l2 9 9-27-3 6z" fill="#682511"/>
<path d="M1630 187l15 3 2-8-15-3z" fill="#39572f"/>
<path d="M1829 262l1 0 3-13-2 1z" fill="#211a5c"/>
<path d="M1950 151l3 6 8-25-2-8z" fill="#652e12"/>
<path d="M1620 229l16 5 2-4-16-5z" fill="#357f7a"/>
<path d="M1861 243l1-3 5-24-2 5z" fill="#12253e"/>
<path d="M1882 253l2-5 7-50-3 12z" fill="#12273d"/>
<path d="M1595 246l16 6 2-7-16-5z" fill="#24596b"/>
<path d="M1894 194l1 9 6 13-2-7z" fill="#2c6963"/>
<path d="M1874 256l2 8 6-13-2 0z" fill="#31288a"/>
<path d="M1650 177l15 3 3-3-15-4z" fill="#8ec65e"/>
<path d="M1814 276l2 0 1-12-2 0z" fill="#3b1564"/>
<path d="M1568 260l16 6 2-7-16-6z" fill="#1e4061"/>
<path d="M1873 246l2 11 6-5-2 0z" fill="#2a3086"/>
<path d="M1952 157l4-8 8-14-3-3z" fill="#49250d"/>
<path d="M1876 264l2 4 6-22-2 5z" fill="#1d164f"/>
<path d="M1844 246l2 0 4-12-2 0z" fill="#223c79"/>
<path d="M1593 250l16 6 2-5-16-6z" fill="#2b6782"/>
<path d="M1566 264l16 6 3-4-17-7z" fill="#2f609d"/>
<path d="M1902 240l2 1 8-47-2 10z" fill="#132c39"/>
<path d="M1830 262l2-1 3-12-2 0z" fill="#201c5c"/>
<path d="M1926 194l3-2 8-35-3 13z" fill="#2e3718"/>
<path d="M1815 276l2 0 1-12-1 0z" fill="#381562"/>
<path d="M1890 199l3-8 5 10-2-10z" fill="#499268"/>
<path d="M1668 174l15 4 2-3-14-4z" fill="#97ca5d"/>
<path d="M1892 191l2 3 5 15-1-8z" fill="#367a5e"/>
<path d="M1872 235l1 12 6 6-2-3z" fill="#273c87"/>
<path d="M1618 230l16 5 2-1-16-5z" fill="#54c9c2"/>
<path d="M1846 245l2 0 4-10-2-1z" fill="#2a4a93"/>
<path d="M1782 263l14 11 1-3-14-10z" fill="#8431e6"/>
<path d="M1971 135l3 1 8-9-3-10z" fill="#7c1c11"/>
<path d="M2007 105l2 15 10-10-3-10z" fill="#70130e"/>
<path d="M1817 276l1-1 2-12-2 1z" fill="#351561"/>
<path d="M1591 254l16 6 2-4-16-6z" fill="#2e6c8d"/>
<path d="M1832 261l1 0 3-13-2 1z" fill="#1f1f5c"/>
<path d="M1989 123l3 5 9-7-3-12z" fill="#78140f"/>
<path d="M1795 270l14 11 0-4-14-11z" fill="#932ddf"/>
<path d="M1862 240l2-4 5-23-2 3z" fill="#12293b"/>
<path d="M1563 265l17 7 3-2-17-7z" fill="#448be8"/>
<path d="M1847 245l2 1 4-9-2-2z" fill="#3055a8"/>
<path d="M1878 268l2 1 6-33-2 10z" fill="#14153c"/>
<path d="M1648 178l15 4 2-2-15-4z" fill="#8ec55e"/>
<path d="M1968 123l3 13 9-19-3-5z" fill="#6f130e"/>
<path d="M1818 275l1 0 2-12-1 0z" fill="#31155f"/>
<path d="M1871 226l1 9 5 15-2-6z" fill="#264786"/>
<path d="M1987 112l3 12 9-14-3-6z" fill="#74130f"/>
<path d="M1849 245l2 1 4-8-2-2z" fill="#3157ae"/>
<path d="M1833 261l2-1 3-12-2 0z" fill="#1e215d"/>
<path d="M1909 206l3-10 8-34-3 3z" fill="#2c3719"/>
<path d="M1850 246l2 2 5-8-2-2z" fill="#3155ae"/>
<path d="M1589 255l16 6 2-1-16-6z" fill="#4db2eb"/>
<path d="M1819 275l2 0 2-12-2 0z" fill="#2f155f"/>
<path d="M1852 248l2 1 4-8-2-1z" fill="#3153ad"/>
<path d="M1884 248l2-10 7-47-2 7z" fill="#132e37"/>
<path d="M1904 241l2-4 9-54-3 11z" fill="#143033"/>
<path d="M1834 260l2 0 3-13-2 1z" fill="#1d235d"/>
<path d="M1929 192l2 3 9-49-3 11z" fill="#383515"/>
<path d="M1666 177l15 4 2-3-15-4z" fill="#96ca5d"/>
<path d="M1864 236l2-6 5-15-2-2z" fill="#132b39"/>
<path d="M1853 249l2 2 5-9-2-1z" fill="#3151ac"/>
<path d="M1869 222l2 4 4 18-1-10z" fill="#275282"/>
<path d="M1943 157l3 2 8-3-3-7z" fill="#a06a23"/>
<path d="M1647 180l15 4 2-2-16-4z" fill="#8dc55f"/>
<path d="M1820 275l2-1 2-12-2 1z" fill="#2d165e"/>
<path d="M1923 212l2 6 9-28-3 3z" fill="#1f493b"/>
<path d="M1683 175l15 5 2-3-14-5z" fill="#9ecf5f"/>
<path d="M1939 147l3 2 8-8-3 3z" fill="#95481a"/>
<path d="M1855 251l2 1 4-11-2 1z" fill="#2b4695"/>
<path d="M1941 148l3 9 8-7-3-9z" fill="#814b19"/>
<path d="M1921 198l3 15 8-20-3-3z" fill="#316043"/>
<path d="M1898 237l2 13 7-15-2 4z" fill="#2a4d91"/>
<path d="M1836 260l1-1 4-13-2 1z" fill="#1b265e"/>
<path d="M1866 230l1-5 6-2-2-8z" fill="#327697"/>
<path d="M1867 223l2-1 5 12-1-12z" fill="#2b6185"/>
<path d="M1879 269l2-1 8-45-3 13z" fill="#121c3f"/>
<path d="M1822 274l1 0 2-12-1 0z" fill="#2b175d"/>
<path d="M1899 250l2 7 8-31-2 9z" fill="#142446"/>
<path d="M1637 225l16 5 2-7-16-5z" fill="#255749"/>
<path d="M1639 219l15 5 2-11-15-4z" fill="#24503d"/>
<path d="M1912 196l2-11 8-14-3-9z" fill="#343717"/>
<path d="M1897 223l1 15 7 3-2-1z" fill="#274f83"/>
<path d="M1856 252l2 2 5-16-2 3z" fill="#1b2e60"/>
<path d="M1794 273l14 11 1-4-14-10z" fill="#942ee1"/>
<path d="M1837 259l2-1 3-12-2 0z" fill="#1b275e"/>
<path d="M1931 195l2-3 9-44-2-2z" fill="#3d3513"/>
<path d="M1823 274l1 0 3-13-2 1z" fill="#29175d"/>
<path d="M1645 182l15 4 2-3-15-3z" fill="#85ba5a"/>
<path d="M1636 230l15 5 2-5-15-6z" fill="#2f6f62"/>
<path d="M1921 180l1 19 8-7-3 2z" fill="#4d723c"/>
<path d="M1640 210l16 4 1-12-15-4z" fill="#2c5136"/>
<path d="M1958 140l3 4 9-22-3 2z" fill="#66170e"/>
<path d="M1614 231l16 4 2-2-16-5z" fill="#4db9ab"/>
<path d="M1914 185l3-12 6 14-2-16z" fill="#8b943e"/>
<path d="M1807 286l2 0 1-12-2 0z" fill="#541878"/>
<path d="M1961 144l3 2 8-12-2-12z" fill="#732011"/>
<path d="M1925 218l3-1 9-40-3 13z" fill="#1b3526"/>
<path d="M1838 258l2 0 4-13-2 0z" fill="#1b295e"/>
<path d="M1886 238l2-13 7-31-2-3z" fill="#15322f"/>
<path d="M1824 274l2-1 2-12-2 0z" fill="#27185d"/>
<path d="M1663 180l15 4 3-3-15-5z" fill="#95c95d"/>
<path d="M1642 199l15 4 2-11-15-4z" fill="#335230"/>
<path d="M1981 138l3-5 10-7-3-4z" fill="#7b1510"/>
<path d="M1858 254l2 0 5-20-2 4z" fill="#122040"/>
<path d="M1896 210l1 13 5 17-1-5z" fill="#275978"/>
<path d="M1977 125l3 2 9-16-3 8z" fill="#5c0f0c"/>
<path d="M1809 286l1 0 1-12-2 0z" fill="#4c1770"/>
<path d="M1948 160l2 9 9-30-3 8z" fill="#573512"/>
<path d="M1643 189l15 4 2-8-15-3z" fill="#3b572c"/>
<path d="M1999 115l2 14 10-10-3-14z" fill="#69120d"/>
<path d="M1634 234l16 5 2-4-16-6z" fill="#368176"/>
<path d="M1979 127l3 11 9-15-3-12z" fill="#68110d"/>
<path d="M1901 257l2 2 9-45-3 12z" fill="#12243f"/>
<path d="M1996 115l3 1 9-11-3 5z" fill="#72130e"/>
<path d="M1612 238l16 5 2-8-16-5z" fill="#1f4b48"/>
<path d="M1611 246l16 5 2-9-16-5z" fill="#1e494c"/>
<path d="M1906 237l3-9 9-55-3 10z" fill="#16342a"/>
<path d="M1950 169l2 7 10-34-3-3z" fill="#543612"/>
<path d="M1681 178l15 5 2-3-15-5z" fill="#9ccd5e"/>
<path d="M1933 192l3-13 9-24-3-7z" fill="#403412"/>
<path d="M1584 259l17 6 2-6-17-5z" fill="#29607e"/>
<path d="M1609 251l16 6 2-6-16-6z" fill="#245863"/>
<path d="M1810 286l1 0 1-12-1 0z" fill="#48166c"/>
<path d="M1825 273l2 0 2-13-1 1z" fill="#26195c"/>
<path d="M1840 258l1-1 4-13-2 1z" fill="#1b2a5e"/>
<path d="M1952 176l3-3 9-29-2-2z" fill="#432d0f"/>
<path d="M1582 266l17 7 2-9-16-6z" fill="#1c4058"/>
<path d="M1607 256l17 6 1-6-16-6z" fill="#2b687b"/>
<path d="M1811 286l1 0 1-12-1 0z" fill="#441669"/>
<path d="M1580 270l17 7 2-5-16-7z" fill="#2d6290"/>
<path d="M1881 268l2-4 8-55-3 14z" fill="#12243f"/>
<path d="M1827 273l1 0 3-13-2 0z" fill="#24195c"/>
<path d="M1860 254l1-1 5-25-1 6z" fill="#12233f"/>
<path d="M1895 201l1 9 5 25-2-8z" fill="#2a646b"/>
<path d="M1841 257l2 0 4-13-2 0z" fill="#1c2d60"/>
<path d="M1632 234l16 6 2-1-16-6z" fill="#56cebe"/>
<path d="M1888 225l2-14 7-8-2-9z" fill="#16342b"/>
<path d="M1812 286l1 0 2-12-2 0z" fill="#401566"/>
<path d="M1874 263l2 10 6-6-1 0z" fill="#352384"/>
<path d="M1661 181l16 5 1-2-15-5z" fill="#95c95d"/>
<path d="M1875 273l2 6 7-17-2 4z" fill="#3a2286"/>
<path d="M1605 260l17 6 2-5-17-6z" fill="#2d6d86"/>
<path d="M1828 272l1 0 3-13-1 1z" fill="#221a5c"/>
<path d="M1794 274l14 14 1-4-15-12z" fill="#912fe4"/>
<path d="M1813 286l1 0 2-12-2 0z" fill="#3d1564"/>
<path d="M1873 253l1 12 6 3-2 0z" fill="#2c2a82"/>
<path d="M1843 257l1-1 4-13-1 0z" fill="#1e3268"/>
<path d="M1927 217l3 0 10-57-3 17z" fill="#26371c"/>
<path d="M1578 271l17 8 3-2-17-8z" fill="#4595e1"/>
<path d="M1903 259l2 0 9-59-2 14z" fill="#13293b"/>
<path d="M1893 200l2 1 4 26-1-11z" fill="#317364"/>
<path d="M1890 211l3-11 5 16-1-13z" fill="#3f9273"/>
<path d="M1829 272l2 0 3-13-2 0z" fill="#201b5c"/>
<path d="M1679 181l15 5 2-4-15-5z" fill="#9bcc5d"/>
<path d="M1814 286l1 0 2-12-1 0z" fill="#3a1563"/>
<path d="M1877 279l2 2 7-27-2 8z" fill="#17103a"/>
<path d="M1971 144l2 9 10-17-3-11z" fill="#681d0f"/>
<path d="M1696 179l15 6 2-3-15-6z" fill="#a2d260"/>
<path d="M1844 256l2-1 4-11-2-1z" fill="#223c79"/>
<path d="M1861 253l2-4 5-26-2 5z" fill="#12263d"/>
<path d="M1872 243l1 10 5 15-1-4z" fill="#273885"/>
<path d="M1603 260l17 7 2-1-17-7z" fill="#4ebae7"/>
<path d="M1909 228l2-12 9-45-2 2z" fill="#23361f"/>
<path d="M1922 218l2 16 9-19-3 1z" fill="#25585f"/>
<path d="M1660 183l15 5 2-3-15-4z" fill="#94c95d"/>
<path d="M1815 286l2 0 1-13-1 1z" fill="#371562"/>
<path d="M1830 272l2-1 3-13-2 1z" fill="#1f1d5c"/>
<path d="M1924 234l2 6 9-35-3 10z" fill="#132f35"/>
<path d="M1845 255l2 0 4-10-1-1z" fill="#294992"/>
<path d="M1969 131l3 13 9-19-3-1z" fill="#74140f"/>
<path d="M1945 169l2 8 9-5-3 4z" fill="#b09234"/>
<path d="M1816 286l2-1 2-12-2 0z" fill="#341560"/>
<path d="M1990 126l3 11 9-9-2-14z" fill="#6a120d"/>
<path d="M1847 255l1 0 5-9-2-2z" fill="#2f54a6"/>
<path d="M1832 271l1 0 3-13-1 0z" fill="#1e1f5d"/>
<path d="M1883 264l2-8 8-56-2 9z" fill="#132a3a"/>
<path d="M1871 235l1 8 5 21-2-7z" fill="#264486"/>
<path d="M1944 160l1 10 8 6-1-8z" fill="#8a6723"/>
<path d="M1651 230l16 5 2-7-16-6z" fill="#255746"/>
<path d="M1653 224l15 5 2-11-16-5z" fill="#26503b"/>
<path d="M1922 199l1 20 8-2-3 0z" fill="#2a6455"/>
<path d="M1848 255l2 1 5-8-2-2z" fill="#3157ae"/>
<path d="M1863 249l2-4 5-23-2 1z" fill="#13293b"/>
<path d="M1898 252l2 14 8-13-2 5z" fill="#2a3f91"/>
<path d="M1818 285l1 0 2-12-2 0z" fill="#31155f"/>
<path d="M1930 217l2 0 11-63-3 6z" fill="#303617"/>
<path d="M1988 121l3 6 9-12-3-2z" fill="#901812"/>
<path d="M1879 281l1 0 8-40-2 13z" fill="#13153c"/>
<path d="M1947 177l2 8 10-24-3 11z" fill="#61501c"/>
<path d="M1658 186l16 4 1-3-15-4z" fill="#8cbf58"/>
<path d="M1849 255l2 2 5-8-2-2z" fill="#3256ae"/>
<path d="M1833 271l1-1 4-13-2 1z" fill="#1d215d"/>
<path d="M1650 235l16 5 1-5-16-6z" fill="#2f6f5f"/>
<path d="M1654 214l16 5 1-13-15-4z" fill="#2e5135"/>
<path d="M1900 266l1 7 9-31-2 10z" fill="#121b3f"/>
<path d="M1851 256l1 2 6-7-2-2z" fill="#3153ad"/>
<path d="M1942 154l1 7 8 8-1-10z" fill="#915c1f"/>
<path d="M1676 183l16 5 2-3-15-5z" fill="#9bcc5d"/>
<path d="M1898 238l0 16 8 5-3 0z" fill="#264286"/>
<path d="M1819 285l1 0 2-13-1 1z" fill="#2f155f"/>
<path d="M1870 231l1 4 4 22-1-9z" fill="#274f84"/>
<path d="M1905 259l2-5 10-68-3 14z" fill="#132f35"/>
<path d="M1911 216l3-14 8-22-2-9z" fill="#2b3719"/>
<path d="M1694 182l15 6 2-4-15-5z" fill="#a0d05f"/>
<path d="M1852 258l2 2 5-8-2-2z" fill="#3151ad"/>
<path d="M1628 235l17 5 1-2-16-5z" fill="#50bea7"/>
<path d="M1949 185l2 11 10-40-2 5z" fill="#463a14"/>
<path d="M1794 272l14 20 0-4-14-15z" fill="#7c30df"/>
<path d="M1655 203l16 5 1-12-15-4z" fill="#35522e"/>
<path d="M1834 270l2 0 3-14-1 1z" fill="#1c245d"/>
<path d="M1926 240l2 1 10-54-3 18z" fill="#15322f"/>
<path d="M1657 193l15 4 2-8-16-4z" fill="#3d572b"/>
<path d="M1864 245l2-6 6-12-2-5z" fill="#193a4c"/>
<path d="M1921 183l1 16 6 18-2 1z" fill="#42764c"/>
<path d="M1958 163l3-5 9-28-3 4z" fill="#43160a"/>
<path d="M1853 259l2 2 6-9-2 0z" fill="#314fab"/>
<path d="M1648 239l16 6 2-5-16-6z" fill="#378273"/>
<path d="M1820 285l1 0 2-13-1 0z" fill="#2d165e"/>
<path d="M1951 196l2 4 11-45-3 1z" fill="#3e3513"/>
<path d="M1868 233l2-2 4 17-1-13z" fill="#2a5c84"/>
<path d="M1932 217l3-10 10-47-2-6z" fill="#353616"/>
<path d="M1866 239l1-6 6 4-1-11z" fill="#317196"/>
<path d="M1625 251l16 6 2-10-16-6z" fill="#1f4a4a"/>
<path d="M1627 242l16 6 2-8-17-6z" fill="#204c46"/>
<path d="M1914 202l3-16 6 13-1-19z" fill="#789341"/>
<path d="M1855 261l2 1 5-11-2 1z" fill="#28408a"/>
<path d="M1835 270l2-1 4-13-2 0z" fill="#1b265e"/>
<path d="M1897 223l1 15 5 21-1-2z" fill="#264e81"/>
<path d="M1623 256l17 7 2-7-17-6z" fill="#24575d"/>
<path d="M1821 285l1-1 3-12-2 0z" fill="#2c165d"/>
<path d="M1961 158l2-1 10-15-3-12z" fill="#6a2210"/>
<path d="M1599 264l17 7 2-6-17-6z" fill="#286176"/>
<path d="M1885 256l2-13 8-42-2-1z" fill="#143034"/>
<path d="M1901 273l2 3 9-49-2 15z" fill="#121f40"/>
<path d="M1981 149l3 4 10-18-3-10z" fill="#63170e"/>
<path d="M1963 157l3-9 9 5-3-11z" fill="#b03f1c"/>
<path d="M1597 272l17 7 2-9-17-6z" fill="#1c4256"/>
<path d="M1622 261l16 7 2-6-16-6z" fill="#2b6775"/>
<path d="M1822 284l1 0 3-13-2 1z" fill="#2a175d"/>
<path d="M1837 269l1 0 4-14-2 1z" fill="#1b275e"/>
<path d="M1856 262l2 1 5-16-1 4z" fill="#192956"/>
<path d="M1675 185l15 5 2-2-16-5z" fill="#9acc5d"/>
<path d="M1880 281l2-1 8-53-2 14z" fill="#121e3f"/>
<path d="M1646 239l17 6 1-1-16-6z" fill="#58d1bb"/>
<path d="M1595 276l18 8 2-6-17-7z" fill="#2b6287"/>
<path d="M1979 142l3 7 10-24-3-5z" fill="#5e100c"/>
<path d="M1953 200l3-5 11-47-3 7z" fill="#423412"/>
<path d="M1807 296l1 0 1-12-1 0z" fill="#541879"/>
<path d="M1709 184l15 7 2-3-15-7z" fill="#a6d762"/>
<path d="M1823 284l2 0 2-13-1 0z" fill="#28185d"/>
<path d="M1838 268l1 0 4-13-1 0z" fill="#1b295e"/>
<path d="M1620 266l17 7 2-6-17-6z" fill="#2d6d80"/>
<path d="M1692 185l15 5 2-3-15-5z" fill="#a0cf5e"/>
<path d="M1896 212l1 11 5 34-2-7z" fill="#275a77"/>
<path d="M1935 207l3-18 9-20-2-9z" fill="#3b3514"/>
<path d="M1808 296l1 1 1-13-1 0z" fill="#4d1771"/>
<path d="M1858 263l2 1 5-21-2 4z" fill="#122140"/>
<path d="M1824 284l2-1 2-13-1 1z" fill="#26185c"/>
<path d="M1907 254l2-10 11-65-3 7z" fill="#16342b"/>
<path d="M1593 278l18 8 2-3-17-7z" fill="#469ddc"/>
<path d="M1809 297l1 0 1-13-1 0z" fill="#49166d"/>
<path d="M1839 268l2-1 4-13-2 1z" fill="#1b2a5d"/>
<path d="M1887 243l3-14 7-19-2-9z" fill="#15322e"/>
<path d="M1928 241l2 0 12-72-4 18z" fill="#1c3525"/>
<path d="M1972 163l3 10 10-22-3-4z" fill="#6c3a14"/>
<path d="M1673 187l16 5 1-2-15-5z" fill="#9acc5d"/>
<path d="M1825 283l2 0 3-13-2 0z" fill="#25195c"/>
<path d="M1810 297l1 0 1-13-1 0z" fill="#45166a"/>
<path d="M1923 247l2 12 10-33-2 11z" fill="#19354f"/>
<path d="M1793 270l15 26 0-4-14-20z" fill="#6335da"/>
<path d="M1923 228l1 20 9-10-2 3z" fill="#245270"/>
<path d="M1894 208l2 4 4 38-1-11z" fill="#2b676e"/>
<path d="M1618 266l17 7 2-1-17-7z" fill="#4fc0e3"/>
<path d="M1841 267l1 0 4-14-1 1z" fill="#1b2c5f"/>
<path d="M1903 276l2 0 10-66-3 17z" fill="#12253e"/>
<path d="M1811 297l1-1 1-12-1 0z" fill="#421567"/>
<path d="M1859 264l2-1 6-26-2 5z" fill="#12233f"/>
<path d="M1947 181l1 15 9-2-3 6z" fill="#77873a"/>
<path d="M1827 283l1 0 3-13-1 0z" fill="#23195c"/>
<path d="M1875 273l1 10 7-4-2 2z" fill="#392387"/>
<path d="M1890 229l2-15 6 11-1-15z" fill="#388573"/>
<path d="M1875 282l2 6 7-14-1 5z" fill="#3a2185"/>
<path d="M1667 228l16 6 1-11-16-6z" fill="#28503a"/>
<path d="M1665 235l16 6 2-8-16-6z" fill="#255745"/>
<path d="M1948 195l2 14 10-26-3 11z" fill="#5b6c30"/>
<path d="M1882 280l2-5 8-61-2 13z" fill="#12253e"/>
<path d="M1812 296l1 0 2-12-2 0z" fill="#3f1566"/>
<path d="M1971 145l2 19 10-16-3-8z" fill="#6c2110"/>
<path d="M1874 264l0 10 7 7-2 0z" fill="#2e2581"/>
<path d="M1842 267l1-1 5-13-2 0z" fill="#1d3065"/>
<path d="M1946 169l1 12 7 19-2-4z" fill="#76712c"/>
<path d="M1828 283l1-1 3-13-1 1z" fill="#211a5c"/>
<path d="M1707 187l16 6 1-3-15-6z" fill="#a4d460"/>
<path d="M1956 195l3-10 11-45-3 8z" fill="#432b0e"/>
<path d="M1672 189l15 5 2-2-16-5z" fill="#91c159"/>
<path d="M1690 188l15 5 2-3-15-6z" fill="#9fcf5e"/>
<path d="M1668 219l16 5 1-13-16-5z" fill="#2f5233"/>
<path d="M1813 296l1 0 2-12-2 0z" fill="#3c1564"/>
<path d="M1664 240l16 6 2-6-17-6z" fill="#2f705d"/>
<path d="M1949 208l2 12 11-46-3 8z" fill="#2d3718"/>
<path d="M1923 208l-1 21 8 12-2 0z" fill="#275f67"/>
<path d="M1873 254l1 10 5 17-1-2z" fill="#283385"/>
<path d="M1843 266l2 0 4-13-1 0z" fill="#203771"/>
<path d="M1925 259l2 4 11-57-3 20z" fill="#132b39"/>
<path d="M1877 288l2 3 7-26-2 8z" fill="#170f3a"/>
<path d="M1829 282l1 0 4-13-2 0z" fill="#201b5c"/>
<path d="M1909 244l3-15 9-46-2-4z" fill="#1f3622"/>
<path d="M1861 263l2-3 6-28-2 5z" fill="#12263d"/>
<path d="M1814 296l1 0 2-12-1 0z" fill="#391563"/>
<path d="M1930 241l2-2 12-77-2 7z" fill="#26371c"/>
<path d="M1669 207l16 5 1-11-15-5z" fill="#37532d"/>
<path d="M1670 197l16 5 2-8-16-5z" fill="#3f5729"/>
<path d="M1844 265l2 0 5-11-2-1z" fill="#264284"/>
<path d="M1643 240l16 6 2-2-17-6z" fill="#52c2a5"/>
<path d="M1944 162l2 7 6 27-2-11z" fill="#906f25"/>
<path d="M1662 244l17 6 1-4-16-7z" fill="#378371"/>
<path d="M1951 220l2 5 12-59-3 8z" fill="#2e3618"/>
<path d="M1815 296l1 0 2-13-1 1z" fill="#371561"/>
<path d="M1830 282l1-1 4-13-2 1z" fill="#1f1d5c"/>
<path d="M1872 247l1 7 5 25-2-6z" fill="#273e86"/>
<path d="M1899 271l2 11 8-19-1 9z" fill="#303798"/>
<path d="M1846 265l1 0 5-10-2-1z" fill="#2c4e9b"/>
<path d="M1899 256l0 16 9 1-3 3z" fill="#273786"/>
<path d="M1922 192l1 16 5 33-2-1z" fill="#2f6f5d"/>
<path d="M1816 296l1 0 2-13-1 0z" fill="#341560"/>
<path d="M1722 190l16 8 1-3-15-8z" fill="#a7de66"/>
<path d="M1640 256l16 7 2-10-17-6z" fill="#1f4b48"/>
<path d="M1831 281l2 0 3-13-1 0z" fill="#1e1f5d"/>
<path d="M1641 248l17 6 1-9-16-6z" fill="#204d44"/>
<path d="M1905 276l2-3 11-78-3 15z" fill="#132c38"/>
<path d="M1847 265l1 0 6-9-2-1z" fill="#3055a9"/>
<path d="M1638 262l17 7 2-7-17-7z" fill="#24565a"/>
<path d="M1862 260l2-4 6-25-2 1z" fill="#13293b"/>
<path d="M1688 189l16 6 2-2-16-6z" fill="#9fcf5e"/>
<path d="M1912 229l2-17 9-13-2-16z" fill="#24371d"/>
<path d="M1959 184l3-8 10-31-2-5z" fill="#43220c"/>
<path d="M1879 291l1 1 8-40-2 13z" fill="#14143c"/>
<path d="M1817 296l1 0 2-13-1 0z" fill="#31155f"/>
<path d="M1870 242l2 5 4 26-1-8z" fill="#274986"/>
<path d="M1884 275l2-8 8-59-2 6z" fill="#132b39"/>
<path d="M1848 265l2 1 5-8-2-2z" fill="#3257ae"/>
<path d="M1705 190l16 6 2-3-16-7z" fill="#a3d460"/>
<path d="M1614 270l17 7 2-6-17-7z" fill="#286070"/>
<path d="M1932 239l3-11 11-59-2-7z" fill="#2c3718"/>
<path d="M1832 281l2-1 3-13-1 1z" fill="#1e215d"/>
<path d="M1898 241l1 15 6 20-2 0z" fill="#264085"/>
<path d="M1793 267l14 33 1-4-15-26z" fill="#4e3ed9"/>
<path d="M1661 244l16 7 2-1-17-6z" fill="#59d4b8"/>
<path d="M1849 265l2 2 5-8-1-1z" fill="#3256af"/>
<path d="M1901 282l1 6 10-39-3 14z" fill="#12193e"/>
<path d="M1637 267l17 7 1-6-17-6z" fill="#2b6770"/>
<path d="M1613 278l17 8 2-10-18-6z" fill="#1c4454"/>
<path d="M1818 296l1-1 2-12-1 0z" fill="#30155f"/>
<path d="M1962 176l2-8 10-5-2-18z" fill="#713b15"/>
<path d="M1914 212l4-17 5 24 0-20z" fill="#65954e"/>
<path d="M1850 266l2 2 6-7-2-2z" fill="#3153ad"/>
<path d="M1953 225l2-3 13-67-3 11z" fill="#353616"/>
<path d="M1864 256l2-5 6-16-2-4z" fill="#163345"/>
<path d="M1611 283l17 8 2-6-17-7z" fill="#2a6280"/>
<path d="M1852 267l1 2 6-7-2-2z" fill="#3152ad"/>
<path d="M1869 241l1 1 5 23-1-10z" fill="#285485"/>
<path d="M1834 280l1 0 4-14-2 1z" fill="#1d235d"/>
<path d="M1819 295l1 0 3-13-2 1z" fill="#2e165e"/>
<path d="M1927 263l2 1 13-79-4 21z" fill="#143131"/>
<path d="M1635 272l17 7 2-5-17-7z" fill="#2d6d7b"/>
<path d="M1853 269l2 1 6-8-2 0z" fill="#3150ac"/>
<path d="M1865 251l2-5 7-2-2-9z" fill="#317098"/>
<path d="M1867 245l2-4 5 14-1-12z" fill="#2b618a"/>
<path d="M1687 191l16 6 1-2-16-6z" fill="#9fcf5e"/>
<path d="M1897 228l1 13 5 35-1-3z" fill="#264d83"/>
<path d="M1835 280l1-1 4-13-1 0z" fill="#1c255d"/>
<path d="M1820 295l1 0 3-13-2 0z" fill="#2c165e"/>
<path d="M1854 270l2 2 6-11-2 1z" fill="#2a4492"/>
<path d="M1935 228l3-19 10-28-2-12z" fill="#323617"/>
<path d="M1609 285l18 8 1-3-17-7z" fill="#47a3d9"/>
<path d="M1821 295l1 0 3-13-1 0z" fill="#2b175d"/>
<path d="M1886 267l2-13 8-42-2-4z" fill="#142f34"/>
<path d="M1880 292l2-1 8-53-2 14z" fill="#121c3f"/>
<path d="M1721 193l15 8 2-4-15-8z" fill="#a6da64"/>
<path d="M1836 279l1 0 4-14-1 1z" fill="#1b275e"/>
<path d="M1856 272l1 1 6-15-1 3z" fill="#1c2f63"/>
<path d="M1907 273l2-8 11-78-2 8z" fill="#153130"/>
<path d="M1902 288l2 1 10-58-2 18z" fill="#122040"/>
<path d="M1633 272l17 7 2 0-17-7z" fill="#51c3de"/>
<path d="M1681 234l16 6 1-11-16-7z" fill="#295139"/>
<path d="M1822 295l1-1 3-13-1 1z" fill="#29175d"/>
<path d="M1703 193l16 6 2-3-15-7z" fill="#a3d360"/>
<path d="M1680 240l16 7 1-8-16-6z" fill="#265744"/>
<path d="M1924 244l0 20 10-9-3 8z" fill="#264d82"/>
<path d="M1837 279l1-1 5-13-2 0z" fill="#1b285e"/>
<path d="M1948 186l0 18 8 18-3 3z" fill="#50763e"/>
<path d="M1806 307l1 0 1-13-1 0z" fill="#551879"/>
<path d="M1686 194l16 5 1-2-16-6z" fill="#96c45a"/>
<path d="M1924 263l2 13 11-37-3 15z" fill="#132642"/>
<path d="M1857 273l2 1 6-20-2 4z" fill="#132142"/>
<path d="M1682 224l16 6 1-13-15-6z" fill="#305233"/>
<path d="M1823 294l1 0 3-13-1 0z" fill="#28185d"/>
<path d="M1678 245l17 7 1-6-16-6z" fill="#2f705c"/>
<path d="M1807 307l1 0 1-13-1 0z" fill="#4e1772"/>
<path d="M1838 278l2 0 4-14-2 1z" fill="#1b295d"/>
<path d="M1736 197l15 11 2-3-15-11z" fill="#a4e46c"/>
<path d="M1888 254l2-14 8-17-2-11z" fill="#153130"/>
<path d="M1808 307l1 0 1-13-1 0z" fill="#4a166e"/>
<path d="M1793 267l14 36 0-4-14-32z" fill="#4451db"/>
<path d="M1824 294l1 0 3-13-1 0z" fill="#26185c"/>
<path d="M1683 212l16 6 2-12-16-6z" fill="#38532c"/>
<path d="M1923 223l0 21 8 19-2 1z" fill="#255474"/>
<path d="M1684 201l16 6 2-8-16-6z" fill="#415829"/>
<path d="M1929 264l2-1 14-91-3 13z" fill="#193527"/>
<path d="M1946 172l2 14 5 39-2-5z" fill="#667332"/>
<path d="M1809 307l1 0 1-13-1 0z" fill="#47166b"/>
<path d="M1839 278l2-1 4-13-1 0z" fill="#1b2b5e"/>
<path d="M1859 274l1 0 6-25-1 5z" fill="#12223f"/>
<path d="M1677 250l17 7 1-5-17-7z" fill="#388470"/>
<path d="M1890 240l2-14 7 13-2-16z" fill="#3a8a84"/>
<path d="M1825 294l1-1 4-13-2 0z" fill="#25195c"/>
<path d="M1657 245l17 7 2-3-17-6z" fill="#53c6a3"/>
<path d="M1810 307l1 0 1-13-1 0z" fill="#441569"/>
<path d="M1882 291l1-2 10-63-3 12z" fill="#12233f"/>
<path d="M1909 265l2-14 11-59-2-5z" fill="#173529"/>
<path d="M1719 195l16 9 2-4-16-8z" fill="#a6da64"/>
<path d="M1702 194l16 7 1-2-15-7z" fill="#a3d360"/>
<path d="M1841 277l1 0 5-14-2 1z" fill="#1c2d61"/>
<path d="M1926 276l1 6 13-65-4 22z" fill="#12283c"/>
<path d="M1826 293l1 0 4-13-2 0z" fill="#23195c"/>
<path d="M1811 307l1 0 1-13-1 0z" fill="#411567"/>
<path d="M1875 285l1 9 8-7-1 4z" fill="#3d2693"/>
<path d="M1904 289l1 1 12-77-3 18z" fill="#12263d"/>
<path d="M1655 262l17 7 1-10-17-7z" fill="#204c47"/>
<path d="M1656 253l17 7 1-9-16-7z" fill="#214e43"/>
<path d="M1874 277l1 9 7 5-1 1z" fill="#302582"/>
<path d="M1653 268l17 8 2-8-17-7z" fill="#245657"/>
<path d="M1842 277l1-1 5-13-2 0z" fill="#1d3167"/>
<path d="M1812 307l1 0 1-13-1 0z" fill="#3e1565"/>
<path d="M1923 206l0 17 6 41-2-1z" fill="#29636d"/>
<path d="M1860 274l1-1 7-29-2 5z" fill="#12253e"/>
<path d="M1827 293l1 0 4-14-1 1z" fill="#221a5c"/>
<path d="M1876 294l1 5 8-18-1 6z" fill="#26185c"/>
<path d="M1675 250l17 7 2-1-17-7z" fill="#5ad5b7"/>
<path d="M1873 268l1 9 7 15-2-1z" fill="#2b2e84"/>
<path d="M1812 307l2 0 1-13-1 0z" fill="#3c1564"/>
<path d="M1931 263l2-7 14-84-2 0z" fill="#213620"/>
<path d="M1843 276l1 0 5-13-1 0z" fill="#213872"/>
<path d="M1828 293l1-1 4-13-1 0z" fill="#201b5c"/>
<path d="M1652 274l17 7 2-6-18-7z" fill="#2b676d"/>
<path d="M1911 251l3-18 9-25-1-16z" fill="#1c3524"/>
<path d="M1629 277l18 7 2-6-18-8z" fill="#28606b"/>
<path d="M1735 200l15 11 2-4-16-11z" fill="#a3e16a"/>
<path d="M1813 307l1 0 2-13-1 0z" fill="#391563"/>
<path d="M1628 285l18 8 1-10-17-7z" fill="#1d4653"/>
<path d="M1701 196l16 7 1-2-16-7z" fill="#a3d360"/>
<path d="M1872 260l1 8 6 23-1-3z" fill="#283988"/>
<path d="M1844 276l1-1 6-11-2-1z" fill="#254183"/>
<path d="M1829 292l1 0 4-14-1 1z" fill="#201d5c"/>
<path d="M1750 206l15 16 1-3-15-15z" fill="#93e17b"/>
<path d="M1877 299l2 2 8-30-2 10z" fill="#16103a"/>
<path d="M1861 273l2-3 6-29-1 3z" fill="#12273c"/>
<path d="M1626 290l18 8 2-6-18-8z" fill="#29627b"/>
<path d="M1814 307l1 0 2-13-1 0z" fill="#371561"/>
<path d="M1914 233l3-20 7 17-1-22z" fill="#4e8f5f"/>
<path d="M1792 270l15 37 0-4-14-36z" fill="#4059dc"/>
<path d="M1650 278l18 8 1-6-17-7z" fill="#2d6d78"/>
<path d="M1883 289l2-6 10-65-2 8z" fill="#13293b"/>
<path d="M1845 275l2 0 5-10-2-1z" fill="#2b4c97"/>
<path d="M1899 275l1 13 10-10-2 9z" fill="#333da5"/>
<path d="M1830 292l1 0 4-14-1 0z" fill="#1f1e5c"/>
<path d="M1871 254l1 6 6 28-2-5z" fill="#274389"/>
<path d="M1815 307l1-1 2-12-1 0z" fill="#351561"/>
<path d="M1933 256l3-15 12-55-1-14z" fill="#25371c"/>
<path d="M1899 262l0 13 9 12-2 3z" fill="#273887"/>
<path d="M1717 198l16 9 2-4-16-8z" fill="#a5d963"/>
<path d="M1846 275l2 0 5-9-1-1z" fill="#2f53a6"/>
<path d="M1816 306l1 0 2-13-1 0z" fill="#321560"/>
<path d="M1831 292l1-1 5-14-2 1z" fill="#1e205d"/>
<path d="M1847 275l2 0 6-8-2-1z" fill="#3156ad"/>
<path d="M1863 270l1-4 7-24-2-1z" fill="#13293b"/>
<path d="M1695 239l17 7 1-11-16-7z" fill="#295139"/>
<path d="M1625 292l18 8 1-2-17-8z" fill="#47a7d6"/>
<path d="M1905 290l2-3 13-87-3 13z" fill="#132d38"/>
<path d="M1694 246l17 7 1-8-16-7z" fill="#275844"/>
<path d="M1870 251l1 3 5 29-1-8z" fill="#274c88"/>
<path d="M1700 199l16 6 1-2-16-7z" fill="#9ac95b"/>
<path d="M1848 275l2 1 6-7-2-2z" fill="#3256af"/>
<path d="M1817 306l1 0 3-13-2 0z" fill="#30155f"/>
<path d="M1898 248l1 14 7 28-2-1z" fill="#264286"/>
<path d="M1649 278l17 8 2 0-18-8z" fill="#52c5db"/>
<path d="M1832 291l2 0 4-14-2 0z" fill="#1d225d"/>
<path d="M1850 276l1 1 6-7-1-1z" fill="#3255ae"/>
<path d="M1879 301l1 1 9-43-2 12z" fill="#13173d"/>
<path d="M1696 229l17 7 1-13-16-7z" fill="#305232"/>
<path d="M1764 220l15 23 1-3-15-22z" fill="#69d195"/>
<path d="M1936 241l3-22 10-15-1-18z" fill="#293719"/>
<path d="M1778 241l15 31 1-3-15-31z" fill="#48adc4"/>
<path d="M1851 277l1 1 7-7-2-1z" fill="#3153ad"/>
<path d="M1864 266l2-5 6-14-1-5z" fill="#1c3f56"/>
<path d="M1693 251l17 8 1-6-17-8z" fill="#30725d"/>
<path d="M1869 252l1-1 5 24 0-9z" fill="#295588"/>
<path d="M1818 306l1 0 3-13-2 0z" fill="#2f155e"/>
<path d="M1852 278l1 1 7-7-2-1z" fill="#3252ae"/>
<path d="M1733 203l16 10 1-3-15-11z" fill="#a4e16a"/>
<path d="M1833 291l2-1 4-14-1 1z" fill="#1c235d"/>
<path d="M1866 255l3-3 5 14 0-11z" fill="#2c608d"/>
<path d="M1865 261l2-5 7 0-2-9z" fill="#306d97"/>
<path d="M1885 283l2-10 9-54-1-1z" fill="#132d37"/>
<path d="M1697 217l17 7 1-12-16-7z" fill="#38532b"/>
<path d="M1698 206l17 7 1-8-16-7z" fill="#425a29"/>
<path d="M1819 306l1 0 3-13-2 0z" fill="#2d165e"/>
<path d="M1853 279l1 2 7-9-2 0z" fill="#314fa9"/>
<path d="M1749 209l15 16 1-3-15-16z" fill="#94e179"/>
<path d="M1716 200l16 8 2-2-16-8z" fill="#a5d963"/>
<path d="M1834 290l2 0 4-14-1 0z" fill="#1c255e"/>
<path d="M1820 306l1-1 3-13-2 1z" fill="#2c165e"/>
<path d="M1854 280l2 2 6-11-1 1z" fill="#274189"/>
<path d="M1692 256l17 7 1-5-17-7z" fill="#388571"/>
<path d="M1792 273l15 38 0-4-15-37z" fill="#405adc"/>
<path d="M1672 251l18 7 1-2-17-7z" fill="#55c8a3"/>
<path d="M1821 305l1 0 3-13-2 0z" fill="#2b175d"/>
<path d="M1835 290l2-1 4-14-1 1z" fill="#1b275e"/>
<path d="M1856 282l1 1 6-15-1 3z" fill="#1b2e60"/>
<path d="M1907 287l2-7 13-84-2 4z" fill="#143131"/>
<path d="M1887 273l2-12 8-33-1-9z" fill="#142f34"/>
<path d="M1880 302l1 0 10-56-2 13z" fill="#121e3f"/>
<path d="M1821 305l2 0 3-13-1 0z" fill="#29175d"/>
<path d="M1837 289l1 0 5-14-2 0z" fill="#1b285e"/>
<path d="M1806 318l1 0 1-13-2 0z" fill="#55187a"/>
<path d="M1670 269l17 7 2-11-18-7z" fill="#204c46"/>
<path d="M1671 259l17 7 2-9-17-7z" fill="#214e42"/>
<path d="M1857 283l1 1 7-20-2 4z" fill="#132244"/>
<path d="M1822 305l1 0 4-14-1 1z" fill="#28185d"/>
<path d="M1669 275l17 8 1-8-17-7z" fill="#245655"/>
<path d="M1806 318l1 0 1-13-1 0z" fill="#4f1773"/>
<path d="M1690 256l18 8 1-1-17-8z" fill="#5bd7b7"/>
<path d="M1889 261l1-13 9-6-2-14z" fill="#1f4a4e"/>
<path d="M1715 202l17 8 1-2-17-8z" fill="#a5d963"/>
<path d="M1838 289l1 0 5-15-2 1z" fill="#1b295d"/>
<path d="M1763 223l15 23 1-3-15-23z" fill="#6bd293"/>
<path d="M1777 244l16 31 0-3-15-31z" fill="#48aec2"/>
<path d="M1890 247l3-12 6 23 0-17z" fill="#347c85"/>
<path d="M1807 318l1 0 1-13-1 0z" fill="#4b166f"/>
<path d="M1823 305l1-1 4-13-1 0z" fill="#27185c"/>
<path d="M1732 205l16 11 1-3-16-11z" fill="#a4e169"/>
<path d="M1667 280l18 8 1-6-17-8z" fill="#2b676b"/>
<path d="M1909 280l2-13 12-61-1-10z" fill="#16332c"/>
<path d="M1839 289l1-1 5-14-1 0z" fill="#1b2a5e"/>
<path d="M1808 318l1 0 1-13-1 0z" fill="#48166c"/>
<path d="M1858 284l1 0 7-25-1 5z" fill="#12223f"/>
<path d="M1824 304l1 0 4-13-1 0z" fill="#25195c"/>
<path d="M1645 283l18 8 2-6-18-8z" fill="#285f67"/>
<path d="M1903 299l2 1 12-71-3 18z" fill="#12243f"/>
<path d="M1747 212l16 16 1-3-15-16z" fill="#95e179"/>
<path d="M1809 318l1 0 1-13-1 0z" fill="#46166a"/>
<path d="M1644 292l18 8 1-10-17-7z" fill="#1d4652"/>
<path d="M1840 288l1 0 5-15-1 1z" fill="#1c2c60"/>
<path d="M1825 304l1 0 4-14-1 1z" fill="#24195c"/>
<path d="M1881 302l2-1 10-66-2 11z" fill="#12233f"/>
<path d="M1666 285l18 8 1-6-18-7z" fill="#2d6d76"/>
<path d="M1810 318l0 0 2-13-1 0z" fill="#431568"/>
<path d="M1642 297l18 9 2-6-18-8z" fill="#296278"/>
<path d="M1791 277l15 38 1-4-15-38z" fill="#405adc"/>
<path d="M1911 267l3-18 10-26-1-17z" fill="#16342b"/>
<path d="M1714 205l17 8 1-3-17-8z" fill="#9ecf5f"/>
<path d="M1810 318l1 0 2-13-1 0z" fill="#411567"/>
<path d="M1710 246l17 8 1-12-17-8z" fill="#295139"/>
<path d="M1841 288l1-1 5-14-1 0z" fill="#1d2f64"/>
<path d="M1826 304l1 0 4-14-1 0z" fill="#231a5c"/>
<path d="M1859 284l2 0 7-29-2 4z" fill="#12243f"/>
<path d="M1709 253l17 8 1-8-17-8z" fill="#285a46"/>
<path d="M1914 249l2-20 9 17-1-23z" fill="#3a8a71"/>
<path d="M1811 318l1 0 2-13-1 0z" fill="#3e1565"/>
<path d="M1875 289l0 9 9 2-2 2z" fill="#332689"/>
<path d="M1711 235l17 8 1-13-17-8z" fill="#305233"/>
<path d="M1875 297l1 8 9-10-1 5z" fill="#3f2b9f"/>
<path d="M1827 304l1-1 4-13-1 0z" fill="#211a5c"/>
<path d="M1842 287l1 0 6-14-2 0z" fill="#1f346c"/>
<path d="M1812 318l1 0 2-13-1 0z" fill="#3c1564"/>
<path d="M1874 281l0 8 8 13-1 0z" fill="#2c2c85"/>
<path d="M1731 207l16 11 1-2-16-11z" fill="#a4e168"/>
<path d="M1708 258l17 8 1-6-17-8z" fill="#31745f"/>
<path d="M1641 299l18 9 2-3-18-8z" fill="#47aad5"/>
<path d="M1713 212l16 8 2-8-17-8z" fill="#455e2c"/>
<path d="M1712 223l17 8 1-12-17-8z" fill="#37532c"/>
<path d="M1828 303l1 0 4-14-1 1z" fill="#201b5c"/>
<path d="M1843 287l1-1 6-13-2 0z" fill="#223b78"/>
<path d="M1876 304l2 5 9-22-2 7z" fill="#1b1346"/>
<path d="M1664 285l18 8 2 0-18-8z" fill="#52c6d9"/>
<path d="M1813 318l1 0 2-13-1 0z" fill="#3a1563"/>
<path d="M1861 284l1-2 7-30-1 3z" fill="#12263d"/>
<path d="M1873 273l1 8 7 21-2-1z" fill="#293689"/>
<path d="M1762 226l16 23 1-3-16-23z" fill="#6dd292"/>
<path d="M1777 247l15 32 1-4-16-31z" fill="#48afc1"/>
<path d="M1813 318l1 0 3-14-1 1z" fill="#381562"/>
<path d="M1844 286l1 0 6-12-1-1z" fill="#274388"/>
<path d="M1829 303l1 0 4-14-1 0z" fill="#201d5c"/>
<path d="M1883 301l1-5 11-68-2 7z" fill="#12283c"/>
<path d="M1905 300l1 0 14-87-3 16z" fill="#132a3a"/>
<path d="M1872 267l1 6 6 28-1-2z" fill="#283e8b"/>
<path d="M1707 262l17 9 1-6-17-8z" fill="#398873"/>
<path d="M1814 318l1-1 2-13-1 0z" fill="#361561"/>
<path d="M1845 286l1 0 6-11-1-1z" fill="#2b4c99"/>
<path d="M1746 215l16 16 1-4-15-15z" fill="#96e178"/>
<path d="M1830 303l1-1 4-14-1 1z" fill="#1f1e5c"/>
<path d="M1862 282l1-2 8-29-2 1z" fill="#12283c"/>
<path d="M1871 263l1 4 6 32-1-5z" fill="#28468d"/>
<path d="M1846 285l1 0 6-9-1-1z" fill="#2f53a5"/>
<path d="M1815 317l1 0 2-13-1 0z" fill="#341560"/>
<path d="M1688 257l17 8 1-3-17-7z" fill="#56cba3"/>
<path d="M1831 302l1 0 4-14-1 0z" fill="#1e205d"/>
<path d="M1900 280l0 13 11-4-3 8z" fill="#2f43a1"/>
<path d="M1730 209l16 11 1-2-16-11z" fill="#a4e068"/>
<path d="M1847 285l1 1 7-8-2-2z" fill="#3156ac"/>
<path d="M1791 280l15 39 0-4-15-38z" fill="#405bdc"/>
<path d="M1816 317l1 0 2-13-1 0z" fill="#32155f"/>
<path d="M1899 267l1 13 8 17-1 3z" fill="#283e8a"/>
<path d="M1870 261l1 2 6 31-1-7z" fill="#284d8c"/>
<path d="M1848 285l1 1 7-7-2-1z" fill="#3256af"/>
<path d="M1863 280l1-4 8-22-1-3z" fill="#142c3f"/>
<path d="M1831 302l2 0 4-14-1 0z" fill="#1d215d"/>
<path d="M1816 317l1 0 3-13-1 0z" fill="#30155f"/>
<path d="M1849 286l1 1 7-7-1-1z" fill="#3256af"/>
<path d="M1884 296l2-7 11-61-2 0z" fill="#132c39"/>
<path d="M1868 262l2-1 6 26-1-8z" fill="#29558c"/>
<path d="M1850 286l1 2 7-7-1-1z" fill="#3254ae"/>
<path d="M1864 276l2-4 7-12-1-6z" fill="#265478"/>
<path d="M1706 263l17 8 1-1-17-8z" fill="#5bd8b8"/>
<path d="M1686 266l18 7 1-9-17-8z" fill="#214e42"/>
<path d="M1685 275l18 8 1-11-17-7z" fill="#204c46"/>
<path d="M1817 317l1 0 3-14-1 1z" fill="#2f155e"/>
<path d="M1867 266l1-4 7 17 0-10z" fill="#2c5e8f"/>
<path d="M1832 302l1-1 5-14-1 0z" fill="#1d235d"/>
<path d="M1899 254l0 13 8 33-2 0z" fill="#274687"/>
<path d="M1865 272l1-6 9 3-2-9z" fill="#2f6796"/>
<path d="M1851 287l1 2 7-7-1-1z" fill="#3252ae"/>
<path d="M1684 282l18 8 1-8-17-8z" fill="#245655"/>
<path d="M1852 288l1 2 7-7-1-1z" fill="#3252ae"/>
<path d="M1906 300l2-3 14-92-2 8z" fill="#132f35"/>
<path d="M1818 317l1 0 3-14-1 0z" fill="#2e165e"/>
<path d="M1761 229l16 23 1-3-16-23z" fill="#6ed391"/>
<path d="M1833 301l1 0 5-14-1 0z" fill="#1c245d"/>
<path d="M1853 290l1 1 8-9-2 1z" fill="#2e4ca1"/>
<path d="M1745 217l17 16 0-3-16-15z" fill="#97e177"/>
<path d="M1776 250l16 32 0-3-15-32z" fill="#49b0c0"/>
<path d="M1729 212l16 11 1-3-16-11z" fill="#9fd965"/>
<path d="M1819 317l1 0 3-14-1 0z" fill="#2c165e"/>
<path d="M1683 287l18 8 1-6-18-8z" fill="#2b676b"/>
<path d="M1886 289l2-10 10-43-1-8z" fill="#132e37"/>
<path d="M1834 301l1 0 6-15-2 1z" fill="#1b265e"/>
<path d="M1854 291l1 1 8-11-2 1z" fill="#243b7d"/>
<path d="M1820 316l0 0 4-13-1 0z" fill="#2b175d"/>
<path d="M1725 253l17 9 1-11-17-10z" fill="#27503a"/>
<path d="M1661 290l18 8 2-6-18-8z" fill="#285f65"/>
<path d="M1724 260l17 9 2-8-18-9z" fill="#295f4c"/>
<path d="M1790 283l16 39 0-3-15-39z" fill="#405cdd"/>
<path d="M1888 279l2-11 9-20-1-12z" fill="#132e36"/>
<path d="M1835 301l1-1 6-14-2 0z" fill="#1b275e"/>
<path d="M1726 242l17 10 1-13-17-10z" fill="#2e5134"/>
<path d="M1820 316l1 0 4-14-1 1z" fill="#2a175d"/>
<path d="M1660 300l18 8 2-10-18-8z" fill="#1d4751"/>
<path d="M1855 292l2 1 7-15-1 2z" fill="#1a2c5b"/>
<path d="M1682 292l18 9 1-6-18-8z" fill="#2d6d75"/>
<path d="M1908 297l2-7 13-81-1-4z" fill="#153130"/>
<path d="M1728 219l16 11 2-8-17-11z" fill="#496632"/>
<path d="M1889 268l2-14 9 9-1-15z" fill="#337b8f"/>
<path d="M1659 305l18 9 2-7-19-8z" fill="#286276"/>
<path d="M1727 230l17 10 1-11-17-10z" fill="#36532e"/>
<path d="M1821 316l1 0 4-14-1 0z" fill="#29175d"/>
<path d="M1836 300l1 0 6-15-2 1z" fill="#1b285e"/>
<path d="M1880 313l1 0 11-59-2 12z" fill="#121f40"/>
<path d="M1805 329l1 0 1-13-1-1z" fill="#56197b"/>
<path d="M1723 265l18 9 1-6-17-9z" fill="#337a66"/>
<path d="M1856 293l2 1 7-20-1 4z" fill="#132344"/>
<path d="M1806 329l1 0 1-13-1 0z" fill="#501774"/>
<path d="M1822 316l1 0 4-14-1 0z" fill="#28185d"/>
<path d="M1745 219l16 16 1-3-16-15z" fill="#98e177"/>
<path d="M1837 300l1-1 6-14-1 0z" fill="#1b295d"/>
<path d="M1806 329l1 0 1-13-1 0z" fill="#4d1770"/>
<path d="M1760 231l16 23 1-2-16-23z" fill="#70d490"/>
<path d="M1823 316l1-1 4-13-1 0z" fill="#27185c"/>
<path d="M1807 329l1 0 1-13-1 0z" fill="#4a166e"/>
<path d="M1838 299l1 0 6-15-1 1z" fill="#1b2a5e"/>
<path d="M1775 252l16 32 1-2-16-32z" fill="#49b0bf"/>
<path d="M1657 307l19 9 1-3-18-8z" fill="#48acd4"/>
<path d="M1680 293l19 8 1-1-18-8z" fill="#53c7d8"/>
<path d="M1858 294l1 1 7-25-1 4z" fill="#12223f"/>
<path d="M1823 315l1 0 5-14-2 1z" fill="#25195c"/>
<path d="M1808 329l0 0 2-13-1 0z" fill="#47166b"/>
<path d="M1722 270l18 9 1-5-17-9z" fill="#3c8e7b"/>
<path d="M1790 285l16 40 0-3-16-39z" fill="#405cdd"/>
<path d="M1839 299l1 0 6-15-1 0z" fill="#1b2c5f"/>
<path d="M1808 329l1 0 2-13-1 0z" fill="#45166a"/>
<path d="M1824 315l1 0 4-14-1 0z" fill="#24195c"/>
<path d="M1881 313l2-1 11-68-2 10z" fill="#12243f"/>
<path d="M1809 329l1 0 1-13 0 0z" fill="#431568"/>
<path d="M1840 299l1-1 6-14-1 0z" fill="#1c2e63"/>
<path d="M1825 315l1 0 4-14-1 0z" fill="#23195c"/>
<path d="M1859 295l1 0 8-29-2 4z" fill="#12243f"/>
<path d="M1810 329l0 0 2-13-1 0z" fill="#411567"/>
<path d="M1703 264l18 8 1-2-17-9z" fill="#57cda5"/>
<path d="M1744 221l16 16 1-3-16-15z" fill="#96de75"/>
<path d="M1810 329l1 0 2-13-1 0z" fill="#3f1566"/>
<path d="M1826 315l1 0 4-15-1 1z" fill="#221a5c"/>
<path d="M1841 298l1 0 6-14-1 0z" fill="#1e3269"/>
<path d="M1760 233l16 23 1-2-17-23z" fill="#71d48f"/>
<path d="M1811 329l1 0 2-13-1 0z" fill="#3d1564"/>
<path d="M1721 270l18 10 1-1-18-10z" fill="#5bd8bb"/>
<path d="M1827 314l1 0 4-14-1 0z" fill="#211a5c"/>
<path d="M1842 298l1-1 6-13-1-1z" fill="#203772"/>
<path d="M1775 254l16 33 0-3-16-32z" fill="#4ab1be"/>
<path d="M1860 295l1-1 8-32-1 3z" fill="#12263e"/>
<path d="M1875 298l0 8 10 3-2 3z" fill="#322c91"/>
<path d="M1812 329l0 0 3-14-1 1z" fill="#3b1563"/>
<path d="M1702 272l18 9 1-10-17-8z" fill="#214e42"/>
<path d="M1875 306l1 7 10-10-1 6z" fill="#3a2ea1"/>
<path d="M1790 287l16 40 0-2-16-40z" fill="#405ddd"/>
<path d="M1874 291l1 7 8 14-1 1z" fill="#2c2f89"/>
<path d="M1701 282l18 9 1-11-17-8z" fill="#204c46"/>
<path d="M1827 314l1 0 5-14-1 0z" fill="#201b5c"/>
<path d="M1843 297l1 0 6-13-1 0z" fill="#243e7d"/>
<path d="M1740 261l18 13 1-11-17-13z" fill="#23503e"/>
<path d="M1883 312l1-2 12-72-2 6z" fill="#12273c"/>
<path d="M1812 329l1 0 2-14-1 0z" fill="#391563"/>
<path d="M1743 229l17 14 1-6-17-16z" fill="#4f7a43"/>
<path d="M1700 289l18 8 1-7-17-9z" fill="#245756"/>
<path d="M1741 251l17 13 1-11-17-14z" fill="#2a5138"/>
<path d="M1873 284l1 7 8 22-1 0z" fill="#29378b"/>
<path d="M1876 313l1 5 11-22-2 7z" fill="#1a174c"/>
<path d="M1844 297l1 0 6-12-1-1z" fill="#28458c"/>
<path d="M1813 329l1 0 2-14-1 0z" fill="#381562"/>
<path d="M1828 314l1 0 5-15-1 1z" fill="#201d5c"/>
<path d="M1742 239l17 14 1-10-17-15z" fill="#315232"/>
<path d="M1740 268l17 12 1-7-17-12z" fill="#2d6a5a"/>
<path d="M1861 294l1-1 8-32-1 1z" fill="#12273c"/>
<path d="M1813 329l1 0 3-14-1 0z" fill="#361561"/>
<path d="M1844 297l2-1 6-10-1-1z" fill="#2c4c99"/>
<path d="M1829 314l1-1 5-14-1 0z" fill="#1f1e5c"/>
<path d="M1699 295l18 8 2-6-19-9z" fill="#2b686c"/>
<path d="M1845 296l1 0 8-9-2-1z" fill="#2f52a4"/>
<path d="M1814 329l1 0 3-14-1 0z" fill="#341560"/>
<path d="M1759 235l16 23 1-2-16-23z" fill="#71d38e"/>
<path d="M1862 293l1-3 9-27-2-2z" fill="#12283c"/>
<path d="M1830 313l1 0 5-14-1 0z" fill="#1e1f5d"/>
<path d="M1739 273l17 12 1-5-17-12z" fill="#388577"/>
<path d="M1846 296l1 0 8-8-2-1z" fill="#3055ab"/>
<path d="M1884 310l1-5 12-67-1 0z" fill="#132a3a"/>
<path d="M1815 329l1-1 3-13-1 0z" fill="#331560"/>
<path d="M1774 257l17 32 0-2-16-33z" fill="#4ab1bd"/>
<path d="M1847 296l1 0 8-7-2-1z" fill="#3156ae"/>
<path d="M1863 290l1-3 9-20-1-4z" fill="#1a3954"/>
<path d="M1789 292l17 38 0-3-16-40z" fill="#405bdb"/>
<path d="M1678 298l18 8 1-7-18-8z" fill="#285f64"/>
<path d="M1831 313l1 0 5-15-1 1z" fill="#1e215d"/>
<path d="M1815 328l1 0 3-13-1 0z" fill="#31155f"/>
<path d="M1868 274l1-2 7 27 0-8z" fill="#2b5692"/>
<path d="M1698 300l18 9 2-6-19-9z" fill="#2e6e76"/>
<path d="M1848 296l1 1 8-6-1-2z" fill="#3256af"/>
<path d="M1864 287l1-4 9-9-1-7z" fill="#295884"/>
<path d="M1866 278l2-4 8 17-1-9z" fill="#2c5c94"/>
<path d="M1676 307l19 9 1-11-18-8z" fill="#1d4750"/>
<path d="M1865 283l1-5 9 5-1-10z" fill="#2d6195"/>
<path d="M1849 296l1 1 8-5-1-2z" fill="#3255af"/>
<path d="M1816 328l1 0 3-14-1 1z" fill="#30155f"/>
<path d="M1831 313l1 0 6-15-1 0z" fill="#1d225d"/>
<path d="M1885 305l2-7 11-54-1-6z" fill="#132c39"/>
<path d="M1850 297l1 1 8-5-1-2z" fill="#3254ae"/>
<path d="M1675 313l19 9 1-7-18-8z" fill="#286175"/>
<path d="M1817 328l0 0 4-14-1 0z" fill="#2f155e"/>
<path d="M1851 298l1 1 8-6-1-1z" fill="#3253af"/>
<path d="M1738 278l18 12 1-5-18-12z" fill="#40988c"/>
<path d="M1758 242l17 22 1-6-17-23z" fill="#509b6c"/>
<path d="M1832 313l1-1 6-14-1 0z" fill="#1d235d"/>
<path d="M1852 299l1 1 8-7-1 0z" fill="#3151ad"/>
<path d="M1817 328l1 0 4-14-1 0z" fill="#2e165e"/>
<path d="M1887 298l1-9 11-35-1-10z" fill="#132c38"/>
<path d="M1833 312l1 0 6-15-1 0z" fill="#1c255d"/>
<path d="M1774 262l16 32 1-5-17-32z" fill="#44a3b1"/>
<path d="M1853 300l1 1 8-8-1 0z" fill="#2d4a9c"/>
<path d="M1757 252l17 20 1-8-16-22z" fill="#2d634a"/>
<path d="M1818 328l1 0 4-14-1 0z" fill="#2d165e"/>
<path d="M1888 289l2-11 10-11-1-13z" fill="#1c4254"/>
<path d="M1789 297l16 36 1-3-17-38z" fill="#4058da"/>
<path d="M1757 263l17 18 1-9-17-20z" fill="#235346"/>
<path d="M1697 300l18 9 1-1-18-8z" fill="#53c8d8"/>
<path d="M1890 278l2-12 9 16-1-15z" fill="#34799d"/>
<path d="M1756 272l17 17 1-8-17-19z" fill="#255953"/>
<path d="M1819 328l0 0 4-14-1 0z" fill="#2c165d"/>
<path d="M1834 312l1 0 6-15-1 0z" fill="#1b265e"/>
<path d="M1854 301l1 1 8-11-1 2z" fill="#233b7b"/>
<path d="M1674 315l19 9 1-3-19-9z" fill="#48aed4"/>
<path d="M1819 328l1-1 4-14-1 1z" fill="#2b175d"/>
<path d="M1835 312l1-1 6-15-1 1z" fill="#1b275e"/>
<path d="M1719 271l18 10 1-2-18-10z" fill="#58d0ab"/>
<path d="M1855 302l1 1 8-15-1 3z" fill="#1a2e5d"/>
<path d="M1755 279l18 16 1-6-18-17z" fill="#357f7e"/>
<path d="M1773 271l17 28 0-6-16-31z" fill="#37869a"/>
<path d="M1820 327l1 0 4-14-1 0z" fill="#2a175d"/>
<path d="M1737 279l18 12 1-2-18-11z" fill="#59d5c4"/>
<path d="M1879 323l2 1 11-58-1 10z" fill="#121f40"/>
<path d="M1835 311l1 0 7-15-1 0z" fill="#1b285e"/>
<path d="M1804 340l1 0 1-13-1 0z" fill="#56197c"/>
<path d="M1821 327l0 0 5-14-1 0z" fill="#29175d"/>
<path d="M1856 303l1 1 8-19-1 3z" fill="#152549"/>
<path d="M1789 304l16 32 0-3-16-36z" fill="#4254da"/>
<path d="M1805 340l1 0 1-13-1 0z" fill="#511875"/>
<path d="M1773 280l17 26 0-7-17-29z" fill="#317590"/>
<path d="M1836 311l1 0 7-15-1 0z" fill="#1b285d"/>
<path d="M1821 327l1 0 5-14-1 0z" fill="#28185d"/>
<path d="M1805 340l1 0 1-13 0 0z" fill="#4e1772"/>
<path d="M1718 280l18 9 1-9-18-9z" fill="#214e42"/>
<path d="M1755 284l17 16 1-5-17-17z" fill="#3f979d"/>
<path d="M1717 290l19 9 1-10-18-10z" fill="#204c46"/>
<path d="M1806 340l1 0 1-13-1 0z" fill="#4c166f"/>
<path d="M1822 327l1 0 4-14-1 0z" fill="#27185c"/>
<path d="M1837 311l1-1 7-15-1 0z" fill="#1b295d"/>
<path d="M1857 304l1 1 8-24-1 4z" fill="#12223f"/>
<path d="M1807 340l0 0 2-13-1 0z" fill="#49166d"/>
<path d="M1716 297l19 9 1-8-18-9z" fill="#255a59"/>
<path d="M1772 288l17 23 1-6-17-26z" fill="#33779d"/>
<path d="M1823 327l0 0 5-15-1 0z" fill="#26185c"/>
<path d="M1807 340l1 0 1-13 0 0z" fill="#47166b"/>
<path d="M1838 310l1 0 7-15-2 0z" fill="#1b2b5f"/>
<path d="M1881 324l1 0 12-68-2 10z" fill="#12233f"/>
<path d="M1808 340l0 0 2-13-1 0z" fill="#45166a"/>
<path d="M1823 327l1-1 5-14-1 0z" fill="#25195c"/>
<path d="M1839 310l1 0 6-16-1 1z" fill="#1c2d61"/>
<path d="M1858 305l1 1 9-29-2 4z" fill="#12233f"/>
<path d="M1808 340l1 0 2-13-1 0z" fill="#441569"/>
<path d="M1788 310l17 28 0-3-16-31z" fill="#4650de"/>
<path d="M1715 302l19 10 1-7-18-9z" fill="#2d6b70"/>
<path d="M1824 326l1 0 5-14-1 0z" fill="#24195c"/>
<path d="M1809 340l0 0 2-13 0 0z" fill="#421567"/>
<path d="M1754 288l18 16 1-4-18-16z" fill="#45a5b0"/>
<path d="M1772 294l17 22 0-5-17-23z" fill="#3f8ec5"/>
<path d="M1840 310l0-1 7-15-1 0z" fill="#1d3066"/>
<path d="M1825 326l0 0 6-15-1 1z" fill="#231a5c"/>
<path d="M1809 340l1 0 2-13-1 0z" fill="#401566"/>
<path d="M1859 306l1 0 9-32-1 3z" fill="#12253e"/>
<path d="M1810 340l0 0 3-13-1 0z" fill="#3f1565"/>
<path d="M1840 309l1 0 7-15-1 0z" fill="#1f336c"/>
<path d="M1825 326l1 0 5-15 0 0z" fill="#221a5c"/>
<path d="M1810 340l1 0 2-13 0 0z" fill="#3d1565"/>
<path d="M1714 308l19 9 1-6-18-9z" fill="#2f717a"/>
<path d="M1694 305l19 9 1-7-18-8z" fill="#286065"/>
<path d="M1841 309l1 0 7-14-1-1z" fill="#213874"/>
<path d="M1826 326l1 0 5-15-1 0z" fill="#211a5c"/>
<path d="M1811 340l0 0 3-13-1 0z" fill="#3c1564"/>
<path d="M1860 306l1 0 9-34-1 2z" fill="#12263d"/>
<path d="M1693 315l19 9 1-10-18-9z" fill="#1e4750"/>
<path d="M1842 309l1-1 7-13-1 0z" fill="#243d7e"/>
<path d="M1827 326l0-1 6-14-1 0z" fill="#201b5c"/>
<path d="M1811 340l1 0 3-13-1 0z" fill="#3a1563"/>
<path d="M1788 314l17 27 0-3-17-28z" fill="#4a4fe5"/>
<path d="M1771 298l18 22 0-4-17-23z" fill="#4498d8"/>
<path d="M1812 340l0 0 3-14 0 1z" fill="#391562"/>
<path d="M1843 308l1 0 7-12-1-1z" fill="#274389"/>
<path d="M1692 321l19 9 1-6-19-10z" fill="#286275"/>
<path d="M1827 325l1 0 6-15-1 1z" fill="#201c5c"/>
<path d="M1754 289l18 16 0-1-18-16z" fill="#54cad7"/>
<path d="M1812 340l1 0 3-14-1 0z" fill="#371562"/>
<path d="M1861 306l1-1 9-33-1 0z" fill="#12273d"/>
<path d="M1843 308l1 0 8-11-1-1z" fill="#2a4994"/>
<path d="M1828 325l1 0 6-15-1 0z" fill="#1f1d5c"/>
<path d="M1813 340l0 0 4-14-1 0z" fill="#361561"/>
<path d="M1844 307l1 0 8-9-1-1z" fill="#2d4e9e"/>
<path d="M1735 280l19 12 1-2-19-13z" fill="#58d1b6"/>
<path d="M1862 305l1-2 9-29-1-2z" fill="#13293e"/>
<path d="M1813 340l1 0 3-14 0 0z" fill="#351560"/>
<path d="M1829 325l0 0 7-15-1 0z" fill="#1f1f5c"/>
<path d="M1713 308l19 10 1-1-18-10z" fill="#53c8da"/>
<path d="M1845 307l1 0 8-8-1-2z" fill="#2f52a5"/>
<path d="M1863 303l1-3 9-22-1-4z" fill="#1a3856"/>
<path d="M1814 340l0 0 4-14-1 0z" fill="#331560"/>
<path d="M1867 289l1-3 8 21 0-7z" fill="#2c589a"/>
<path d="M1846 307l1 0 8-7-1-1z" fill="#3054aa"/>
<path d="M1863 300l2-3 9-13-1-6z" fill="#234b75"/>
<path d="M1865 293l2-4 9 11-1-9z" fill="#2d5b98"/>
<path d="M1864 297l1-3 10-2-1-8z" fill="#2a588e"/>
<path d="M1829 325l1-1 6-15-1 1z" fill="#1e205d"/>
<path d="M1691 323l19 10 1-3-19-10z" fill="#48aed4"/>
<path d="M1814 340l1 0 4-14-1 0z" fill="#32155f"/>
<path d="M1847 307l0 0 9-6-1-1z" fill="#3155ad"/>
<path d="M1771 302l17 21 1-3-18-22z" fill="#479ce2"/>
<path d="M1787 318l18 26 0-3-17-27z" fill="#4d4ee8"/>
<path d="M1830 324l1 0 6-15-1 0z" fill="#1e215d"/>
<path d="M1847 307l1 0 9-5-1-1z" fill="#3256af"/>
<path d="M1815 340l0 0 4-14 0 0z" fill="#31155f"/>
<path d="M1848 307l1 1 9-5-1-1z" fill="#3255af"/>
<path d="M1735 288l18 12 1-8-18-13z" fill="#23544c"/>
<path d="M1815 340l1 0 4-14-1 0z" fill="#30155f"/>
<path d="M1831 324l0 0 7-15-1 0z" fill="#1d225d"/>
<path d="M1849 307l1 1 9-4-1-1z" fill="#3254af"/>
<path d="M1734 298l18 11 1-10-18-11z" fill="#1f4b49"/>
<path d="M1850 308l1 1 9-5-1-1z" fill="#3254af"/>
<path d="M1816 340l1 0 4-15-1 1z" fill="#2f155e"/>
<path d="M1831 324l1 0 7-16-1 1z" fill="#1d235d"/>
<path d="M1850 309l1 1 10-6-1 0z" fill="#3253ae"/>
<path d="M1816 340l1-1 4-14 0 0z" fill="#2e165e"/>
<path d="M1733 305l19 11 1-7-19-11z" fill="#286064"/>
<path d="M1851 310l1 1 10-7-1 0z" fill="#2f4fa6"/>
<path d="M1832 324l1 0 7-16-1 0z" fill="#1c245d"/>
<path d="M1817 339l1 0 4-14-1 0z" fill="#2d165e"/>
<path d="M1852 311l1 1 10-9-1 1z" fill="#29448f"/>
<path d="M1833 323l0 0 7-15 0 0z" fill="#1c255e"/>
<path d="M1818 339l0 0 5-14-1 0z" fill="#2c165e"/>
<path d="M1770 304l18 21 0-2-17-21z" fill="#4ca7f3"/>
<path d="M1787 322l18 25 0-3-17-26z" fill="#4e4dea"/>
<path d="M1818 339l1 0 4-14 0 0z" fill="#2b165d"/>
<path d="M1833 323l1 0 7-16-1 1z" fill="#1b265e"/>
<path d="M1853 312l1 1 10-12-1 2z" fill="#213872"/>
<path d="M1732 311l19 10 1-6-19-11z" fill="#2f717c"/>
<path d="M1819 339l0 0 5-14-1 0z" fill="#2b175d"/>
<path d="M1834 323l1 0 7-16-1 0z" fill="#1b275e"/>
<path d="M1819 339l1 0 5-15-1 1z" fill="#2a175d"/>
<path d="M1854 313l1 0 10-14-1 2z" fill="#1a2d5b"/>
<path d="M1835 323l1-1 7-15-1 0z" fill="#1b285d"/>
<path d="M1820 339l0 0 5-15 0 0z" fill="#29175d"/>
<path d="M1804 352l0 0 1-14 0 0z" fill="#57197d"/>
<path d="M1804 352l1 0 1-14-1 0z" fill="#521877"/>
<path d="M1820 339l1 0 5-15-1 0z" fill="#28185d"/>
<path d="M1731 316l19 11 1-6-19-11z" fill="#317686"/>
<path d="M1855 313l1 1 10-18-1 3z" fill="#15274b"/>
<path d="M1835 322l1 0 8-16-1 1z" fill="#1b285d"/>
<path d="M1805 352l0 0 1-14 0 0z" fill="#501773"/>
<path d="M1752 291l18 17 1-3-18-17z" fill="#54cacc"/>
<path d="M1821 339l0 0 6-15-1 0z" fill="#27185d"/>
<path d="M1805 352l0 0 2-14-1 0z" fill="#4e1771"/>
<path d="M1711 313l19 10 2-7-20-9z" fill="#296268"/>
<path d="M1836 322l1 0 8-16-1 0z" fill="#1b295e"/>
<path d="M1805 352l1 0 1-14 0 0z" fill="#4c166f"/>
<path d="M1821 338l1 0 5-14 0 0z" fill="#27185c"/>
<path d="M1787 324l18 26 0-3-18-26z" fill="#4f4fee"/>
<path d="M1856 314l1 1 10-23-1 4z" fill="#122340"/>
<path d="M1806 352l0 0 2-14-1 0z" fill="#4a166d"/>
<path d="M1837 322l1 0 7-16 0 0z" fill="#1b2a5f"/>
<path d="M1710 323l20 10 1-11-19-9z" fill="#1d4750"/>
<path d="M1822 338l0 0 6-15-1 1z" fill="#26185c"/>
<path d="M1806 352l1 0 1-14 0 0z" fill="#48166c"/>
<path d="M1770 304l18 22 0-1-18-21z" fill="#4ba8ed"/>
<path d="M1807 352l0 0 2-14-1 0z" fill="#47166b"/>
<path d="M1822 338l1 0 6-15-1 0z" fill="#25195c"/>
<path d="M1838 322l0-1 8-15-1 0z" fill="#1c2c61"/>
<path d="M1709 329l20 10 1-7-19-9z" fill="#296377"/>
<path d="M1807 352l0 0 3-14-1 0z" fill="#45166a"/>
<path d="M1857 315l0 1 11-27-1 3z" fill="#12233f"/>
<path d="M1823 338l0 0 7-15-1 0z" fill="#24195c"/>
<path d="M1751 299l19 16 1-8-19-16z" fill="#2a6468"/>
<path d="M1807 352l1 0 2-14-1 0z" fill="#441569"/>
<path d="M1838 321l1 0 8-16-1 0z" fill="#1d2e64"/>
<path d="M1730 317l20 10 0 0-19-11z" fill="#52c6e1"/>
<path d="M1808 352l0 0 3-14-1 0z" fill="#431568"/>
<path d="M1823 338l1 0 6-15-1 0z" fill="#23195c"/>
<path d="M1808 352l1 0 2-14 0 0z" fill="#411567"/>
<path d="M1839 321l1 0 8-16-1 0z" fill="#1e3169"/>
<path d="M1857 316l1 1 11-31-1 3z" fill="#12253e"/>
<path d="M1751 308l18 15 1-9-18-15z" fill="#21505a"/>
<path d="M1824 338l1 0 6-15-1 0z" fill="#231a5c"/>
<path d="M1808 352l1 0 3-14-1 0z" fill="#401566"/>
<path d="M1840 321l0 0 9-16-1 0z" fill="#20346f"/>
<path d="M1809 352l0 0 3-14 0 0z" fill="#3f1565"/>
<path d="M1824 338l1-1 7-15-1 1z" fill="#221a5c"/>
<path d="M1809 352l1 0 3-14-1 0z" fill="#3e1565"/>
<path d="M1840 321l1-1 9-14-1-1z" fill="#223876"/>
<path d="M1858 317l1 0 11-34-1 3z" fill="#12263e"/>
<path d="M1708 332l20 9 1-2-19-10z" fill="#48afd5"/>
<path d="M1825 337l1 0 6-15 0 0z" fill="#211a5c"/>
<path d="M1786 325l18 28 1-3-18-27z" fill="#4e51ed"/>
<path d="M1750 315l19 13 1-6-19-14z" fill="#2d6d82"/>
<path d="M1810 352l0 0 3-14 0 0z" fill="#3c1564"/>
<path d="M1841 320l1 0 8-14 0 0z" fill="#243d7e"/>
<path d="M1810 352l1 0 3-14-1 0z" fill="#3b1563"/>
<path d="M1826 337l0 0 7-15-1 0z" fill="#211b5c"/>
<path d="M1769 306l18 23 1-3-18-22z" fill="#4baaec"/>
<path d="M1859 317l1 0 11-35-1 1z" fill="#12263d"/>
<path d="M1810 352l1 0 3-14 0 0z" fill="#3a1563"/>
<path d="M1842 320l0 0 9-13-1-1z" fill="#264186"/>
<path d="M1826 337l1 0 7-15-1 0z" fill="#201c5c"/>
<path d="M1811 352l0 0 4-14-1 0z" fill="#391562"/>
<path d="M1842 320l1-1 9-11-1-1z" fill="#29458f"/>
<path d="M1860 317l1 0 11-34-1-1z" fill="#12273d"/>
<path d="M1811 352l1 0 3-14 0 0z" fill="#381562"/>
<path d="M1827 337l0 0 7-16 0 1z" fill="#201d5c"/>
<path d="M1843 319l1 0 9-11-1 0z" fill="#2b4a97"/>
<path d="M1861 317l1-1 11-30-1-3z" fill="#152b44"/>
<path d="M1812 352l0 0 4-14-1 0z" fill="#371561"/>
<path d="M1749 320l19 14 1-6-19-14z" fill="#347d99"/>
<path d="M1862 316l1-2 11-24-1-4z" fill="#193453"/>
<path d="M1827 337l1 0 7-16-1 0z" fill="#1f1e5c"/>
<path d="M1862 314l1-2 11-17-1-5z" fill="#1e3d65"/>
<path d="M1844 319l0 0 10-10-1-1z" fill="#2d4d9d"/>
<path d="M1812 352l0 0 5-14-1 0z" fill="#361561"/>
<path d="M1844 319l1-1 10-8-1-1z" fill="#2e50a3"/>
<path d="M1828 337l0-1 8-15-1 0z" fill="#1f1f5c"/>
<path d="M1812 352l1 0 4-14 0 0z" fill="#351560"/>
<path d="M1845 318l1 0 10-7-1-1z" fill="#3052a7"/>
<path d="M1813 352l0 0 5-15-1 1z" fill="#331560"/>
<path d="M1828 336l1 0 7-15 0 0z" fill="#1e1f5d"/>
<path d="M1768 313l19 21 0-5-18-23z" fill="#377bae"/>
<path d="M1845 318l1 0 10-6-1-1z" fill="#3153ab"/>
<path d="M1813 352l1 0 4-15 0 0z" fill="#321560"/>
<path d="M1786 327l18 28 0-3-18-27z" fill="#4c52ec"/>
<path d="M1829 336l0 0 8-16-1 1z" fill="#1e205d"/>
<path d="M1846 318l1 0 10-5-1-1z" fill="#3154ad"/>
<path d="M1814 352l0 0 5-15-1 0z" fill="#31155f"/>
<path d="M1749 326l19 12 1-5-19-13z" fill="#367fa1"/>
<path d="M1847 318l0 0 11-4-1-1z" fill="#3255af"/>
<path d="M1814 352l0 0 5-15 0 0z" fill="#30155f"/>
<path d="M1829 336l1 0 8-16-1 0z" fill="#1d215d"/>
<path d="M1847 318l1 0 11-3-1-1z" fill="#3255b0"/>
<path d="M1814 352l1 0 5-15-1 0z" fill="#30155f"/>
<path d="M1848 318l1 1 11-4-1 0z" fill="#3255b0"/>
<path d="M1830 336l1 0 7-16 0 0z" fill="#1d225d"/>
<path d="M1815 352l0-1 5-14 0 0z" fill="#2f155e"/>
<path d="M1768 321l19 19 0-6-18-21z" fill="#2f6597"/>
<path d="M1849 319l0 0 11-3 0-1z" fill="#3254b0"/>
<path d="M1830 336l1 0 8-16-1 0z" fill="#1d235d"/>
<path d="M1815 351l1 0 5-14-1 0z" fill="#2e165e"/>
<path d="M1849 319l1 1 11-4-1 0z" fill="#3153ac"/>
<path d="M1729 322l19 11 1-6-19-12z" fill="#2b6872"/>
<path d="M1816 351l0 0 6-14-1 0z" fill="#2e165e"/>
<path d="M1831 336l1-1 8-16-1 1z" fill="#1c245d"/>
<path d="M1850 320l1 1 11-6-1 1z" fill="#2e4ea3"/>
<path d="M1816 351l0 0 6-14-1 0z" fill="#2d165e"/>
<path d="M1832 335l0 0 9-16-1 0z" fill="#1c255e"/>
<path d="M1851 321l1 0 11-7-1 1z" fill="#294691"/>
<path d="M1728 332l19 11 1-11-19-10z" fill="#1d4652"/>
<path d="M1816 351l1 0 6-15-1 1z" fill="#2c165e"/>
<path d="M1786 333l18 25 0-3-18-28z" fill="#4b4ee5"/>
<path d="M1767 327l19 18 1-5-19-19z" fill="#3a7abf"/>
<path d="M1817 351l0 0 6-15 0 0z" fill="#2c165d"/>
<path d="M1832 335l1 0 8-16 0 0z" fill="#1c265e"/>
<path d="M1748 326l19 14 1-2-19-13z" fill="#50bcef"/>
<path d="M1817 351l1 0 6-15-1 0z" fill="#2b175d"/>
<path d="M1833 335l0 0 9-17-1 1z" fill="#1b265e"/>
<path d="M1727 338l20 10 1-6-20-11z" fill="#2b667f"/>
<path d="M1818 351l0 0 6-15 0 0z" fill="#2a175d"/>
<path d="M1833 335l1 0 9-17-1 0z" fill="#1b275d"/>
<path d="M1818 351l1 0 6-15-1 0z" fill="#2a175d"/>
<path d="M1818 351l1 0 6-15 0 0z" fill="#29175d"/>
<path d="M1834 335l0-1 9-16 0 0z" fill="#1b275d"/>
<path d="M1803 364l0 0 1-14 0 0z" fill="#58197e"/>
<path d="M1819 351l0 0 7-15-1 0z" fill="#29175d"/>
<path d="M1803 364l1 0 1-14-1 0z" fill="#541878"/>
<path d="M1834 334l1 0 9-16-1 0z" fill="#1b285d"/>
<path d="M1804 364l0 0 1-14 0 0z" fill="#521876"/>
<path d="M1767 332l19 17 0-5-19-17z" fill="#3e82d1"/>
<path d="M1819 351l1 0 6-16 0 1z" fill="#28185d"/>
<path d="M1785 338l19 23 0-3-18-26z" fill="#4b49e0"/>
<path d="M1804 364l0 0 2-14-1 0z" fill="#501773"/>
<path d="M1835 334l0 0 10-17-1 1z" fill="#1b295e"/>
<path d="M1804 364l0 0 2-14 0 0z" fill="#4e1772"/>
<path d="M1820 351l0-1 7-15-1 0z" fill="#27185d"/>
<path d="M1804 364l1 0 1-14 0 0z" fill="#4d1770"/>
<path d="M1726 340l20 11 1-3-20-10z" fill="#49adda"/>
<path d="M1820 350l1 0 7-15-1 0z" fill="#27185c"/>
<path d="M1805 364l0 0 2-14-1 0z" fill="#4b166f"/>
<path d="M1835 334l1 0 9-17 0 0z" fill="#1b2a5f"/>
<path d="M1805 364l0 0 2-14 0 0z" fill="#4a166e"/>
<path d="M1820 350l1 0 7-15 0 0z" fill="#26185c"/>
<path d="M1805 364l1 0 2-14-1 0z" fill="#49166d"/>
<path d="M1836 334l1 0 9-17-1 0z" fill="#1c2b61"/>
<path d="M1805 364l1 0 2-14 0 0z" fill="#48166c"/>
<path d="M1821 350l0 0 8-15-1 0z" fill="#25195c"/>
<path d="M1806 364l0 0 3-14-1 0z" fill="#47166b"/>
<path d="M1837 333l0 0 10-16-1 0z" fill="#1d2d63"/>
<path d="M1821 350l1 0 7-15 0 0z" fill="#25195c"/>
<path d="M1806 364l0 0 3-14-1 0z" fill="#46166a"/>
<path d="M1806 364l1 0 2-14 0 0z" fill="#451669"/>
<path d="M1822 350l0 0 8-16-1 1z" fill="#24195c"/>
<path d="M1837 333l1 0 10-16-1 0z" fill="#1d2f66"/>
<path d="M1766 337l20 16 0-4-19-17z" fill="#3f81d5"/>
<path d="M1806 364l1 0 3-14-1 0z" fill="#441568"/>
<path d="M1807 364l0 0 3-14 0 0z" fill="#431568"/>
<path d="M1822 350l1 0 7-16 0 0z" fill="#24195c"/>
<path d="M1838 333l0 0 10-16 0 0z" fill="#1f316a"/>
<path d="M1785 343l19 21 0-3-19-23z" fill="#5047e8"/>
<path d="M1807 364l0 0 4-14-1 0z" fill="#421567"/>
<path d="M1823 350l0 0 8-16-1 0z" fill="#23195c"/>
<path d="M1807 364l1 0 3-14 0 0z" fill="#411567"/>
<path d="M1838 333l1 0 10-16-1 0z" fill="#20346f"/>
<path d="M1808 364l0 0 3-14 0 0z" fill="#401566"/>
<path d="M1823 350l0 0 8-16 0 0z" fill="#221a5c"/>
<path d="M1808 364l0 0 4-14-1 0z" fill="#3f1565"/>
<path d="M1839 333l0-1 11-15-1 0z" fill="#213775"/>
<path d="M1823 350l1 0 8-16-1 0z" fill="#221a5c"/>
<path d="M1808 364l0 0 4-14 0 0z" fill="#3e1565"/>
<path d="M1839 332l1 0 10-14 0-1z" fill="#233a7b"/>
<path d="M1808 364l1 0 4-14-1 0z" fill="#3d1564"/>
<path d="M1824 350l0-1 9-16-1 1z" fill="#211a5c"/>
<path d="M1809 364l0 0 4-14 0 0z" fill="#3c1564"/>
<path d="M1840 332l0 0 11-14-1 0z" fill="#253e81"/>
<path d="M1824 349l1 0 8-16 0 0z" fill="#211b5c"/>
<path d="M1809 364l0 0 4-14 0 0z" fill="#3c1564"/>
<path d="M1840 332l1 0 11-13-1-1z" fill="#274187"/>
<path d="M1809 364l0 0 5-14-1 0z" fill="#3b1563"/>
<path d="M1746 332l20 13 1-6-20-13z" fill="#30738d"/>
<path d="M1825 349l0 0 9-16-1 0z" fill="#201b5c"/>
<path d="M1809 364l1 0 4-14 0 0z" fill="#3a1563"/>
<path d="M1841 332l0-1 12-12-1 0z" fill="#28448d"/>
<path d="M1766 338l19 17 1-2-20-16z" fill="#4d9eff"/>
<path d="M1810 364l0 0 5-14-1 0z" fill="#391562"/>
<path d="M1825 349l0 0 9-16 0 0z" fill="#201c5c"/>
<path d="M1841 331l1 0 11-11-1-1z" fill="#2a4693"/>
<path d="M1810 364l0 0 5-14 0 0z" fill="#381562"/>
<path d="M1784 347l20 20 0-3-19-21z" fill="#5246ea"/>
<path d="M1825 349l1 0 9-16-1 0z" fill="#201d5c"/>
<path d="M1842 331l1 0 11-10-1-1z" fill="#2b4998"/>
<path d="M1810 364l0 0 6-14-1 0z" fill="#381562"/>
<path d="M1746 342l20 12 0-9-19-13z" fill="#1d4458"/>
<path d="M1810 364l1 0 5-14 0 0z" fill="#371561"/>
<path d="M1842 331l1 0 12-9-1-1z" fill="#2d4b9c"/>
<path d="M1826 349l0 0 9-16 0 0z" fill="#1f1d5c"/>
<path d="M1811 364l0 0 5-15 0 0z" fill="#361561"/>
<path d="M1826 349l1 0 9-17-1 0z" fill="#1f1e5c"/>
<path d="M1811 364l0 0 6-15-1 0z" fill="#351561"/>
<path d="M1811 364l1 0 5-15 0 0z" fill="#341560"/>
<path d="M1827 349l0 0 10-17-1 0z" fill="#1f1f5c"/>
<path d="M1812 364l0 0 6-15-1 0z" fill="#341560"/>
<path d="M1827 349l0-1 10-16-1 0z" fill="#1e1f5d"/>
<path d="M1745 347l20 12 1-6-20-12z" fill="#2f6c92"/>
<path d="M1812 364l0 0 6-15 0 0z" fill="#331560"/>
<path d="M1812 364l0 0 6-15 0 0z" fill="#321560"/>
<path d="M1827 348l1 0 10-16-1 0z" fill="#1e205d"/>
<path d="M1812 364l1 0 6-15-1 0z" fill="#31155f"/>
<path d="M1828 348l0 0 10-17 0 1z" fill="#1e215d"/>
<path d="M1813 364l0 0 6-15 0 0z" fill="#31155f"/>
<path d="M1813 364l0 0 7-15-1 0z" fill="#30155f"/>
<path d="M1828 348l1 0 10-17-1 0z" fill="#1d225d"/>
<path d="M1784 352l20 18 0-3-19-20z" fill="#5344ea"/>
<path d="M1813 364l0 0 7-15 0 0z" fill="#30155f"/>
<path d="M1829 348l0 0 10-17 0 0z" fill="#1d225d"/>
<path d="M1813 364l1 0 7-15-1 0z" fill="#2f155e"/>
<path d="M1765 338l20 18 0-1-19-17z" fill="#4da0ff"/>
<path d="M1814 364l0 0 7-15 0 0z" fill="#2f155e"/>
<path d="M1829 348l1 0 10-17-1 0z" fill="#1d235d"/>
<path d="M1814 364l0 0 7-16 0 1z" fill="#2e165e"/>
<path d="M1830 348l0 0 10-17 0 0z" fill="#1c245d"/>
<path d="M1814 364l0 0 8-16-1 0z" fill="#2e165e"/>
<path d="M1744 350l21 12 0-3-20-12z" fill="#49a6e5"/>
<path d="M1814 364l1 0 7-16 0 0z" fill="#2d165e"/>
<path d="M1830 348l0-1 11-17-1 1z" fill="#1c245e"/>
<path d="M1815 364l0-1 8-15-1 0z" fill="#2d165e"/>
<path d="M1830 347l1 0 11-17-1 0z" fill="#1c255e"/>
<path d="M1815 363l0 0 8-15 0 0z" fill="#2c165e"/>
<path d="M1815 363l1 0 8-15-1 0z" fill="#2c165d"/>
<path d="M1831 347l0 0 11-17 0 0z" fill="#1b265e"/>
<path d="M1816 363l0 0 8-15-1 0z" fill="#2b165d"/>
<path d="M1831 347l1 0 11-17-1 0z" fill="#1b265d"/>
<path d="M1816 363l0 0 8-15 0 0z" fill="#2b175d"/>
<path d="M1816 363l0 0 9-15-1 0z" fill="#2a175d"/>
<path d="M1784 354l19 19 1-3-20-19z" fill="#5747f5"/>
<path d="M1832 347l0 0 11-17 0 0z" fill="#1b275d"/>
<path d="M1816 363l1 0 8-15 0 0z" fill="#2a175d"/>
<path d="M1832 347l0 0 12-18-1 0z" fill="#1b275d"/>
<path d="M1817 363l0 0 9-16-1 1z" fill="#2a175d"/>
<path d="M1764 344l20 17 1-5-20-18z" fill="#3b7bc5"/>
<path d="M1817 363l0 0 9-16 0 0z" fill="#29175d"/>
<path d="M1832 347l1 0 11-18 0 0z" fill="#1b285e"/>
<path d="M1802 376l1 0 1-14-1 0z" fill="#59197f"/>
<path d="M1817 363l0 0 9-16 0 0z" fill="#29175d"/>
<path d="M1803 376l0 0 1-14 0 0z" fill="#56197b"/>
<path d="M1803 376l0 0 1-14 0 0z" fill="#541878"/>
<path d="M1817 363l1 0 9-16-1 0z" fill="#28185d"/>
<path d="M1803 376l0 0 1-14 0 0z" fill="#521876"/>
<path d="M1803 376l0 0 2-14-1 0z" fill="#511775"/>
<path d="M1818 363l0 0 9-16 0 0z" fill="#28185d"/>
<path d="M1803 376l0 0 2-14 0 0z" fill="#501773"/>
<path d="M1803 376l0 0 2-14 0 0z" fill="#4f1772"/>
<path d="M1818 363l0 0 10-16-1 0z" fill="#27185d"/>
<path d="M1803 376l0 0 3-14-1 0z" fill="#4e1771"/>
<path d="M1803 376l1 0 2-14-1 0z" fill="#4d1770"/>
<path d="M1818 363l1 0 9-16 0 0z" fill="#27185c"/>
<path d="M1804 376l0 0 2-14 0 0z" fill="#4c166f"/>
<path d="M1804 376l0 0 2-14 0 0z" fill="#4b166f"/>
<path d="M1764 353l20 14 1-7-20-16z" fill="#275086"/>
<path d="M1819 363l0 0 10-16-1 0z" fill="#26185c"/>
<path d="M1804 376l0 0 3-14-1 0z" fill="#4a166e"/>
<path d="M1804 376l0 0 3-14 0 0z" fill="#4a166d"/>
<path d="M1819 363l0 0 10-17 0 1z" fill="#26185c"/>
<path d="M1804 376l0 0 3-14 0 0z" fill="#49166d"/>
<path d="M1804 376l0 1 4-15-1 0z" fill="#48166c"/>
<path d="M1819 363l0 0 10-17 0 0z" fill="#26195c"/>
<path d="M1804 377l0 0 4-15-1 0z" fill="#48166b"/>
<path d="M1804 377l1 0 3-15 0 0z" fill="#47166b"/>
<path d="M1819 363l1 0 10-17-1 0z" fill="#25195c"/>
<path d="M1805 377l0 0 3-15 0 0zM1805 377l0 0 4-15-1 0z" fill="#46166a"/>
<path d="M1820 363l0-1 10-16 0 0z" fill="#25195c"/>
<path d="M1783 355l20 21 0-3-19-20z" fill="#564af6"/>
<path d="M1805 377l0 0 4-15 0 0z" fill="#451669"/>
<path d="M1805 377l0 0 4-15 0 0z" fill="#441569"/>
<path d="M1820 362l0 0 11-16-1 0z" fill="#24195c"/>
<path d="M1805 377l0 0 4-15 0 0z" fill="#441568"/>
<path d="M1805 377l0 0 5-15-1 0z" fill="#431568"/>
<path d="M1820 362l0 0 11-16 0 0z" fill="#24195c"/>
<path d="M1805 377l0 0 5-15 0 0z" fill="#431568"/>
<path d="M1805 377l1 0 4-15 0 0z" fill="#421567"/>
<path d="M1763 358l21 13 0-4-20-15z" fill="#386fc2"/>
<path d="M1820 362l1 0 11-16-1 0z" fill="#23195c"/>
<path d="M1806 377l0 0 5-15-1 0z" fill="#421567"/>
<path d="M1806 377l0 0 5-15 0 0z" fill="#411567"/>
<path d="M1821 362l0 0 11-16-1 0z" fill="#231a5c"/>
<path d="M1806 377l0 0 5-15 0 0zM1806 377l0 0 5-15 0 0z" fill="#401566"/>
<path d="M1821 362l0 0 11-17 0 1z" fill="#231a5c"/>
<path d="M1806 377l0 0 6-15-1 0z" fill="#3f1566"/>
<path d="M1806 377l0 0 6-15 0 0z" fill="#3f1565"/>
<path d="M1821 362l1 0 11-17-1 0z" fill="#221a5c"/>
<path d="M1806 377l1 0 5-15 0 0zM1806 377l1 0 6-15-1 0z" fill="#3e1565"/>
<path d="M1822 362l0 0 11-17 0 0z" fill="#221a5c"/>
<path d="M1807 377l0 0 6-15 0 0zM1807 377l0 0 6-15 0 0z" fill="#3d1564"/>
<path d="M1822 362l0 0 12-17-1 0z" fill="#211a5c"/>
<path d="M1807 377l0 0 6-15 0 0z" fill="#3c1564"/>
<path d="M1822 362l0 0 12-17 0 0z" fill="#211a5c"/>
<path d="M1807 377l0 0 7-15-1 0z" fill="#3c1564"/>
<path d="M1807 377l0 0 7-15 0 0zM1807 377l0 0 7-15 0 0z" fill="#3b1563"/>
<path d="M1807 377l1 0 7-15-1 0zM1808 377l0 0 7-15 0 0z" fill="#3a1563"/>
<path d="M1783 359l20 20 0-3-20-21z" fill="#5146e9"/>
<path d="M1808 377l0 0 7-15 0 0zM1808 377l0 0 7-15 0 0z" fill="#391562"/>
<path d="M1763 361l20 13 1-3-21-13z" fill="#498ffd"/>
<path d="M1808 377l0 0 8-15-1 0zM1808 377l0 0 8-15 0 0z" fill="#381562"/>
<path d="M1808 377l0 0 8-15 0 0zM1808 377l0 0 9-15-1 0z" fill="#371561"/>
<path d="M1808 377l1 0 8-16 0 1zM1809 377l0 0 8-16 0 0z" fill="#361561"/>
<path d="M1809 376l0 1 8-16 0 0zM1809 376l0 0 9-15-1 0z" fill="#351561"/>
<path d="M1809 376l0 0 9-15 0 0z" fill="#351560"/>
<path d="M1809 376l0 0 9-15 0 0zM1809 376l0 0 10-15-1 0z" fill="#341560"/>
<path d="M1809 376l1 0 9-15 0 0zM1810 376l0 0 9-15 0 0z" fill="#331560"/>
<path d="M1810 376l0 0 9-15 0 0zM1810 376l0 0 10-15-1 0z" fill="#32155f"/>
<path d="M1810 376l0 0 10-15 0 0z" fill="#31155f"/>
<path d="M1782 366l21 16 0-3-20-20z" fill="#4b3cd2"/>
<path d="M1810 376l0 0 10-15 0 0zM1810 376l0 0 11-15-1 0z" fill="#31155f"/>
<path d="M1810 376l0 0 11-15-1 0zM1810 376l1 0 10-15 0 0zM1811 376l0 0 10-15 0 0z" fill="#30155f"/>
<path d="M1811 376l0 0 11-15-1 0zM1811 376l0 0 11-15 0 0zM1811 376l0 0 11-16 0 1z" fill="#2f155e"/>
<path d="M1811 376l0 0 11-16 0 0z" fill="#2e155e"/>
<path d="M1811 376l0 0 12-16-1 0zM1811 376l1 0 11-16 0 0zM1812 376l0 0 11-16 0 0z" fill="#2e165e"/>
<path d="M1812 376l0 0 12-16-1 0z" fill="#2d165e"/>
<path d="M1782 370l21 15 0-3-20-17z" fill="#533fe0"/>
<path d="M1802 389l0 0 1-15 0 0z" fill="#5a1a81"/>
<path d="M1802 389l0 0 1-15 0 0z" fill="#57197d"/>
<path d="M1802 389l0 0 1-15 0 0z" fill="#56197b"/>
<path d="M1802 389l0 0 1-15 0 0z" fill="#551879"/>
<path d="M1802 389l0 0 1-15 0 0z" fill="#541878"/>
<path d="M1802 389l0 0 1-15 0 0z" fill="#531877"/>
<path d="M1802 389l0 0 2-15-1 0z" fill="#521876"/>
<path d="M1802 389l0 0 2-15 0 0z" fill="#511775"/>
<path d="M1802 389l0 0 2-15 0 0z" fill="#511774"/>
<path d="M1802 389l0 0 2-15 0 0zM1802 389l0 0 2-15 0 0z" fill="#501773"/>
<path d="M1802 389l0 0 2-15 0 0z" fill="#4f1772"/>
<path d="M1802 389l0 0 2-15 0 0z" fill="#4f1771"/>
<path d="M1802 389l0 0 3-15-1 0z" fill="#4e1771"/>
<path d="M1802 389l0 0 3-15 0 0z" fill="#4e1770"/>
<path d="M1802 389l0 0 3-15 0 0z" fill="#4d1670"/>
<path d="M1802 389l0 0 3-15 0 0z" fill="#4d166f"/>
<path d="M1802 389l0 0 3-14 0-1zM1801 389l0 0 4-14 0 0z" fill="#4c166f"/>
<path d="M1801 389l0 0 5-14-1 0z" fill="#4c166e"/>
<path d="M1801 389l0 0 5-14 0 0zM1801 389l0 0 5-14 0 0z" fill="#4b166e"/>
<path d="M1801 389l0 0 5-14 0 0z" fill="#4b166d"/>
<path d="M1801 389l0 0 5-14 0 0z" fill="#4a166d"/>
<path d="M1782 373l21 15 0-3-21-15z" fill="#5942ed"/>
<path d="M1801 389l0 0 5-14 0 0z" fill="#4a166d"/>
<path d="M1801 389l0 0 5-14 0 0zM1801 389l0 0 6-14-1 0z" fill="#4a166c"/>
<path d="M1801 389l0 0 6-14 0 0z" fill="#49166c"/>
<path d="M1801 389l0 0 6-14 0 0zM1801 389l0 0 6-14 0 0z" fill="#49166b"/>
<path d="M1801 389l0 0 6-14 0 0zM1801 389l0 0 6-14 0 0zM1801 389l0 0 6-14 0 0z" fill="#48166b"/>
<path d="M1801 389l0 0 7-14-1 0z" fill="#48166a"/>
<path d="M1801 389l0 0 7-14 0 0z" fill="#47166a"/>
<path d="M1801 389l0 0 7-14 0 0zM1801 389l0 0 7-14 0 0zM1801 389l0 0 7-14 0 0z" fill="#47156a"/>
<path d="M1801 389l0 0 7-14 0 0zM1801 389l0 0 7-14 0 0zM1801 389l0 0 8-14-1 0zM1801 389l0 0 8-14 0 0zM1801 389l0 0 8-14 0 0z" fill="#461569"/>
<path d="M1801 389l0 0 8-14 0 0z" fill="#451569"/>
<path d="M1801 389l0 0 8-14 0 0zM1801 389l0 0 8-14 0 0zM1801 389l0 0 8-14 0 0zM1801 389l0 0 9-14-1 0z" fill="#451568"/>
<path d="M1801 389l0 0 9-14 0 0zM1801 389l0 0 9-14 0 0zM1801 389l0 0 9-14 0 0z" fill="#441568"/>
<path d="M1801 389l0 0 9-14 0 0zM1801 389l0 0 9-14 0 0z" fill="#441567"/>
<path d="M1801 389l0 0 10-14-1 0zM1801 389l0 0 10-14 0 0zM1801 389l0 0 10-14 0 0zM1801 389l0 0 10-14 0 0zM1801 389l0 0 10-14 0 0z" fill="#431567"/>
<path d="M1801 389l0 0 10-14 0 0zM1801 389l0 0 10-14 0 0z" fill="#421567"/>
<path d="M1801 389l0 0 11-14-1 0zM1801 389l0 0 11-14 0 0zM1801 389l0 0 11-14 0 0z" fill="#421566"/>
<path d="M1801 389l0 0 11-14 0 0zM1801 389l0 0 11-14 0 0zM1801 389l0 0 11-14 0 0zM1801 389l0 0 11-14 0 0zM1801 389l0 0 12-14-1 0zM1801 389l0 0 12-14 0 0z" fill="#411566"/>
<path d="M1801 389l0 0 12-14 0 0zM1801 389l0 0 12-14 0 0zM1801 389l0 0 12-14 0 0z" fill="#401566"/></g>
<path class="m" d="M507.8 83l1.6-1.1 1.5-1.9 1.6-.7 1.6-1.3 1.5-1.8 1.4-2.7 1.5-1 1.6-.9 1.5-1.9 1.3-3.1 1.3-4.1 1.4-2.8 1.5-1.4 1.4-1.3 1.5-1.4 1.5-1.3 1.4-1.1M549.9 53.6l1.2-2.4 .7-2M555.2 49l.7-.5M560.6 49.2l.7-.6M566.5 47.5l1.2-2.5 1.2-2.4 .6-2.9M584.2 38.4l1.1-1.6 1.2-2.1 1.1-.9 1.2-.7M513.1 85.1l1.6-1.2 1.4-2.6 1.7-.4 1.5-1.5 1.5-2.2 1.4-3.2 1.5-1 1.6-.7 1.4-2.1 1.4-3.6 1.2-4.7 1.4-3 1.5-1.3 1.5-1.2 1.5-1.3 1.5-1.2 1.4-.9M555.7 53.1l1.3-2.3M560.5 50.8l.6-.5M571.7 49.6l1.2-2.5 1.2-2.4 .6-2.8M587.6 42.7l.6 0M589.3 41.1l1.2-1.4 1.1-1.6 1.2-.7 1.1-.5M518.5 87.2l1.5-1.3 1.5-3.1 .8-.4M523.9 82.1l1.5-2.2 1.4-3.3 1.4-2.8 .8 .1M530.6 73.4l1.5-2.4 1.3-3.9 1.3-5.2 1.3-3.1 1.6-1.2 1.5-1.2 1.4-1.1 1.5-1.1 1.5-.9M561.1 55l1.3-2.3M565.9 52.8l.6-.5M577 51.9l1.2-2.4 1.3-2.3 .6-2.6M591.1 46.2l.6-.8M592.8 45.5l1.2 .2 1.2-1.4 1.1-2.4 1.2-.2 1.1 .4 .6-.5M524 89.5l1.5-1.4 1.4-3.5 .8-.4M529.4 84l1.5-2.4 1.4-3.6 1.4-3 .8 .1M536.1 74.7l1.5-2.4 1.3-4.2 1.2-5.7 1.4-3.3 1.6-1.1 1.5-1 1.5-1.1 1.5-1 1.5-.7M566.6 57.2l1.3-2.3M571.3 55.2l.7-.5M582.4 54.4l1.3-2.2 1.2-1.9 .6-2.4M587.4 47.9l1.2 .1M593.5 48.9l.6 .3M595.2 48.7l1.2 .7 .6-.6M598.2 48.8l1.1 0 1.2-.9 1.1-1.1 1.2 0 1.1 .1 .5-.1M529.6 91.9l1.6-1.5 1.4-3.9 .8-.3M535 86.1l1.5-2.6 1.4-3.9 1.4-3.2 .8 .3M541.7 76.4l1.5-2.6 1.3-4.4 1.3-6 1.4-3.4 1.5-1 1.5-1 1.6-1 1.4-1 1.5-.6M572.2 59.7l1.4-2.1M576.9 57.9l.7-.5M582.2 58.6l.7-.5M587.3 58.2l1.3-.7 1.2-2.7 1.3-2.7 .6 .9M592.9 52.2l1.2 .2 .6 .3M595.9 52.3l.6 .8M598.9 52.9l.6 .2M600.7 52.8l1.1 .1 1.2-.3 1.1-.3 1.2-.5 1.1-1.1 1.2-1.2 1.1-1.4 1.2-1.3M535.3 94.4l1.6-1.5 1.4-4.2 .8-.3M540.8 88.4l1.4-2.7 1.4-4.1 1.5-3.4 .8 .4M547.5 78.3l1.5-2.6 1.3-4.7 1.3-6.2 1.4-3.4 1.6-1 1.5-1 1.5-.9 1.5-.9 1.5-.6M578 62.7l1.3-1.9M582.6 61.2l.7-.4M584.6 60.7l.7 1M587.9 61.8l.6-.4M589.8 61.3l1.3 .7 .6-1.1M592.9 61.4l1.3-.6 1.2-2 1.3-1.7 1.2 .5 1.2 .1 1.2-.1 1.2-.2 1.2 .2 1.1-.1 1.2-.4 1.2-1.1 1.2-1.2 1.1-1.5 1.2-1.4 1.2-1.4 1.1-1.8 1.2-1M614.4 45.4l1.1-1M541.2 97.1l1.6-1.6 1.4-4.5 .8-.3M546.7 90.8l1.4-2.8 1.4-4.3 1.5-3.4 .8 .4M553.4 80.5l1.5-2.7 1.3-4.8 1.4-6.5 1.4-3.4 1.5-1 1.5-.9 1.6-.9 1.4-.8 1.5-.5M583.8 66.3l1.3-1.6M587.1 64.3l1.4 .9 .6-.3M590.4 64.8l.7 .8M593.6 65.7l.7-.4M595.5 65.2l1.3 .4 1.2-.4 1.3-.7 1.2-.8 1.2-.5 1.2-.2 1.2 0 1.2-.9 1.2-1.2 1.2-1.4 1.2-1.6 1.2-1.2 1.2-1.9 1.2-1.3 1.2-1.7 1.2-1.9 .6-.3M616.6 47.6l1.2-1.9M619.6 43.2l1.1-1.7M547.2 99.9l1.6-1.7 1.4-4.6 .8-.3M552.7 93.4l1.5-2.9 1.4-4.4 1.5-3.5 .8 .4M559.4 82.9l1.5-2.8 1.4-4.9 1.4-6.6 1.4-3.5 1.5-.9 1.6-.8 1.5-.9 1.5-.8 1.5-.3M589.1 72.1l1.3-1.5 1.3-.5M593 69.3l1.3 .7 .7-.2M596.3 69.7l1.3 .5 1.2 0 1.3-.4 1.2-.2 1.3-.2 1.2-.4 1.2-1 1.3-1.4 1.2-1.3 1.2-1.7 1.3-1.2 1.2-2 1.2-1.3M613.6 57.3l1.2-2 .6-.3M616.6 52.9l1.2-1.9 .6-.1M619.6 48.4l1.2-1.7M622.6 43.8l.6-1.3M625.6 39.2l.6-1.1M553.4 102.8l1.6-1.7 1.4-4.8 .8-.3M558.8 96.2l1.5-3 1.5-4.5 1.5-3.6M565.6 85.4l1.5-2.7 1.4-5 1.4-6.6 1.5-3.5 1.5-.8 1.5-.7 1.5-.7 1.5-.7 1.5-.1M593.7 78l1.4-1.2 1.3-.9 1.3-.3 1.3-.4 1.3 .2 1.3 0 1.2-.2 1.3-.5 1.3-1.3 1.3-1.4 1.2-1.6 1.3-1.5 1.2-1.7 1.3-1.8 1.2-1.3 1.3-2.4 1.2-1M616.6 58.5l1.3-1.9 .6-.1M619.7 53.8l1.2-1.6M622.8 49.1l.6-1.3M625.8 44.3l.6-1M628.8 39.6l.6-.6M559.7 105.8l1.6-1.8 1.4-4.9 .8-.3M565.1 99.1l1.5-3.1 1.5-4.5 1.5-3.7 .8 .5M572 88.3l1.5-2.8 1.4-4.9 1.4-6.4 1.5-3.3 1.5-.6 1.5-.5 1.5-.4 1.5-.4 1.5 .3M595.8 84.2l1.4-.2 1.3-.5 1.4-.9 1.3-.6 1.3-.3 1.3-.5 1.3-1.4 1.3-1.5 1.3-1.6 1.3-1.7 1.3-1.7 1.2-1.8 1.3-1.5 1.3-2.3 1.3-1.3 1.2-2 1.3-1.5 1.2-1.1 1.3-3.1 1.2-.8M622.9 54.7l1.2-1.1M626 49.8l.6-1M628.4 47.2l1.3-2.8M631.5 42.5l1.2-2.2M634.5 37.9l1.2-1.5M637.5 33.4l.6-1.6M566.1 108.9l1.6-1.8 1.5-5 .8-.2M571.6 102.1l1.5-3 1.5-4.5 1.5-3.6 .8 .5M578.4 91.6l1.5-2.6 1.5-4.6 1.5-5.9 1.5-2.6 1.5-.2 1.5 .1 1.5 .2 1.4 .4 1.5 1M598.7 89.9l1.4-.4 1.3-.5 1.4-.5 1.3-1.2 1.3-1.5 1.4-1.7 1.3-1.7 1.3-1.7 1.4-1.9 1.3-1.8 1.3-1.9 1.3-1.9 1.3-1.6 1.3-1.6 1.2-.4 1.3-2 1.3-2.5 1.3-2.9 1.3-2.1 1.1 1 1.4-3.5 1.2-1.3 1.3-3.2 1.3-3 .6 .7M631.9 47.9l1.2-2.1M635 43.1l1.2-1.3M638 38.6l.7-1.5M641 34.2l.6-.9M644 30.2l.6-.4M572.7 112.1l1.6-1.8 1.5-4.9 .8-.2M578.2 105.5l1.5-2.9 1.5-4.3 1.5-3.2 .8 .6M585.1 95.9l1.5-2.2 1.5-3.6 1.5-4.4 1.5-1.4 1.4 .8 1.5 .9 1.4 1.2 1.5 1.4 1.4 1.8M602.4 95.7l1.4-1.2 1.3-1.6 1.4-1.7 1.4-1.8 1.3-1.9 1.4-1.9 1.3-1.9 1.4-2 1.3-2 1.4-1.7 1.3-1 1.2-.2 1.3-1.1 1.4-3.2 1.4-4.5 1.2-.5 .6 1.9M625.5 70.7l1.4-2.8 1.3-3.1 1.5-7.3 1.2-1.1 1.3-1.2 1.2-1.4 1.2-1 1.5-5.4 .5 .3M637.8 46.9l1.4-4.3 .5 1.1M641.7 39.5l.6-.8M644 38.3l1.3-3.1M647.7 31.5l.5 .5M650 30.4l.7-2.4M579.5 115.6l1.5-1.7 1.6-4.6 .8-.2M584.9 109.4l1.6-2.5 1.5-3.5 1.5-2.4 1.5 1.1 1.5-.7 1.5-1.3 1.5-2 1.5-.8 1.5 1.5 1.4 1.7 1.4 1.8 1.4 .5 1.4-1.6 1.4-1.7 1.4-1.8 1.4-1.9 1.4-1.9 1.4-2 1.4-2.1 1.4-2 1.4-2.1 1.3-1.3 1.3-.3 1.3-.1 .7-.5M622 76.8l1.4-3.2M630 65l1.4-2.8 .5 1.6M634.8 64.9l1.6-6.8 1.3-3.3 1.5-5 1.1 1.1M641.5 49.7l1.4-4.4 .5 1.1M644.7 43.8l1.3-3M647.8 39.5l1.3-2M650.9 35.5l1.1-.9M653.8 31.8l1.1 .2M656.8 28.4l.6-.9M586.4 119.4l1.5-1.5 1.6-3.6 1.5 .3 1.6-1.2 1.5-1.6 1.5-1.9 1.5 .4 1.5 .5 1.5 .1 1.4 .6 1.5-1.4 1.5-1.8 1.4-1.8 1.5-2 1.4-1.9 1.4-2.1 1.5-2.1 1.4-2.1 1.4-2.1 1.4-2 1.4-.7 1.3-.1 1.4-.6 1.4-3.9 1.5-5.8 .7-.4M631.1 68.4l.7 0M635.7 76l1.7-9.7 1.7-8.6 1.2 0M642.5 60.3l.7-1.6M645.3 51.9l1.5-5.2M648.6 46.1l1.3-1.8M651.8 41.1l1.2-.8M654.9 37.2l.6-1.5M657.9 33.6l.6-.7M660.8 30.3l.6 .1M662.9 30.4l1.3-2.1M593.4 124l1.6-1.1 1.5-2 1.6 0 1.5-.5 1.5-.3 1.5-1.5 1.5-1.9 1.5-1.9 1.5-2 1.5-2.1 1.4-2.1 1.5-2.2 1.5-2.2 1.4-2.2 1.5-2 1.4-.7 1.4-.2M622.3 91.1l1.5-2.9 .6 2.3M630.7 79.7l1.5-4.4M638.8 68.5l1.6-5.5M646.9 55.8l1.3-2M649.2 56.9l.5 .2M652.3 52.7l1.5-4.3M655.9 42.8l.6-.9M659 39.2l.6-.6M662 35.8l.6 .3M665 32.8l.4 1M508.6 77.2l1.3 .3 1.4 .4 1.4 .3 1.4 .4 1.4 .4 1.4 .4 1.4 .4 1.4 .4 1.4 .4 1.5 .5 1.4 .5 1.5 .4 1.4 .5 1.5 .5 1.5 .6 1.5 .5 1.5 .6 1.5 .5 1.6 .6 1.5 .6 1.5 .6 1.6 .6 1.6 .7 1.5 .6 1.6 .7 1.6 .6 1.6 .7 1.7 .7 1.6 .7 1.6 .7 1.7 .7 1.6 .8 1.7 .7 1.7 .8 1.6 .7 1.7 .8 1.8 .8 1.7 .8 1.7 .8 1.7 .8 1.8 .9 1.7 .8 1.8 .9 1.8 1 1.8 .9 1.8 1 1.8 1.1 1.8 1.1 1.9 1.2 1.8 1.3 1.9 1.5 1.8 1.5 1.9 1.6 1.9 1.8 1.9 1.8 1.9 1.9 1.9 1.5 1.9 .1 2-.3 .9-.1M514.2 71.9l1.3 0 1.4 .1 1.4 .2 1.3 .1 1.4 .2M522.4 72.6l.7 .1M592.2 103.4l1.8 2.2 1.8 2.4 1.9 2.5 1.8 2.7 1.9 2.7 1.9 .2 1.9-.3 1.9-.3 1.9-.6 2-.6 1-.4M519.4 63.1l1.4-.4 1.3-.3 1.3-.3 1.4-.3 1.3-.2 1.4-.2 1.4-.1 1.4-.1 1.4-.1 1.5 0 1.4 0 1.5 .1 1.5 .1 1.4 .1 1.5 .2 1.5 .2 1.6 .3 1.5 .3 1.5 .3 1.6 .3 1.5 .4 1.6 .4 1.6 .4 1.6 .5 1.6 .4 1.6 .5 1.7 .6 1.6 .5 1.6 .6 1.7 .6 1.7 .6 1.7 .7 1.7 .6 1.7 .8 1.7 .8 1.7 .8 1.7 .9 1.8 1 1.7 1.1 1.8 1.3 1.8 1.4 1.8 1.7 1.8 1.9 1.8 2.1 1.8 2.6 1.8 2.9 1.8 3.2 1.8 3.7 1.8 4 1.8 4.2 1.8 4.4 1.8 1.2 1.9-.2 1.9-.3 1.9-.6 1.9-.6 1.9-.7 2-.8 2 0 .9 .9M524.8 56.9l1.3-.4 1.4-.3 1.3-.2 1.4-.3 1.4-.1 1.4-.2 1.4-.1 1.4 0 1.4 0 1.5 0 1.4 .1 1.5 .1 1.5 .2 1.5 .2 1.5 .2 1.5 .2 1.5 .3 1.5 .3 1.6 .4 1.6 .4 1.5 .4 1.6 .4 1.6 .4 1.6 .5 1.6 .5 1.6 .5 1.6 .6 1.7 .6 1.6 .6 1.7 .6 1.7 .7 1.7 .7 1.6 .8 1.7 .9 1.8 1 1.7 1.1 1.7 1.2 1.8 1.4 1.7 1.6 1.8 1.8 1.7 2.2 1.8 2.5 1.8 2.8 1.8 3.3 1.7 3.7 1.8 4.1 1.7 4.3 1.8 4.5 1.8 2.4 1.8-.1 1.8-.4 1.9-.5 1.9-.6 1.9-.7 1.9-.8 1.9-.4 1.9 1.5M622 99.8l1.1-3.1M602 97.2l1.7 .9 1.8-.2 1.8-.5 1.9-.5 1.8-.7 1.9-.7 1.9-.8 1.8-.1 1.9 1.8 .9 .9M622.5 92.1l1.9 1.4M626.7 107l1 0M598.5 89.2l1.7 1.3 1.7 1.3 1.7 .8 1.7-.2 1.8-.4 1.8-.5 1.8-.7 1.8-.7 1.9-.8 1.8-.5 1.8 1.5 .9 .9M621.8 88.2l2-2.4M630.6 86.5l2.1-3.8 .6 8.3M594.3 80.7l1.6 1.2 1.7 1.2 1.7 1.3 1.6 1.2 1.7 1.3 1.7 .4 1.7-.3 1.8-.4 1.7-.6 1.8-.7 1.8-.8 1.8-.8 1.8 0 1.8 1.6 .9 .9M631 77.4l1-2.3M636.9 93.2l1.5-9.8M546.3 49.2l1.4 .3 1.4 .4 1.4 .4 1.4 .4 1.4 .4 1.4 .4 1.4 .5 1.4 .4 1.5 .5 1.4 .6 1.5 .5 1.5 .6 1.4 .5 1.5 .6 1.5 .7 1.5 .6 1.5 .7 1.5 .7 1.6 .8 1.5 .8 1.5 .8 1.6 .9 1.5 .9 1.6 1 1.6 1 1.5 1.1 1.6 1.1 1.6 1.2 1.6 1.3 1.6 1.3 1.6 1.4 1.7 1.4 1.6 1.5 1.6 1.6 1.6 1.6 1.7 1.6 1.6 1.6 1.7 .9 1.6-.2 1.7-.4 1.8-.5 1.7-.7 1.8-.8 1.7-.8 1.8-.5 1.7 1.3 .9 .8M621.7 77.5l1.9-2.4 .7 4.6M630.1 75.4l2-3.3M638.8 72.4l1.4-6.6M641.7 89.3l.7 4.3M600.8 74.8l1.6 1.4 1.6 1.1 1.7-.1 1.6-.4 1.7-.5 1.7-.7 1.7-.6 1.8-1 1.7-.5 1.7 .3 1.7 1.2 1.9-1.7 1.9-3.9 .8 2M629.3 72.7l2.1-7.4M637.7 70.5l2.5-9.3M646.5 68.3l2.6-8.8M594.4 65.7l1.6 1.1 1.6 1.1 1.5 1.1 1.6 1.2 1.6 1.2 1.6 1.2 1.6-.1 1.6-.2 1.7-.6 1.6-.5 1.7-.7 1.7-.9 1.7-.5 1.7-.7 1.7 1 1.8-1.2 1.8-2.8 1.7 1.9 1.6 4.1 1.8-.3M629.7 63.2l1.9-.9 1.5 6 1.6 3.3 2.2-6.4M639.2 57l.9 .5M646.9 56.5l1.1-2.7M561.9 45.6l1.4 .5 1.3 .5 1.4 .5 1.4 .5 1.4 .6 1.4 .5 1.4 .6 1.5 .6 1.4 .6 1.4 .6 1.5 .7 1.4 .6 1.5 .7 1.5 .7 1.4 .8 1.5 .8 1.5 .8 1.5 .8 1.5 .9 1.5 .9 1.5 .9 1.5 1 1.6 1 1.5 1.1 1.5 1 1.6 1.1 1.5 1.2 1.6 1.1 1.5 .9 1.6-.2 1.6-.3 1.6-.4 1.7-.9 1.6-.2 1.7-1.4 1.7-.1 1.7-1.1 1.7 .2 1.7-1.3 1.8-2.1 .8 0M626.3 62.1l.8 .2M629 59.2l1.9-2.4M632.6 58.2l.8 1.6M635.2 60.1l2-3.8 2.1-4.5 .8 1.6M645.8 52.6l2-1.4M653.4 53.5l2.2-3.4 1.9 .8 .5 6.3M571.3 39.9l.7 .3M583.5 45.9l1.4 .9 1.5 1 1.5 1 1.4 1.1 1.5 1.2 1.5 1.2 1.5 1.2 1.5 1.3 1.5 1.4 1.5 1.4 1.5 1.5 1.5 1.5 1.6 1.6 1.5 1.5 1.6-.1 1.5-.2 1.6-.6 1.6-.5 1.6-.5 1.7-1.2 1.6-.1 1.7-1.7 1.6 .4 1.7-2 1.7-.3 1.8-1.1M625.8 55.2l1.7 .1 1.9-3.3 .8-.1M632 51.9l.9-1.3M634.6 52.7l1.9-3.4M638.3 48.8l1.1-2.2M642 47.8l1-.7M644.8 48.1l1.1-3.7M648.6 45.7l1-.8M651.3 48.1l2.1-3.2M655.4 44l1.1-1.8M659.3 44.3l.9 .5M662.1 45.5l1.3-3.9M599 54.8l1.5 1.3 1.5 1.2 1.5 1.2 1.5 1 1.6-.1 1.5-.4 1.6-.4 1.5-.9 1.6-.1 1.7-1.5 .7 .1M616.9 54.9l1.6 0M620.2 52.7l.8 .3M622.7 51.7l1.7 .1 1.7-2.6 .9 .3M628.7 48.6l1.7-.1M632.2 45.8l.9 .1M635.8 43.6l.8 1.8M638.5 43l.9-.4M642.2 40.8l.8 1.8M648.7 38.9l.8 1.5M655.3 37.9l.9 .9M666 36.9l1.5 5.6M594.6 48.7l1.5 .9 1.4 .9 1.5 1 1.5 1 1.4 .9 1.5 1 1.5 1 1.5-.1 1.5-.2 1.5-.6 1.6-.5 1.5-.6 1.6-1.1 1.6-.1 1.6-1.8 .8 .2M619.7 49.2l.9-.6M622.2 48.6l1.7-1.4M629 43.3l.8 .3M631.5 43l.9-1.8M635 40.2l.9-.1M637.6 40.5l1-2.5M641.2 37.8l.9-.7M647.5 36.3l1-1.5M654 35.6l1-2.3M657.8 33.6l.9 .5M664.4 33.9l1-.4M579.4 36l1.4 .6 1.3 .6 1.4 .6 1.4 .7 1.4 .7 1.3 .7 1.4 .8 1.4 .8 1.4 .8 1.5 .9 1.4 .9 1.4 .9 1.4 1 1.5 1 1.4 1 1.4 1.1 1.5 1.1 1.4 1 1.5 .3 1.5-.2 1.5-.7 1.5-.3 1.6-.9M614.6 48l1.5 .1 1.6-1.7 .8 .5M620.1 44.7l.8 .3M622.5 43.7l.9-.9M625.8 41.1l.8 .3M628.3 40.5l.9-1.4M631.7 37.8l.8 .1M634.2 37.7l1-2.1M637.7 35l.9-.4M643.9 33l.9-1.1M660.3 29.6l.9 .1M666.8 30.3l1-.9"/>
<path d="M502.7 81.1L600.6 129.3M600.6 129.3L675.9 72.9M502.7 81.1L498.0 36.3M675.9 72.9L680.3 29.2" class="bx"/><path d="M502.7 81.1L499.8 82.5M506.8 83.1L505.1 84.0M511.1 85.2L509.4 86.1M515.3 87.3L513.6 88.2M519.7 89.4L518.0 90.4M524.1 91.6L521.2 93.2M528.6 93.8L526.9 94.8M533.2 96.1L531.5 97.1M537.9 98.4L536.2 99.4M542.6 100.7L540.9 101.7M547.4 103.1L544.5 104.8M552.3 105.5L550.6 106.5M557.3 107.9L555.6 109.0M562.4 110.4L560.7 111.5M567.5 113.0L565.9 114.1M572.8 115.6L569.9 117.5M578.1 118.2L576.5 119.3M583.6 120.9L582.0 122.1M589.2 123.6L587.5 124.8M594.8 126.4L593.2 127.6M600.6 129.3L597.8 131.4M600.6 129.3L604.1 131.0M605.2 125.8L607.2 126.8M609.6 122.5L611.7 123.5M614.0 119.2L616.0 120.2M618.3 116.0L620.3 116.9M622.5 112.9L625.9 114.4M626.6 109.8L628.6 110.7M630.6 106.8L632.6 107.7M634.5 103.9L636.5 104.7M638.4 101.0L640.3 101.8M642.1 98.2L645.5 99.6M645.8 95.4L647.8 96.2M649.4 92.7L651.4 93.5M653.0 90.1L654.9 90.8M656.4 87.5L658.4 88.2M659.9 84.9L663.1 86.2M663.2 82.4L665.1 83.2M666.5 80.0L668.4 80.7M669.7 77.6L671.6 78.3M672.8 75.2L674.7 75.9M675.9 72.9L679.1 74.1M502.5 79.0L501.2 78.4M502.3 77.0L501.0 76.4M502.1 75.0L500.8 74.4M501.8 72.9L500.6 72.3M501.6 70.8L499.6 69.8M501.4 68.8L500.2 68.2M501.2 66.7L499.9 66.1M501.0 64.6L499.7 64.0M500.7 62.5L499.5 61.9M500.5 60.3L498.4 59.4M500.3 58.2L499.0 57.6M500.1 56.1L498.8 55.5M499.9 53.9L498.6 53.4M499.6 51.8L498.4 51.2M499.4 49.6L497.3 48.7M499.2 47.4L497.9 46.8M498.9 45.2L497.7 44.7M498.7 43.0L497.4 42.5M498.5 40.8L497.2 40.2M498.2 38.6L496.1 37.7" class="bx" stroke-width=".5"/><path d="M498.0 36.3L601.2 78.6M601.2 78.6L680.3 29.2M600.6 129.3L601.2 78.6" class="bf"/>
<text x="455.4" y="70.3" class="zl" textLength="34" lengthAdjust="spacingAndGlyphs">|<tspan font-style="italic">w</tspan><tspan font-size="5.2" dy="1.6">1,1</tspan><tspan dy="-1.6">(x, t))|</tspan></text>
<text x="491.4" y="87.3" class="tk">−1.0</text>
<text x="511.6" y="98.2" class="tk">−0.5</text>
<text x="537.0" y="109.9" class="tk">0.0</text>
<text x="562.4" y="121.8" class="tk">0.5</text>
<text x="589.4" y="135.8" class="tk">1.0</text>
<text x="605.3" y="134.8" class="tk">0.0</text>
<text x="625.8" y="118.6" class="tk">0.5</text>
<text x="644.7" y="103.9" class="tk">1.0</text>
<text x="661.9" y="90.2" class="tk">1.5</text>
<text x="677.1" y="78.1" class="tk">2.0</text>
<text x="498.9" y="74.5" class="tk" text-anchor="end">0.5</text>
<text x="497.9" y="62.9" class="tk" text-anchor="end">1.0</text>
<text x="496.6" y="51.1" class="tk" text-anchor="end">1.5</text>
<text x="532.9" y="115.5" class="al">x</text>
<text x="652.6" y="107.8" class="al">t</text></g>
<defs><clipPath id="cf"><rect x="418" y="209.5" width="210" height="120"/></clipPath></defs>
<text x="2.3" y="196.8" class="zl" textLength="38" lengthAdjust="spacingAndGlyphs">|<tspan font-style="italic">w</tspan><tspan font-size="5.2" dy="1.6">1,1</tspan><tspan dy="-1.6">(x, t))|</tspan></text>
<path class="ax" d="M21.7 203.5V331.3M21.7 308.8h3M21.7 292.5h3M21.7 276.2h3M21.7 260.0h3M21.7 243.8h3M21.7 227.5h3M21.7 211.2h3M21.7 321.8h1.6M21.7 318.5h1.6M21.7 315.2h1.6M21.7 312.0h1.6M21.7 305.5h1.6M21.7 302.2h1.6M21.7 299.0h1.6M21.7 295.8h1.6M21.7 289.2h1.6M21.7 286.0h1.6M21.7 282.8h1.6M21.7 279.5h1.6M21.7 273.0h1.6M21.7 269.8h1.6M21.7 266.5h1.6M21.7 263.2h1.6M21.7 256.8h1.6M21.7 253.5h1.6M21.7 250.2h1.6M21.7 247.0h1.6M21.7 240.5h1.6M21.7 237.2h1.6M21.7 234.0h1.6M21.7 230.8h1.6M21.7 224.2h1.6M21.7 221.0h1.6M21.7 217.8h1.6M21.7 214.5h1.6M21.7 208.0h1.6M21.7 204.8h1.6"/>
<path class="ax" d="M18.0 325.1H200.5M60.9 325.1v-3M100.1 325.1v-3M139.3 325.1v-3M178.5 325.1v-3M29.5 325.1v-1.6M37.4 325.1v-1.6M45.2 325.1v-1.6M53.1 325.1v-1.6M68.7 325.1v-1.6M76.6 325.1v-1.6M84.4 325.1v-1.6M92.3 325.1v-1.6M107.9 325.1v-1.6M115.8 325.1v-1.6M123.6 325.1v-1.6M131.5 325.1v-1.6M147.1 325.1v-1.6M155.0 325.1v-1.6M162.8 325.1v-1.6M170.7 325.1v-1.6M186.3 325.1v-1.6M194.2 325.1v-1.6"/>
<text x="19.4" y="313.4" class="tl" text-anchor="end">0.5</text>
<text x="19.4" y="297.1" class="tl" text-anchor="end">1.0</text>
<text x="19.4" y="280.9" class="tl" text-anchor="end">1.5</text>
<text x="19.4" y="264.6" class="tl" text-anchor="end">2.0</text>
<text x="19.4" y="248.3" class="tl" text-anchor="end">2.5</text>
<text x="19.4" y="232.1" class="tl" text-anchor="end">3.0</text>
<text x="19.4" y="215.8" class="tl" text-anchor="end">3.5</text>
<text x="60.1" y="339.9" class="tl" text-anchor="middle">1</text>
<text x="99.3" y="339.9" class="tl" text-anchor="middle">2</text>
<text x="138.5" y="339.9" class="tl" text-anchor="middle">3</text>
<text x="177.7" y="339.9" class="tl" text-anchor="middle">4</text>
<path class="cv" stroke="#5e81b5" d="M21.7 243.6C22.8 244.8 25.7 248.3 28.0 251.0C30.3 253.7 33.0 256.8 35.5 260.0C38.0 263.2 40.5 266.7 42.8 270.0C45.1 273.3 47.0 276.6 49.2 280.0C51.4 283.4 53.7 286.8 56.0 290.3C58.3 293.8 60.7 297.3 63.0 301.0C65.3 304.7 67.9 309.1 70.0 312.5C72.1 315.9 74.1 319.5 75.5 321.5C76.9 323.5 77.8 324.2 78.3 324.7"/>
<path class="cv" stroke="#5e81b5" d="M78.3 324.7C78.9 323.9 80.7 321.4 82.0 320.0C83.3 318.6 84.1 318.0 86.0 316.5C87.9 315.0 90.2 313.0 93.2 311.0C96.2 309.0 100.2 306.1 104.2 304.7C108.2 303.3 112.7 302.9 117.0 302.5C121.3 302.1 124.5 302.3 130.0 302.3C135.5 302.3 145.3 302.1 150.0 302.4C154.7 302.7 155.2 303.1 158.0 304.0C160.8 304.9 164.2 306.5 166.5 307.8C168.8 309.1 170.2 310.3 172.0 312.0C173.8 313.7 175.1 315.9 177.4 318.0C179.7 320.1 184.3 323.7 185.7 324.8"/>
<path class="cv" stroke="#5e81b5" d="M185.7 324.8C186.9 323.0 190.6 317.5 193.0 314.0C195.4 310.5 199.0 305.5 200.2 303.8"/>
<path class="cv" stroke="#e19c24" d="M22.0 324.8C22.5 324.0 23.8 321.7 25.0 320.0C26.2 318.3 27.8 316.2 29.1 314.7C30.4 313.2 31.5 312.1 33.0 311.0C34.5 309.9 36.5 308.7 38.2 307.8C39.9 306.9 41.2 306.4 43.0 305.8C44.8 305.2 46.0 304.8 49.2 304.3C52.4 303.8 57.7 302.9 62.0 302.6C66.3 302.3 69.8 302.3 75.0 302.3C80.2 302.3 88.1 302.0 93.0 302.4C97.9 302.8 101.2 303.8 104.2 304.7C107.2 305.6 108.9 306.6 111.0 308.0C113.1 309.4 114.8 311.1 117.0 313.0C119.2 314.9 121.8 317.5 124.0 319.5C126.2 321.5 129.3 323.9 130.4 324.8"/>
<path class="cv" stroke="#e19c24" d="M130.4 324.8C137.6 314.0 165.4 272.3 173.8 260.0C182.2 247.7 177.9 254.2 180.6 251.0C183.3 247.8 186.7 244.1 190.0 241.0C193.3 237.9 198.6 233.8 200.3 232.4"/>
<path class="cv" stroke="#8fb032" d="M21.7 302.3C23.1 302.3 27.6 302.2 30.0 302.3C32.5 302.4 34.2 302.5 36.4 302.6C38.6 302.7 40.9 302.8 43.0 303.0C45.1 303.2 47.0 303.1 49.2 303.8C51.4 304.6 53.9 306.0 56.0 307.5C58.1 309.0 60.0 311.2 62.0 313.0C64.0 314.8 65.7 316.6 68.0 318.5C70.3 320.4 74.3 323.7 75.6 324.7"/>
<path class="cv" stroke="#8fb032" d="M75.6 324.7C82.8 313.9 110.4 272.3 118.8 260.0C127.2 247.7 123.6 253.6 125.8 250.8C128.0 248.0 129.6 245.6 132.0 243.0C134.4 240.4 136.5 238.1 140.0 235.5C143.5 232.9 147.9 230.0 153.2 227.3C158.4 224.6 166.0 221.1 171.5 219.1C177.0 217.1 181.2 216.5 186.0 215.5C190.8 214.5 197.9 213.7 200.3 213.3"/>
<path class="cv" stroke="#eb6235" d="M21.7 322.5C22.8 320.8 26.2 315.4 28.5 312.0C30.8 308.6 33.2 305.5 35.5 302.0C37.8 298.5 40.1 294.7 42.4 291.0C44.7 287.3 46.9 283.5 49.2 280.0C51.6 276.5 54.1 273.3 56.5 270.0C58.9 266.7 61.7 262.8 63.8 260.0C65.9 257.2 67.1 255.4 69.0 253.0C70.9 250.6 72.6 248.5 75.0 245.7C77.4 242.9 80.7 239.1 83.5 236.4C86.3 233.7 89.2 231.6 91.9 229.6C94.7 227.6 97.2 226.1 100.0 224.5C102.8 222.9 106.1 221.4 108.9 220.3C111.7 219.2 114.2 218.5 117.0 217.8C119.8 217.1 122.0 216.8 125.8 216.1C129.6 215.4 134.6 214.6 140.0 213.9C145.4 213.2 152.2 212.5 158.0 212.0C163.8 211.5 167.9 211.2 175.0 211.0C182.1 210.8 196.1 210.7 200.3 210.6"/>
<path class="cv" stroke="#8778b3" d="M21.7 243.6C22.4 242.7 24.3 239.9 26.0 238.2C27.7 236.4 29.9 234.7 31.7 233.1C33.5 231.5 35.0 230.0 37.0 228.6C39.0 227.2 41.4 226.0 43.4 224.9C45.4 223.8 47.0 222.9 49.0 222.0C51.0 221.1 52.9 220.3 55.1 219.6C57.3 218.9 59.5 218.4 62.0 217.8C64.5 217.2 67.0 216.8 70.0 216.3C73.0 215.8 76.3 215.2 80.0 214.6C83.7 214.0 87.1 213.2 91.9 212.7C96.7 212.1 103.4 211.6 108.9 211.3C114.4 211.0 119.8 210.8 125.0 210.7C130.2 210.5 127.5 210.5 140.0 210.4C152.6 210.3 190.2 210.3 200.3 210.3"/>
<text x="200.8" y="196.8" class="zl" textLength="38" lengthAdjust="spacingAndGlyphs">|<tspan font-style="italic">w</tspan><tspan font-size="5.2" dy="1.6">1,1</tspan><tspan dy="-1.6">(x, t))|</tspan></text>
<path class="ax" d="M220.0 203.3V331.3M220.0 295.5h3M220.0 266.5h3M220.0 237.5h3M220.0 208.5h3M220.0 318.7h1.6M220.0 312.9h1.6M220.0 307.1h1.6M220.0 301.3h1.6M220.0 289.7h1.6M220.0 283.9h1.6M220.0 278.1h1.6M220.0 272.3h1.6M220.0 260.7h1.6M220.0 254.9h1.6M220.0 249.1h1.6M220.0 243.3h1.6M220.0 231.7h1.6M220.0 225.9h1.6M220.0 220.1h1.6M220.0 214.3h1.6"/>
<path class="ax" d="M216.5 325.1H400.5M258.9 325.1v-3M298.4 325.1v-3M337.9 325.1v-3M377.3 325.1v-3M227.4 325.1v-1.6M235.3 325.1v-1.6M243.2 325.1v-1.6M251.1 325.1v-1.6M266.8 325.1v-1.6M274.7 325.1v-1.6M282.6 325.1v-1.6M290.5 325.1v-1.6M306.3 325.1v-1.6M314.2 325.1v-1.6M322.1 325.1v-1.6M330.0 325.1v-1.6M345.7 325.1v-1.6M353.6 325.1v-1.6M361.5 325.1v-1.6M369.4 325.1v-1.6M385.2 325.1v-1.6M393.1 325.1v-1.6"/>
<text x="216.6" y="299.1" class="tl" text-anchor="end">1</text>
<text x="258.4" y="339.9" class="tl" text-anchor="middle">1</text>
<text x="216.6" y="270.1" class="tl" text-anchor="end">2</text>
<text x="297.9" y="339.9" class="tl" text-anchor="middle">2</text>
<text x="216.6" y="241.1" class="tl" text-anchor="end">3</text>
<text x="337.4" y="339.9" class="tl" text-anchor="middle">3</text>
<text x="216.6" y="212.1" class="tl" text-anchor="end">4</text>
<text x="376.8" y="339.9" class="tl" text-anchor="middle">4</text>
<path class="cv" stroke="#5e81b5" d="M220.0 261.8C220.5 262.0 223.1 263.9 223.9 263.8C224.7 263.7 226.1 259.3 226.8 260.9C227.5 262.5 229.1 277.0 229.7 277.5C230.3 278.0 231.2 265.8 231.7 264.8C232.2 263.8 233.0 268.4 233.6 268.7C234.2 269.0 235.9 267.0 236.6 267.7C237.3 268.4 238.9 273.1 239.5 274.5C240.1 275.9 240.9 278.6 241.4 279.4C241.9 280.2 242.9 280.0 243.4 281.4C243.9 282.8 244.8 290.1 245.3 291.1C245.8 292.1 246.7 290.1 247.3 290.2C247.9 290.3 249.6 291.9 250.2 292.1C250.8 292.3 251.7 292.7 252.2 292.1C252.7 291.5 253.6 286.3 254.1 287.2C254.6 288.1 255.6 297.3 256.1 299.9C256.6 302.5 257.5 308.4 258.0 309.7C258.5 311.0 259.5 311.4 260.0 310.7C260.5 310.0 261.5 303.7 262.0 303.8C262.5 303.9 263.4 310.2 263.9 311.6C264.4 313.0 265.4 315.0 265.9 315.5C266.4 316.0 267.3 315.1 267.9 315.5C268.5 315.9 270.2 317.8 270.9 318.5C271.6 319.2 273.1 320.7 273.8 321.4C274.5 322.1 276.0 324.2 276.7 324.3C277.4 324.4 278.8 323.0 279.6 322.4C280.4 321.8 282.7 320.1 283.6 319.5C284.5 318.9 286.7 318.2 287.5 317.5C288.3 316.8 289.7 313.6 290.4 313.6C291.1 313.6 292.6 317.5 293.3 317.5C294.0 317.5 295.5 314.4 296.3 313.6C297.1 312.8 299.4 310.9 300.2 310.7C301.0 310.5 302.5 312.4 303.1 311.6C303.7 310.8 305.0 304.7 305.6 304.2C306.2 303.7 307.3 306.9 308.0 307.7C308.7 308.5 311.1 310.1 311.9 310.7C312.7 311.3 314.2 312.5 314.9 312.6C315.6 312.7 317.1 311.8 317.9 311.6C318.7 311.4 320.9 311.2 321.8 310.7C322.7 310.2 324.9 307.8 325.7 307.7C326.5 307.6 327.9 309.6 328.6 309.7C329.3 309.8 330.8 308.5 331.5 308.7C332.2 308.9 333.8 311.1 334.5 311.6C335.2 312.1 336.8 312.7 337.4 312.6C338.0 312.5 338.8 310.6 339.3 310.7C339.8 310.8 340.7 313.4 341.3 313.6C341.9 313.8 343.5 312.4 344.2 312.6C344.9 312.8 346.5 315.6 347.2 315.5C347.9 315.4 349.5 312.4 350.1 311.6C350.7 310.8 351.5 308.5 352.0 308.7C352.5 308.9 353.6 313.7 354.0 313.6C354.4 313.5 354.6 308.2 355.0 308.0C355.4 307.8 356.8 310.6 357.3 311.6C357.8 312.6 359.0 315.9 359.7 316.3C360.4 316.7 362.4 315.0 363.2 315.1C364.0 315.2 365.9 317.4 366.7 317.5C367.5 317.6 369.5 316.2 370.3 316.3C371.1 316.4 372.8 318.1 373.8 318.6C374.8 319.1 377.4 320.5 378.5 321.0C379.6 321.5 382.4 322.9 383.2 323.3C384.0 323.7 384.8 324.6 385.5 324.5C386.2 324.4 388.2 322.6 389.0 322.2C389.8 321.8 391.8 321.4 392.6 321.0C393.4 320.6 395.3 319.1 396.1 318.6C396.9 318.1 398.8 316.6 399.1 316.3"/>
<path class="cv" stroke="#e19c24" d="M219.0 324.9C219.3 324.5 221.1 322.2 221.9 321.4C222.7 320.6 224.9 318.6 225.8 317.9C226.7 317.2 228.8 316.1 229.7 315.5C230.6 314.9 232.7 313.2 233.6 312.6C234.5 312.0 236.7 311.0 237.5 310.7C238.3 310.4 239.8 309.9 240.5 309.7C241.2 309.5 242.6 308.6 243.4 308.7C244.2 308.8 246.5 310.8 247.3 310.7C248.1 310.6 249.5 308.7 250.2 307.7C250.9 306.7 252.6 302.2 253.2 301.9C253.8 301.6 254.6 303.8 255.1 304.8C255.6 305.8 256.6 309.8 257.1 310.7C257.6 311.6 258.4 313.6 259.0 312.6C259.6 311.6 261.4 302.5 262.0 301.9C262.6 301.3 263.4 306.6 263.9 307.7C264.4 308.8 265.4 311.7 265.9 311.6C266.4 311.5 267.3 307.5 267.9 306.8C268.5 306.1 270.2 305.8 270.9 305.8C271.6 305.8 273.1 306.3 273.8 306.8C274.5 307.3 276.1 308.9 276.7 309.7C277.3 310.5 278.2 313.6 278.7 313.6C279.2 313.6 280.1 310.4 280.6 309.7C281.1 309.0 282.0 307.1 282.6 307.3C283.2 307.5 284.8 311.3 285.5 311.6C286.2 311.9 287.8 310.2 288.4 309.7C289.0 309.2 289.8 307.2 290.4 307.7C291.0 308.2 292.6 313.2 293.3 313.6C294.0 314.0 295.6 311.4 296.3 310.7C297.0 310.0 298.5 307.7 299.2 307.7C299.9 307.7 301.4 310.9 302.1 310.7C302.8 310.5 304.3 305.9 305.0 305.8C305.7 305.7 307.3 308.8 308.0 309.7C308.7 310.6 310.1 312.9 310.9 313.6C311.7 314.3 314.1 315.0 314.9 315.5C315.7 316.0 317.1 317.0 317.9 317.5C318.7 318.0 320.9 319.0 321.8 319.5C322.7 320.0 324.8 320.8 325.7 321.4C326.6 322.0 328.5 324.2 329.2 324.3C329.9 324.4 330.8 323.0 331.5 322.4C332.2 321.8 334.5 320.1 335.4 319.5C336.3 318.9 338.4 318.1 339.3 317.5C340.2 316.9 342.5 315.3 343.3 314.6C344.1 313.9 345.6 311.7 346.2 311.6C346.8 311.5 347.6 314.1 348.1 313.6C348.6 313.1 349.6 309.2 350.1 307.7C350.6 306.2 351.5 300.7 352.0 300.9C352.5 301.1 353.5 309.4 354.0 309.7C354.5 310.0 355.5 305.7 356.0 303.8C356.5 301.9 357.5 293.3 357.9 293.1C358.3 292.9 359.2 301.8 359.7 302.2C360.2 302.6 361.3 296.6 362.0 296.3C362.7 296.0 364.9 300.3 365.6 299.9C366.3 299.5 367.4 293.1 367.9 292.8C368.4 292.5 369.8 297.8 370.3 297.5C370.8 297.2 372.1 290.8 372.6 290.5C373.1 290.2 374.3 295.5 375.0 295.2C375.7 294.9 377.8 288.6 378.5 288.1C379.2 287.6 380.3 290.8 380.8 290.5C381.3 290.2 382.7 286.9 383.2 285.8C383.7 284.7 385.0 281.0 385.5 281.1C386.0 281.2 387.4 286.4 387.9 286.9C388.4 287.4 389.7 285.5 390.2 285.8C390.7 286.1 392.1 289.3 392.6 289.3C393.1 289.3 394.4 286.3 394.9 285.8C395.4 285.3 396.8 284.1 397.3 284.6C397.8 285.1 398.9 289.8 399.1 290.5"/>
<path class="cv" stroke="#8fb032" d="M220.0 305.8C220.3 306.0 222.1 307.0 222.9 307.3C223.7 307.6 225.9 308.9 226.8 308.7C227.7 308.5 230.1 306.4 230.7 305.8C231.3 305.2 231.4 303.5 231.7 303.4C232.0 303.3 232.9 304.8 233.6 304.8C234.3 304.8 236.7 303.7 237.5 303.8C238.3 303.9 239.8 305.3 240.5 305.8C241.2 306.3 242.7 307.4 243.4 307.7C244.1 308.0 245.6 308.7 246.3 308.7C247.0 308.7 248.4 307.6 249.2 307.3C250.0 307.0 252.5 305.8 253.2 306.2C253.9 306.6 254.6 309.8 255.1 310.7C255.6 311.6 256.5 313.6 257.1 313.6C257.7 313.6 259.4 311.4 260.0 310.7C260.6 310.0 261.5 307.1 262.0 307.3C262.5 307.5 263.4 311.4 263.9 312.6C264.4 313.8 265.3 316.9 265.9 317.5C266.5 318.1 268.2 317.0 268.9 317.5C269.6 318.0 271.2 320.6 271.8 321.4C272.4 322.2 273.2 324.2 273.8 324.3C274.4 324.4 275.9 323.0 276.7 322.4C277.5 321.8 279.7 320.3 280.6 319.5C281.5 318.7 283.7 316.6 284.5 315.5C285.3 314.4 286.8 311.1 287.5 309.7C288.2 308.3 289.8 303.2 290.4 303.4C291.0 303.6 291.6 311.8 292.3 311.6C293.0 311.4 295.5 303.7 296.3 301.9C297.1 300.1 298.5 296.7 299.2 296.0C299.9 295.3 301.5 297.4 302.1 296.0C302.7 294.6 303.6 286.7 304.1 284.3C304.6 281.9 305.4 275.5 306.0 275.5C306.6 275.5 308.2 282.8 308.9 284.3C309.6 285.8 311.3 287.4 311.9 288.2C312.5 289.0 313.5 291.3 314.0 291.1C314.5 290.9 315.4 287.0 315.9 286.2C316.4 285.4 317.4 283.7 317.9 284.3C318.4 284.9 319.3 291.1 319.8 291.1C320.3 291.1 321.3 285.5 321.8 284.3C322.3 283.1 323.2 282.0 323.7 280.4C324.2 278.8 325.2 271.6 325.7 270.6C326.2 269.6 327.1 271.8 327.6 271.6C328.1 271.4 329.1 269.3 329.6 268.7C330.1 268.1 331.0 266.5 331.5 266.7C332.0 266.9 333.0 269.0 333.5 270.6C334.0 272.2 334.9 279.9 335.4 280.4C335.9 280.9 336.9 275.0 337.4 274.5C337.9 274.0 338.8 275.4 339.3 276.5C339.8 277.6 340.8 284.5 341.3 284.3C341.8 284.1 342.8 274.2 343.3 274.5C343.8 274.8 344.8 288.0 345.2 287.2C345.6 286.4 346.7 267.8 347.0 268.0C347.3 268.2 347.8 289.9 348.1 289.2C348.5 288.5 349.5 263.0 350.0 262.0C350.5 261.0 351.5 277.0 352.0 280.4C352.5 283.8 353.5 291.3 354.0 291.1C354.5 290.9 355.6 283.2 356.0 278.4C356.4 273.6 357.0 250.0 357.5 250.0C358.0 250.0 359.4 276.2 359.9 278.4C360.4 280.6 361.6 269.9 362.0 269.0C362.4 268.1 362.8 271.0 363.2 271.0C363.6 271.0 365.1 268.1 365.6 269.0C366.1 269.9 367.4 278.9 367.9 279.0C368.4 279.1 369.8 270.2 370.3 270.0C370.8 269.8 372.1 276.9 372.6 277.0C373.1 277.1 374.5 270.8 375.0 271.0C375.5 271.2 376.8 279.1 377.3 279.0C377.8 278.9 379.1 270.1 379.6 270.0C380.1 269.9 381.4 278.5 382.0 278.0C382.6 277.5 384.3 265.9 385.0 266.0C385.7 266.1 387.3 277.6 387.9 279.0C388.5 280.4 389.7 277.8 390.2 278.0C390.7 278.2 391.9 281.1 392.6 281.0C393.3 280.9 395.3 276.5 396.1 277.0C396.9 277.5 398.8 284.1 399.1 285.0"/>
<path class="cv" stroke="#eb6235" d="M219.0 324.3C219.3 323.7 221.2 320.6 221.9 319.5C222.6 318.4 224.1 315.3 224.8 314.6C225.5 313.9 227.2 314.0 227.8 313.6C228.4 313.2 229.2 312.5 229.7 311.6C230.2 310.7 231.1 306.7 231.7 305.8C232.3 304.9 233.9 304.4 234.6 303.8C235.3 303.2 236.9 301.7 237.5 300.9C238.1 300.1 239.0 297.7 239.5 297.0C240.0 296.3 240.9 295.0 241.4 295.0C241.9 295.0 242.9 297.3 243.4 297.0C243.9 296.7 244.8 293.0 245.3 292.1C245.8 291.2 246.8 289.8 247.3 289.2C247.8 288.6 248.7 288.0 249.2 287.2C249.7 286.4 251.1 283.3 251.6 282.3C252.1 281.3 252.9 280.0 253.2 278.4C253.5 276.8 253.9 270.3 254.1 268.7C254.3 267.1 254.8 262.4 255.3 265.0C255.8 267.6 257.1 291.9 258.0 291.1C258.9 290.3 262.0 258.7 262.9 257.9C263.8 257.1 265.4 282.8 265.9 284.3C266.4 285.8 266.6 273.1 267.0 270.6C267.4 268.1 268.4 264.2 268.9 262.8C269.4 261.4 270.4 259.0 270.9 258.5C271.4 258.0 272.5 259.0 272.8 258.9C273.1 258.8 273.5 256.6 273.8 257.5C274.1 258.4 275.1 263.5 275.7 266.7C276.3 269.9 278.0 285.8 278.7 285.3C279.4 284.8 281.0 265.0 281.6 262.8C282.2 260.6 283.1 266.9 283.6 266.7C284.1 266.5 285.0 262.0 285.5 260.9C286.0 259.8 287.0 259.4 287.5 257.0C288.0 254.6 289.5 238.2 290.1 240.7C290.7 243.2 291.7 275.4 292.3 278.4C292.9 281.4 294.8 269.3 295.3 266.7C295.8 264.1 296.0 257.9 296.4 255.9C296.8 253.9 298.3 249.2 298.9 249.2C299.5 249.2 300.9 256.5 301.4 255.9C301.9 255.3 303.1 248.0 303.6 244.0C304.1 240.0 305.3 223.0 305.7 221.2C306.1 219.4 307.0 226.1 307.4 228.8C307.8 231.5 308.6 241.2 309.1 244.0C309.6 246.8 311.0 250.7 311.6 252.5C312.2 254.3 313.7 258.1 314.2 259.3C314.7 260.5 315.5 262.8 315.9 262.8C316.3 262.8 317.3 257.8 317.9 258.9C318.5 260.0 320.2 272.2 320.8 272.6C321.4 273.0 322.2 264.2 322.7 261.9C323.2 259.6 324.3 254.8 324.7 252.5C325.1 250.2 325.9 242.8 326.4 242.4C326.9 242.0 328.3 248.5 329.0 249.2C329.7 249.9 331.4 247.6 332.0 248.0C332.6 248.4 333.5 250.3 334.0 252.5C334.5 254.7 335.9 266.1 336.4 266.7C336.9 267.3 337.9 257.5 338.3 258.0C338.7 258.5 339.2 270.5 339.6 270.6C340.0 270.7 341.2 258.5 341.7 259.0C342.2 259.5 343.7 274.1 344.2 274.5C344.7 274.9 345.5 262.8 345.9 262.0C346.3 261.2 346.9 266.0 347.3 267.5C347.7 269.0 348.7 277.3 349.1 274.5C349.5 271.7 350.6 245.9 351.0 243.5C351.4 241.1 352.3 249.0 352.7 254.0C353.1 259.0 353.7 284.9 354.0 286.2C354.3 287.5 354.6 270.0 355.0 265.0C355.4 260.0 356.8 241.9 357.3 243.0C357.8 244.1 358.7 271.8 359.2 274.5C359.7 277.2 361.1 266.7 361.6 266.0C362.1 265.3 362.7 268.5 363.2 268.5C363.7 268.5 365.1 265.1 365.6 266.0C366.1 266.9 367.4 276.3 367.9 276.5C368.4 276.7 369.8 267.5 370.3 267.3C370.8 267.1 372.1 274.3 372.6 274.4C373.1 274.5 374.5 268.2 375.0 268.5C375.5 268.8 376.8 276.8 377.3 276.7C377.8 276.6 379.1 267.4 379.6 267.3C380.1 267.2 381.4 276.0 382.0 275.5C382.6 275.0 384.3 263.1 385.0 263.2C385.7 263.3 387.3 275.3 387.9 276.7C388.5 278.1 389.7 275.2 390.2 275.5C390.7 275.8 391.9 279.2 392.6 279.1C393.3 279.0 395.3 274.0 396.1 274.4C396.9 274.8 398.8 281.6 399.1 282.6"/>
<path class="cv" stroke="#8778b3" d="M219.7 253.4C219.9 254.0 220.9 258.6 221.4 258.5C221.9 258.4 223.2 253.7 223.9 252.5C224.6 251.3 226.7 247.7 227.3 248.3C227.9 248.9 228.5 258.8 229.0 257.6C229.5 256.4 231.1 239.8 231.6 238.1C232.1 236.4 232.9 243.3 233.3 243.2C233.7 243.1 234.6 238.0 235.0 237.3C235.4 236.6 236.1 237.2 236.6 237.0C237.1 236.8 238.6 235.0 239.2 236.0C239.8 237.0 241.2 244.7 241.7 245.4C242.2 246.1 243.0 240.9 243.4 242.0C243.8 243.1 244.6 255.0 245.1 255.0C245.6 255.0 247.2 244.5 247.7 242.4C248.2 240.3 249.0 236.3 249.4 237.3C249.8 238.3 250.5 253.5 251.0 250.8C251.5 248.1 253.0 214.4 253.6 214.4C254.2 214.4 255.6 244.8 256.1 250.8C256.6 256.8 257.3 267.3 257.8 266.0C258.3 264.7 260.0 245.7 260.5 240.0C261.0 234.3 261.9 215.7 262.4 217.0C262.9 218.3 264.2 245.5 264.6 250.8C265.0 256.1 265.4 264.3 265.8 262.5C266.2 260.7 267.9 238.8 268.4 235.6C268.9 232.4 269.6 235.3 270.1 234.7C270.6 234.1 272.1 231.1 272.6 230.8C273.1 230.5 273.9 231.4 274.3 232.2C274.7 233.0 275.6 234.5 276.0 237.3C276.4 240.1 277.4 252.7 277.7 255.9C278.0 259.1 278.5 265.4 278.9 264.8C279.3 264.2 280.6 253.8 281.1 250.8C281.6 247.8 282.4 239.3 282.8 239.3C283.2 239.3 284.2 248.7 284.5 250.8C284.8 252.9 285.3 258.4 285.7 257.6C286.1 256.8 287.4 247.8 287.9 244.0C288.4 240.2 289.9 225.6 290.4 225.4C290.9 225.2 291.7 237.7 292.1 242.4C292.5 247.1 293.1 264.7 293.5 265.7C293.9 266.7 295.0 253.9 295.5 250.8C296.0 247.7 297.5 240.2 298.0 239.0C298.5 237.8 299.3 239.5 299.7 240.7C300.1 241.9 300.9 250.4 301.4 249.2C301.9 248.0 303.1 235.1 303.6 230.5C304.1 225.9 305.3 211.8 305.7 210.2C306.1 208.6 307.0 213.6 307.4 217.0C307.8 220.4 308.7 234.9 309.1 239.0C309.5 243.1 310.6 249.3 311.0 252.0C311.4 254.7 312.0 261.3 312.3 262.0C312.6 262.7 313.3 258.3 313.7 257.6C314.1 256.9 315.0 256.2 315.4 256.0C315.8 255.8 316.7 255.3 317.1 256.0C317.5 256.7 318.1 260.1 318.5 262.0C318.9 263.9 320.3 272.7 320.8 272.6C321.3 272.5 322.2 263.4 322.7 260.9C323.2 258.4 324.3 253.4 324.7 250.8C325.1 248.2 326.0 239.5 326.4 238.6C326.8 237.7 327.6 242.6 328.1 243.2C328.6 243.8 330.1 243.8 330.6 244.0C331.1 244.2 331.9 244.2 332.3 245.0C332.7 245.8 333.5 248.3 334.0 250.8C334.5 253.3 335.9 266.1 336.4 266.7C336.9 267.3 337.9 255.5 338.3 256.0C338.7 256.5 339.2 270.4 339.6 270.6C340.0 270.8 341.2 257.1 341.7 257.6C342.2 258.1 343.7 274.2 344.2 274.5C344.7 274.8 345.5 261.2 345.9 260.2C346.3 259.2 346.9 264.3 347.3 266.0C347.7 267.7 348.7 277.4 349.1 274.5C349.5 271.6 350.6 244.1 351.0 241.5C351.4 238.9 352.3 247.3 352.7 252.5C353.1 257.7 353.7 284.9 354.0 286.2C354.3 287.5 354.6 268.9 355.0 263.5C355.4 258.1 356.8 238.9 357.3 240.0C357.8 241.1 358.7 270.0 359.2 272.9C359.7 275.8 361.1 265.3 361.6 264.6C362.1 263.9 362.7 267.0 363.2 267.0C363.7 267.0 365.1 263.6 365.6 264.6C366.1 265.6 367.4 275.1 367.9 275.2C368.4 275.3 369.8 266.1 370.3 265.8C370.8 265.5 372.1 272.8 372.6 272.9C373.1 273.0 374.5 266.7 375.0 267.0C375.5 267.3 376.8 275.3 377.3 275.2C377.8 275.1 379.1 265.9 379.6 265.8C380.1 265.7 381.4 274.5 382.0 274.0C382.6 273.5 384.3 261.5 385.0 261.6C385.7 261.7 387.3 273.8 387.9 275.2C388.5 276.6 389.7 273.7 390.2 274.0C390.7 274.3 391.9 277.7 392.6 277.6C393.3 277.5 395.3 272.5 396.1 272.9C396.9 273.3 398.8 280.1 399.1 281.1"/>
<text x="402.3" y="196.8" class="zl" textLength="38" lengthAdjust="spacingAndGlyphs">|<tspan font-style="italic">w</tspan><tspan font-size="5.2" dy="1.6">1,1</tspan><tspan dy="-1.6">(x, t))|</tspan></text>
<path class="ax" d="M421.7 203.7V331.3M421.7 296.2h3M421.7 267.5h3M421.7 238.8h3M421.7 210.0h3M421.7 319.2h1.6M421.7 313.5h1.6M421.7 307.8h1.6M421.7 302.0h1.6M421.7 290.5h1.6M421.7 284.8h1.6M421.7 279.0h1.6M421.7 273.2h1.6M421.7 261.8h1.6M421.7 256.0h1.6M421.7 250.2h1.6M421.7 244.5h1.6M421.7 233.0h1.6M421.7 227.2h1.6M421.7 221.5h1.6M421.7 215.8h1.6"/>
<path class="ax" d="M418.5 325.1H621.0M460.4 325.1v-3M499.3 325.1v-3M538.2 325.1v-3M577.1 325.1v-3M616.0 325.1v-3M429.3 325.1v-1.6M437.1 325.1v-1.6M444.8 325.1v-1.6M452.6 325.1v-1.6M468.2 325.1v-1.6M476.0 325.1v-1.6M483.7 325.1v-1.6M491.5 325.1v-1.6M507.1 325.1v-1.6M514.9 325.1v-1.6M522.6 325.1v-1.6M530.4 325.1v-1.6M546.0 325.1v-1.6M553.8 325.1v-1.6M561.5 325.1v-1.6M569.3 325.1v-1.6M584.9 325.1v-1.6M592.7 325.1v-1.6M600.4 325.1v-1.6M608.2 325.1v-1.6"/>
<text x="419" y="300.9" class="tl" text-anchor="end">0.5</text>
<text x="419" y="272.1" class="tl" text-anchor="end">1.0</text>
<text x="419" y="243.3" class="tl" text-anchor="end">1.5</text>
<text x="419" y="214.6" class="tl" text-anchor="end">2.0</text>
<text x="459.8" y="339.9" class="tl" text-anchor="middle">1</text>
<text x="498.7" y="339.9" class="tl" text-anchor="middle">2</text>
<text x="537.6" y="339.9" class="tl" text-anchor="middle">3</text>
<text x="576.5" y="339.9" class="tl" text-anchor="middle">4</text>
<text x="615.4" y="339.9" class="tl" text-anchor="middle">5</text>
<text x="625.5" y="327.5" class="al">x</text>
<g clip-path="url(#cf)"><path class="cv" stroke="#5e81b5" d="M421.5 322.0C421.8 321.4 423.6 323.7 424.0 316.0C424.4 308.3 425.0 255.6 425.2 245.0C425.4 234.4 425.5 210.5 425.6 210.0C425.7 209.5 426.2 240.0 426.4 240.0C426.6 240.0 427.2 209.6 427.4 210.0C427.6 210.4 428.0 235.0 428.2 244.0C428.4 253.0 429.1 292.9 429.5 300.0C429.9 307.1 431.4 313.8 432.0 315.0C432.6 316.2 435.3 313.5 436.0 312.0C436.7 310.5 438.5 308.0 439.0 300.0C439.5 292.0 440.7 241.0 441.0 232.0C441.3 223.0 441.6 210.4 441.7 210.0C441.8 209.6 442.3 228.0 442.5 228.0C442.7 228.0 443.3 209.6 443.5 210.0C443.7 210.4 444.3 232.0 444.5 232.0C444.7 232.0 445.2 209.2 445.3 210.0C445.4 210.8 445.7 233.5 446.0 240.0C446.3 246.5 447.6 270.9 448.0 275.0C448.4 279.1 449.7 280.7 450.2 281.4C450.7 282.1 452.7 283.4 453.2 282.3C453.7 281.2 455.2 277.2 455.5 270.0C455.8 262.8 456.1 212.0 456.3 210.0C456.5 208.0 457.1 250.0 457.3 250.0C457.5 250.0 457.9 209.8 458.0 210.0C458.1 210.2 458.6 244.0 458.8 252.0C459.0 260.0 459.7 284.7 460.0 290.0C460.3 295.3 461.4 302.5 462.0 305.0C462.6 307.5 465.3 313.6 466.0 315.0C466.7 316.4 468.2 318.1 468.8 318.6C469.4 319.1 471.3 320.7 472.0 320.0C472.7 319.3 475.3 312.2 476.0 312.0C476.7 311.8 478.4 317.0 479.0 318.0C479.6 319.0 481.3 322.0 482.0 322.0C482.7 322.0 485.2 318.2 486.0 318.0C486.8 317.8 489.2 320.2 490.0 320.0C490.8 319.8 493.2 316.1 494.0 316.0C494.8 315.9 497.2 318.5 498.0 319.0C498.8 319.5 501.2 321.0 502.0 321.0C502.8 321.0 505.2 319.0 506.0 319.0C506.8 319.0 509.1 321.4 510.0 321.0C510.9 320.6 514.1 316.1 515.0 315.0C515.9 313.9 518.3 309.7 519.0 310.0C519.7 310.3 521.3 317.8 522.0 318.0C522.7 318.2 525.2 312.1 526.0 312.0C526.8 311.9 529.1 316.2 530.0 317.0C530.9 317.8 534.0 319.9 535.0 320.0C536.0 320.1 539.0 318.4 540.0 318.0C541.0 317.6 543.9 315.6 544.8 316.0C545.7 316.4 547.8 321.3 548.6 322.0C549.4 322.7 551.5 323.7 552.4 323.0C553.3 322.3 556.3 315.1 557.2 315.0C558.1 314.9 560.1 321.2 561.0 322.0C561.9 322.8 564.8 323.1 565.8 323.0C566.8 322.9 569.6 321.0 570.6 321.0C571.6 321.0 574.4 322.7 575.4 323.0C576.4 323.3 579.1 324.0 580.1 324.0C581.1 324.0 583.9 323.2 584.9 323.0C585.9 322.8 588.8 322.3 589.7 322.0C590.6 321.7 592.7 319.9 593.5 320.0C594.3 320.1 596.3 322.8 597.3 323.0C598.2 323.2 602.0 322.4 603.0 322.0C604.0 321.6 606.3 319.6 607.0 319.0C607.7 318.4 609.4 316.2 610.0 316.0C610.6 315.8 612.3 316.7 613.0 317.0C613.7 317.3 616.8 318.8 617.2 319.0"/>
<path class="cv" stroke="#e19c24" d="M421.5 321.4C421.7 321.0 423.4 318.1 423.9 317.5C424.4 316.9 426.2 316.9 426.8 315.5C427.4 314.1 429.2 303.4 429.7 303.8C430.2 304.2 431.2 320.5 431.7 319.5C432.2 318.5 434.0 297.3 434.6 294.0C435.2 290.7 436.9 287.7 437.5 286.2C438.1 284.7 440.0 279.6 440.5 279.4C441.0 279.2 442.1 283.0 442.4 284.3C442.7 285.6 443.0 290.2 443.4 292.1C443.8 294.1 445.7 302.8 446.3 303.8C446.9 304.8 448.5 302.4 449.2 301.9C449.9 301.4 452.4 298.4 453.2 299.0C454.0 299.6 456.4 305.8 457.1 307.7C457.8 309.6 459.4 316.1 460.0 317.5C460.6 318.9 462.1 321.1 462.9 321.4C463.7 321.7 467.1 322.2 468.0 320.4C468.9 318.6 471.3 305.0 472.0 303.0C472.7 301.0 474.4 303.9 475.0 300.0C475.6 296.1 477.1 265.3 477.5 264.3C477.9 263.3 478.6 285.4 479.0 290.0C479.4 294.6 481.3 307.7 482.0 310.0C482.7 312.3 485.2 313.0 486.0 313.0C486.8 313.0 489.3 311.3 490.0 310.0C490.7 308.7 492.4 300.0 493.0 300.0C493.6 300.0 495.3 308.5 496.0 310.0C496.7 311.5 499.1 314.2 500.0 315.0C500.9 315.8 504.0 317.9 505.0 318.0C506.0 318.1 509.0 317.3 510.0 316.0C511.0 314.7 514.2 305.4 515.0 305.0C515.8 304.6 517.3 310.9 518.0 312.0C518.7 313.1 521.2 316.0 522.0 316.0C522.8 316.0 525.2 312.2 526.0 312.0C526.8 311.8 529.1 313.5 530.0 314.0C530.9 314.5 534.0 316.9 535.0 317.0C536.0 317.1 539.4 315.5 540.0 315.0C540.6 314.5 540.7 313.6 541.0 312.4C541.3 311.2 542.6 304.9 542.9 302.7C543.2 300.5 544.1 290.1 544.4 290.4C544.7 290.7 545.4 305.3 545.7 305.9C546.0 306.5 546.8 300.4 547.0 296.2C547.2 292.0 547.8 264.0 548.0 263.7C548.2 263.4 548.9 288.3 549.1 292.9C549.4 297.4 550.2 306.8 550.5 309.2C550.8 311.6 552.0 316.7 552.4 317.0C552.8 317.3 554.0 313.8 554.3 312.4C554.6 311.0 555.5 306.9 555.8 302.7C556.1 298.5 556.9 270.5 557.2 270.5C557.5 270.5 558.3 298.8 558.6 302.7C558.9 306.6 559.8 309.0 560.1 309.2C560.4 309.4 561.2 304.1 561.5 304.6C561.8 305.1 562.6 313.2 562.9 314.4C563.2 315.6 564.4 317.0 564.8 317.0C565.2 317.0 566.4 315.5 566.8 314.4C567.2 313.3 568.3 305.5 568.7 305.6C569.1 305.7 570.2 314.4 570.6 315.7C571.0 317.0 572.1 318.7 572.5 318.9C572.9 319.1 573.9 318.3 574.4 317.6C574.9 316.9 576.8 311.9 577.3 312.0C577.8 312.1 578.8 317.5 579.2 318.3C579.6 319.1 580.7 319.9 581.1 319.6C581.5 319.4 582.7 316.0 583.0 315.8C583.3 315.6 584.1 317.7 584.4 317.6C584.7 317.5 585.6 315.0 585.9 315.2C586.2 315.4 587.4 319.0 587.8 319.6C588.2 320.2 589.2 322.0 589.7 320.9C590.2 319.8 592.4 309.0 592.9 308.9C593.4 308.8 594.5 318.4 594.9 319.6C595.3 320.8 596.8 320.9 597.3 320.9C597.8 320.8 599.6 319.0 600.1 319.1C600.6 319.2 601.7 321.4 602.1 321.6C602.5 321.8 603.6 321.5 604.0 320.9C604.4 320.3 605.9 315.3 606.4 315.2C606.9 315.1 608.4 319.0 608.8 319.6C609.2 320.2 610.2 320.9 610.7 320.9C611.2 320.9 613.3 319.5 613.8 319.5C614.3 319.5 615.2 320.6 615.5 320.9C615.8 321.2 617.0 322.1 617.2 322.2"/>
<path class="cv" stroke="#8fb032" d="M421.5 266.7C421.7 266.9 423.5 266.9 423.9 268.7C424.3 270.5 425.5 281.2 425.8 284.3C426.1 287.4 426.5 300.3 426.8 299.9C427.1 299.5 428.4 288.0 428.7 280.4C429.0 272.8 429.3 220.4 429.5 223.7C429.7 227.0 430.4 304.0 430.7 313.6C431.0 323.2 432.2 321.1 432.6 319.5C433.0 317.9 434.2 302.5 434.6 298.0C435.0 293.5 436.2 277.8 436.6 274.5C437.0 271.2 438.1 265.9 438.5 264.8C438.9 263.7 440.1 262.2 440.5 263.8C440.9 265.4 442.1 277.6 442.4 280.4C442.7 283.2 443.1 292.7 443.4 292.1C443.7 291.5 445.0 273.3 445.3 274.5C445.6 275.7 445.9 300.7 446.3 303.8C446.7 306.9 448.5 305.9 449.2 305.8C449.9 305.7 452.4 302.3 453.2 302.9C454.0 303.5 456.5 311.7 457.1 311.6C457.7 311.5 458.6 301.7 459.0 301.9C459.4 302.1 460.5 313.2 461.0 313.6C461.5 314.0 463.3 305.6 463.9 305.8C464.5 306.0 466.2 314.9 466.8 315.5C467.4 316.1 469.4 313.6 470.0 312.0C470.6 310.4 472.5 300.7 473.0 300.0C473.5 299.3 474.6 307.0 475.0 305.0C475.4 303.0 476.6 284.1 477.0 280.0C477.4 275.9 478.2 262.0 478.5 264.0C478.8 266.0 479.6 295.4 480.0 300.0C480.4 304.6 481.5 310.0 482.0 310.0C482.5 310.0 484.4 300.5 485.0 300.0C485.6 299.5 487.4 306.0 488.0 305.0C488.6 304.0 490.4 291.7 491.0 290.0C491.6 288.3 493.3 287.0 493.8 288.0C494.3 289.0 495.5 297.8 496.0 300.0C496.5 302.2 498.3 308.7 499.0 310.0C499.7 311.3 502.2 312.8 503.0 313.0C503.8 313.2 506.3 312.8 507.0 312.0C507.7 311.2 509.4 306.2 510.0 305.0C510.6 303.8 512.5 304.8 513.0 300.0C513.5 295.2 514.7 257.5 515.1 257.5C515.5 257.5 516.5 295.1 517.0 300.0C517.5 304.9 519.4 306.0 520.0 306.0C520.6 306.0 522.5 302.5 523.0 300.0C523.5 297.5 524.9 280.7 525.3 281.0C525.7 281.3 526.5 301.6 527.0 303.0C527.5 304.4 529.4 294.3 530.0 295.0C530.6 295.7 532.3 308.5 533.0 310.0C533.7 311.5 536.3 309.8 537.0 310.0C537.7 310.2 539.6 311.3 540.0 312.0C540.4 312.7 540.7 316.9 541.0 317.0C541.3 317.1 542.6 314.1 542.9 313.2C543.2 312.3 544.1 308.4 544.4 308.5C544.7 308.6 545.4 314.3 545.7 314.5C546.0 314.7 546.8 312.4 547.0 310.8C547.2 309.2 547.8 298.3 548.0 298.2C548.2 298.1 548.9 307.7 549.1 309.5C549.4 311.3 550.2 314.9 550.5 315.8C550.8 316.7 552.0 318.7 552.4 318.8C552.8 318.9 554.0 317.6 554.3 317.0C554.6 316.4 555.5 314.8 555.8 313.2C556.1 311.6 556.9 300.9 557.2 300.9C557.5 300.9 558.3 311.7 558.6 313.2C558.9 314.7 559.8 315.7 560.1 315.8C560.4 315.9 561.2 313.8 561.5 314.0C561.8 314.2 562.6 317.3 562.9 317.8C563.2 318.3 564.4 318.8 564.8 318.8C565.2 318.8 566.4 318.2 566.8 317.8C567.2 317.4 568.3 314.4 568.7 314.4C569.1 314.4 570.2 317.7 570.6 318.2C571.0 318.7 572.1 319.4 572.5 319.5C572.9 319.6 573.9 319.3 574.4 319.0C574.9 318.7 576.8 316.8 577.3 316.8C577.8 316.8 578.8 318.9 579.2 319.2C579.6 319.5 580.7 319.9 581.1 319.8C581.5 319.7 582.7 318.4 583.0 318.3C583.3 318.2 584.1 319.0 584.4 319.0C584.7 319.0 585.6 318.0 585.9 318.1C586.2 318.2 587.4 319.6 587.8 319.8C588.2 320.0 589.2 320.6 589.7 320.2C590.2 319.8 592.4 315.6 592.9 315.6C593.4 315.6 594.5 319.3 594.9 319.8C595.3 320.3 596.8 320.2 597.3 320.2C597.8 320.2 599.6 319.6 600.1 319.6C600.6 319.6 601.7 320.4 602.1 320.5C602.5 320.6 603.6 320.4 604.0 320.2C604.4 320.0 605.9 318.1 606.4 318.1C606.9 318.1 608.4 319.6 608.8 319.8C609.2 320.0 610.2 320.2 610.7 320.2C611.2 320.2 613.3 319.7 613.8 319.7C614.3 319.7 615.2 320.1 615.5 320.2C615.8 320.3 617.0 320.7 617.2 320.8"/>
<path class="cv" stroke="#eb6235" d="M421.5 312.0C421.7 311.8 423.5 309.5 423.9 309.7C424.3 309.9 425.3 314.4 425.8 313.6C426.3 312.8 428.2 301.5 428.7 301.9C429.2 302.3 430.2 318.3 430.7 317.5C431.2 316.7 433.1 297.9 433.6 294.0C434.1 290.1 435.2 281.5 435.6 278.4C436.0 275.3 437.2 267.2 437.5 262.8C437.8 258.4 438.2 235.3 438.5 234.0C438.8 232.7 439.7 249.4 440.0 250.0C440.3 250.6 441.2 242.2 441.5 240.0C441.8 237.8 442.6 230.0 443.0 228.0C443.4 226.0 444.7 212.6 445.0 220.0C445.3 227.4 446.0 294.3 446.3 301.9C446.6 309.5 447.6 297.2 448.0 296.0C448.4 294.8 449.8 292.8 450.2 290.2C450.6 287.6 451.6 272.7 452.0 270.0C452.4 267.3 453.8 265.8 454.1 262.8C454.5 259.8 455.3 243.8 455.5 240.0C455.7 236.2 456.2 227.3 456.5 225.0C456.8 222.7 458.3 214.5 458.7 217.0C459.1 219.5 459.6 239.9 460.0 250.0C460.4 260.1 462.4 312.5 462.9 317.5C463.4 322.5 464.6 304.8 465.0 300.0C465.4 295.2 466.2 272.0 466.5 270.0C466.8 268.0 467.6 277.4 468.0 280.0C468.4 282.6 469.6 294.0 470.0 296.0C470.4 298.0 471.6 302.1 472.0 300.0C472.4 297.9 473.6 282.5 474.0 275.0C474.4 267.5 475.6 231.5 476.0 225.0C476.4 218.5 477.2 211.5 477.5 210.0C477.8 208.5 478.7 203.0 479.0 210.0C479.3 217.0 480.2 271.0 480.5 280.0C480.8 289.0 481.6 299.5 482.0 300.0C482.4 300.5 483.7 289.6 484.0 285.0C484.3 280.4 485.0 254.0 485.3 254.0C485.6 254.0 486.6 279.9 487.0 285.0C487.4 290.1 488.6 307.5 489.0 305.0C489.4 302.5 490.7 269.0 491.0 260.0C491.3 251.0 491.7 219.5 492.0 215.0C492.3 210.5 493.5 209.5 493.8 215.0C494.1 220.5 494.7 264.0 495.0 270.0C495.3 276.0 496.7 278.0 497.0 275.0C497.3 272.0 497.9 240.5 498.2 240.0C498.5 239.5 499.6 264.0 500.0 270.0C500.4 276.0 501.5 296.4 502.0 300.0C502.5 303.6 504.4 305.6 505.0 306.0C505.6 306.4 507.5 305.6 508.0 304.0C508.5 302.4 509.6 289.9 510.0 290.0C510.4 290.1 511.6 307.0 512.0 305.0C512.4 303.0 513.2 278.0 513.5 270.0C513.8 262.0 514.8 224.0 515.1 225.0C515.4 226.0 516.2 273.0 516.5 280.0C516.8 287.0 517.7 296.8 518.0 295.0C518.3 293.2 518.9 261.5 519.2 262.0C519.5 262.5 520.6 297.4 521.0 300.0C521.4 302.6 522.6 292.0 523.0 288.0C523.4 284.0 524.9 259.5 525.3 260.0C525.7 260.5 526.7 291.1 527.0 293.0C527.3 294.9 528.2 283.7 528.5 279.0C528.8 274.3 529.9 245.5 530.3 246.0C530.6 246.5 531.6 278.3 532.0 284.0C532.4 289.7 533.6 301.9 534.0 303.0C534.4 304.1 535.6 296.5 536.0 295.0C536.4 293.5 537.4 287.2 537.8 288.0C538.1 288.8 539.2 301.2 539.5 303.0C539.8 304.8 540.7 307.4 541.0 306.2C541.3 305.0 542.6 294.6 542.9 291.2C543.2 287.8 544.1 271.7 544.4 272.2C544.7 272.7 545.4 295.3 545.7 296.2C546.0 297.1 546.8 287.7 547.0 281.2C547.2 274.7 547.8 231.7 548.0 231.2C548.2 230.7 548.9 269.2 549.1 276.2C549.4 283.2 550.2 297.5 550.5 301.2C550.8 304.9 552.0 312.7 552.4 313.2C552.8 313.7 554.0 308.4 554.3 306.2C554.6 304.0 555.5 297.6 555.8 291.2C556.1 284.8 556.9 241.7 557.2 241.7C557.5 241.7 558.3 285.2 558.6 291.2C558.9 297.1 559.8 300.9 560.1 301.2C560.4 301.5 561.2 293.3 561.5 294.1C561.8 294.9 562.6 307.3 562.9 309.2C563.2 311.1 564.4 313.2 564.8 313.2C565.2 313.2 566.4 311.0 566.8 309.2C567.2 307.4 568.3 295.4 568.7 295.6C569.1 295.8 570.2 309.1 570.6 311.2C571.0 313.3 572.1 315.9 572.5 316.2C572.9 316.5 573.9 315.3 574.4 314.2C574.9 313.1 576.8 305.4 577.3 305.5C577.8 305.6 578.8 314.0 579.2 315.2C579.6 316.4 580.7 317.6 581.1 317.2C581.5 316.8 582.7 311.7 583.0 311.4C583.3 311.1 584.1 314.3 584.4 314.2C584.7 314.1 585.6 310.2 585.9 310.5C586.2 310.8 587.4 316.3 587.8 317.2C588.2 318.1 589.2 320.8 589.7 319.2C590.2 317.6 592.4 300.9 592.9 300.7C593.4 300.5 594.5 315.3 594.9 317.2C595.3 319.1 596.8 319.3 597.3 319.2C597.8 319.1 599.6 316.4 600.1 316.5C600.6 316.6 601.7 319.9 602.1 320.2C602.5 320.5 603.6 320.2 604.0 319.2C604.4 318.2 605.9 310.7 606.4 310.5C606.9 310.3 608.4 316.3 608.8 317.2C609.2 318.1 610.2 319.2 610.7 319.2C611.2 319.2 613.3 317.0 613.8 317.0C614.3 317.0 615.2 318.8 615.5 319.2C615.8 319.6 617.0 321.0 617.2 321.2"/>
<path class="cv" stroke="#8778b3" d="M421.5 292.0C421.6 289.0 422.7 270.2 423.0 262.0C423.3 253.8 424.2 215.2 424.5 210.0C424.8 204.8 425.6 206.6 425.8 210.0C426.0 213.4 426.4 244.0 426.6 244.0C426.8 244.0 427.2 213.4 427.4 210.0C427.6 206.6 428.7 202.0 429.0 210.0C429.3 218.0 429.8 278.8 430.0 290.0C430.2 301.2 430.8 330.0 431.0 322.0C431.2 314.0 432.1 221.2 432.5 210.0C432.9 198.8 434.2 202.0 434.5 210.0C434.8 218.0 435.2 279.2 435.5 290.0C435.8 300.8 436.6 317.0 437.0 318.0C437.4 319.0 438.6 307.8 439.0 300.0C439.4 292.2 440.3 249.0 440.5 240.0C440.7 231.0 440.9 213.0 441.3 210.0C441.8 207.0 444.5 204.0 445.0 210.0C445.5 216.0 445.8 262.8 446.0 270.0C446.2 277.2 446.7 283.2 447.0 282.0C447.3 280.8 448.6 262.7 449.0 258.0C449.4 253.3 450.6 239.0 451.0 235.0C451.4 231.0 452.6 220.5 453.0 218.0C453.4 215.5 454.2 210.8 454.5 210.0C454.8 209.2 455.3 205.8 455.5 210.0C455.7 214.2 456.1 251.8 456.3 252.0C456.5 252.2 457.3 212.0 457.5 212.0C457.7 212.0 458.4 243.2 458.6 252.0C458.8 260.8 459.3 293.0 459.5 300.0C459.7 307.0 460.6 322.0 461.0 322.0C461.4 322.0 462.6 305.4 463.0 300.0C463.4 294.6 464.6 272.6 465.0 268.0C465.4 263.4 466.6 253.8 467.0 254.0C467.4 254.2 468.2 265.4 468.5 270.0C468.8 274.6 469.6 298.0 470.0 300.0C470.4 302.0 471.6 294.0 472.0 290.0C472.4 286.0 473.6 264.5 474.0 260.0C474.4 255.5 475.2 250.0 475.5 245.0C475.8 240.0 476.6 213.5 476.8 210.0C477.1 206.5 477.8 210.0 478.0 210.0C478.2 210.0 478.9 204.5 479.2 210.0C479.4 215.5 480.2 257.0 480.5 265.0C480.8 273.0 481.6 290.0 482.0 290.0C482.4 290.0 483.7 270.4 484.0 265.0C484.3 259.6 485.0 235.0 485.3 235.5C485.6 236.0 486.6 264.1 487.0 270.0C487.4 275.9 488.6 295.0 489.0 295.0C489.4 295.0 490.3 278.5 490.5 270.0C490.7 261.5 491.1 216.0 491.4 210.0C491.7 204.0 493.4 205.0 493.8 210.0C494.2 215.0 494.7 257.0 495.0 260.0C495.3 263.0 496.2 244.3 496.5 240.0C496.8 235.7 497.8 216.5 498.2 217.0C498.6 217.5 499.6 237.7 500.0 245.0C500.4 252.3 501.5 284.2 502.0 290.0C502.5 295.8 504.4 302.0 505.0 303.0C505.6 304.0 507.5 301.8 508.0 300.0C508.5 298.2 509.6 285.0 510.0 285.0C510.4 285.0 511.6 302.5 512.0 300.0C512.4 297.5 513.2 269.0 513.5 260.0C513.8 251.0 514.8 209.5 515.1 210.0C515.4 210.5 516.3 257.0 516.5 265.0C516.7 273.0 517.2 291.1 517.5 290.0C517.8 288.9 518.9 253.5 519.2 254.0C519.6 254.5 520.6 291.9 521.0 295.0C521.4 298.1 522.6 288.9 523.0 285.0C523.4 281.1 524.9 255.4 525.3 255.9C525.7 256.4 526.7 288.1 527.0 290.0C527.3 291.9 528.2 279.9 528.5 275.0C528.8 270.1 529.9 240.1 530.3 240.6C530.6 241.1 531.6 274.1 532.0 280.0C532.4 285.9 533.6 298.8 534.0 300.0C534.4 301.2 535.6 293.5 536.0 292.0C536.4 290.5 537.4 283.8 537.8 284.6C538.1 285.4 539.2 298.0 539.5 300.0C539.8 302.0 540.7 306.0 541.0 305.0C541.3 304.0 542.6 293.4 542.9 290.0C543.2 286.6 544.1 270.5 544.4 271.0C544.7 271.5 545.4 294.1 545.7 295.0C546.0 295.9 546.8 286.5 547.0 280.0C547.2 273.5 547.8 230.5 548.0 230.0C548.2 229.5 548.9 268.0 549.1 275.0C549.4 282.0 550.2 296.3 550.5 300.0C550.8 303.7 552.0 311.5 552.4 312.0C552.8 312.5 554.0 307.2 554.3 305.0C554.6 302.8 555.5 296.4 555.8 290.0C556.1 283.6 556.9 240.5 557.2 240.5C557.5 240.5 558.3 284.1 558.6 290.0C558.9 295.9 559.8 299.7 560.1 300.0C560.4 300.3 561.2 292.1 561.5 292.9C561.8 293.7 562.6 306.1 562.9 308.0C563.2 309.9 564.4 312.0 564.8 312.0C565.2 312.0 566.4 309.8 566.8 308.0C567.2 306.2 568.3 294.2 568.7 294.4C569.1 294.6 570.2 307.9 570.6 310.0C571.0 312.1 572.1 314.7 572.5 315.0C572.9 315.3 573.9 314.1 574.4 313.0C574.9 311.9 576.8 304.2 577.3 304.3C577.8 304.4 578.8 312.8 579.2 314.0C579.6 315.2 580.7 316.4 581.1 316.0C581.5 315.6 582.7 310.5 583.0 310.2C583.3 309.9 584.1 313.1 584.4 313.0C584.7 312.9 585.6 309.0 585.9 309.3C586.2 309.6 587.4 315.1 587.8 316.0C588.2 316.9 589.2 319.6 589.7 318.0C590.2 316.4 592.4 299.7 592.9 299.5C593.4 299.3 594.5 314.1 594.9 316.0C595.3 317.9 596.8 318.1 597.3 318.0C597.8 317.9 599.6 315.2 600.1 315.3C600.6 315.4 601.7 318.7 602.1 319.0C602.5 319.3 603.6 319.0 604.0 318.0C604.4 317.0 605.9 309.5 606.4 309.3C606.9 309.1 608.4 315.1 608.8 316.0C609.2 316.9 610.2 318.0 610.7 318.0C611.2 318.0 613.3 315.8 613.8 315.8C614.3 315.8 615.2 317.6 615.5 318.0C615.8 318.4 617.0 319.8 617.2 320.0"/></g>
<text x="1.2" y="167.0" class="cap" style="font-size:12.7px" textLength="16.0" lengthAdjust="spacingAndGlyphs">(a)</text>
<text x="25.6" y="167.0" class="cap" style="font-size:12.7px" textLength="16.2" lengthAdjust="spacingAndGlyphs">3D</text>
<text x="50.4" y="167.0" class="cap" style="font-size:12.7px" textLength="21.9" lengthAdjust="spacingAndGlyphs">plot</text>
<text x="80.0" y="167.0" class="cap" style="font-size:12.7px" textLength="16.4" lengthAdjust="spacingAndGlyphs">for</text>
<text x="103.9" y="167.0" class="cap" style="font-style:italic;font-size:12.7px" textLength="9.2" lengthAdjust="spacingAndGlyphs">w</text>
<text x="113.4" y="168.8" class="cap" style="font-size:8.8px" textLength="12.6" lengthAdjust="spacingAndGlyphs">1,0</text>
<text x="126.7" y="167.0" class="cap" style="font-size:12.7px" textLength="3.7" lengthAdjust="spacingAndGlyphs">(</text>
<text x="131.3" y="167.0" class="cap" style="font-style:italic;font-size:12.7px" textLength="7.3" lengthAdjust="spacingAndGlyphs">x</text>
<text x="139.6" y="167.0" class="cap" style="font-size:12.7px" textLength="2.2" lengthAdjust="spacingAndGlyphs">,</text>
<text x="143.6" y="167.0" class="cap" style="font-style:italic;font-size:12.7px" textLength="4.8" lengthAdjust="spacingAndGlyphs">t</text>
<text x="151.9" y="167.0" class="cap" style="font-size:12.7px" textLength="3.7" lengthAdjust="spacingAndGlyphs">)</text>
<text x="165.5" y="167.0" class="cap" style="font-size:12.7px" textLength="29.7" lengthAdjust="spacingAndGlyphs">when</text>
<text x="1.2" y="183.3" class="cap" style="font-style:italic;font-size:12.7px" textLength="7.6" lengthAdjust="spacingAndGlyphs">μ</text>
<text x="13.9" y="183.3" class="cap" style="font-size:12.7px" textLength="9.5" lengthAdjust="spacingAndGlyphs">=</text>
<text x="27.0" y="183.3" class="cap" style="font-size:12.7px" textLength="6.6" lengthAdjust="spacingAndGlyphs">0</text>
<text x="228.3" y="167.0" class="cap" style="font-size:12.7px" textLength="16.8" lengthAdjust="spacingAndGlyphs">(b)</text>
<text x="252.7" y="167.0" class="cap" style="font-size:12.7px" textLength="16.2" lengthAdjust="spacingAndGlyphs">3D</text>
<text x="277.5" y="167.0" class="cap" style="font-size:12.7px" textLength="21.9" lengthAdjust="spacingAndGlyphs">plot</text>
<text x="307.1" y="167.0" class="cap" style="font-size:12.7px" textLength="16.4" lengthAdjust="spacingAndGlyphs">for</text>
<text x="331.0" y="167.0" class="cap" style="font-style:italic;font-size:12.7px" textLength="9.2" lengthAdjust="spacingAndGlyphs">w</text>
<text x="340.5" y="168.8" class="cap" style="font-size:8.8px" textLength="12.6" lengthAdjust="spacingAndGlyphs">1,0</text>
<text x="353.8" y="167.0" class="cap" style="font-size:12.7px" textLength="3.7" lengthAdjust="spacingAndGlyphs">(</text>
<text x="358.4" y="167.0" class="cap" style="font-style:italic;font-size:12.7px" textLength="7.3" lengthAdjust="spacingAndGlyphs">x</text>
<text x="366.7" y="167.0" class="cap" style="font-size:12.7px" textLength="2.2" lengthAdjust="spacingAndGlyphs">,</text>
<text x="370.7" y="167.0" class="cap" style="font-style:italic;font-size:12.7px" textLength="4.8" lengthAdjust="spacingAndGlyphs">t</text>
<text x="379.0" y="167.0" class="cap" style="font-size:12.7px" textLength="3.7" lengthAdjust="spacingAndGlyphs">)</text>
<text x="392.6" y="167.0" class="cap" style="font-size:12.7px" textLength="29.7" lengthAdjust="spacingAndGlyphs">when</text>
<text x="228.3" y="183.3" class="cap" style="font-style:italic;font-size:12.7px" textLength="7.6" lengthAdjust="spacingAndGlyphs">μ</text>
<text x="241.0" y="183.3" class="cap" style="font-size:12.7px" textLength="9.5" lengthAdjust="spacingAndGlyphs">=</text>
<text x="254.1" y="183.3" class="cap" style="font-size:12.7px" textLength="17.4" lengthAdjust="spacingAndGlyphs">0.3</text>
<text x="455.3" y="167.0" class="cap" style="font-size:12.7px" textLength="15.2" lengthAdjust="spacingAndGlyphs">(c)</text>
<text x="479.7" y="167.0" class="cap" style="font-size:12.7px" textLength="16.2" lengthAdjust="spacingAndGlyphs">3D</text>
<text x="504.5" y="167.0" class="cap" style="font-size:12.7px" textLength="21.9" lengthAdjust="spacingAndGlyphs">plot</text>
<text x="534.1" y="167.0" class="cap" style="font-size:12.7px" textLength="16.4" lengthAdjust="spacingAndGlyphs">for</text>
<text x="558.0" y="167.0" class="cap" style="font-style:italic;font-size:12.7px" textLength="9.2" lengthAdjust="spacingAndGlyphs">w</text>
<text x="567.5" y="168.8" class="cap" style="font-size:8.8px" textLength="12.6" lengthAdjust="spacingAndGlyphs">1,0</text>
<text x="580.8" y="167.0" class="cap" style="font-size:12.7px" textLength="3.7" lengthAdjust="spacingAndGlyphs">(</text>
<text x="585.4" y="167.0" class="cap" style="font-style:italic;font-size:12.7px" textLength="7.3" lengthAdjust="spacingAndGlyphs">x</text>
<text x="593.7" y="167.0" class="cap" style="font-size:12.7px" textLength="2.2" lengthAdjust="spacingAndGlyphs">,</text>
<text x="597.7" y="167.0" class="cap" style="font-style:italic;font-size:12.7px" textLength="4.8" lengthAdjust="spacingAndGlyphs">t</text>
<text x="606.0" y="167.0" class="cap" style="font-size:12.7px" textLength="3.7" lengthAdjust="spacingAndGlyphs">)</text>
<text x="619.6" y="167.0" class="cap" style="font-size:12.7px" textLength="29.7" lengthAdjust="spacingAndGlyphs">when</text>
<text x="455.3" y="183.3" class="cap" style="font-style:italic;font-size:12.7px" textLength="7.6" lengthAdjust="spacingAndGlyphs">μ</text>
<text x="468.0" y="183.3" class="cap" style="font-size:12.7px" textLength="9.5" lengthAdjust="spacingAndGlyphs">=</text>
<text x="481.1" y="183.3" class="cap" style="font-size:12.7px" textLength="17.4" lengthAdjust="spacingAndGlyphs">0.4</text>
<text x="1.2" y="363.7" class="cap" style="font-size:12.7px" textLength="17.0" lengthAdjust="spacingAndGlyphs">(d)</text>
<text x="25.6" y="363.7" class="cap" style="font-size:12.7px" textLength="16.2" lengthAdjust="spacingAndGlyphs">2D</text>
<text x="50.4" y="363.7" class="cap" style="font-size:12.7px" textLength="21.9" lengthAdjust="spacingAndGlyphs">plot</text>
<text x="80.0" y="363.7" class="cap" style="font-size:12.7px" textLength="16.4" lengthAdjust="spacingAndGlyphs">for</text>
<text x="103.9" y="363.7" class="cap" style="font-style:italic;font-size:12.7px" textLength="9.2" lengthAdjust="spacingAndGlyphs">w</text>
<text x="113.4" y="365.5" class="cap" style="font-size:8.8px" textLength="12.6" lengthAdjust="spacingAndGlyphs">1,0</text>
<text x="126.7" y="363.7" class="cap" style="font-size:12.7px" textLength="3.7" lengthAdjust="spacingAndGlyphs">(</text>
<text x="131.3" y="363.7" class="cap" style="font-style:italic;font-size:12.7px" textLength="7.3" lengthAdjust="spacingAndGlyphs">x</text>
<text x="139.6" y="363.7" class="cap" style="font-size:12.7px" textLength="2.2" lengthAdjust="spacingAndGlyphs">,</text>
<text x="143.6" y="363.7" class="cap" style="font-style:italic;font-size:12.7px" textLength="4.8" lengthAdjust="spacingAndGlyphs">t</text>
<text x="151.9" y="363.7" class="cap" style="font-size:12.7px" textLength="3.7" lengthAdjust="spacingAndGlyphs">)</text>
<text x="165.5" y="363.7" class="cap" style="font-size:12.7px" textLength="29.7" lengthAdjust="spacingAndGlyphs">when</text>
<text x="1.2" y="379.7" class="cap" style="font-style:italic;font-size:12.7px" textLength="7.6" lengthAdjust="spacingAndGlyphs">μ</text>
<text x="13.9" y="379.7" class="cap" style="font-size:12.7px" textLength="9.5" lengthAdjust="spacingAndGlyphs">=</text>
<text x="27.0" y="379.7" class="cap" style="font-size:12.7px" textLength="6.6" lengthAdjust="spacingAndGlyphs">0</text>
<text x="199.8" y="363.7" class="cap" style="font-size:12.7px" textLength="15.2" lengthAdjust="spacingAndGlyphs">(e)</text>
<text x="224.2" y="363.7" class="cap" style="font-size:12.7px" textLength="16.2" lengthAdjust="spacingAndGlyphs">2D</text>
<text x="249.0" y="363.7" class="cap" style="font-size:12.7px" textLength="21.9" lengthAdjust="spacingAndGlyphs">plot</text>
<text x="278.6" y="363.7" class="cap" style="font-size:12.7px" textLength="16.4" lengthAdjust="spacingAndGlyphs">for</text>
<text x="302.5" y="363.7" class="cap" style="font-style:italic;font-size:12.7px" textLength="9.2" lengthAdjust="spacingAndGlyphs">w</text>
<text x="312.0" y="365.5" class="cap" style="font-size:8.8px" textLength="12.6" lengthAdjust="spacingAndGlyphs">1,1</text>
<text x="325.3" y="363.7" class="cap" style="font-size:12.7px" textLength="3.7" lengthAdjust="spacingAndGlyphs">(</text>
<text x="329.9" y="363.7" class="cap" style="font-style:italic;font-size:12.7px" textLength="7.3" lengthAdjust="spacingAndGlyphs">x</text>
<text x="338.2" y="363.7" class="cap" style="font-size:12.7px" textLength="2.2" lengthAdjust="spacingAndGlyphs">,</text>
<text x="342.2" y="363.7" class="cap" style="font-style:italic;font-size:12.7px" textLength="4.8" lengthAdjust="spacingAndGlyphs">t</text>
<text x="350.5" y="363.7" class="cap" style="font-size:12.7px" textLength="3.7" lengthAdjust="spacingAndGlyphs">)</text>
<text x="364.1" y="363.7" class="cap" style="font-size:12.7px" textLength="29.7" lengthAdjust="spacingAndGlyphs">when</text>
<text x="199.8" y="379.7" class="cap" style="font-style:italic;font-size:12.7px" textLength="7.6" lengthAdjust="spacingAndGlyphs">μ</text>
<text x="212.5" y="379.7" class="cap" style="font-size:12.7px" textLength="9.5" lengthAdjust="spacingAndGlyphs">=</text>
<text x="225.6" y="379.7" class="cap" style="font-size:12.7px" textLength="17.4" lengthAdjust="spacingAndGlyphs">0.3</text>
<text x="399.2" y="363.7" class="cap" style="font-size:12.7px" textLength="13.2" lengthAdjust="spacingAndGlyphs">(f)</text>
<text x="423.6" y="363.7" class="cap" style="font-size:12.7px" textLength="16.2" lengthAdjust="spacingAndGlyphs">2D</text>
<text x="448.4" y="363.7" class="cap" style="font-size:12.7px" textLength="21.9" lengthAdjust="spacingAndGlyphs">plot</text>
<text x="478.0" y="363.7" class="cap" style="font-size:12.7px" textLength="16.4" lengthAdjust="spacingAndGlyphs">for</text>
<text x="501.9" y="363.7" class="cap" style="font-style:italic;font-size:12.7px" textLength="9.2" lengthAdjust="spacingAndGlyphs">w</text>
<text x="511.4" y="365.5" class="cap" style="font-size:8.8px" textLength="12.6" lengthAdjust="spacingAndGlyphs">1,1</text>
<text x="524.7" y="363.7" class="cap" style="font-size:12.7px" textLength="3.7" lengthAdjust="spacingAndGlyphs">(</text>
<text x="529.3" y="363.7" class="cap" style="font-style:italic;font-size:12.7px" textLength="7.3" lengthAdjust="spacingAndGlyphs">x</text>
<text x="537.6" y="363.7" class="cap" style="font-size:12.7px" textLength="2.2" lengthAdjust="spacingAndGlyphs">,</text>
<text x="541.6" y="363.7" class="cap" style="font-style:italic;font-size:12.7px" textLength="4.8" lengthAdjust="spacingAndGlyphs">t</text>
<text x="549.9" y="363.7" class="cap" style="font-size:12.7px" textLength="3.7" lengthAdjust="spacingAndGlyphs">)</text>
<text x="563.5" y="363.7" class="cap" style="font-size:12.7px" textLength="29.7" lengthAdjust="spacingAndGlyphs">when</text>
<text x="399.2" y="379.7" class="cap" style="font-style:italic;font-size:12.7px" textLength="7.6" lengthAdjust="spacingAndGlyphs">μ</text>
<text x="411.9" y="379.7" class="cap" style="font-size:12.7px" textLength="9.5" lengthAdjust="spacingAndGlyphs">=</text>
<text x="425.0" y="379.7" class="cap" style="font-size:12.7px" textLength="17.4" lengthAdjust="spacingAndGlyphs">0.5</text>
</svg></body></html>
